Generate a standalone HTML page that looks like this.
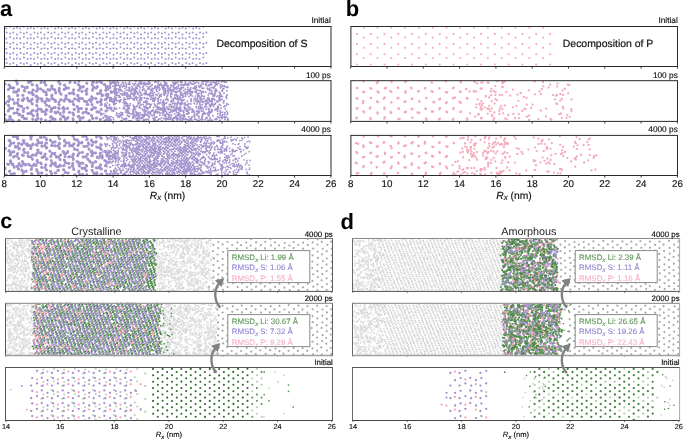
<!DOCTYPE html>
<html><head><meta charset="utf-8"><style>
html,body{margin:0;padding:0;background:#fff;width:685px;height:439px;overflow:hidden}
svg{display:block;will-change:transform}
text{font-family:"Liberation Sans",sans-serif;text-rendering:geometricPrecision}
</style></head><body>
<svg width="685" height="439" viewBox="0 0 685 439">
<rect width="685" height="439" fill="#fff"/>
<defs><filter id="bl" x="0" y="0" width="1" height="1"><feGaussianBlur stdDeviation="0.3"/></filter></defs>
<g filter="url(#bl)"><path stroke="#a394cd" stroke-width="2.0" stroke-linecap="round" fill="none" d="M6.3 28.4h0M10.1 26.8h0M13.8 28.4h0M16.9 27.8h0M20.1 28.4h0M23.9 26.8h0M27.6 28.4h0M30.7 27.8h0M33.9 28.4h0M37.7 26.8h0M41.4 28.4h0M44.5 27.8h0M47.7 28.4h0M51.5 26.8h0M55.2 28.4h0M58.3 27.8h0M61.5 28.4h0M65.3 26.8h0M69.0 28.4h0M72.1 27.8h0M75.3 28.4h0M79.1 26.8h0M82.8 28.4h0M85.9 27.8h0M89.1 28.4h0M92.9 26.8h0M96.6 28.4h0M99.7 27.8h0M102.9 28.4h0M106.7 26.8h0M110.4 28.4h0M113.5 27.8h0M116.7 28.4h0M120.5 26.8h0M124.2 28.4h0M127.3 27.8h0M130.5 28.4h0M134.3 26.8h0M138.0 28.4h0M141.1 27.8h0M144.3 28.4h0M148.1 26.8h0M151.8 28.4h0M154.9 27.8h0M158.1 28.4h0M161.9 26.8h0M165.6 28.4h0M168.7 27.8h0M171.9 28.4h0M175.7 26.8h0M179.4 28.4h0M182.5 27.8h0M185.7 28.4h0M189.5 26.8h0M193.2 28.4h0M196.3 27.8h0M199.5 28.4h0M203.3 26.8h0M6.8 32.5h0M10.1 33.5h0M13.2 32.5h0M16.9 34.4h0M6.3 38.6h0M10.1 37.0h0M13.8 38.6h0M16.9 38.0h0M20.6 32.5h0M23.9 33.5h0M27.0 32.5h0M30.7 34.4h0M20.1 38.6h0M23.9 37.0h0M27.6 38.6h0M30.7 38.0h0M34.4 32.5h0M37.7 33.5h0M40.8 32.5h0M44.5 34.4h0M33.9 38.6h0M37.7 37.0h0M41.4 38.6h0M44.5 38.0h0M48.2 32.5h0M51.5 33.5h0M54.6 32.5h0M58.3 34.4h0M47.7 38.6h0M51.5 37.0h0M55.2 38.6h0M58.3 38.0h0M62.0 32.5h0M65.3 33.5h0M68.4 32.5h0M72.1 34.4h0M61.5 38.6h0M65.3 37.0h0M69.0 38.6h0M72.1 38.0h0M75.8 32.5h0M79.1 33.5h0M82.2 32.5h0M85.9 34.4h0M75.3 38.6h0M79.1 37.0h0M82.8 38.6h0M85.9 38.0h0M89.6 32.5h0M92.9 33.5h0M96.0 32.5h0M99.7 34.4h0M89.1 38.6h0M92.9 37.0h0M96.6 38.6h0M99.7 38.0h0M103.4 32.5h0M106.7 33.5h0M109.8 32.5h0M113.5 34.4h0M102.9 38.6h0M106.7 37.0h0M110.4 38.6h0M113.5 38.0h0M117.2 32.5h0M120.5 33.5h0M123.6 32.5h0M127.3 34.4h0M116.7 38.6h0M120.5 37.0h0M124.2 38.6h0M127.3 38.0h0M131.0 32.5h0M134.3 33.5h0M137.4 32.5h0M141.1 34.4h0M130.5 38.6h0M134.3 37.0h0M138.0 38.6h0M141.1 38.0h0M144.8 32.5h0M148.1 33.5h0M151.2 32.5h0M154.9 34.4h0M144.3 38.6h0M148.1 37.0h0M151.8 38.6h0M154.9 38.0h0M158.6 32.5h0M161.9 33.5h0M165.0 32.5h0M168.7 34.4h0M158.1 38.6h0M161.9 37.0h0M165.6 38.6h0M168.7 38.0h0M172.4 32.5h0M175.7 33.5h0M178.8 32.5h0M182.5 34.4h0M171.9 38.6h0M175.7 37.0h0M179.4 38.6h0M182.5 38.0h0M186.2 32.5h0M189.5 33.5h0M192.6 32.5h0M196.3 34.4h0M185.7 38.6h0M189.5 37.0h0M193.2 38.6h0M196.3 38.0h0M200.0 32.5h0M203.3 33.5h0M206.4 32.5h0M199.5 38.6h0M203.3 37.0h0M6.8 42.7h0M10.1 43.7h0M13.2 42.7h0M16.9 44.6h0M6.3 48.8h0M10.1 47.2h0M13.8 48.8h0M16.9 48.2h0M20.6 42.7h0M23.9 43.7h0M27.0 42.7h0M30.7 44.6h0M20.1 48.8h0M23.9 47.2h0M27.6 48.8h0M30.7 48.2h0M34.4 42.7h0M37.7 43.7h0M40.8 42.7h0M44.5 44.6h0M33.9 48.8h0M37.7 47.2h0M41.4 48.8h0M44.5 48.2h0M48.2 42.7h0M51.5 43.7h0M54.6 42.7h0M58.3 44.6h0M47.7 48.8h0M51.5 47.2h0M55.2 48.8h0M58.3 48.2h0M62.0 42.7h0M65.3 43.7h0M68.4 42.7h0M72.1 44.6h0M61.5 48.8h0M65.3 47.2h0M69.0 48.8h0M72.1 48.2h0M75.8 42.7h0M79.1 43.7h0M82.2 42.7h0M85.9 44.6h0M75.3 48.8h0M79.1 47.2h0M82.8 48.8h0M85.9 48.2h0M89.6 42.7h0M92.9 43.7h0M96.0 42.7h0M99.7 44.6h0M89.1 48.8h0M92.9 47.2h0M96.6 48.8h0M99.7 48.2h0M103.4 42.7h0M106.7 43.7h0M109.8 42.7h0M113.5 44.6h0M102.9 48.8h0M106.7 47.2h0M110.4 48.8h0M113.5 48.2h0M117.2 42.7h0M120.5 43.7h0M123.6 42.7h0M127.3 44.6h0M116.7 48.8h0M120.5 47.2h0M124.2 48.8h0M127.3 48.2h0M131.0 42.7h0M134.3 43.7h0M137.4 42.7h0M141.1 44.6h0M130.5 48.8h0M134.3 47.2h0M138.0 48.8h0M141.1 48.2h0M144.8 42.7h0M148.1 43.7h0M151.2 42.7h0M154.9 44.6h0M144.3 48.8h0M148.1 47.2h0M151.8 48.8h0M154.9 48.2h0M158.6 42.7h0M161.9 43.7h0M165.0 42.7h0M168.7 44.6h0M158.1 48.8h0M161.9 47.2h0M165.6 48.8h0M168.7 48.2h0M172.4 42.7h0M175.7 43.7h0M178.8 42.7h0M182.5 44.6h0M171.9 48.8h0M175.7 47.2h0M179.4 48.8h0M182.5 48.2h0M186.2 42.7h0M189.5 43.7h0M192.6 42.7h0M196.3 44.6h0M185.7 48.8h0M189.5 47.2h0M193.2 48.8h0M196.3 48.2h0M200.0 42.7h0M203.3 43.7h0M206.4 42.7h0M199.5 48.8h0M203.3 47.2h0M6.8 52.9h0M10.1 53.9h0M13.2 52.9h0M16.9 54.8h0M6.3 59.0h0M10.1 57.4h0M13.8 59.0h0M16.9 58.4h0M20.6 52.9h0M23.9 53.9h0M27.0 52.9h0M30.7 54.8h0M20.1 59.0h0M23.9 57.4h0M27.6 59.0h0M30.7 58.4h0M34.4 52.9h0M37.7 53.9h0M40.8 52.9h0M44.5 54.8h0M33.9 59.0h0M37.7 57.4h0M41.4 59.0h0M44.5 58.4h0M48.2 52.9h0M51.5 53.9h0M54.6 52.9h0M58.3 54.8h0M47.7 59.0h0M51.5 57.4h0M55.2 59.0h0M58.3 58.4h0M62.0 52.9h0M65.3 53.9h0M68.4 52.9h0M72.1 54.8h0M61.5 59.0h0M65.3 57.4h0M69.0 59.0h0M72.1 58.4h0M75.8 52.9h0M79.1 53.9h0M82.2 52.9h0M85.9 54.8h0M75.3 59.0h0M79.1 57.4h0M82.8 59.0h0M85.9 58.4h0M89.6 52.9h0M92.9 53.9h0M96.0 52.9h0M99.7 54.8h0M89.1 59.0h0M92.9 57.4h0M96.6 59.0h0M99.7 58.4h0M103.4 52.9h0M106.7 53.9h0M109.8 52.9h0M113.5 54.8h0M102.9 59.0h0M106.7 57.4h0M110.4 59.0h0M113.5 58.4h0M117.2 52.9h0M120.5 53.9h0M123.6 52.9h0M127.3 54.8h0M116.7 59.0h0M120.5 57.4h0M124.2 59.0h0M127.3 58.4h0M131.0 52.9h0M134.3 53.9h0M137.4 52.9h0M141.1 54.8h0M130.5 59.0h0M134.3 57.4h0M138.0 59.0h0M141.1 58.4h0M144.8 52.9h0M148.1 53.9h0M151.2 52.9h0M154.9 54.8h0M144.3 59.0h0M148.1 57.4h0M151.8 59.0h0M154.9 58.4h0M158.6 52.9h0M161.9 53.9h0M165.0 52.9h0M168.7 54.8h0M158.1 59.0h0M161.9 57.4h0M165.6 59.0h0M168.7 58.4h0M172.4 52.9h0M175.7 53.9h0M178.8 52.9h0M182.5 54.8h0M171.9 59.0h0M175.7 57.4h0M179.4 59.0h0M182.5 58.4h0M186.2 52.9h0M189.5 53.9h0M192.6 52.9h0M196.3 54.8h0M185.7 59.0h0M189.5 57.4h0M193.2 59.0h0M196.3 58.4h0M200.0 52.9h0M203.3 53.9h0M206.4 52.9h0M199.5 59.0h0M203.3 57.4h0M6.8 63.1h0M10.1 64.1h0M13.2 63.1h0M16.9 65.0h0M20.6 63.1h0M23.9 64.1h0M27.0 63.1h0M30.7 65.0h0M34.4 63.1h0M37.7 64.1h0M40.8 63.1h0M44.5 65.0h0M48.2 63.1h0M51.5 64.1h0M54.6 63.1h0M58.3 65.0h0M62.0 63.1h0M65.3 64.1h0M68.4 63.1h0M72.1 65.0h0M75.8 63.1h0M79.1 64.1h0M82.2 63.1h0M85.9 65.0h0M89.6 63.1h0M92.9 64.1h0M96.0 63.1h0M99.7 65.0h0M103.4 63.1h0M106.7 64.1h0M109.8 63.1h0M113.5 65.0h0M117.2 63.1h0M120.5 64.1h0M123.6 63.1h0M127.3 65.0h0M131.0 63.1h0M134.3 64.1h0M137.4 63.1h0M141.1 65.0h0M144.8 63.1h0M148.1 64.1h0M151.2 63.1h0M154.9 65.0h0M158.6 63.1h0M161.9 64.1h0M165.0 63.1h0M168.7 65.0h0M172.4 63.1h0M175.7 64.1h0M178.8 63.1h0M182.5 65.0h0M186.2 63.1h0M189.5 64.1h0M192.6 63.1h0M196.3 65.0h0M200.0 63.1h0M203.3 64.1h0M206.4 63.1h0"/>
<path stroke="#a394cd" stroke-width="3.0" stroke-linecap="round" fill="none" d="M78.9 81.3h0M92.6 81.9h0M93.5 81.9h0M5.0 84.1h0M11.3 87.5h0M10.3 87.5h0M13.7 87.8h0M13.2 88.2h0M8.4 89.6h0M8.6 89.2h0M8.9 85.1h0M9.5 85.2h0M16.6 81.2h0M16.0 81.1h0M17.5 83.6h0M17.2 83.9h0M25.2 88.0h0M25.0 87.5h0M27.3 87.6h0M27.3 86.9h0M24.6 91.1h0M24.2 90.4h0M22.4 86.4h0M22.1 86.3h0M30.5 81.6h0M31.1 81.3h0M28.4 81.4h0M28.8 82.5h0M32.5 84.8h0M32.0 84.6h0M38.0 88.9h0M37.8 88.0h0M41.0 89.1h0M40.8 88.9h0M36.9 90.9h0M36.3 90.9h0M36.9 85.3h0M36.9 85.6h0M44.7 82.0h0M44.4 82.4h0M41.0 82.4h0M41.2 82.1h0M45.7 85.0h0M45.9 84.9h0M53.0 89.0h0M51.7 88.0h0M54.9 90.1h0M54.9 89.8h0M49.7 90.1h0M49.5 90.2h0M51.7 85.9h0M52.1 86.0h0M58.5 81.4h0M58.9 81.2h0M59.9 83.8h0M60.2 84.0h0M65.9 88.4h0M66.1 87.5h0M68.4 88.1h0M68.5 88.0h0M64.1 89.4h0M64.1 89.3h0M64.7 84.9h0M64.4 85.0h0M70.0 82.1h0M69.9 82.4h0M75.0 82.4h0M75.1 82.5h0M80.1 86.7h0M80.2 88.1h0M83.4 86.6h0M82.7 86.9h0M79.2 89.8h0M78.6 90.3h0M79.0 84.9h0M78.3 84.5h0M86.7 83.3h0M86.9 83.2h0M93.4 86.9h0M94.0 87.3h0M96.3 87.9h0M97.4 86.6h0M92.5 90.3h0M92.7 89.5h0M92.2 84.4h0M92.2 84.4h0M100.2 81.5h0M100.0 81.5h0M97.0 82.2h0M96.8 82.6h0M101.5 82.8h0M101.7 82.8h0M106.9 86.6h0M106.4 87.7h0M109.7 86.5h0M110.0 87.4h0M106.0 90.2h0M105.7 90.3h0M104.4 84.4h0M104.7 84.4h0M114.2 82.5h0M113.6 82.1h0M110.8 83.4h0M111.1 82.9h0M115.9 84.4h0M115.6 85.6h0M9.7 98.7h0M9.7 99.0h0M12.7 99.4h0M12.9 99.4h0M8.7 101.6h0M7.7 101.3h0M8.8 96.5h0M9.1 96.5h0M16.9 91.6h0M16.5 92.3h0M13.7 92.1h0M14.4 91.8h0M18.4 90.8h0M18.6 89.6h0M17.9 95.3h0M17.5 95.4h0M23.9 98.9h0M23.7 98.4h0M27.3 98.0h0M27.5 98.3h0M22.8 100.6h0M22.1 100.3h0M22.7 95.3h0M23.0 95.2h0M32.0 92.2h0M31.9 92.7h0M29.4 92.7h0M28.8 92.3h0M33.2 89.9h0M32.9 89.9h0M33.4 94.4h0M32.9 94.7h0M37.9 98.9h0M38.1 97.8h0M40.9 98.7h0M41.7 98.7h0M36.8 100.6h0M37.2 101.7h0M36.6 96.0h0M36.0 96.4h0M45.6 92.0h0M46.1 92.4h0M43.6 91.4h0M43.2 90.8h0M48.3 89.8h0M47.9 89.6h0M46.5 94.7h0M46.2 94.8h0M51.8 98.4h0M52.5 98.4h0M54.1 99.5h0M54.6 100.0h0M48.6 99.8h0M49.3 100.4h0M51.6 96.0h0M52.0 95.1h0M59.0 91.2h0M59.4 91.6h0M55.6 92.9h0M55.6 92.5h0M59.2 89.4h0M59.3 88.3h0M61.1 94.3h0M60.7 93.7h0M65.5 98.4h0M66.3 98.7h0M68.9 100.1h0M69.6 100.6h0M64.2 101.0h0M64.0 100.5h0M66.2 95.8h0M65.8 95.8h0M72.0 93.0h0M73.3 92.7h0M69.2 93.3h0M69.4 93.4h0M73.5 90.0h0M73.6 89.7h0M74.0 93.9h0M74.0 94.0h0M79.0 98.1h0M79.9 98.2h0M82.4 98.5h0M81.9 98.5h0M77.6 99.4h0M78.8 100.9h0M77.6 95.4h0M77.9 95.3h0M86.4 91.2h0M85.6 90.8h0M82.0 91.6h0M82.1 91.3h0M87.0 89.1h0M86.9 89.3h0M86.4 94.2h0M86.8 93.8h0M92.8 98.4h0M92.5 98.1h0M95.7 98.2h0M95.9 98.6h0M91.3 100.8h0M91.0 101.4h0M91.6 96.8h0M91.7 96.7h0M100.6 93.5h0M100.1 93.2h0M97.5 93.6h0M97.6 93.8h0M100.9 90.6h0M100.4 91.1h0M102.8 95.2h0M102.3 94.9h0M107.3 97.5h0M107.7 97.1h0M110.4 98.7h0M110.3 98.0h0M105.3 99.6h0M105.9 99.4h0M106.5 94.1h0M106.4 94.5h0M114.3 91.3h0M114.4 91.4h0M111.0 91.6h0M111.7 91.9h0M114.9 88.8h0M114.8 88.6h0M116.1 93.5h0M115.0 93.3h0M4.9 103.3h0M5.4 103.2h0M9.7 108.2h0M10.6 108.2h0M12.6 108.3h0M12.5 108.4h0M8.7 110.2h0M8.3 110.9h0M8.6 105.5h0M8.4 105.2h0M17.2 103.0h0M17.7 103.1h0M14.4 103.4h0M14.2 102.8h0M18.2 100.1h0M18.2 99.4h0M19.1 105.4h0M18.6 105.4h0M24.0 108.5h0M23.8 108.7h0M27.4 107.4h0M27.6 108.0h0M23.4 111.5h0M23.1 110.6h0M21.2 106.4h0M21.6 106.3h0M30.6 100.6h0M30.7 101.0h0M28.7 100.9h0M28.2 100.4h0M32.3 99.1h0M31.9 99.4h0M32.0 103.5h0M32.3 104.1h0M38.7 109.0h0M38.2 108.7h0M41.0 109.3h0M40.7 109.3h0M36.9 111.2h0M36.0 111.1h0M36.9 105.8h0M36.7 105.3h0M45.4 101.4h0M44.9 102.5h0M42.1 100.9h0M42.3 100.7h0M47.7 99.9h0M47.0 98.7h0M46.5 105.1h0M46.3 105.1h0M52.2 108.5h0M51.2 108.7h0M55.2 107.5h0M54.1 107.4h0M51.4 110.9h0M50.7 111.4h0M49.3 106.2h0M49.1 106.3h0M59.0 102.2h0M59.1 101.9h0M55.5 101.5h0M55.4 100.4h0M61.2 99.8h0M60.7 99.6h0M58.9 104.3h0M59.2 104.8h0M64.0 109.5h0M64.3 108.9h0M67.6 108.4h0M67.4 108.3h0M63.6 112.3h0M63.6 111.8h0M63.4 107.3h0M62.8 107.9h0M72.4 101.4h0M72.6 101.6h0M69.7 101.4h0M69.3 101.0h0M74.6 99.0h0M74.8 98.7h0M73.9 104.7h0M73.4 104.3h0M79.4 108.6h0M78.5 109.0h0M81.4 108.5h0M81.3 108.5h0M78.4 111.5h0M78.3 111.4h0M77.0 106.8h0M77.3 106.5h0M86.9 101.5h0M86.7 101.8h0M84.8 101.3h0M84.4 100.9h0M89.4 99.8h0M89.9 99.4h0M87.9 104.5h0M87.3 104.4h0M93.6 107.5h0M93.4 107.9h0M95.4 108.1h0M95.5 107.8h0M91.4 109.6h0M91.8 109.6h0M92.0 104.7h0M92.1 104.5h0M100.1 101.7h0M100.7 101.9h0M97.2 101.9h0M97.4 102.3h0M101.4 99.9h0M101.1 99.4h0M101.1 104.8h0M101.4 104.2h0M107.4 107.8h0M107.4 107.7h0M111.1 108.2h0M110.2 107.7h0M106.0 111.1h0M105.9 110.9h0M105.5 105.8h0M105.9 105.5h0M114.1 100.9h0M113.4 101.8h0M111.1 100.6h0M110.2 100.6h0M115.3 98.6h0M115.4 98.7h0M114.2 104.1h0M114.4 103.7h0M5.1 114.8h0M9.9 119.1h0M10.1 118.6h0M13.0 120.9h0M12.3 119.9h0M8.0 120.4h0M7.0 120.9h0M9.7 116.4h0M10.4 116.6h0M16.7 112.8h0M17.2 112.5h0M13.9 113.3h0M14.2 113.1h0M18.2 109.5h0M17.4 109.3h0M19.0 114.7h0M19.7 114.3h0M24.2 118.5h0M24.0 118.2h0M26.4 118.7h0M26.4 118.6h0M22.7 115.7h0M21.9 116.4h0M31.4 113.8h0M30.9 112.3h0M27.9 113.5h0M28.6 113.4h0M32.3 110.4h0M32.9 110.2h0M33.4 115.7h0M33.0 115.6h0M38.0 118.0h0M37.9 118.5h0M41.2 119.3h0M41.3 119.0h0M36.1 119.6h0M36.2 120.2h0M37.2 115.6h0M37.6 114.2h0M44.7 111.7h0M45.0 112.0h0M42.0 111.4h0M42.0 111.0h0M47.0 110.0h0M46.3 109.5h0M45.4 114.4h0M46.0 114.0h0M52.3 119.2h0M52.6 118.3h0M55.1 119.3h0M54.6 119.0h0M49.7 120.9h0M50.5 117.0h0M51.1 116.4h0M57.8 111.8h0M58.0 111.9h0M55.8 113.0h0M55.0 112.2h0M58.6 108.1h0M59.3 108.4h0M60.3 113.6h0M60.3 114.3h0M64.8 118.1h0M65.5 119.4h0M67.5 118.3h0M68.0 117.6h0M62.6 116.4h0M63.4 116.0h0M73.0 113.4h0M72.8 112.9h0M69.3 112.5h0M69.6 112.3h0M74.5 109.6h0M74.1 109.2h0M73.6 114.9h0M73.4 114.6h0M80.4 117.9h0M80.1 118.5h0M82.4 118.0h0M83.2 117.5h0M80.0 120.6h0M78.9 116.2h0M78.2 116.4h0M86.3 112.2h0M85.9 111.7h0M83.3 112.6h0M82.9 113.0h0M86.3 108.7h0M86.6 109.0h0M88.8 113.5h0M88.3 113.5h0M92.5 118.3h0M93.0 118.5h0M96.3 117.9h0M96.7 118.1h0M91.5 115.5h0M91.6 115.7h0M98.6 111.9h0M99.2 111.9h0M97.4 111.8h0M96.9 111.7h0M101.2 109.4h0M101.1 109.3h0M101.4 114.2h0M101.4 114.1h0M107.5 118.8h0M106.8 119.4h0M110.5 119.8h0M110.0 120.4h0M104.8 120.7h0M105.5 116.1h0M106.1 115.9h0M5.1 119.7h0M5.0 119.1h0M18.7 120.4h0M19.4 120.4h0M32.6 119.0h0M32.9 119.2h0M45.5 120.3h0M45.8 120.5h0M60.5 119.1h0M60.5 119.2h0M73.2 119.4h0M73.0 118.8h0M89.1 120.7h0M89.6 120.4h0M100.3 119.4h0M100.5 119.2h0M10.8 143.1h0M11.0 143.4h0M13.5 143.0h0M13.8 142.9h0M9.7 145.8h0M9.9 145.6h0M9.0 140.5h0M9.9 140.4h0M17.5 136.4h0M16.6 136.7h0M13.9 136.5h0M13.3 136.6h0M17.8 138.6h0M17.5 138.8h0M24.1 143.1h0M23.9 142.3h0M27.0 143.7h0M26.6 144.4h0M21.7 144.4h0M21.5 144.2h0M24.0 140.5h0M23.3 140.4h0M30.7 136.8h0M31.8 136.1h0M31.0 139.1h0M30.9 138.6h0M39.5 142.7h0M38.2 142.6h0M41.7 142.5h0M41.7 143.0h0M37.1 145.2h0M36.4 144.5h0M37.6 140.0h0M37.8 140.3h0M44.2 136.8h0M44.3 136.9h0M40.3 137.2h0M41.3 137.5h0M46.4 138.8h0M46.6 139.4h0M52.6 142.8h0M52.7 142.6h0M54.8 141.8h0M55.2 142.1h0M51.5 145.5h0M52.1 145.5h0M50.6 140.4h0M50.2 139.9h0M58.3 136.1h0M59.3 138.4h0M59.6 138.8h0M66.2 143.1h0M66.1 142.7h0M68.9 142.7h0M69.0 143.3h0M64.5 145.7h0M65.0 145.6h0M64.5 140.3h0M64.4 140.9h0M73.3 136.3h0M72.7 136.0h0M74.3 139.0h0M74.4 139.2h0M79.1 143.0h0M78.8 142.2h0M81.9 142.3h0M81.7 142.9h0M78.3 144.9h0M78.0 145.4h0M77.6 140.1h0M76.7 140.0h0M86.1 136.4h0M85.6 136.3h0M82.8 136.2h0M87.3 139.0h0M86.7 139.6h0M93.0 142.2h0M93.1 141.9h0M96.2 141.5h0M95.7 142.2h0M92.0 145.4h0M92.3 144.9h0M91.5 140.4h0M91.3 140.1h0M99.8 136.2h0M99.9 136.6h0M96.5 136.9h0M96.6 136.5h0M100.8 137.9h0M101.4 138.2h0M114.2 136.5h0M114.0 136.5h0M111.0 136.2h0M114.7 139.3h0M115.6 138.6h0M5.0 148.8h0M5.5 148.2h0M10.3 152.3h0M11.0 153.3h0M13.9 151.7h0M13.1 151.8h0M10.0 155.1h0M10.5 154.9h0M9.2 150.4h0M8.9 151.0h0M18.0 146.5h0M17.1 147.1h0M15.4 147.1h0M15.5 146.3h0M18.3 143.5h0M18.8 143.2h0M19.1 148.9h0M19.4 148.2h0M24.8 152.5h0M24.6 152.6h0M27.8 153.1h0M27.8 152.5h0M23.3 155.4h0M22.4 155.0h0M24.1 149.1h0M23.5 149.9h0M30.3 145.8h0M31.2 146.6h0M27.6 145.7h0M28.3 145.0h0M33.3 144.6h0M32.8 143.9h0M30.6 148.8h0M30.8 148.6h0M38.4 152.3h0M37.8 152.5h0M40.9 153.4h0M41.0 152.7h0M36.2 153.9h0M36.0 155.2h0M38.1 150.0h0M37.7 149.9h0M44.9 145.6h0M44.8 145.4h0M41.8 146.3h0M42.3 146.2h0M46.6 142.9h0M45.8 142.9h0M46.2 148.0h0M46.9 147.6h0M52.6 153.4h0M52.2 153.4h0M54.8 153.3h0M54.4 153.9h0M50.9 156.0h0M50.7 156.4h0M49.8 151.0h0M50.1 151.2h0M57.9 145.9h0M58.4 145.5h0M55.2 145.8h0M54.9 145.7h0M59.6 143.4h0M59.2 143.3h0M59.1 147.5h0M59.5 148.4h0M64.4 153.4h0M65.6 153.8h0M67.7 151.5h0M67.5 152.4h0M65.0 156.6h0M65.1 156.5h0M63.1 151.6h0M63.8 151.9h0M72.7 146.1h0M71.6 145.4h0M69.6 146.1h0M70.0 145.7h0M74.1 143.8h0M73.7 143.9h0M74.5 149.2h0M74.4 148.7h0M79.4 152.7h0M79.3 152.9h0M82.3 152.4h0M82.5 152.3h0M78.2 154.6h0M77.7 155.7h0M77.4 150.0h0M77.2 149.7h0M87.2 145.9h0M87.3 146.3h0M83.9 146.2h0M84.8 146.4h0M88.3 142.7h0M89.0 143.9h0M89.0 149.3h0M89.1 148.9h0M92.2 153.4h0M93.0 152.9h0M95.5 152.8h0M95.5 152.9h0M91.7 155.8h0M92.2 155.7h0M91.0 151.7h0M92.0 151.0h0M99.8 147.8h0M99.9 147.2h0M96.7 147.1h0M97.2 147.2h0M101.4 144.7h0M101.3 145.0h0M100.6 148.8h0M101.3 149.5h0M107.1 153.3h0M107.1 153.0h0M109.8 151.5h0M109.4 152.0h0M106.9 155.8h0M106.9 155.8h0M104.7 151.5h0M105.4 151.3h0M10.9 162.8h0M10.6 162.8h0M12.2 164.5h0M12.7 164.0h0M7.6 163.9h0M8.3 164.4h0M10.6 160.7h0M10.3 160.7h0M16.3 156.0h0M17.1 155.8h0M13.9 156.5h0M13.5 157.0h0M17.3 154.0h0M17.7 153.4h0M18.7 158.3h0M18.7 158.6h0M23.1 163.7h0M23.5 163.6h0M26.0 164.4h0M25.4 165.0h0M21.0 166.1h0M21.8 165.7h0M22.5 161.8h0M22.4 161.6h0M31.2 157.0h0M30.7 156.8h0M28.4 156.5h0M28.1 156.0h0M32.5 155.1h0M33.3 154.9h0M32.5 159.2h0M32.4 158.9h0M37.9 162.2h0M37.8 162.4h0M41.2 163.7h0M40.7 163.1h0M36.1 165.0h0M36.0 165.5h0M37.3 160.3h0M37.0 160.9h0M44.7 156.8h0M44.1 156.0h0M42.0 157.3h0M42.2 157.5h0M45.0 154.2h0M45.2 154.0h0M46.4 159.2h0M47.1 158.8h0M53.1 163.4h0M52.0 163.0h0M55.4 163.2h0M55.4 162.8h0M50.8 165.2h0M50.7 165.8h0M51.2 160.6h0M51.3 160.7h0M58.7 156.7h0M58.7 157.3h0M56.0 156.3h0M56.4 156.9h0M60.7 155.1h0M60.6 154.7h0M60.1 159.4h0M60.1 159.7h0M65.2 162.6h0M65.6 162.8h0M68.2 163.3h0M69.0 163.6h0M64.1 165.5h0M63.6 165.7h0M64.6 160.3h0M64.1 160.1h0M72.2 156.7h0M72.8 157.1h0M69.5 156.6h0M68.7 156.9h0M73.5 154.1h0M73.1 154.4h0M73.3 159.5h0M73.2 158.6h0M79.0 164.3h0M80.0 163.5h0M81.6 163.0h0M82.9 163.2h0M79.5 165.9h0M79.2 165.7h0M78.4 162.2h0M77.0 161.4h0M85.8 156.7h0M86.0 156.5h0M83.6 156.9h0M83.1 157.0h0M87.4 154.3h0M87.6 154.3h0M87.8 159.2h0M87.8 158.9h0M93.0 163.1h0M92.8 163.4h0M95.8 161.7h0M95.5 161.5h0M92.3 166.6h0M92.3 165.6h0M90.3 161.9h0M89.6 160.9h0M100.4 156.0h0M100.1 156.3h0M97.4 157.4h0M97.2 157.1h0M100.5 153.3h0M100.1 153.6h0M102.4 157.4h0M101.9 157.7h0M106.9 162.8h0M107.1 162.8h0M109.5 162.3h0M109.4 161.8h0M105.3 165.7h0M106.0 165.1h0M104.7 160.5h0M104.9 160.7h0M114.2 156.4h0M114.7 156.3h0M110.1 156.2h0M109.8 156.0h0M114.6 153.7h0M115.2 153.4h0M115.5 158.4h0M115.5 158.3h0M5.0 168.7h0M5.1 168.1h0M11.6 173.9h0M11.0 173.9h0M14.4 173.6h0M14.2 173.5h0M9.7 171.0h0M9.4 171.2h0M17.5 166.2h0M17.2 166.4h0M14.2 167.2h0M14.2 166.6h0M18.9 164.5h0M19.2 163.5h0M18.6 168.8h0M18.2 169.0h0M23.2 171.7h0M23.5 172.3h0M26.2 171.2h0M25.9 171.0h0M22.9 174.7h0M21.9 170.4h0M21.8 169.9h0M32.1 166.3h0M31.8 166.3h0M28.7 164.2h0M29.4 165.0h0M34.2 164.3h0M33.7 165.1h0M31.5 169.1h0M31.2 169.4h0M38.3 173.8h0M38.2 172.6h0M41.2 172.9h0M42.1 173.1h0M37.0 170.7h0M36.7 169.6h0M45.1 167.6h0M45.2 167.4h0M42.0 167.6h0M41.6 167.3h0M45.8 165.1h0M45.8 164.8h0M46.4 169.9h0M46.7 170.1h0M51.6 174.1h0M51.6 173.6h0M55.1 173.0h0M55.8 173.1h0M50.3 171.2h0M50.7 171.6h0M58.3 166.8h0M57.5 166.7h0M55.9 165.9h0M54.7 164.8h0M60.0 165.1h0M60.6 165.8h0M58.5 170.3h0M57.8 170.4h0M65.5 172.6h0M65.2 172.6h0M68.3 173.0h0M68.0 173.1h0M62.9 174.9h0M63.9 169.8h0M63.4 169.7h0M72.2 166.0h0M72.7 166.3h0M69.5 167.5h0M69.3 167.5h0M72.7 163.2h0M72.9 164.3h0M73.7 168.7h0M73.7 169.4h0M79.5 174.2h0M79.4 173.8h0M82.2 174.8h0M82.8 174.5h0M78.9 171.1h0M78.7 171.7h0M84.4 167.9h0M85.2 168.5h0M82.0 168.0h0M82.5 168.4h0M86.7 166.0h0M86.2 165.3h0M86.5 170.7h0M86.2 170.6h0M93.6 173.1h0M94.1 173.4h0M96.6 172.6h0M96.6 173.8h0M92.4 170.6h0M92.0 170.3h0M99.6 166.8h0M98.8 167.6h0M96.3 167.7h0M97.0 168.0h0M100.6 164.7h0M100.6 165.0h0M101.5 168.7h0M101.4 169.0h0M106.8 174.0h0M107.3 174.5h0M110.3 174.0h0M110.2 174.7h0M105.6 171.1h0M105.6 170.7h0M6.2 174.8h0M32.0 174.0h0M31.5 173.4h0M46.6 175.0h0M46.4 175.0h0M75.4 174.7h0M74.6 174.8h0M86.7 174.4h0M101.9 174.4h0M101.1 174.2h0"/>
<path stroke="#a394cd" stroke-width="1.9" stroke-linecap="round" fill="none" d="M100.7 93.7h0M101.5 96.4h0M103.4 117.4h0M103.1 118.1h0M103.6 84.8h0M103.9 113.6h0M104.9 104.0h0M105.2 104.2h0M105.5 95.8h0M105.6 87.0h0M106.3 117.1h0M106.8 86.9h0M106.8 88.8h0M107.1 102.7h0M107.3 94.1h0M107.7 110.2h0M107.6 86.7h0M107.9 96.5h0M108.4 95.4h0M108.1 89.7h0M108.9 120.5h0M108.6 116.4h0M108.8 88.9h0M108.6 94.0h0M109.4 105.0h0M109.2 86.4h0M109.2 118.0h0M109.6 81.2h0M109.6 104.5h0M109.7 117.4h0M109.6 85.3h0M110.2 108.7h0M110.2 107.8h0M111.2 101.4h0M111.4 98.9h0M111.0 109.2h0M111.1 116.6h0M111.1 92.7h0M111.1 93.0h0M111.8 110.6h0M111.6 98.0h0M112.2 92.4h0M112.8 110.6h0M113.0 117.6h0M113.0 86.3h0M113.4 99.3h0M113.6 111.3h0M113.6 119.4h0M113.6 102.2h0M113.8 101.1h0M114.3 98.6h0M114.2 102.6h0M114.3 109.3h0M114.4 107.4h0M114.6 85.5h0M114.8 108.8h0M114.8 96.3h0M114.7 91.3h0M115.3 88.1h0M115.4 100.3h0M115.6 82.5h0M115.8 93.1h0M115.9 108.9h0M116.1 85.2h0M116.1 89.8h0M116.3 90.9h0M116.0 97.9h0M116.1 108.8h0M116.1 103.4h0M116.5 115.0h0M116.7 108.6h0M116.7 114.8h0M116.6 100.4h0M116.8 113.0h0M116.5 95.5h0M117.2 92.8h0M117.2 95.5h0M117.5 81.2h0M117.5 82.0h0M117.0 89.1h0M117.1 115.6h0M117.9 85.1h0M117.9 100.8h0M118.0 116.3h0M118.0 95.4h0M118.2 117.1h0M118.7 116.6h0M118.6 89.3h0M118.6 83.2h0M118.9 100.6h0M118.8 116.7h0M118.7 91.9h0M119.5 90.3h0M119.1 85.7h0M119.2 95.8h0M119.3 117.2h0M119.1 113.6h0M119.2 97.3h0M119.8 89.9h0M119.7 108.1h0M119.6 102.2h0M119.9 87.4h0M120.2 100.5h0M120.3 114.8h0M120.3 101.2h0M120.1 116.0h0M120.1 97.2h0M120.4 89.1h0M120.5 90.0h0M120.6 85.7h0M120.9 99.8h0M120.8 90.4h0M120.5 93.7h0M120.9 115.4h0M120.9 89.9h0M121.2 84.1h0M121.0 112.5h0M121.0 120.8h0M121.4 120.9h0M122.0 117.7h0M121.9 91.0h0M121.9 114.0h0M122.2 95.1h0M122.4 86.9h0M122.3 93.8h0M122.3 114.2h0M122.4 115.1h0M122.9 82.6h0M122.6 112.9h0M122.9 120.3h0M122.7 82.5h0M123.3 108.5h0M123.3 102.4h0M123.3 86.0h0M123.0 94.9h0M124.0 119.1h0M123.5 100.2h0M123.6 94.4h0M123.5 84.0h0M123.5 85.8h0M124.3 99.6h0M124.2 92.4h0M124.0 107.0h0M124.1 97.9h0M124.5 94.9h0M124.2 118.7h0M124.3 103.9h0M124.9 108.9h0M125.0 93.2h0M124.6 86.2h0M124.7 93.9h0M124.6 91.5h0M125.5 82.7h0M125.0 101.8h0M125.1 88.6h0M125.3 105.5h0M125.1 102.6h0M125.9 120.1h0M125.7 112.2h0M125.6 119.3h0M125.5 99.4h0M126.1 86.6h0M126.2 95.1h0M126.0 118.3h0M126.1 102.7h0M126.0 103.2h0M126.3 83.9h0M126.5 87.3h0M126.1 110.7h0M126.8 90.0h0M126.9 109.7h0M126.6 93.5h0M126.7 118.6h0M126.7 105.8h0M127.0 96.8h0M127.0 92.6h0M126.5 84.9h0M126.8 96.2h0M127.4 98.9h0M127.5 111.7h0M127.2 115.3h0M127.3 109.7h0M127.4 104.3h0M127.5 96.9h0M127.2 106.8h0M127.2 109.5h0M127.3 110.9h0M127.4 103.8h0M127.5 112.5h0M127.8 94.3h0M127.9 96.6h0M128.5 116.5h0M128.2 108.5h0M128.5 95.4h0M128.4 113.2h0M128.4 84.1h0M128.5 120.6h0M128.1 106.5h0M128.0 105.2h0M128.4 111.0h0M128.6 90.3h0M128.9 98.7h0M128.9 107.9h0M128.9 112.7h0M129.4 108.7h0M129.1 83.0h0M129.0 90.8h0M129.1 89.1h0M129.0 87.6h0M129.2 84.5h0M129.1 98.5h0M129.4 116.2h0M129.9 84.2h0M129.6 82.1h0M129.8 105.7h0M129.6 83.0h0M129.7 87.5h0M129.6 96.2h0M130.0 95.4h0M130.1 120.9h0M130.4 91.5h0M130.2 103.8h0M130.1 98.1h0M130.1 113.7h0M130.8 96.6h0M130.8 94.4h0M131.0 89.6h0M130.9 91.6h0M130.8 98.1h0M131.5 91.0h0M131.2 90.5h0M131.3 120.7h0M131.2 93.8h0M131.5 93.9h0M132.0 86.4h0M132.1 114.0h0M132.1 88.8h0M132.5 88.6h0M132.4 93.2h0M132.6 83.6h0M132.8 110.3h0M132.9 112.2h0M132.7 87.9h0M132.5 98.6h0M133.0 99.0h0M132.8 118.0h0M133.4 116.9h0M133.1 115.9h0M133.3 105.3h0M133.1 94.1h0M133.1 98.7h0M133.3 110.4h0M133.4 94.8h0M133.2 111.8h0M133.5 89.7h0M133.7 108.4h0M133.7 106.6h0M133.7 117.9h0M133.7 113.8h0M133.8 95.9h0M134.0 85.1h0M134.4 95.2h0M134.5 83.9h0M134.1 114.7h0M134.2 89.7h0M134.4 90.2h0M134.5 91.9h0M134.4 100.2h0M134.5 92.8h0M134.5 93.0h0M134.2 106.4h0M134.3 108.0h0M134.3 91.6h0M134.0 110.1h0M134.9 91.8h0M134.5 98.3h0M134.8 92.2h0M134.6 94.6h0M134.7 92.9h0M134.5 89.2h0M134.6 108.1h0M134.7 110.1h0M135.1 116.4h0M135.4 109.0h0M135.4 90.5h0M135.4 83.6h0M135.3 93.8h0M135.3 89.9h0M135.9 81.4h0M135.7 87.6h0M136.0 86.1h0M135.5 112.0h0M136.0 112.2h0M135.6 97.3h0M136.2 87.2h0M136.1 106.8h0M136.4 115.6h0M136.5 92.4h0M136.2 88.7h0M136.3 119.2h0M136.4 98.5h0M136.1 115.0h0M136.4 112.0h0M136.1 96.6h0M136.3 118.1h0M136.6 113.6h0M136.8 100.1h0M136.7 91.5h0M137.5 84.7h0M137.2 120.4h0M137.5 88.2h0M137.4 105.6h0M137.2 112.6h0M137.5 106.0h0M137.7 114.7h0M138.0 85.3h0M137.7 97.8h0M137.8 117.7h0M137.8 93.1h0M137.8 94.1h0M137.8 84.7h0M138.0 118.2h0M138.4 120.4h0M138.2 116.7h0M138.4 103.1h0M138.5 113.9h0M138.1 86.1h0M138.2 102.4h0M138.3 103.7h0M138.4 113.3h0M138.1 94.5h0M138.5 114.2h0M138.7 120.5h0M138.9 83.3h0M139.5 90.3h0M139.2 100.5h0M139.3 120.2h0M139.3 115.7h0M139.1 107.6h0M139.1 116.2h0M139.3 86.2h0M139.8 96.0h0M139.8 106.1h0M139.9 118.3h0M139.6 115.7h0M139.7 92.3h0M139.9 103.5h0M140.4 87.8h0M140.2 101.6h0M140.1 97.9h0M140.2 84.2h0M140.3 99.1h0M140.1 112.8h0M140.2 81.7h0M140.4 97.4h0M140.0 92.5h0M140.6 108.1h0M140.6 81.6h0M140.6 92.7h0M141.4 83.4h0M141.4 82.2h0M141.2 104.8h0M141.4 83.0h0M141.3 94.7h0M141.0 94.2h0M141.3 84.1h0M141.4 82.4h0M141.1 94.1h0M141.0 118.4h0M141.5 117.5h0M141.1 114.6h0M142.0 95.1h0M141.9 98.0h0M141.5 100.0h0M141.6 84.0h0M142.5 114.4h0M142.4 90.6h0M142.4 109.1h0M142.8 117.2h0M142.8 87.2h0M142.7 118.3h0M142.5 89.7h0M142.8 115.5h0M142.9 110.4h0M143.4 86.0h0M143.1 104.4h0M143.0 120.6h0M143.5 83.2h0M143.9 102.2h0M143.9 106.4h0M143.8 88.9h0M144.0 93.7h0M144.0 120.9h0M144.2 115.2h0M144.1 119.8h0M144.2 114.6h0M144.3 111.9h0M144.0 84.3h0M144.2 116.4h0M144.5 109.6h0M144.3 82.7h0M144.5 107.6h0M145.0 84.9h0M144.6 115.5h0M144.8 94.4h0M144.9 107.0h0M144.6 90.1h0M144.9 113.7h0M144.5 101.9h0M144.9 93.9h0M144.5 97.7h0M145.0 110.4h0M145.2 92.3h0M145.4 111.7h0M145.2 119.9h0M145.3 119.4h0M145.4 106.5h0M145.3 112.2h0M146.0 108.0h0M146.0 106.4h0M145.8 111.2h0M145.9 115.1h0M145.7 101.3h0M146.0 101.3h0M145.9 102.1h0M145.9 83.5h0M145.5 84.4h0M146.2 94.2h0M146.1 92.9h0M146.2 100.9h0M146.3 110.6h0M146.4 119.8h0M146.3 91.1h0M146.3 98.5h0M146.1 94.2h0M146.1 102.6h0M146.0 102.8h0M147.0 104.3h0M146.5 104.2h0M147.1 86.4h0M147.3 83.5h0M147.3 113.7h0M147.4 108.0h0M147.0 98.3h0M147.1 101.7h0M147.5 94.5h0M148.0 119.0h0M147.7 109.3h0M147.7 115.2h0M147.7 89.1h0M148.1 84.3h0M148.2 111.6h0M148.1 99.0h0M148.0 108.3h0M148.0 113.0h0M148.3 88.5h0M148.3 94.9h0M148.3 103.4h0M148.9 112.9h0M148.7 112.9h0M149.0 87.4h0M148.8 83.2h0M148.8 81.8h0M148.7 116.0h0M148.7 120.1h0M148.7 88.1h0M149.2 93.6h0M149.1 82.3h0M149.4 81.2h0M149.3 95.6h0M149.3 104.3h0M149.2 112.3h0M149.3 117.3h0M149.3 116.4h0M149.6 107.0h0M149.9 83.7h0M149.5 93.9h0M149.7 82.8h0M149.5 89.0h0M149.5 86.7h0M149.5 95.8h0M149.9 107.6h0M150.5 113.8h0M150.3 105.7h0M150.4 114.2h0M150.1 113.4h0M150.6 92.2h0M150.6 86.5h0M150.9 93.5h0M150.8 93.5h0M151.0 104.8h0M150.6 112.3h0M150.6 99.2h0M151.1 97.4h0M151.1 90.0h0M151.2 104.5h0M151.3 95.7h0M151.3 111.0h0M151.1 90.5h0M151.7 89.3h0M151.9 89.5h0M151.9 115.5h0M152.0 85.4h0M152.1 111.2h0M152.3 88.4h0M152.1 84.8h0M152.5 99.3h0M152.7 93.2h0M152.9 95.8h0M152.7 101.2h0M152.8 95.1h0M152.5 110.6h0M152.6 115.5h0M152.6 91.1h0M153.5 118.9h0M153.1 118.1h0M153.0 109.9h0M153.0 98.0h0M153.2 98.4h0M153.5 95.0h0M153.5 88.7h0M154.0 98.8h0M153.6 107.5h0M154.1 112.3h0M154.2 115.6h0M154.3 103.7h0M154.4 101.0h0M154.3 100.6h0M154.2 111.8h0M154.0 120.5h0M154.5 114.5h0M154.2 99.0h0M154.2 99.4h0M154.1 113.2h0M154.4 101.1h0M154.4 92.6h0M154.9 88.1h0M154.8 87.2h0M154.9 119.6h0M154.8 82.3h0M154.9 100.1h0M154.9 86.8h0M154.6 118.1h0M154.9 117.7h0M155.1 81.8h0M155.2 105.8h0M155.4 97.3h0M155.1 117.7h0M155.5 120.5h0M155.0 104.7h0M155.7 110.3h0M155.6 112.3h0M155.6 98.3h0M155.6 85.9h0M155.9 94.6h0M156.3 90.3h0M156.4 87.4h0M156.4 81.7h0M156.7 117.0h0M156.8 111.5h0M156.8 89.1h0M157.0 91.4h0M156.6 107.1h0M157.0 95.0h0M157.0 88.3h0M157.2 106.2h0M157.3 87.8h0M157.4 113.0h0M157.3 108.7h0M157.8 83.4h0M157.6 120.5h0M157.7 106.5h0M157.6 104.0h0M157.8 111.7h0M158.0 99.3h0M157.7 87.2h0M157.7 98.7h0M158.0 101.5h0M158.0 86.8h0M158.4 108.1h0M158.1 85.5h0M158.4 99.9h0M158.7 81.5h0M158.6 85.1h0M158.8 109.5h0M158.6 93.2h0M158.9 96.5h0M158.7 119.2h0M158.8 102.6h0M159.2 90.3h0M159.1 84.4h0M159.1 87.4h0M159.2 97.4h0M159.4 112.4h0M159.3 107.4h0M159.8 115.3h0M159.8 85.6h0M159.7 88.6h0M159.8 109.6h0M159.9 95.2h0M159.8 89.2h0M160.0 118.9h0M159.5 103.6h0M160.2 113.2h0M160.0 109.5h0M160.9 83.5h0M160.7 99.8h0M160.7 85.3h0M160.6 102.5h0M160.9 109.9h0M160.8 108.1h0M161.1 96.5h0M161.2 94.5h0M161.7 117.8h0M161.8 109.1h0M161.9 120.6h0M161.8 85.1h0M162.0 87.4h0M162.4 105.1h0M162.4 103.4h0M162.2 112.7h0M162.8 115.0h0M162.7 111.3h0M162.8 101.6h0M162.8 86.4h0M162.6 87.8h0M162.8 107.9h0M162.9 89.2h0M163.5 100.3h0M163.5 93.8h0M163.1 109.8h0M163.5 87.4h0M163.4 104.6h0M163.9 85.1h0M163.7 102.1h0M163.6 106.8h0M163.6 103.9h0M163.8 111.2h0M164.0 118.4h0M163.8 91.4h0M163.6 112.7h0M164.4 115.2h0M164.4 105.5h0M164.1 81.4h0M164.4 111.6h0M164.4 104.3h0M164.3 109.9h0M164.3 107.5h0M164.1 102.4h0M164.3 103.8h0M164.1 85.9h0M164.3 85.3h0M164.4 88.1h0M164.4 95.2h0M164.5 89.9h0M164.1 108.2h0M164.4 94.9h0M164.2 107.6h0M165.0 115.1h0M164.7 115.7h0M164.5 103.6h0M164.7 92.9h0M164.9 82.3h0M164.9 83.9h0M165.4 115.0h0M165.5 88.9h0M165.1 114.6h0M165.3 90.7h0M165.0 89.5h0M165.3 110.5h0M165.7 118.4h0M165.8 85.0h0M165.7 99.7h0M165.5 119.8h0M166.0 84.8h0M165.8 93.4h0M165.6 91.9h0M165.5 108.7h0M165.7 109.2h0M166.0 116.5h0M166.3 84.5h0M166.4 83.0h0M166.3 103.3h0M166.4 84.5h0M166.5 119.0h0M166.5 111.9h0M166.6 98.3h0M167.0 96.3h0M166.7 113.4h0M166.5 85.6h0M166.9 86.0h0M166.8 113.9h0M166.8 84.0h0M166.6 102.7h0M167.0 107.3h0M167.2 113.7h0M167.1 107.1h0M167.4 87.1h0M167.4 90.6h0M167.7 118.2h0M167.8 88.1h0M167.8 99.2h0M168.0 100.6h0M167.5 87.3h0M167.6 119.4h0M167.7 94.9h0M168.0 89.1h0M167.8 119.3h0M168.1 86.0h0M168.4 92.1h0M168.2 91.9h0M168.2 93.1h0M168.2 109.6h0M168.1 108.6h0M168.6 115.8h0M168.5 89.3h0M168.6 114.7h0M168.6 119.2h0M169.3 104.4h0M169.5 90.6h0M169.1 117.3h0M169.3 106.8h0M169.3 112.5h0M169.4 109.2h0M169.0 114.8h0M169.0 115.6h0M170.4 104.8h0M170.2 119.2h0M170.1 87.9h0M170.4 87.2h0M170.4 89.2h0M170.6 96.8h0M170.9 101.7h0M170.7 112.0h0M170.6 109.5h0M170.9 84.9h0M170.8 104.9h0M171.0 92.9h0M170.7 118.8h0M170.6 117.2h0M170.7 94.7h0M171.1 114.8h0M171.2 105.8h0M171.5 90.4h0M171.5 100.5h0M171.3 91.8h0M171.3 110.2h0M171.3 115.8h0M171.5 92.4h0M171.5 107.1h0M171.9 107.6h0M171.9 94.2h0M171.5 97.4h0M172.4 120.8h0M172.1 118.9h0M172.4 103.6h0M172.5 101.6h0M172.0 85.8h0M172.8 107.3h0M172.7 89.6h0M172.7 111.7h0M172.9 90.8h0M173.0 82.5h0M173.3 86.2h0M173.0 110.2h0M173.5 118.6h0M173.2 99.2h0M173.4 120.8h0M173.2 119.4h0M173.3 86.7h0M174.0 85.3h0M173.9 111.0h0M173.5 110.0h0M173.7 101.3h0M173.8 110.6h0M173.7 106.6h0M173.6 83.6h0M173.5 117.8h0M173.7 107.3h0M174.5 105.4h0M174.5 87.9h0M174.4 88.9h0M174.0 98.7h0M174.2 103.4h0M174.2 88.7h0M174.3 91.5h0M174.8 82.1h0M174.9 94.9h0M174.8 110.5h0M174.8 83.7h0M174.8 95.1h0M174.9 109.6h0M174.8 110.5h0M174.6 113.9h0M175.0 117.4h0M174.9 97.2h0M175.0 103.6h0M175.5 88.1h0M175.2 87.6h0M175.3 118.0h0M175.5 84.0h0M175.4 103.4h0M175.1 117.1h0M175.3 82.4h0M175.2 108.5h0M176.0 103.7h0M175.9 107.9h0M175.8 98.5h0M175.6 92.4h0M175.5 91.6h0M176.3 110.8h0M176.2 118.8h0M176.3 94.5h0M176.3 108.6h0M176.5 106.6h0M176.3 95.1h0M176.2 92.4h0M176.3 115.8h0M176.3 89.0h0M176.0 116.4h0M176.1 108.7h0M176.5 119.0h0M177.0 82.7h0M176.9 86.9h0M176.8 95.8h0M176.9 91.8h0M176.9 119.0h0M176.5 109.8h0M176.5 112.4h0M177.2 117.5h0M177.5 99.2h0M177.2 105.0h0M177.4 120.3h0M177.2 98.5h0M177.5 97.3h0M177.9 98.6h0M177.8 91.6h0M177.8 107.7h0M177.6 102.8h0M178.0 88.9h0M177.7 114.8h0M177.7 81.9h0M177.8 99.5h0M178.0 107.7h0M177.9 95.7h0M178.4 98.3h0M178.3 112.5h0M178.4 84.8h0M178.0 114.1h0M178.3 86.7h0M178.1 100.9h0M178.1 118.6h0M178.1 119.1h0M178.4 103.3h0M178.3 108.9h0M179.0 115.3h0M178.9 84.9h0M178.8 109.8h0M179.2 91.1h0M179.2 103.2h0M179.2 116.4h0M179.6 108.1h0M179.9 96.6h0M179.8 109.5h0M179.8 99.5h0M179.8 109.6h0M179.9 103.5h0M179.8 88.6h0M179.6 113.7h0M179.6 98.5h0M180.1 111.1h0M180.0 118.7h0M180.1 110.0h0M180.2 105.6h0M180.4 92.8h0M180.4 111.4h0M180.3 104.1h0M180.2 120.1h0M180.2 90.5h0M180.3 118.2h0M180.6 95.0h0M180.9 89.2h0M180.5 116.5h0M181.0 116.1h0M180.9 110.4h0M180.8 107.2h0M180.9 94.1h0M180.6 108.9h0M180.7 97.6h0M180.6 81.3h0M180.6 104.8h0M181.0 85.3h0M180.6 108.5h0M180.7 82.6h0M181.3 102.5h0M181.1 87.4h0M181.2 92.4h0M181.2 95.0h0M181.4 99.5h0M181.4 101.1h0M181.1 118.3h0M181.3 115.0h0M181.5 88.7h0M181.7 102.3h0M181.7 82.5h0M181.6 81.4h0M181.5 92.8h0M182.3 118.8h0M182.5 110.7h0M182.4 84.7h0M182.3 100.2h0M182.1 103.7h0M182.3 120.2h0M182.7 95.7h0M183.0 94.1h0M182.7 87.5h0M183.0 115.8h0M183.0 97.4h0M183.5 87.5h0M183.0 100.5h0M183.3 96.3h0M183.5 117.5h0M183.6 110.9h0M183.7 112.6h0M183.8 114.1h0M183.7 90.8h0M183.9 114.4h0M183.8 118.5h0M183.9 118.7h0M183.6 119.1h0M184.1 103.4h0M184.1 99.7h0M184.3 84.1h0M184.1 116.5h0M184.0 85.2h0M184.4 108.2h0M184.2 115.7h0M184.4 106.7h0M184.2 104.3h0M184.5 93.2h0M184.8 109.4h0M184.8 116.3h0M184.8 108.0h0M184.8 107.8h0M185.3 89.3h0M185.3 81.7h0M185.3 119.5h0M185.3 107.8h0M185.3 93.7h0M185.4 96.5h0M185.2 103.0h0M185.5 92.1h0M185.6 108.4h0M185.6 84.5h0M185.8 83.4h0M185.9 94.1h0M185.7 105.0h0M186.0 92.2h0M185.6 95.7h0M185.9 118.7h0M186.2 111.1h0M186.3 111.1h0M186.5 113.9h0M186.8 109.0h0M186.8 113.8h0M186.8 94.1h0M187.2 105.3h0M187.5 91.9h0M187.3 101.2h0M187.5 89.6h0M187.3 84.4h0M187.3 119.8h0M187.7 111.2h0M187.7 87.6h0M187.7 84.9h0M187.5 85.6h0M187.8 93.8h0M187.6 110.8h0M187.8 114.1h0M188.2 113.0h0M188.1 112.3h0M188.3 91.3h0M188.4 85.3h0M188.0 91.8h0M188.3 106.4h0M188.2 104.3h0M188.7 107.8h0M188.7 103.9h0M188.6 84.7h0M188.7 91.6h0M188.6 120.0h0M188.8 96.5h0M189.0 85.1h0M188.7 116.7h0M189.0 113.0h0M188.6 103.8h0M188.5 83.3h0M189.1 109.7h0M189.3 89.5h0M189.8 91.1h0M189.5 107.5h0M189.9 93.5h0M189.6 120.4h0M189.6 90.7h0M190.3 82.1h0M190.1 107.4h0M190.3 90.5h0M190.1 118.4h0M190.4 107.6h0M190.6 89.0h0M190.8 119.3h0M190.9 91.6h0M190.8 95.0h0M190.9 100.5h0M190.6 92.5h0M190.5 95.4h0M190.7 99.3h0M190.8 118.5h0M190.9 104.0h0M190.7 87.6h0M190.8 83.3h0M191.2 101.4h0M191.5 83.9h0M191.3 118.1h0M191.1 109.4h0M191.3 95.4h0M191.3 118.8h0M191.2 99.3h0M192.0 120.2h0M191.9 117.1h0M191.8 93.1h0M192.4 112.0h0M192.0 112.1h0M192.5 109.3h0M192.3 91.4h0M192.3 96.1h0M192.5 109.4h0M192.2 116.7h0M192.9 84.2h0M192.6 110.7h0M192.7 92.3h0M193.5 81.8h0M193.2 88.2h0M193.4 111.3h0M193.9 111.1h0M193.8 100.6h0M194.5 119.3h0M194.4 112.7h0M194.2 116.4h0M194.3 98.5h0M194.3 83.9h0M194.2 115.0h0M194.2 103.3h0M194.8 88.2h0M194.8 98.2h0M194.7 116.8h0M194.5 103.5h0M194.7 86.9h0M194.7 116.0h0M195.4 96.1h0M195.1 89.2h0M195.5 119.1h0M195.2 91.7h0M195.4 82.9h0M195.7 99.3h0M195.5 92.3h0M196.2 92.0h0M196.3 106.6h0M196.2 114.2h0M196.4 111.4h0M196.3 90.1h0M196.4 87.8h0M196.1 101.2h0M196.1 85.9h0M196.8 104.1h0M196.7 82.3h0M196.9 101.4h0M196.8 107.9h0M197.5 99.9h0M197.1 93.8h0M197.5 98.5h0M197.1 114.7h0M197.3 98.1h0M197.5 111.1h0M197.0 120.0h0M197.5 102.5h0M197.5 120.6h0M197.8 96.1h0M197.9 113.0h0M197.9 90.3h0M197.5 115.5h0M197.9 94.8h0M197.7 97.1h0M198.1 100.9h0M198.5 110.8h0M198.2 94.7h0M198.3 94.8h0M198.4 110.4h0M198.9 118.4h0M198.6 113.1h0M198.7 83.3h0M198.6 85.8h0M198.8 106.8h0M199.1 116.5h0M199.4 87.3h0M199.2 101.5h0M199.0 95.8h0M199.4 112.0h0M199.1 93.1h0M199.1 108.6h0M199.1 120.8h0M199.8 102.3h0M199.9 102.7h0M199.7 101.7h0M199.7 104.0h0M199.9 98.1h0M199.9 101.2h0M199.7 90.6h0M200.4 99.7h0M200.4 105.4h0M200.0 108.9h0M200.3 90.4h0M200.1 96.9h0M200.3 100.2h0M200.0 86.7h0M200.7 99.1h0M200.6 119.6h0M200.6 85.7h0M200.8 86.5h0M200.6 97.5h0M200.6 107.3h0M200.6 106.9h0M201.4 86.1h0M201.3 93.8h0M201.5 95.0h0M201.2 91.8h0M201.3 119.5h0M201.3 110.9h0M201.3 84.1h0M201.6 92.4h0M201.8 117.8h0M201.9 101.7h0M201.9 98.8h0M201.5 108.6h0M201.9 107.4h0M202.2 116.4h0M202.3 119.8h0M202.1 104.5h0M202.3 82.2h0M202.3 96.3h0M202.2 88.3h0M202.3 108.1h0M202.4 115.0h0M202.8 111.2h0M202.5 116.4h0M202.5 100.6h0M202.6 82.3h0M202.7 91.4h0M202.5 114.3h0M202.6 118.9h0M203.4 102.2h0M203.2 84.0h0M203.2 81.4h0M203.4 109.5h0M203.6 92.3h0M204.0 114.0h0M203.7 113.0h0M203.7 88.3h0M204.4 112.4h0M204.0 98.8h0M204.1 96.3h0M204.2 96.8h0M204.6 107.1h0M205.4 103.6h0M205.1 101.5h0M205.5 105.3h0M205.2 113.5h0M205.2 81.3h0M205.0 119.8h0M205.7 92.2h0M205.7 84.4h0M206.0 83.6h0M206.2 85.3h0M206.5 106.9h0M206.2 104.5h0M206.1 118.0h0M206.3 109.2h0M206.1 100.0h0M207.0 103.5h0M206.9 82.0h0M206.8 101.5h0M206.7 117.4h0M206.5 100.5h0M207.1 118.5h0M207.4 113.3h0M207.2 100.3h0M207.3 113.7h0M207.0 88.1h0M208.0 89.4h0M207.6 98.0h0M207.8 120.6h0M208.2 95.1h0M208.1 114.6h0M208.1 86.0h0M208.1 81.7h0M208.4 102.4h0M208.3 97.5h0M209.0 111.0h0M208.9 114.8h0M208.9 112.5h0M208.5 89.2h0M208.6 99.7h0M208.5 103.1h0M209.0 120.6h0M208.5 108.5h0M208.6 115.8h0M208.5 84.9h0M209.1 110.0h0M209.0 115.6h0M209.5 111.6h0M209.4 105.0h0M209.4 99.7h0M209.2 109.3h0M209.2 93.3h0M209.1 98.5h0M209.2 111.4h0M209.4 113.2h0M209.8 90.3h0M209.5 119.5h0M209.9 101.2h0M209.8 84.4h0M209.7 104.6h0M209.8 89.6h0M209.5 119.8h0M209.9 88.0h0M210.3 105.7h0M210.3 84.8h0M210.4 93.6h0M210.1 106.8h0M210.1 117.8h0M210.3 112.8h0M210.9 101.2h0M210.9 85.2h0M210.6 82.2h0M211.0 83.3h0M211.3 101.6h0M211.3 105.9h0M211.5 112.0h0M211.2 111.1h0M211.2 120.4h0M211.7 99.4h0M211.7 92.5h0M211.7 93.4h0M211.6 104.4h0M211.5 90.8h0M211.6 109.5h0M211.6 84.8h0M211.9 98.5h0M211.9 93.8h0M211.7 103.5h0M211.5 120.5h0M212.1 87.7h0M212.4 120.2h0M212.2 110.1h0M212.3 100.8h0M212.2 103.2h0M212.2 111.0h0M212.2 101.2h0M213.0 82.2h0M212.6 94.4h0M212.8 104.7h0M212.9 115.7h0M212.5 103.5h0M213.2 98.9h0M213.2 96.1h0M213.3 94.4h0M213.4 95.4h0M214.0 88.6h0M213.9 82.5h0M213.9 106.4h0M213.8 96.6h0M213.7 87.1h0M214.1 87.6h0M214.1 99.2h0M214.5 104.4h0M214.9 110.0h0M214.9 95.1h0M214.5 86.5h0M214.8 93.4h0M215.0 85.7h0M214.9 100.1h0M214.6 91.1h0M214.7 95.7h0M215.5 92.7h0M215.1 82.5h0M215.1 83.2h0M215.3 104.1h0M215.0 119.4h0M215.4 103.1h0M215.8 89.9h0M216.0 84.6h0M215.9 89.1h0M215.8 108.9h0M215.9 82.9h0M216.1 118.8h0M216.3 91.0h0M216.2 82.9h0M216.9 90.6h0M217.0 81.3h0M216.9 101.1h0M216.9 101.9h0M216.9 109.5h0M216.8 119.4h0M216.6 118.4h0M216.8 109.5h0M216.8 96.6h0M217.3 108.7h0M217.2 84.0h0M217.4 111.3h0M217.2 84.7h0M217.7 95.6h0M217.8 106.3h0M217.7 107.0h0M217.8 111.1h0M217.6 107.3h0M217.7 116.5h0M217.8 113.7h0M218.5 108.8h0M218.2 108.0h0M218.1 106.7h0M218.8 101.4h0M218.9 81.5h0M218.7 100.2h0M218.5 107.0h0M218.9 117.6h0M218.6 101.3h0M219.0 83.6h0M219.3 97.8h0M219.1 97.4h0M219.4 104.4h0M219.3 92.1h0M219.3 98.9h0M220.0 97.6h0M219.5 92.8h0M220.0 93.3h0M219.7 120.4h0M219.9 95.4h0M219.6 96.6h0M220.4 114.0h0M220.2 110.7h0M220.2 112.3h0M220.0 115.2h0M220.3 86.7h0M220.1 93.4h0M220.3 117.6h0M220.5 105.2h0M220.1 120.5h0M220.7 94.4h0M220.8 84.6h0M220.6 87.8h0M220.5 100.0h0M220.6 100.3h0M220.6 112.9h0M221.2 96.3h0M221.2 108.2h0M221.0 87.4h0M221.9 90.7h0M222.0 118.3h0M221.9 116.7h0M221.5 81.8h0M222.0 99.1h0M222.4 96.4h0M222.1 85.8h0M222.1 115.9h0M222.2 115.7h0M222.5 112.2h0M222.5 91.1h0M222.1 90.5h0M222.0 118.6h0M222.9 88.9h0M222.6 86.3h0M222.7 114.6h0M223.0 81.3h0M223.4 88.6h0M223.5 102.7h0M223.5 101.2h0M223.9 117.3h0M224.0 106.9h0M223.8 88.6h0M224.5 82.0h0M224.1 100.7h0M224.0 93.3h0M224.4 106.2h0M224.3 81.4h0M224.2 85.7h0M224.7 117.7h0M224.7 86.5h0M224.7 116.2h0M224.7 114.1h0M225.2 109.0h0M225.1 119.5h0M225.0 112.7h0M226.0 97.0h0M225.6 82.4h0M226.3 82.0h0M226.1 105.8h0M226.3 117.3h0M226.5 87.2h0M226.7 103.7h0M226.9 94.9h0M226.7 98.5h0M226.9 90.7h0M226.7 111.3h0M227.2 86.7h0M227.2 95.5h0M227.2 114.5h0M227.9 87.3h0M227.6 112.9h0M227.6 120.0h0M227.8 118.4h0M228.3 104.4h0M228.3 119.6h0"/>
<path stroke="#a394cd" stroke-width="2.1" stroke-linecap="round" fill="none" d="M130.3 137.0h0M132.1 138.4h0M136.9 135.9h0M135.5 137.9h0M133.9 139.5h0M131.2 143.3h0M138.8 137.3h0M136.9 139.3h0M135.6 141.3h0M132.8 144.9h0M141.8 137.2h0M140.4 138.6h0M138.9 140.5h0M137.7 142.8h0M136.4 144.4h0M133.4 147.9h0M131.9 149.6h0M129.1 153.3h0M145.1 136.4h0M142.4 140.3h0M141.2 142.1h0M139.4 144.0h0M138.2 145.8h0M136.5 147.4h0M135.2 149.1h0M133.8 150.9h0M132.5 152.8h0M129.5 156.7h0M148.4 136.2h0M147.1 138.1h0M145.4 139.8h0M144.2 141.7h0M142.7 143.5h0M141.5 145.2h0M139.8 147.1h0M136.9 150.4h0M135.8 152.4h0M132.9 156.1h0M131.4 157.7h0M150.2 137.7h0M148.7 139.3h0M146.3 143.4h0M144.5 145.0h0M143.0 146.6h0M140.1 150.1h0M138.9 152.2h0M137.2 154.0h0M136.0 155.7h0M134.6 157.4h0M133.0 159.5h0M129.1 164.5h0M153.2 137.2h0M152.0 138.7h0M150.5 140.9h0M149.2 142.9h0M147.9 144.4h0M146.8 146.7h0M145.0 148.3h0M142.0 151.8h0M140.7 153.9h0M139.3 155.1h0M137.8 157.1h0M136.3 159.0h0M135.0 160.6h0M133.4 162.7h0M156.7 136.4h0M155.2 138.5h0M153.8 140.8h0M152.7 142.5h0M148.1 147.8h0M146.6 149.5h0M145.1 151.3h0M144.2 153.2h0M142.6 155.2h0M141.0 156.7h0M140.1 158.5h0M138.4 160.4h0M137.0 162.3h0M135.1 164.0h0M134.0 165.7h0M132.7 167.5h0M131.1 169.6h0M160.2 136.5h0M158.6 138.5h0M157.2 140.2h0M154.2 143.7h0M152.9 145.5h0M151.2 147.5h0M149.8 149.2h0M148.6 150.7h0M147.1 153.0h0M145.7 154.4h0M144.4 156.1h0M143.0 158.2h0M141.6 160.2h0M140.0 162.0h0M138.6 163.8h0M137.1 165.4h0M134.1 169.2h0M133.0 170.7h0M163.3 136.1h0M161.7 138.0h0M160.5 139.7h0M158.9 141.6h0M155.8 145.1h0M154.7 146.8h0M153.2 149.0h0M151.4 150.5h0M150.0 152.5h0M147.6 155.7h0M146.0 157.7h0M145.2 159.7h0M143.3 161.3h0M142.1 163.3h0M139.4 166.6h0M137.7 168.7h0M136.0 170.5h0M163.7 139.2h0M162.0 141.5h0M160.7 143.1h0M159.4 144.5h0M157.8 146.5h0M156.4 148.2h0M155.0 150.0h0M153.5 152.1h0M152.2 153.3h0M150.7 155.6h0M149.3 157.3h0M146.5 161.0h0M145.1 162.8h0M143.8 164.8h0M142.5 166.5h0M139.3 170.1h0M138.2 171.8h0M136.7 173.9h0M168.2 137.3h0M166.7 138.6h0M163.9 142.5h0M162.5 144.3h0M160.9 146.4h0M159.8 147.8h0M158.4 149.8h0M156.8 151.7h0M154.0 155.1h0M152.4 156.8h0M149.8 160.9h0M148.3 162.5h0M147.1 164.3h0M145.2 165.8h0M144.1 167.9h0M142.9 169.7h0M141.3 171.8h0M169.9 138.6h0M168.4 140.4h0M167.1 142.1h0M165.7 144.1h0M163.1 147.7h0M161.5 149.3h0M160.0 151.3h0M158.4 152.9h0M157.1 154.6h0M156.0 156.7h0M154.4 158.2h0M150.2 163.9h0M148.6 165.6h0M147.4 167.6h0M145.9 169.3h0M144.2 171.3h0M143.1 172.9h0M141.5 174.6h0M174.4 136.4h0M172.7 137.9h0M171.8 139.9h0M170.5 141.9h0M169.0 143.7h0M167.5 145.2h0M166.5 147.3h0M164.7 149.0h0M163.5 150.9h0M160.4 154.3h0M159.0 156.0h0M157.6 158.2h0M156.2 159.8h0M154.7 161.9h0M153.4 163.5h0M151.9 165.2h0M150.4 167.2h0M149.1 168.9h0M148.0 170.7h0M146.3 172.7h0M144.9 174.3h0M177.9 136.0h0M176.3 137.3h0M175.2 139.7h0M173.8 141.3h0M171.9 143.0h0M170.9 145.2h0M169.4 146.7h0M168.0 148.5h0M166.4 150.2h0M165.1 152.2h0M163.8 153.9h0M162.0 155.9h0M158.1 161.2h0M156.7 163.1h0M155.3 165.0h0M153.8 166.8h0M152.4 168.5h0M150.8 170.1h0M149.4 172.2h0M148.1 173.8h0M179.5 137.2h0M178.4 138.8h0M177.0 140.8h0M175.3 142.6h0M173.9 144.4h0M172.5 146.3h0M169.9 150.0h0M168.3 151.8h0M166.9 153.9h0M164.0 157.2h0M162.7 159.2h0M161.3 160.9h0M158.1 164.5h0M156.8 166.3h0M155.5 168.2h0M154.0 169.8h0M152.9 171.9h0M151.5 173.6h0M182.9 136.8h0M181.7 138.5h0M179.8 140.5h0M178.6 142.0h0M177.2 144.0h0M176.0 145.9h0M174.2 147.9h0M171.7 151.5h0M168.9 155.0h0M167.5 156.9h0M165.7 158.7h0M162.8 162.4h0M161.5 163.9h0M160.4 165.9h0M157.4 169.6h0M156.0 171.5h0M154.6 173.1h0M153.1 174.9h0M186.3 136.4h0M183.4 140.1h0M181.7 141.9h0M180.6 143.8h0M178.8 145.6h0M177.8 147.7h0M176.3 149.1h0M174.9 151.2h0M173.4 153.1h0M172.1 154.8h0M170.4 156.5h0M169.2 158.4h0M167.8 160.3h0M166.3 161.7h0M165.2 163.5h0M163.6 165.5h0M161.9 167.2h0M160.7 169.2h0M159.2 170.8h0M158.0 172.7h0M156.5 174.6h0M189.0 135.9h0M187.9 137.8h0M186.6 139.6h0M185.2 141.8h0M180.6 147.0h0M179.4 149.1h0M178.1 150.7h0M175.0 154.2h0M173.7 156.0h0M172.6 157.8h0M168.0 163.4h0M165.7 167.2h0M164.0 169.2h0M162.3 170.6h0M160.9 172.4h0M159.6 174.1h0M190.9 137.7h0M189.8 139.0h0M188.1 141.1h0M186.8 142.9h0M185.4 144.8h0M184.0 146.7h0M182.6 148.3h0M181.1 150.4h0M180.1 152.0h0M178.5 153.8h0M176.9 155.7h0M175.7 157.5h0M174.1 159.3h0M171.4 163.1h0M169.9 164.9h0M168.6 166.6h0M167.1 168.2h0M165.5 170.0h0M162.5 174.0h0M193.9 137.2h0M193.0 139.2h0M191.6 140.6h0M190.4 142.7h0M188.4 144.4h0M187.4 146.1h0M185.7 148.3h0M184.5 150.2h0M182.9 151.8h0M181.8 153.2h0M179.9 155.6h0M178.7 157.2h0M176.2 160.7h0M174.8 162.8h0M173.2 164.2h0M172.0 166.3h0M170.2 168.1h0M168.7 169.5h0M167.5 171.7h0M166.1 173.4h0M197.7 136.8h0M196.2 138.5h0M194.7 140.6h0M193.4 142.1h0M192.0 144.0h0M190.4 145.8h0M189.2 147.8h0M186.3 151.0h0M185.0 153.2h0M183.4 154.9h0M182.1 156.7h0M179.4 160.2h0M177.7 162.3h0M176.3 163.9h0M175.0 166.0h0M172.1 169.1h0M170.8 171.0h0M169.3 173.0h0M167.9 174.9h0M199.4 138.0h0M198.2 140.2h0M196.5 141.7h0M195.2 143.8h0M193.4 145.6h0M192.4 147.1h0M191.1 149.1h0M189.5 151.0h0M188.3 152.6h0M186.7 154.5h0M185.2 156.4h0M183.9 158.1h0M182.3 160.2h0M181.1 161.8h0M179.7 163.6h0M178.0 165.4h0M176.7 167.5h0M175.4 169.2h0M174.1 170.6h0M172.6 172.6h0M171.2 174.5h0M196.9 145.1h0M194.2 148.7h0M192.7 150.3h0M191.1 152.5h0M187.0 157.9h0M185.6 159.4h0M184.5 161.4h0M182.9 163.2h0M181.3 165.0h0M180.2 167.1h0M178.7 168.8h0M174.4 174.0h0M198.8 146.7h0M197.4 148.3h0M195.8 150.1h0M193.5 153.5h0M191.6 155.4h0M190.3 157.5h0M188.7 158.9h0M187.7 160.7h0M186.1 162.9h0M184.7 164.7h0M183.2 166.7h0M181.7 168.1h0M180.4 170.2h0M179.2 172.1h0M177.4 173.5h0M199.2 149.8h0M196.5 153.4h0M195.2 155.1h0M192.0 158.7h0M189.3 162.4h0M187.8 164.2h0M186.4 166.1h0M183.7 169.7h0M182.4 171.5h0M201.0 151.2h0M198.0 154.9h0M195.4 158.5h0M193.8 159.9h0M192.4 162.1h0M190.8 163.6h0M189.9 165.6h0M188.4 167.5h0M187.0 169.0h0M185.5 170.9h0M184.0 172.7h0M182.6 174.5h0M197.2 159.4h0M195.6 161.4h0M192.7 165.1h0M191.6 166.8h0M190.0 168.8h0M188.6 170.6h0M187.0 172.4h0M185.7 174.2h0M200.5 159.5h0M197.6 163.0h0M194.8 166.7h0M193.5 168.8h0M191.7 170.3h0M190.5 172.0h0M195.0 169.8h0M193.9 171.5h0M192.1 173.5h0M201.0 165.6h0M198.5 169.4h0M197.3 171.5h0M194.2 174.9h0M200.6 174.1h0"/>
<path stroke="#a394cd" stroke-width="1.75" stroke-linecap="round" fill="none" d="M97.1 173.2h0M98.0 173.8h0M99.2 158.6h0M99.6 168.8h0M99.8 144.1h0M100.0 147.1h0M101.0 175.0h0M100.9 153.0h0M101.0 153.0h0M101.5 173.5h0M102.3 158.5h0M102.6 151.8h0M102.6 154.9h0M102.8 156.4h0M104.8 143.6h0M104.9 144.0h0M105.1 144.5h0M105.2 170.9h0M105.6 170.7h0M105.7 146.4h0M106.0 144.3h0M106.1 146.0h0M106.1 154.0h0M106.2 136.2h0M106.6 160.6h0M106.8 137.4h0M106.7 155.9h0M107.4 143.9h0M107.0 166.7h0M107.5 139.6h0M107.4 138.6h0M107.5 154.0h0M107.6 156.8h0M107.9 150.3h0M107.5 144.7h0M107.7 138.0h0M108.4 152.5h0M108.9 158.1h0M108.5 159.2h0M108.8 155.6h0M109.4 138.3h0M109.4 153.5h0M109.7 145.7h0M109.8 158.9h0M109.7 156.5h0M109.9 167.2h0M110.5 170.8h0M110.5 167.2h0M110.8 172.1h0M110.8 155.7h0M110.9 158.8h0M111.2 139.3h0M111.3 151.6h0M111.4 149.1h0M111.5 147.9h0M111.5 171.4h0M111.8 162.6h0M111.7 152.7h0M112.3 156.7h0M112.2 156.6h0M112.0 159.7h0M112.2 161.9h0M112.1 155.3h0M112.8 147.0h0M112.7 173.7h0M112.5 143.6h0M112.8 165.4h0M113.0 145.0h0M113.3 150.2h0M113.1 140.7h0M113.0 158.3h0M113.3 173.7h0M113.4 141.7h0M113.1 174.2h0M113.1 157.1h0M113.4 161.0h0M113.0 154.3h0M113.3 156.9h0M113.1 174.0h0M113.8 171.9h0M113.9 170.6h0M113.6 170.8h0M113.5 146.8h0M114.1 138.6h0M114.2 147.9h0M114.5 169.6h0M114.0 154.3h0M114.4 151.1h0M114.3 170.5h0M114.5 142.3h0M114.9 142.8h0M114.6 173.8h0M114.7 172.0h0M115.5 162.4h0M115.4 148.2h0M115.4 168.1h0M115.5 161.7h0M116.0 160.6h0M116.0 168.3h0M115.8 151.4h0M115.6 173.8h0M116.0 171.4h0M115.7 165.4h0M115.8 168.4h0M116.3 173.1h0M116.3 143.9h0M116.5 170.5h0M116.4 140.1h0M116.8 152.6h0M116.7 146.0h0M116.8 146.9h0M116.7 147.0h0M117.0 156.2h0M116.6 140.3h0M116.9 173.0h0M116.6 158.3h0M116.7 153.0h0M117.2 158.3h0M117.2 137.3h0M117.2 142.2h0M117.1 170.0h0M117.3 145.3h0M117.4 174.8h0M117.6 174.5h0M117.7 142.0h0M117.7 153.7h0M117.6 165.1h0M117.8 164.3h0M118.2 167.1h0M118.3 162.1h0M118.3 160.5h0M118.0 150.7h0M118.4 150.1h0M118.5 173.9h0M118.3 174.7h0M118.1 154.7h0M118.5 139.0h0M118.3 152.1h0M118.8 157.1h0M118.9 169.3h0M118.9 148.2h0M118.6 160.3h0M118.5 159.2h0M119.5 169.2h0M119.0 164.3h0M119.3 141.1h0M119.2 159.3h0M119.5 145.1h0M119.7 143.7h0M120.2 170.0h0M120.4 140.5h0M120.0 158.0h0M120.0 168.0h0M120.6 173.1h0M121.0 161.0h0M120.8 166.0h0M120.7 172.9h0M120.6 172.0h0M121.2 172.3h0M121.1 147.3h0M121.2 142.3h0M121.8 164.9h0M121.8 152.3h0M121.6 152.0h0M121.7 148.1h0M121.6 170.9h0M122.4 136.5h0M122.0 156.1h0M122.3 153.8h0M122.5 165.5h0M122.4 166.6h0M123.0 150.0h0M122.5 149.8h0M123.0 136.2h0M123.0 143.0h0M122.6 174.4h0M122.6 149.6h0M123.0 145.7h0M122.9 169.0h0M122.7 140.3h0M123.3 164.2h0M123.5 152.7h0M123.2 149.4h0M123.3 148.1h0M123.2 161.1h0M123.4 164.4h0M123.3 141.0h0M123.3 144.1h0M123.9 146.1h0M123.6 155.5h0M123.9 163.4h0M123.7 155.2h0M123.9 164.7h0M124.0 141.4h0M123.9 162.1h0M123.6 173.8h0M123.7 161.0h0M124.0 157.0h0M123.8 158.7h0M123.9 162.4h0M123.6 137.6h0M124.0 165.7h0M123.6 170.3h0M124.4 141.7h0M124.1 156.3h0M124.1 155.6h0M124.1 174.9h0M124.4 167.0h0M124.4 145.2h0M124.3 160.1h0M124.0 145.4h0M124.4 145.7h0M124.5 154.3h0M124.9 150.1h0M124.8 149.3h0M125.0 156.0h0M124.7 173.2h0M124.9 174.7h0M124.9 144.6h0M125.3 141.3h0M125.2 163.2h0M125.4 152.8h0M125.1 174.6h0M125.3 154.9h0M125.0 165.8h0M125.4 164.3h0M125.9 165.6h0M125.5 155.7h0M125.9 171.8h0M125.9 144.9h0M125.6 174.0h0M125.9 152.4h0M125.7 166.1h0M125.8 146.0h0M125.7 174.6h0M125.7 136.2h0M125.6 141.5h0M126.0 147.9h0M126.0 140.0h0M126.1 150.3h0M126.3 158.1h0M126.3 142.9h0M126.1 140.5h0M126.5 141.7h0M126.3 155.3h0M126.0 168.7h0M126.3 157.9h0M126.4 147.7h0M126.2 141.2h0M126.8 147.2h0M126.6 153.5h0M126.8 165.5h0M126.9 143.2h0M126.7 172.3h0M126.7 157.6h0M126.7 165.4h0M126.9 151.4h0M126.6 160.7h0M127.0 151.5h0M126.7 145.3h0M127.3 139.8h0M127.3 146.1h0M127.1 149.0h0M127.5 170.8h0M127.7 136.4h0M127.8 159.4h0M128.4 163.6h0M128.4 174.6h0M128.3 168.6h0M128.5 143.6h0M128.3 169.4h0M128.4 165.1h0M128.2 170.1h0M128.2 147.2h0M128.5 140.7h0M128.6 140.9h0M128.5 146.2h0M129.3 143.6h0M129.4 165.4h0M129.4 147.2h0M129.1 165.9h0M129.3 153.6h0M129.2 155.5h0M129.7 152.6h0M130.0 171.8h0M130.0 150.1h0M129.9 155.3h0M129.8 161.8h0M129.9 148.8h0M129.7 140.4h0M130.2 142.8h0M130.2 166.7h0M130.2 167.3h0M130.2 167.6h0M130.3 173.1h0M130.1 166.3h0M130.2 143.7h0M130.1 145.3h0M130.3 169.5h0M130.2 149.0h0M130.1 156.6h0M130.1 148.0h0M130.9 167.7h0M130.7 143.9h0M130.6 171.5h0M130.9 174.4h0M131.5 143.9h0M131.4 159.6h0M131.4 166.3h0M131.2 157.0h0M131.0 165.5h0M131.6 140.6h0M131.6 151.6h0M132.1 166.9h0M132.1 150.7h0M132.1 164.5h0M132.3 171.9h0M132.3 161.2h0M132.8 166.9h0M133.4 166.5h0M133.3 140.0h0M133.4 154.2h0M133.4 139.8h0M133.2 148.1h0M133.2 174.8h0M133.4 170.7h0M133.4 137.9h0M133.4 165.2h0M133.4 145.5h0M133.2 161.4h0M133.1 155.7h0M133.2 138.4h0M133.9 167.8h0M134.0 163.5h0M133.8 162.3h0M133.5 159.3h0M133.5 160.8h0M134.2 163.7h0M134.0 172.9h0M134.4 150.1h0M134.4 168.1h0M134.6 137.2h0M134.6 158.4h0M134.8 159.7h0M134.7 172.0h0M134.7 144.9h0M134.7 150.8h0M134.6 158.4h0M134.8 136.0h0M135.0 150.3h0M135.0 138.1h0M135.4 144.4h0M135.7 173.6h0M135.7 151.8h0M135.8 161.7h0M136.0 161.3h0M136.2 138.4h0M136.2 141.4h0M136.2 136.7h0M136.7 165.7h0M136.7 172.4h0M136.7 144.2h0M136.9 138.1h0M136.7 148.2h0M136.6 153.4h0M137.3 149.3h0M137.3 168.0h0M137.4 173.5h0M137.1 139.5h0M137.0 141.6h0M137.4 143.0h0M137.8 165.6h0M137.5 152.0h0M137.5 173.6h0M137.7 154.2h0M138.3 146.0h0M138.5 136.3h0M138.2 154.2h0M138.0 148.7h0M138.2 139.5h0M138.4 149.5h0M138.2 167.6h0M138.5 145.8h0M138.4 147.3h0M138.5 172.4h0M139.0 149.7h0M138.9 139.4h0M139.0 148.9h0M138.6 152.3h0M138.6 158.5h0M139.4 162.7h0M139.3 173.9h0M139.9 169.2h0M139.7 159.0h0M140.2 159.9h0M140.5 136.8h0M140.4 164.6h0M140.2 143.8h0M140.3 166.0h0M140.1 158.0h0M140.4 146.1h0M140.9 157.5h0M140.5 141.4h0M140.6 161.4h0M140.9 150.0h0M141.2 168.9h0M141.1 168.2h0M141.0 169.8h0M141.2 168.7h0M141.7 140.8h0M141.6 142.2h0M141.6 169.4h0M141.8 149.6h0M142.5 167.4h0M142.9 147.4h0M142.6 167.7h0M142.9 150.8h0M142.7 156.0h0M143.5 148.9h0M143.5 171.0h0M143.2 144.6h0M143.4 139.2h0M143.8 166.7h0M144.3 140.8h0M144.2 145.1h0M144.5 166.5h0M144.5 158.5h0M144.0 165.3h0M144.9 148.0h0M144.9 171.8h0M144.8 141.9h0M144.7 155.7h0M145.3 139.4h0M145.3 167.8h0M145.1 172.1h0M145.9 146.0h0M145.5 160.2h0M145.5 139.8h0M146.4 141.0h0M146.3 139.1h0M146.1 149.5h0M146.3 158.0h0M146.1 147.6h0M146.5 136.5h0M147.0 158.1h0M146.6 172.7h0M146.9 165.7h0M146.6 151.6h0M146.9 146.7h0M147.3 159.5h0M147.1 142.2h0M147.0 150.2h0M147.3 138.3h0M147.5 162.1h0M147.7 171.9h0M147.7 167.1h0M148.4 161.9h0M148.4 139.5h0M148.4 156.1h0M148.4 156.5h0M148.9 157.4h0M149.0 137.4h0M148.6 172.4h0M148.8 143.9h0M148.9 155.2h0M148.8 142.4h0M148.5 171.7h0M149.3 166.7h0M149.5 150.6h0M149.1 144.9h0M149.5 162.6h0M149.6 137.2h0M149.8 166.0h0M149.6 171.0h0M149.7 162.1h0M149.9 167.4h0M149.8 146.6h0M149.6 158.3h0M149.8 159.4h0M150.3 156.7h0M150.0 144.1h0M150.1 160.2h0M150.4 160.7h0M150.2 169.4h0M150.6 148.0h0M150.5 166.3h0M150.8 148.2h0M150.9 154.3h0M151.3 147.0h0M151.0 161.4h0M151.1 165.2h0M151.2 150.9h0M151.9 140.4h0M151.5 167.5h0M151.6 146.8h0M151.6 152.8h0M152.1 147.7h0M152.2 164.2h0M152.1 145.9h0M152.5 149.9h0M152.0 170.3h0M153.3 160.6h0M153.4 140.3h0M153.2 160.5h0M153.0 155.6h0M153.4 136.4h0M153.4 164.2h0M153.2 144.1h0M153.4 149.7h0M153.9 145.1h0M153.6 167.3h0M153.9 138.1h0M153.6 154.4h0M153.9 154.0h0M153.5 164.7h0M154.1 163.8h0M154.2 149.6h0M154.0 138.6h0M154.1 162.2h0M154.3 151.3h0M154.3 148.2h0M154.2 159.9h0M154.4 165.0h0M155.0 158.3h0M154.5 140.5h0M154.8 162.7h0M154.7 153.3h0M154.9 166.8h0M154.9 150.6h0M155.3 166.2h0M155.1 149.1h0M155.1 153.1h0M155.5 151.6h0M155.7 148.4h0M155.7 143.6h0M155.9 151.2h0M155.5 153.2h0M155.7 142.6h0M155.9 152.0h0M155.9 160.0h0M156.1 165.7h0M156.1 159.2h0M156.9 163.6h0M156.8 171.7h0M157.4 146.1h0M157.3 141.2h0M157.0 136.1h0M157.7 168.8h0M158.0 154.9h0M157.7 169.6h0M157.8 137.1h0M157.6 161.1h0M157.6 156.6h0M158.4 142.1h0M158.1 158.2h0M158.3 141.9h0M158.4 154.7h0M158.4 149.7h0M158.2 156.8h0M159.0 164.7h0M158.5 161.0h0M158.7 148.4h0M158.6 163.5h0M158.9 153.2h0M158.7 148.8h0M159.2 152.0h0M159.1 149.8h0M159.0 146.7h0M159.3 171.8h0M159.1 163.5h0M160.0 149.3h0M159.6 153.6h0M159.9 151.2h0M160.5 164.0h0M160.3 149.7h0M160.8 162.5h0M160.6 169.3h0M161.2 137.0h0M161.2 158.8h0M161.0 152.9h0M161.2 136.8h0M161.8 161.1h0M162.7 141.1h0M162.9 147.9h0M162.9 171.6h0M163.4 160.9h0M163.0 156.6h0M163.4 169.5h0M163.6 160.4h0M163.6 157.8h0M163.7 154.1h0M164.2 160.6h0M164.4 164.0h0M164.1 141.3h0M164.8 144.7h0M164.8 138.7h0M164.9 163.0h0M165.2 167.6h0M165.3 138.9h0M165.0 142.4h0M165.3 147.7h0M165.1 170.4h0M165.0 168.3h0M165.6 161.3h0M165.8 142.2h0M165.8 174.6h0M165.8 146.6h0M166.5 165.6h0M166.3 141.7h0M166.2 140.7h0M166.2 139.3h0M166.0 137.7h0M166.9 166.0h0M167.0 167.6h0M167.4 148.2h0M167.4 173.2h0M167.4 155.7h0M167.3 171.0h0M167.1 159.0h0M167.9 154.9h0M167.8 157.1h0M167.9 151.7h0M167.7 157.5h0M168.0 152.3h0M167.7 155.7h0M168.0 141.8h0M168.2 138.4h0M168.1 151.0h0M168.1 152.0h0M168.1 145.6h0M168.2 162.3h0M168.6 136.1h0M168.7 135.9h0M168.5 161.3h0M168.8 139.2h0M169.4 164.4h0M169.1 174.3h0M169.0 136.2h0M169.5 141.0h0M169.2 170.0h0M169.2 137.2h0M169.8 139.1h0M169.6 153.3h0M170.1 157.0h0M170.0 141.9h0M170.5 170.5h0M170.3 165.4h0M171.2 149.4h0M171.3 174.8h0M171.2 136.4h0M171.5 154.8h0M171.9 145.2h0M171.8 143.0h0M171.6 160.5h0M171.9 174.4h0M172.2 149.1h0M172.1 163.1h0M172.4 171.4h0M172.4 174.9h0M172.1 158.3h0M172.2 164.5h0M172.6 138.3h0M172.6 154.7h0M173.1 162.8h0M173.2 161.3h0M173.0 173.0h0M173.5 169.6h0M173.7 154.7h0M173.6 149.4h0M174.3 166.9h0M174.2 139.2h0M174.4 172.5h0M174.3 172.8h0M174.9 165.9h0M174.6 168.4h0M174.7 141.2h0M174.8 145.6h0M174.8 173.7h0M175.3 145.4h0M175.5 169.7h0M175.3 145.2h0M175.8 140.9h0M175.9 154.9h0M176.5 171.5h0M176.1 148.6h0M176.3 139.6h0M176.2 138.1h0M176.3 154.8h0M176.5 167.7h0M176.1 162.7h0M176.6 155.2h0M176.5 154.7h0M176.6 137.9h0M177.3 139.5h0M177.5 158.9h0M177.1 162.0h0M177.3 154.9h0M177.5 160.5h0M177.9 171.5h0M177.6 168.1h0M178.3 156.7h0M178.5 155.4h0M178.7 139.1h0M178.9 150.0h0M178.9 142.1h0M178.7 170.4h0M179.3 174.7h0M179.2 163.6h0M180.0 144.0h0M179.8 161.0h0M180.0 152.4h0M179.6 171.8h0M180.4 149.7h0M180.0 165.0h0M180.5 164.9h0M180.1 149.2h0M180.2 147.6h0M180.6 161.7h0M180.9 164.1h0M181.0 173.2h0M181.0 166.8h0M181.5 167.3h0M181.1 153.2h0M181.1 149.3h0M181.2 173.2h0M181.2 158.5h0M181.9 142.4h0M181.7 167.0h0M181.6 155.0h0M182.0 167.7h0M182.3 160.1h0M182.1 163.7h0M183.0 148.6h0M182.6 152.3h0M183.4 164.5h0M183.1 150.5h0M183.1 171.5h0M183.7 160.2h0M183.9 171.4h0M184.4 136.2h0M184.4 166.7h0M184.1 169.7h0M184.3 173.6h0M184.5 136.3h0M184.1 168.1h0M184.3 141.2h0M184.3 149.4h0M184.2 139.8h0M184.9 141.7h0M184.6 161.0h0M184.5 144.6h0M185.0 147.2h0M184.9 163.8h0M184.8 169.1h0M184.6 141.0h0M184.9 149.2h0M185.4 172.2h0M185.3 162.4h0M185.3 147.4h0M185.1 164.3h0M185.1 151.7h0M185.6 162.8h0M185.6 147.4h0M186.0 146.3h0M185.5 151.8h0M186.1 171.5h0M186.1 163.1h0M186.0 171.0h0M186.4 169.2h0M186.5 161.4h0M186.9 158.9h0M186.6 162.5h0M186.8 149.1h0M187.4 170.6h0M187.2 167.3h0M187.0 163.5h0M187.7 163.6h0M187.5 148.8h0M187.5 149.1h0M187.6 154.9h0M187.7 137.8h0M187.6 151.8h0M187.8 146.0h0M188.2 167.9h0M188.3 148.8h0M188.2 143.3h0M188.3 169.3h0M188.4 137.4h0M188.4 165.4h0M188.9 146.2h0M188.8 163.6h0M189.0 166.4h0M189.1 170.8h0M189.4 175.0h0M189.6 168.2h0M189.7 136.6h0M189.8 169.2h0M190.3 151.7h0M190.5 157.1h0M190.4 173.4h0M190.8 173.7h0M190.7 142.6h0M190.7 171.1h0M190.8 148.0h0M191.4 167.6h0M191.4 137.3h0M191.3 137.6h0M191.2 142.3h0M191.9 149.6h0M191.5 137.9h0M191.8 174.1h0M191.8 154.0h0M191.9 150.4h0M192.3 142.5h0M192.1 173.1h0M192.6 157.4h0M192.5 169.6h0M192.7 147.1h0M192.6 143.7h0M193.4 165.0h0M193.3 152.6h0M193.2 145.5h0M193.7 153.5h0M193.7 157.4h0M193.9 163.5h0M193.9 156.4h0M194.3 167.0h0M194.2 145.5h0M194.2 168.4h0M194.1 166.9h0M194.4 157.4h0M194.3 173.3h0M194.8 138.8h0M195.1 148.5h0M195.1 150.2h0M195.1 169.1h0M195.9 161.9h0M195.8 152.0h0M195.9 174.5h0M195.8 171.4h0M196.1 140.1h0M196.0 148.9h0M196.2 158.6h0M196.2 168.6h0M196.5 139.8h0M196.8 158.0h0M196.6 162.5h0M197.3 138.8h0M197.3 162.2h0M197.1 166.3h0M197.2 160.6h0M197.8 136.4h0M197.7 166.6h0M197.9 169.3h0M197.9 174.3h0M198.0 151.5h0M198.1 161.3h0M198.3 160.3h0M198.3 137.3h0M198.3 153.0h0M198.1 168.5h0M198.9 154.2h0M198.7 147.2h0M198.7 160.5h0M198.7 168.3h0M199.2 165.0h0M199.0 156.2h0M199.2 173.0h0M199.8 153.3h0M199.6 164.2h0M199.9 174.7h0M200.0 144.8h0M199.7 165.3h0M200.4 154.1h0M200.1 168.0h0M200.5 141.2h0M200.7 170.1h0M200.7 142.3h0M200.7 137.2h0M200.6 169.6h0M200.9 167.7h0M200.5 161.6h0M201.2 171.1h0M201.4 139.4h0M201.4 162.3h0M201.3 148.2h0M201.5 158.1h0M201.4 138.7h0M201.3 145.0h0M201.2 148.7h0M201.7 145.8h0M202.0 139.2h0M201.6 170.5h0M201.7 165.5h0M201.5 141.1h0M202.1 138.0h0M202.2 162.4h0M202.4 158.1h0M202.2 172.5h0M203.0 156.4h0M202.7 173.5h0M202.9 147.2h0M203.0 172.0h0M202.6 152.7h0M202.7 157.8h0M202.8 151.6h0M203.2 164.1h0M203.2 145.6h0M203.0 163.8h0M203.2 156.5h0M203.7 143.7h0M203.6 163.2h0M203.7 151.9h0M203.9 136.0h0M203.6 137.6h0M203.5 156.7h0M204.0 157.5h0M204.0 172.9h0M204.4 137.7h0M204.5 157.7h0M204.8 164.8h0M204.8 160.2h0M204.7 162.8h0M204.7 161.2h0M204.6 146.0h0M204.8 142.3h0M205.5 140.1h0M205.0 152.8h0M205.5 143.7h0M205.1 151.5h0M205.2 146.1h0M205.3 139.7h0M205.6 138.8h0M205.5 148.2h0M205.6 159.0h0M205.6 171.9h0M206.1 151.5h0M206.3 145.1h0M206.3 148.6h0M206.1 136.6h0M206.4 171.4h0M206.1 166.0h0M206.2 149.5h0M206.7 143.1h0M206.7 154.5h0M206.9 141.9h0M206.7 166.1h0M207.2 138.4h0M207.3 147.2h0M207.0 145.9h0M207.1 150.4h0M207.5 172.2h0M207.4 167.5h0M207.6 166.1h0M207.9 151.3h0M207.5 172.4h0M207.9 172.7h0M207.6 140.5h0M207.9 168.1h0M208.5 170.4h0M208.1 161.6h0M208.4 156.7h0M208.6 146.4h0M208.8 143.1h0M208.9 138.8h0M208.7 146.7h0M208.5 163.3h0M209.3 147.7h0M209.3 158.1h0M209.3 167.1h0M209.2 152.7h0M209.2 137.0h0M209.2 172.6h0M209.6 158.4h0M209.6 153.6h0M209.9 171.3h0M209.8 150.7h0M209.6 146.6h0M209.6 162.1h0M210.3 172.9h0M210.4 144.9h0M210.4 174.9h0M210.5 170.2h0M210.1 152.8h0M210.9 137.7h0M210.5 150.0h0M210.8 144.3h0M211.0 159.4h0M210.5 144.8h0M210.9 139.9h0M210.5 145.3h0M210.5 143.5h0M210.7 168.7h0M211.5 143.8h0M211.3 166.2h0M211.5 142.3h0M211.3 172.7h0M211.2 174.8h0M211.5 147.3h0M211.2 148.4h0M211.5 166.6h0M211.6 158.3h0M212.0 142.5h0M212.2 156.1h0M212.2 146.5h0M212.0 171.0h0M212.2 163.9h0M212.1 159.3h0M212.4 163.4h0M212.1 165.2h0M212.1 155.5h0M213.0 165.1h0M213.4 154.6h0M213.4 159.5h0M213.7 167.5h0M213.5 141.6h0M213.6 143.8h0M213.9 170.6h0M213.9 152.9h0M214.4 157.7h0M214.4 148.9h0M214.1 155.7h0M214.1 159.0h0M214.3 163.1h0M214.0 167.0h0M214.9 169.8h0M214.8 155.6h0M214.6 156.6h0M214.9 164.2h0M214.9 159.6h0M214.5 142.9h0M214.7 171.1h0M215.2 158.4h0M215.5 168.1h0M215.1 147.2h0M215.2 149.8h0M215.2 158.1h0M215.5 169.5h0M215.5 161.7h0M216.4 154.6h0M216.1 174.6h0M216.3 170.8h0M216.6 145.7h0M216.7 136.0h0M216.5 159.0h0M217.0 145.7h0M216.8 155.3h0M217.2 140.3h0M217.2 141.4h0M217.4 147.1h0M217.3 159.1h0M217.5 140.3h0M217.6 136.7h0M217.9 173.9h0M217.7 174.3h0M217.6 149.4h0M217.8 161.3h0M218.3 152.2h0M218.3 170.0h0M218.3 140.1h0M218.2 170.1h0M218.6 151.9h0M218.5 162.6h0M218.9 148.9h0M218.8 140.7h0M219.2 136.3h0M219.3 161.2h0M219.1 152.8h0M220.0 160.0h0M219.9 157.9h0M219.8 160.5h0M219.9 140.3h0M219.9 164.1h0M220.0 149.5h0M220.4 143.0h0M220.2 141.9h0M220.5 164.4h0M220.9 147.0h0M220.9 152.8h0M220.9 149.0h0M220.5 169.0h0M220.7 151.3h0M221.4 169.6h0M221.3 143.2h0M221.1 166.3h0M221.8 169.7h0M221.6 165.6h0M221.9 151.3h0M221.7 170.8h0M221.7 167.7h0M221.9 150.0h0M221.7 142.9h0M221.6 169.9h0M221.6 146.2h0M221.8 146.8h0M221.6 172.7h0M222.2 164.6h0M222.2 167.9h0M222.1 139.7h0M222.1 174.6h0M222.3 152.8h0M222.1 167.9h0M222.6 168.5h0M222.7 161.7h0M223.0 167.2h0M222.7 144.9h0M223.0 143.9h0M222.9 161.0h0M222.8 147.9h0M223.0 166.3h0M222.7 142.0h0M223.1 141.7h0M223.3 141.2h0M223.9 138.6h0M224.3 159.9h0M224.5 141.8h0M224.2 162.9h0M224.1 172.3h0M224.1 151.2h0M224.8 157.6h0M224.7 141.2h0M224.5 149.8h0M224.8 174.9h0M224.6 136.2h0M224.6 154.2h0M224.8 148.9h0M225.2 137.4h0M225.2 167.6h0M225.4 173.5h0M225.1 137.0h0M225.1 138.2h0M225.6 159.9h0M226.0 160.9h0M225.9 156.0h0M226.0 169.8h0M226.5 163.1h0M226.2 171.0h0M226.2 151.1h0M226.3 162.5h0M226.3 148.8h0M226.3 149.5h0M226.3 157.8h0M226.8 141.9h0M226.7 142.0h0M227.0 166.4h0M226.8 147.3h0M227.5 174.2h0M227.0 155.9h0M227.1 160.6h0M227.4 146.0h0M227.0 150.1h0M227.6 166.2h0M227.9 157.5h0M227.8 137.7h0M227.8 158.8h0M228.0 169.3h0M228.2 174.0h0M228.2 166.5h0M228.8 167.2h0M228.5 155.8h0M229.1 171.8h0M229.4 157.4h0M229.5 148.2h0M229.0 162.7h0M229.8 151.4h0M229.6 162.2h0M229.8 160.0h0M230.1 172.2h0M230.2 164.8h0M231.0 139.5h0M230.7 154.7h0M230.6 167.8h0M231.1 137.2h0M231.0 168.6h0M231.5 141.1h0M232.1 150.0h0M232.3 151.6h0M232.2 153.4h0M232.1 163.7h0M232.3 149.4h0M232.5 139.7h0M232.9 165.8h0M232.6 151.0h0M232.8 155.8h0M232.9 143.7h0M233.1 160.6h0M233.1 140.1h0M233.4 171.3h0M233.2 150.0h0M233.3 160.2h0M233.8 163.7h0M233.6 174.1h0M233.7 155.9h0M233.7 151.3h0M233.5 173.0h0M233.9 166.2h0M234.5 166.7h0M234.3 155.5h0M234.3 164.5h0M234.7 139.2h0M234.7 170.4h0M235.4 150.7h0M235.2 151.5h0M235.1 144.5h0M235.4 158.4h0M235.1 174.9h0M235.4 166.0h0M235.3 159.5h0M235.8 162.2h0M236.0 172.8h0M236.3 158.5h0M236.3 140.2h0M236.6 174.4h0M236.9 150.3h0M236.8 164.6h0M236.7 158.9h0M236.7 169.3h0M237.3 137.8h0M237.2 165.9h0M237.6 172.2h0M237.6 166.9h0M237.9 160.9h0M238.2 144.3h0M238.1 147.7h0M238.6 170.9h0M238.7 164.0h0M238.9 158.3h0M238.7 170.5h0M238.5 165.7h0M238.6 163.5h0M239.4 149.2h0M239.0 169.2h0M239.0 143.7h0M240.0 146.5h0M239.7 167.1h0M239.9 140.6h0M240.5 151.9h0M240.3 165.4h0M240.9 169.0h0M240.8 149.3h0M241.2 151.6h0M241.2 165.6h0M241.9 155.8h0M241.5 168.0h0M241.8 140.1h0M241.9 137.8h0M242.4 167.1h0M242.2 168.9h0M242.2 166.9h0M242.2 168.8h0M242.1 156.1h0M242.7 138.6h0M243.4 150.1h0M244.2 154.5h0M244.3 159.8h0M244.7 146.4h0M244.8 143.9h0M244.8 146.0h0M244.6 137.6h0M245.1 146.3h0M245.6 164.6h0M246.3 169.4h0M246.0 148.0h0M246.0 153.4h0M246.5 162.3h0M247.0 141.7h0M247.0 163.1h0M246.6 147.4h0M247.2 148.4h0M247.1 147.6h0M247.1 173.4h0M247.3 173.7h0M247.1 160.5h0M247.2 172.0h0M248.2 147.0h0M248.1 137.1h0M249.0 141.0h0M249.1 165.0h0M249.3 169.6h0M249.3 174.9h0M249.2 151.7h0M249.6 168.0h0M249.6 141.7h0M250.1 160.3h0"/>
<path stroke="#f5aabc" stroke-width="2.1" stroke-linecap="round" fill="none" d="M356.9 33.9h0M363.7 27.4h0M370.7 33.9h0M377.5 27.4h0M384.5 33.9h0M391.3 27.4h0M398.3 33.9h0M405.1 27.4h0M412.1 33.9h0M418.9 27.4h0M425.9 33.9h0M432.7 27.4h0M439.7 33.9h0M446.5 27.4h0M453.5 33.9h0M460.3 27.4h0M467.3 33.9h0M474.1 27.4h0M481.1 33.9h0M487.9 27.4h0M494.9 33.9h0M501.7 27.4h0M508.7 33.9h0M515.5 27.4h0M522.5 33.9h0M529.3 27.4h0M536.3 33.9h0M543.1 27.4h0M550.1 33.9h0M356.9 44.1h0M363.7 37.6h0M370.7 44.1h0M377.5 37.6h0M384.5 44.1h0M391.3 37.6h0M398.3 44.1h0M405.1 37.6h0M412.1 44.1h0M418.9 37.6h0M425.9 44.1h0M432.7 37.6h0M439.7 44.1h0M446.5 37.6h0M453.5 44.1h0M460.3 37.6h0M467.3 44.1h0M474.1 37.6h0M481.1 44.1h0M487.9 37.6h0M494.9 44.1h0M501.7 37.6h0M508.7 44.1h0M515.5 37.6h0M522.5 44.1h0M529.3 37.6h0M536.3 44.1h0M543.1 37.6h0M550.1 44.1h0M356.9 54.3h0M363.7 47.8h0M370.7 54.3h0M377.5 47.8h0M384.5 54.3h0M391.3 47.8h0M398.3 54.3h0M405.1 47.8h0M412.1 54.3h0M418.9 47.8h0M425.9 54.3h0M432.7 47.8h0M439.7 54.3h0M446.5 47.8h0M453.5 54.3h0M460.3 47.8h0M467.3 54.3h0M474.1 47.8h0M481.1 54.3h0M487.9 47.8h0M494.9 54.3h0M501.7 47.8h0M508.7 54.3h0M515.5 47.8h0M522.5 54.3h0M529.3 47.8h0M536.3 54.3h0M543.1 47.8h0M550.1 54.3h0M356.9 64.5h0M363.7 58.0h0M370.7 64.5h0M377.5 58.0h0M384.5 64.5h0M391.3 58.0h0M398.3 64.5h0M405.1 58.0h0M412.1 64.5h0M418.9 58.0h0M425.9 64.5h0M432.7 58.0h0M439.7 64.5h0M446.5 58.0h0M453.5 64.5h0M460.3 58.0h0M467.3 64.5h0M474.1 58.0h0M481.1 64.5h0M487.9 58.0h0M494.9 64.5h0M501.7 58.0h0M508.7 64.5h0M515.5 58.0h0M522.5 64.5h0M529.3 58.0h0M536.3 64.5h0M543.1 58.0h0M550.1 64.5h0"/>
<path stroke="#f5aabc" stroke-width="2.5" stroke-linecap="round" fill="none" d="M356.9 88.1h0M357.3 87.9h0M363.6 81.3h0M371.2 88.5h0M370.3 88.3h0M378.2 81.5h0M376.9 83.0h0M384.8 88.5h0M385.9 87.7h0M391.6 81.8h0M397.9 87.6h0M398.2 88.0h0M406.0 81.5h0M405.0 81.5h0M411.2 87.8h0M411.4 88.2h0M425.0 88.6h0M425.2 88.1h0M431.8 82.4h0M439.4 88.4h0M439.3 88.3h0M445.9 81.2h0M453.1 87.9h0M453.7 87.8h0M460.8 81.2h0M460.7 82.3h0M466.2 89.0h0M466.3 88.9h0M474.6 82.0h0M480.8 88.6h0M481.7 88.5h0M356.7 98.3h0M357.4 98.8h0M364.3 91.9h0M363.3 92.0h0M370.9 98.0h0M370.9 97.8h0M377.6 91.5h0M378.7 92.5h0M384.6 97.6h0M383.8 98.7h0M391.2 92.0h0M390.4 91.0h0M398.4 98.2h0M397.6 97.9h0M405.5 91.6h0M405.4 92.7h0M412.3 98.4h0M411.8 99.0h0M418.1 91.2h0M418.9 91.0h0M426.4 98.0h0M426.2 98.1h0M432.6 91.8h0M431.6 91.2h0M439.4 99.5h0M440.1 98.7h0M445.9 92.3h0M447.2 92.2h0M454.9 97.6h0M452.9 98.2h0M459.8 91.8h0M460.6 91.8h0M467.5 98.7h0M466.9 97.9h0M473.9 91.3h0M474.3 91.6h0M356.9 108.8h0M357.4 108.0h0M363.0 102.9h0M363.3 101.1h0M369.7 108.5h0M370.3 107.5h0M377.0 101.4h0M378.0 102.1h0M384.5 107.8h0M384.4 108.9h0M391.4 102.6h0M391.3 102.4h0M398.5 108.2h0M399.0 108.7h0M405.5 101.4h0M404.5 101.9h0M411.6 108.8h0M412.3 109.2h0M419.2 101.4h0M419.4 101.6h0M425.5 108.5h0M425.9 109.1h0M434.2 102.2h0M433.5 101.9h0M439.9 108.2h0M439.5 109.2h0M446.7 102.2h0M446.1 102.9h0M453.4 108.1h0M453.5 108.9h0M460.7 102.8h0M459.7 101.8h0M356.8 117.8h0M356.4 118.2h0M363.6 111.5h0M364.2 112.2h0M370.6 119.2h0M370.5 118.0h0M377.5 113.4h0M377.5 112.5h0M384.4 118.6h0M384.8 117.2h0M390.6 111.9h0M391.1 113.0h0M399.6 119.0h0M398.5 119.1h0M405.9 111.7h0M404.8 112.3h0M412.3 117.7h0M412.3 117.8h0M419.3 112.7h0M417.7 112.5h0M426.0 118.4h0M426.4 119.8h0M433.0 111.6h0M431.9 111.6h0M439.1 119.3h0M439.8 118.7h0M447.0 112.2h0M446.5 111.7h0M453.2 118.7h0M452.9 119.6h0M460.4 111.9h0M460.8 111.6h0M467.3 119.7h0M467.0 118.5h0M481.2 118.1h0M481.3 118.3h0M355.9 143.1h0M358.1 143.7h0M363.7 136.4h0M370.0 142.4h0M371.4 142.9h0M378.1 136.3h0M378.1 136.0h0M384.2 142.3h0M383.5 142.6h0M390.6 136.0h0M391.4 136.4h0M398.5 142.6h0M398.3 143.4h0M405.0 136.3h0M412.7 142.3h0M411.5 143.3h0M418.2 136.8h0M418.8 135.9h0M424.8 143.5h0M424.9 142.1h0M433.0 136.3h0M439.5 142.2h0M439.3 142.9h0M446.0 136.6h0M446.6 136.6h0M453.8 143.0h0M453.9 143.0h0M357.2 153.2h0M356.4 152.0h0M363.7 147.0h0M363.2 145.6h0M370.4 153.2h0M371.2 152.8h0M376.8 146.5h0M377.9 146.5h0M385.0 152.7h0M385.0 153.9h0M390.7 146.0h0M391.6 148.2h0M398.6 153.0h0M399.0 152.9h0M404.2 146.0h0M405.8 145.6h0M411.3 153.4h0M412.2 153.7h0M418.3 146.1h0M418.7 145.8h0M425.8 152.9h0M426.4 152.9h0M432.5 146.8h0M433.3 147.1h0M439.8 152.8h0M439.4 152.3h0M446.5 146.5h0M447.4 146.6h0M355.9 162.8h0M356.8 163.3h0M363.1 157.2h0M364.2 157.0h0M371.1 162.6h0M371.3 162.9h0M376.5 156.8h0M377.7 156.3h0M383.6 162.6h0M384.4 161.8h0M391.9 157.2h0M391.2 157.3h0M398.2 162.6h0M398.6 163.5h0M404.6 155.9h0M404.5 157.3h0M411.9 164.7h0M411.7 163.5h0M419.1 156.6h0M419.3 156.2h0M425.9 162.5h0M424.7 163.2h0M432.1 156.0h0M433.0 156.6h0M439.9 164.1h0M439.8 163.4h0M445.8 157.1h0M447.0 156.1h0M356.8 173.4h0M358.2 173.0h0M363.5 166.9h0M363.6 165.9h0M371.0 173.9h0M371.6 173.1h0M376.8 167.2h0M376.9 166.9h0M384.3 173.5h0M384.2 173.8h0M390.8 168.2h0M391.7 166.5h0M397.8 173.3h0M398.0 172.9h0M405.9 167.4h0M404.5 167.2h0M412.1 173.8h0M411.7 174.6h0M418.9 168.0h0M418.6 167.6h0M425.8 174.3h0M425.8 172.8h0M432.1 166.5h0M433.0 167.1h0M439.8 174.0h0M440.6 172.8h0M447.0 168.2h0M446.2 166.6h0M453.6 173.1h0M453.5 174.3h0"/>
<path stroke="#f5aabc" stroke-width="2.3" stroke-linecap="round" fill="none" d="M469.5 91.4h0M470.1 113.3h0M475.1 116.6h0M476.2 107.3h0M476.5 104.3h0M476.4 91.4h0M477.1 83.5h0M477.7 99.5h0M477.9 114.3h0M479.0 114.3h0M479.8 103.3h0M479.6 104.5h0M480.8 107.1h0M480.5 109.2h0M481.3 82.6h0M481.3 101.1h0M481.9 109.5h0M481.6 118.2h0M481.8 109.1h0M482.0 105.3h0M482.5 82.3h0M482.9 103.3h0M484.6 107.6h0M485.8 96.0h0M485.5 96.6h0M487.4 108.7h0M487.7 113.6h0M487.6 82.6h0M488.3 82.7h0M488.7 82.8h0M489.1 97.4h0M488.9 109.0h0M489.2 105.8h0M490.6 91.3h0M490.5 111.0h0M491.0 91.4h0M491.2 95.2h0M491.6 101.3h0M491.5 88.8h0M491.8 108.3h0M492.2 114.9h0M492.2 116.3h0M493.3 119.9h0M493.9 91.2h0M494.3 118.3h0M494.4 112.5h0M494.6 103.6h0M495.4 95.1h0M495.3 86.1h0M495.4 99.1h0M495.5 92.1h0M497.0 100.3h0M497.1 81.3h0M499.3 110.8h0M499.4 113.9h0M499.8 95.0h0M500.0 108.3h0M501.2 106.2h0M502.2 95.1h0M502.2 87.0h0M502.4 109.2h0M502.5 82.0h0M502.7 87.0h0M502.6 83.2h0M503.1 113.3h0M503.7 82.1h0M504.9 118.6h0M504.7 81.4h0M505.0 105.3h0M506.4 91.9h0M506.9 119.3h0M508.3 115.0h0M510.3 95.7h0M512.9 107.3h0M513.3 113.9h0M513.0 89.6h0M515.0 117.9h0M516.5 105.9h0M517.5 94.7h0M518.8 114.1h0M518.4 100.8h0M518.9 118.1h0M520.4 92.8h0M520.9 93.1h0M522.3 111.0h0M523.8 96.9h0M524.4 109.2h0M525.4 108.8h0M526.7 104.7h0M526.4 98.0h0M526.9 116.7h0M528.8 90.3h0M529.1 115.7h0M529.1 119.9h0M531.1 107.9h0M532.6 104.6h0M534.8 81.6h0M534.9 94.4h0M538.3 119.2h0M539.5 91.5h0M540.9 94.2h0M540.8 110.5h0M541.8 89.0h0M543.0 82.0h0M543.4 86.4h0M546.0 116.4h0M546.2 108.7h0M548.6 87.5h0M550.2 84.5h0M550.5 119.0h0M551.5 119.8h0M553.0 95.2h0M555.0 99.3h0M556.0 95.7h0M556.3 103.5h0M557.0 95.1h0M557.1 104.0h0M557.2 86.6h0M557.5 83.7h0M559.3 114.2h0M560.3 100.5h0M560.3 94.0h0M561.0 113.5h0M561.8 118.1h0M561.9 98.8h0M562.8 107.0h0M562.7 90.4h0M563.4 108.7h0M563.0 95.0h0M564.9 88.7h0M566.7 117.8h0M567.3 114.8h0M567.7 84.7h0M568.2 93.3h0M569.3 84.9h0M569.7 116.8h0M571.2 109.8h0M571.4 111.0h0M571.5 109.2h0M571.5 99.4h0M452.5 165.2h0M455.5 161.9h0M455.6 174.7h0M457.5 171.9h0M457.9 161.3h0M458.2 171.3h0M459.8 168.3h0M459.5 166.2h0M460.3 152.7h0M460.5 138.5h0M460.9 174.6h0M462.6 137.8h0M462.8 169.9h0M462.4 148.6h0M462.8 151.9h0M463.3 173.1h0M463.3 169.5h0M463.1 157.4h0M463.8 138.0h0M465.0 146.6h0M464.9 172.1h0M465.1 143.5h0M467.0 150.5h0M466.9 168.0h0M467.1 147.6h0M467.4 173.7h0M467.4 168.4h0M467.8 168.0h0M467.8 152.5h0M468.3 150.5h0M468.2 136.8h0M467.9 139.5h0M469.1 160.1h0M470.5 142.3h0M470.6 147.1h0M470.8 154.1h0M470.7 149.3h0M471.3 168.2h0M471.0 147.2h0M471.4 151.7h0M471.6 156.6h0M471.9 173.1h0M471.5 139.9h0M472.3 154.8h0M473.3 156.6h0M473.9 153.1h0M474.3 173.8h0M474.3 168.0h0M474.0 145.4h0M474.4 148.8h0M474.5 155.3h0M474.8 145.6h0M474.4 143.8h0M475.2 174.3h0M475.4 136.6h0M476.2 143.5h0M476.1 157.3h0M476.8 170.8h0M476.9 152.1h0M477.1 159.7h0M480.3 170.5h0M480.6 139.8h0M480.5 174.0h0M480.8 170.7h0M480.8 168.8h0M481.1 174.7h0M482.3 169.3h0M483.1 152.9h0M483.1 155.5h0M484.4 150.9h0M484.7 142.3h0M484.9 169.5h0M484.6 167.8h0M484.7 137.9h0M484.6 137.7h0M485.0 138.0h0M485.2 174.5h0M485.8 136.2h0M485.6 158.8h0M486.4 158.9h0M486.1 157.3h0M486.2 151.4h0M487.5 157.6h0M487.5 153.3h0M488.1 164.4h0M488.1 166.6h0M488.2 162.6h0M488.0 148.2h0M488.8 138.8h0M488.6 152.1h0M489.1 143.7h0M489.4 137.3h0M489.5 146.3h0M490.9 150.7h0M490.8 163.0h0M491.4 159.8h0M491.4 172.8h0M492.7 144.2h0M492.6 147.7h0M493.7 157.8h0M493.8 143.0h0M493.5 151.5h0M494.2 146.6h0M495.3 161.3h0M495.4 142.0h0M495.8 153.4h0M496.1 138.6h0M496.2 144.6h0M496.5 168.0h0M496.9 173.0h0M497.3 151.3h0M497.8 174.4h0M498.1 143.0h0M498.9 173.8h0M499.7 172.5h0M499.8 174.4h0M500.0 144.8h0M500.8 137.0h0M500.5 171.5h0M501.2 144.0h0M501.5 163.2h0M501.7 172.3h0M501.9 172.1h0M502.6 153.9h0M502.5 160.5h0M502.5 144.5h0M503.6 170.8h0M503.9 147.2h0M504.3 152.5h0M504.0 140.6h0M504.8 142.4h0M504.9 152.1h0M505.1 144.7h0M505.3 157.8h0M505.3 138.4h0M504.9 138.7h0M505.3 156.8h0M506.7 143.2h0M507.0 167.5h0M507.5 153.1h0M508.0 144.1h0M508.2 162.4h0M508.0 143.5h0M509.8 156.7h0M509.7 170.4h0M514.2 136.5h0M514.9 162.6h0M515.7 138.7h0M516.3 173.4h0M516.6 148.1h0M517.3 154.0h0M518.9 148.9h0M519.6 174.2h0M521.6 152.0h0M522.6 153.8h0M526.2 170.5h0M528.3 149.6h0M533.6 160.2h0M533.7 137.5h0M534.2 161.5h0M534.6 170.3h0M535.2 147.6h0M535.2 160.8h0M535.1 169.8h0M535.8 165.2h0M536.1 165.3h0M536.7 151.1h0M538.4 138.6h0M538.5 144.0h0M540.5 162.4h0M541.3 143.7h0M541.4 141.2h0M542.6 157.3h0M542.4 140.8h0M542.6 139.8h0M543.8 150.9h0M544.5 160.8h0M544.8 144.1h0M546.4 163.5h0M546.8 149.0h0M546.9 147.0h0M547.2 171.5h0M547.5 148.2h0M547.5 158.5h0M548.8 162.1h0M548.6 171.7h0M549.0 139.3h0M549.5 163.7h0M550.7 159.9h0M550.6 148.8h0M551.4 155.1h0M551.8 143.1h0M554.1 172.6h0M554.4 164.2h0M555.6 153.8h0M557.8 173.4h0M559.8 136.2h0M560.2 144.8h0M560.0 168.9h0M560.5 173.4h0M560.9 154.2h0M561.8 170.3h0M561.5 169.2h0M562.0 150.3h0M562.5 153.1h0M563.1 146.9h0M563.3 156.0h0M565.1 151.9h0M567.4 157.9h0M571.1 161.4h0M573.7 146.7h0M574.7 158.6h0M575.0 142.0h0M575.2 166.7h0M575.4 158.0h0M575.8 143.4h0M575.9 159.5h0M576.8 148.9h0M576.8 156.3h0M576.6 137.1h0M577.6 145.3h0M579.6 139.0h0M581.1 155.0h0M583.6 145.2h0M584.1 162.5h0M587.1 142.2h0M588.2 160.4h0M588.7 139.5h0M588.7 145.0h0M589.9 149.4h0M589.8 155.1h0M589.7 138.3h0M591.4 170.3h0M593.7 158.0h0M594.0 156.1h0M595.4 169.5h0M596.3 155.4h0"/>
<path stroke="#e9e9e9" stroke-width="1.9" stroke-linecap="round" fill="none" d="M8.7 264.9h0M31.9 242.2h0M15.7 265.6h0M19.0 257.2h0M22.2 250.9h0M18.5 245.2h0M10.7 241.8h0M22.4 285.9h0M23.2 246.1h0M15.4 241.7h0M11.7 240.5h0M14.4 272.5h0M6.9 281.2h0M28.3 278.7h0M15.4 277.4h0M13.4 280.8h0M23.5 286.2h0M25.0 277.9h0M27.7 262.2h0M28.6 275.8h0M15.8 243.3h0M18.2 261.2h0M17.0 266.4h0M30.0 247.6h0M20.7 253.7h0M19.7 242.3h0M15.8 248.2h0M19.2 256.1h0M20.2 259.5h0M11.6 242.1h0M14.2 259.0h0M8.7 239.3h0M17.7 265.7h0M24.8 259.9h0M13.9 258.6h0M8.0 259.1h0M30.6 254.2h0M31.0 279.8h0M20.0 281.3h0M15.8 285.6h0M27.4 268.5h0M25.6 276.7h0M21.7 256.1h0M12.0 265.9h0M24.5 240.7h0M23.5 287.3h0M9.1 285.9h0M14.0 244.2h0M30.5 253.8h0M9.6 253.2h0M33.6 267.7h0M22.0 242.8h0M32.4 244.6h0M11.5 263.9h0M15.6 247.4h0M7.7 252.4h0M25.8 249.3h0M25.2 245.5h0M13.9 257.5h0M30.3 250.0h0M26.6 286.9h0M10.8 266.9h0M14.7 269.3h0M28.8 243.5h0M21.7 265.7h0M18.9 262.5h0M8.6 254.2h0M22.0 270.1h0M12.8 243.3h0M12.3 255.8h0M17.0 255.0h0M20.3 290.3h0M17.9 254.7h0M12.8 266.1h0M18.9 251.9h0M31.6 284.3h0M11.3 288.6h0M26.7 245.3h0M28.4 278.3h0M24.8 267.2h0M24.8 245.0h0M7.4 277.1h0M26.1 274.8h0M20.8 269.3h0M19.1 274.4h0M18.3 281.0h0M7.6 279.2h0M14.6 249.3h0M28.9 250.8h0M29.7 268.2h0M28.6 252.5h0M26.1 251.1h0M27.7 281.9h0M23.3 272.0h0M6.7 261.6h0M22.7 272.9h0M21.9 250.0h0M32.4 252.5h0M27.3 262.9h0M25.7 284.1h0M199.0 257.3h0M192.2 255.0h0M173.0 245.2h0M175.4 290.8h0M175.8 267.9h0M177.2 246.5h0M178.8 261.7h0M160.2 268.2h0M174.6 280.8h0M193.6 280.4h0M196.5 244.2h0M196.6 250.7h0M189.3 257.9h0M187.2 240.3h0M173.5 264.8h0M179.7 255.0h0M170.4 241.8h0M169.4 269.7h0M206.0 274.0h0M172.6 290.0h0M196.4 244.7h0M192.6 274.7h0M162.3 275.6h0M161.9 249.4h0M194.3 264.5h0M209.5 265.1h0M179.2 288.8h0M162.9 239.1h0M177.8 290.1h0M178.7 280.5h0M197.4 248.7h0M159.5 275.5h0M212.7 275.5h0M164.2 268.2h0M203.3 259.1h0M168.3 267.2h0M184.9 247.1h0M173.4 245.6h0M183.9 253.1h0M172.5 261.4h0M180.6 271.6h0M176.9 284.4h0M180.1 247.1h0M191.2 254.2h0M204.8 257.3h0M175.9 265.4h0M204.7 271.5h0M176.8 261.6h0M161.2 284.4h0M187.3 263.4h0M188.2 248.8h0M180.1 284.4h0M159.9 262.3h0M158.3 255.4h0M196.2 266.8h0M163.1 242.9h0M180.0 268.3h0M187.0 280.8h0M169.1 255.5h0M178.2 249.7h0M173.8 246.3h0M204.8 248.9h0M159.6 274.5h0M161.8 272.9h0M194.3 285.8h0M195.5 242.4h0M169.5 242.0h0M197.2 267.3h0M164.0 270.3h0M186.2 265.7h0M183.0 257.4h0M159.7 265.6h0M177.0 285.1h0M190.7 262.8h0M165.1 252.8h0M169.3 244.9h0M200.7 284.2h0M201.8 274.6h0M195.2 242.0h0M208.5 254.2h0M187.3 269.4h0M186.0 269.4h0M174.6 280.2h0M172.0 272.7h0M190.7 245.5h0M199.5 264.3h0M176.4 264.5h0M206.0 280.9h0M174.7 279.3h0M187.0 266.5h0M180.8 271.8h0M171.9 268.6h0M210.2 280.3h0M201.9 270.6h0M163.7 248.1h0M193.6 288.1h0M161.3 282.0h0M182.9 240.5h0M157.0 245.5h0M166.7 274.9h0M175.6 261.8h0M198.7 244.6h0M194.5 240.7h0M156.3 252.3h0M167.3 255.2h0M202.1 254.5h0M169.9 245.5h0M159.5 289.1h0M160.8 258.7h0M177.9 240.5h0M190.4 266.5h0M158.7 283.4h0M188.8 245.9h0M184.8 278.6h0M158.5 268.6h0M159.9 267.2h0M162.2 254.0h0M168.5 264.9h0M205.0 285.2h0M174.2 246.3h0M167.1 260.1h0M166.4 256.0h0M209.2 240.3h0M198.4 272.6h0M209.6 273.7h0M206.9 246.8h0M168.0 272.8h0M182.2 287.2h0M173.7 239.1h0M161.5 283.5h0M186.4 251.0h0M171.2 252.3h0M169.7 264.4h0M176.7 247.2h0M156.8 243.3h0M164.8 288.6h0M164.7 256.3h0M189.7 272.9h0M203.2 252.5h0M189.9 248.4h0M164.2 255.7h0M184.5 248.8h0M206.4 243.0h0M164.9 267.6h0M172.4 272.6h0M207.9 249.7h0M199.3 262.6h0M200.6 282.4h0M200.7 263.5h0M168.0 271.6h0M191.1 257.8h0M200.6 287.2h0M198.4 277.9h0M211.3 243.1h0M181.4 275.9h0M159.4 264.5h0M195.0 290.8h0M199.3 261.1h0M158.4 273.5h0M176.8 250.0h0M174.9 247.5h0M186.5 271.8h0M201.0 267.6h0M174.3 239.5h0M209.5 261.9h0M161.4 242.6h0M159.6 245.2h0M200.4 274.2h0M204.0 283.6h0M203.1 289.3h0M161.5 284.0h0M187.5 249.6h0M191.2 288.9h0M170.5 239.3h0M174.9 264.4h0M190.0 282.2h0M166.3 253.8h0M191.6 259.0h0M162.9 274.7h0M164.9 274.6h0M168.8 261.0h0M172.0 277.6h0M186.7 280.0h0M188.6 286.5h0M156.4 271.6h0M194.5 251.1h0M175.7 254.2h0M188.4 240.4h0M194.6 250.7h0M195.4 267.7h0M183.4 281.7h0M174.3 275.3h0M204.4 249.4h0M177.4 270.0h0M168.8 254.7h0M181.6 278.1h0M194.1 275.6h0M190.2 267.2h0M159.9 267.0h0M189.8 256.0h0M177.4 246.0h0M208.2 262.7h0M200.3 239.8h0M171.0 276.2h0M193.8 274.0h0M200.0 277.4h0M199.7 287.9h0M202.9 265.5h0M163.1 267.0h0M183.6 273.1h0M191.3 258.4h0M181.9 255.5h0M171.9 280.2h0M31.2 322.5h0M25.8 323.1h0M21.1 343.2h0M16.7 324.5h0M23.7 312.0h0M8.5 335.6h0M12.8 308.3h0M29.5 353.7h0M14.8 347.4h0M19.2 309.2h0M8.6 318.2h0M23.2 338.5h0M14.5 303.9h0M14.6 353.2h0M27.2 319.1h0M31.2 318.4h0M9.5 351.6h0M20.3 323.4h0M18.2 324.5h0M8.2 339.4h0M29.0 349.5h0M16.7 314.6h0M18.5 308.0h0M24.9 345.5h0M20.1 321.1h0M10.2 334.1h0M28.2 340.7h0M29.9 352.7h0M24.4 332.3h0M13.8 348.4h0M31.0 324.0h0M19.0 353.8h0M23.5 327.5h0M8.8 347.9h0M10.2 336.2h0M16.6 324.7h0M18.7 335.1h0M6.9 341.4h0M7.0 324.5h0M21.6 320.7h0M16.0 330.3h0M13.5 330.1h0M32.8 334.4h0M32.8 312.1h0M33.8 307.6h0M21.1 308.3h0M12.1 307.9h0M24.9 343.5h0M27.5 319.5h0M11.9 343.1h0M29.6 354.7h0M11.8 336.2h0M26.7 341.0h0M15.9 312.6h0M14.9 318.4h0M16.3 350.2h0M17.1 308.6h0M24.8 342.2h0M21.9 353.7h0M34.4 338.5h0M21.6 309.3h0M24.4 349.4h0M29.4 330.7h0M15.4 348.4h0M19.1 309.3h0M34.1 306.5h0M7.7 349.1h0M6.3 311.2h0M26.7 306.0h0M12.8 346.6h0M32.7 309.9h0M26.8 340.3h0M8.5 331.7h0M26.1 310.3h0M9.9 334.8h0M18.3 312.0h0M11.7 352.8h0M19.3 326.2h0M20.4 319.7h0M21.2 339.1h0M22.2 344.0h0M17.6 335.8h0M18.3 314.9h0M6.2 307.9h0M33.9 312.2h0M29.2 347.0h0M27.8 355.0h0M32.4 346.7h0M20.0 351.2h0M30.4 304.0h0M33.1 324.5h0M27.8 317.4h0M31.7 312.3h0M14.7 345.0h0M28.5 315.8h0M28.6 342.3h0M25.8 334.9h0M24.8 339.3h0M26.4 313.7h0M27.0 330.0h0M30.6 353.4h0M14.9 340.6h0M194.5 342.8h0M172.0 342.3h0M204.6 341.8h0M168.6 313.9h0M159.2 339.6h0M208.7 338.8h0M179.0 318.6h0M171.8 325.8h0M177.3 310.7h0M199.3 351.0h0M163.6 312.3h0M160.7 342.3h0M170.6 316.5h0M166.1 343.5h0M164.9 337.8h0M190.8 329.4h0M179.1 338.8h0M196.5 333.9h0M190.3 334.4h0M192.3 328.2h0M202.9 317.4h0M213.0 314.6h0M211.4 308.1h0M199.5 350.1h0M185.7 350.5h0M204.2 328.9h0M191.1 329.8h0M197.8 316.9h0M168.9 346.7h0M199.3 319.5h0M215.9 333.8h0M199.4 353.5h0M210.7 318.8h0M198.6 339.3h0M193.6 341.4h0M212.0 316.1h0M208.5 354.2h0M213.0 326.6h0M207.1 345.8h0M180.6 353.3h0M168.7 338.7h0M206.3 312.8h0M185.6 339.4h0M177.6 313.6h0M204.9 337.3h0M165.5 339.3h0M214.1 318.1h0M162.2 316.1h0M181.7 340.2h0M195.8 353.3h0M174.3 328.6h0M192.6 318.3h0M209.2 311.5h0M215.1 344.9h0M207.6 330.5h0M175.1 325.0h0M203.6 319.2h0M188.6 338.9h0M184.5 313.8h0M162.3 315.9h0M176.1 351.6h0M199.6 306.1h0M169.4 349.4h0M184.6 318.6h0M198.7 330.4h0M175.0 354.0h0M205.4 350.5h0M163.2 345.3h0M172.9 309.4h0M162.9 326.2h0M211.7 328.8h0M199.1 324.1h0M171.5 334.3h0M185.7 340.3h0M172.8 337.1h0M165.2 310.3h0M174.9 342.2h0M167.6 309.6h0M165.5 350.6h0M180.9 350.0h0M216.2 342.4h0M186.5 339.6h0M200.8 328.8h0M172.2 310.5h0M165.1 345.4h0M212.2 331.8h0M214.5 353.8h0M188.1 338.9h0M195.0 330.6h0M211.2 321.7h0M169.4 330.0h0M167.2 326.0h0M168.8 338.6h0M177.9 350.8h0M196.2 321.2h0M196.8 332.2h0M192.3 320.2h0M216.9 329.3h0M188.0 314.2h0M199.3 346.9h0M205.6 304.6h0M163.6 327.5h0M198.0 354.9h0M173.0 333.7h0M209.0 343.2h0M190.6 333.6h0M170.8 306.8h0M180.2 332.7h0M201.9 326.7h0M172.4 303.9h0M191.6 315.4h0M182.7 325.8h0M193.0 316.8h0M206.5 314.2h0M214.5 344.9h0M215.9 333.2h0M208.8 305.2h0M180.8 330.3h0M189.1 354.2h0M215.8 307.4h0M179.7 308.1h0M206.6 339.7h0M184.7 309.8h0M161.1 326.7h0M184.2 318.0h0M167.8 343.6h0M163.0 311.2h0M204.7 318.6h0M199.1 328.3h0M184.9 318.9h0M185.3 341.8h0M182.2 332.5h0M209.6 309.3h0M185.5 340.4h0M208.2 326.6h0M193.9 320.0h0M212.7 332.1h0M168.9 320.1h0M182.9 318.0h0M197.7 308.9h0M209.8 337.5h0M177.8 319.9h0M184.3 325.0h0M197.5 318.1h0M160.4 318.0h0M215.8 343.8h0M201.5 304.4h0M213.3 342.6h0M168.3 346.8h0M175.4 346.3h0M178.9 352.2h0M203.3 327.3h0M170.8 332.1h0M170.2 346.0h0M184.5 308.7h0M169.1 323.2h0M161.8 344.9h0M187.1 352.9h0M171.6 323.0h0M164.7 330.6h0M185.1 332.7h0M192.8 318.6h0M169.3 354.6h0M197.2 305.7h0M173.8 351.6h0M164.5 344.8h0M173.4 324.2h0M169.9 323.8h0M212.4 337.7h0M213.2 347.8h0M201.3 324.7h0M212.7 341.3h0M202.2 335.4h0M211.0 328.2h0M196.1 326.2h0M167.4 321.6h0M187.2 314.2h0M206.7 333.3h0M210.5 332.3h0M207.0 324.6h0M202.7 344.1h0M170.3 338.4h0M188.2 307.4h0M195.0 349.9h0M201.8 334.1h0M211.7 328.5h0M177.5 342.1h0M210.7 336.2h0M179.0 311.5h0M210.6 324.5h0M209.9 341.9h0M186.1 325.8h0M214.7 336.8h0M172.5 318.9h0M210.3 350.7h0M199.2 307.6h0M196.1 308.7h0M201.7 329.9h0M172.4 312.4h0M175.6 311.3h0M187.9 342.9h0M206.9 326.2h0M171.1 329.9h0M173.4 352.5h0M181.5 348.3h0M174.7 352.0h0M200.3 315.4h0M204.5 317.1h0M163.2 350.0h0M196.4 319.4h0M201.2 326.2h0M209.3 311.1h0M364.5 278.5h0M365.0 273.5h0M361.0 285.0h0M365.5 273.4h0M368.7 239.7h0M376.0 260.5h0M353.3 290.7h0M362.0 290.3h0M373.0 248.6h0M372.3 288.9h0M363.8 252.0h0M365.8 282.5h0M359.9 283.6h0M361.5 288.5h0M361.7 265.4h0M364.4 257.9h0M372.0 242.7h0M368.8 269.6h0M372.4 284.9h0M376.6 250.3h0M364.2 258.5h0M359.0 255.7h0M368.1 264.8h0M366.0 249.6h0M361.9 258.9h0M368.9 256.3h0M362.3 266.9h0M366.3 285.0h0M363.5 262.1h0M355.4 275.2h0M364.1 289.1h0M365.4 249.2h0M373.0 242.8h0M377.2 252.3h0M368.0 274.7h0M365.8 274.4h0M371.8 245.0h0M371.0 273.0h0M370.9 274.6h0M371.9 288.3h0M361.8 264.7h0M363.7 253.1h0M375.4 241.5h0M380.2 267.1h0M359.9 251.7h0M353.7 263.7h0M376.8 240.0h0M360.8 266.5h0M373.9 289.6h0M371.2 283.1h0M359.3 282.6h0M381.3 274.5h0M359.1 275.5h0M359.7 251.8h0M380.4 254.9h0M369.1 244.6h0M373.8 246.6h0M357.3 282.9h0M365.5 263.3h0M358.9 287.5h0M372.7 265.2h0M368.0 244.7h0M372.2 281.4h0M363.6 266.2h0M376.9 251.1h0M354.8 260.6h0M377.4 256.4h0M374.8 250.7h0M375.6 280.1h0M371.0 288.8h0M368.5 248.3h0M365.0 261.0h0M375.1 278.1h0M368.8 274.2h0M366.6 286.8h0M365.5 276.8h0M359.4 251.6h0M359.8 283.6h0M374.2 273.6h0M368.8 254.0h0M378.4 240.1h0M369.4 242.9h0M370.9 286.3h0M381.5 252.9h0M359.3 265.2h0M363.1 250.1h0M356.6 253.0h0M367.0 260.8h0M374.8 253.4h0M362.0 261.8h0M364.4 288.2h0M375.4 247.6h0M356.9 245.0h0M373.4 258.5h0M373.0 247.9h0M365.0 241.8h0M363.8 264.5h0M369.0 324.6h0M370.4 332.5h0M366.8 311.6h0M367.4 321.2h0M377.7 343.7h0M371.2 335.1h0M365.7 332.4h0M358.3 334.1h0M357.0 329.6h0M358.2 336.3h0M379.9 342.6h0M360.6 309.6h0M366.7 335.0h0M363.3 339.0h0M355.0 303.8h0M361.1 326.4h0M358.2 343.2h0M385.5 350.4h0M362.8 332.7h0M368.9 348.5h0M368.4 308.1h0M360.8 312.2h0M380.7 338.2h0M361.2 321.7h0M369.8 324.6h0M375.0 310.2h0M374.7 326.7h0M377.2 316.3h0M360.8 339.4h0M380.7 328.4h0M355.1 344.2h0M369.6 337.8h0M364.2 306.1h0M378.9 319.9h0M369.9 352.1h0M360.8 332.5h0M358.3 335.6h0M365.8 308.5h0M360.4 340.1h0M381.9 315.1h0M367.5 354.8h0M367.0 329.2h0M363.5 323.0h0M374.5 313.4h0M364.0 309.8h0M374.2 351.2h0M360.3 311.3h0M372.4 337.9h0M354.6 318.1h0M370.0 345.9h0M373.7 339.7h0M365.2 312.7h0M360.7 334.0h0M376.8 318.7h0M377.8 331.2h0M379.0 347.1h0M362.7 332.3h0M372.1 319.9h0M366.8 354.4h0M369.4 326.9h0M368.3 354.8h0M363.6 331.1h0M360.1 354.2h0M358.7 340.6h0M356.4 333.3h0M370.0 321.0h0M360.9 327.7h0M355.5 335.8h0M368.5 326.6h0M373.2 349.4h0M375.7 338.6h0M360.0 310.2h0M369.6 320.9h0M362.5 327.6h0M356.4 321.6h0M362.3 327.8h0M353.9 337.5h0M369.6 322.3h0M380.3 352.5h0M377.4 325.7h0M356.6 304.9h0M357.3 327.2h0M359.4 313.9h0M372.0 309.3h0M356.1 340.9h0M369.6 336.9h0M354.8 310.1h0M362.0 317.2h0M382.5 342.0h0"/>
<path stroke="#d2d2d2" stroke-width="1.9" stroke-linecap="round" fill="none" d="M8.8 288.7h0M24.2 253.1h0M19.9 281.7h0M30.2 245.3h0M25.2 256.5h0M22.0 254.8h0M32.3 256.5h0M26.5 267.4h0M24.2 275.1h0M31.9 246.4h0M23.5 247.0h0M8.4 243.1h0M9.2 263.1h0M22.5 251.2h0M7.8 255.7h0M13.7 272.6h0M8.1 284.8h0M29.7 245.8h0M19.5 245.6h0M17.1 249.5h0M17.6 260.0h0M26.4 289.9h0M26.4 270.8h0M9.5 268.9h0M31.5 262.2h0M28.2 263.8h0M26.7 289.1h0M11.2 285.5h0M10.8 260.3h0M22.8 248.0h0M17.2 245.6h0M25.2 269.0h0M25.6 288.0h0M16.2 258.2h0M31.9 259.4h0M7.7 262.4h0M9.4 271.1h0M21.1 289.4h0M10.4 266.3h0M18.4 263.6h0M18.8 286.4h0M16.1 266.8h0M21.9 280.1h0M31.2 256.1h0M18.0 246.9h0M25.6 271.3h0M7.6 243.9h0M18.0 263.9h0M15.1 283.1h0M6.3 285.5h0M16.5 255.0h0M26.7 289.1h0M32.3 272.2h0M27.9 263.0h0M7.1 252.3h0M22.0 278.6h0M13.4 260.6h0M27.6 287.9h0M14.5 244.3h0M6.5 262.4h0M29.6 240.2h0M21.8 270.5h0M28.2 250.2h0M21.5 245.0h0M8.0 259.1h0M13.2 277.7h0M13.0 267.4h0M20.6 286.6h0M11.7 262.2h0M11.4 270.0h0M17.7 271.0h0M26.2 260.9h0M16.8 244.7h0M24.7 261.1h0M12.2 288.5h0M17.4 278.8h0M12.8 255.9h0M6.3 247.0h0M16.9 272.9h0M28.6 240.1h0M19.2 256.7h0M29.5 257.3h0M20.9 287.7h0M15.8 284.7h0M15.3 277.7h0M29.5 245.0h0M31.1 261.5h0M21.9 266.4h0M17.0 259.7h0M15.2 269.0h0M12.6 282.9h0M8.3 257.0h0M6.9 249.1h0M13.3 270.4h0M17.2 251.1h0M13.1 247.1h0M24.6 260.6h0M18.8 267.9h0M24.0 264.3h0M10.3 245.9h0M29.2 245.9h0M23.5 287.0h0M8.4 276.2h0M27.5 286.5h0M15.7 259.3h0M23.9 274.5h0M11.9 254.7h0M183.4 253.2h0M194.4 264.9h0M205.7 277.5h0M188.1 252.2h0M165.0 276.8h0M202.0 261.5h0M206.0 256.0h0M211.7 278.4h0M196.4 280.2h0M209.0 256.0h0M197.0 247.6h0M157.5 275.4h0M174.3 245.4h0M168.9 287.6h0M187.7 262.7h0M176.4 265.3h0M163.9 271.6h0M200.0 255.0h0M201.8 242.5h0M206.6 242.1h0M161.6 277.9h0M160.1 265.3h0M171.1 245.4h0M189.2 250.3h0M208.9 289.7h0M191.3 275.3h0M175.3 280.3h0M161.5 266.3h0M204.6 258.8h0M208.6 289.0h0M176.9 252.1h0M202.5 286.9h0M195.6 275.2h0M184.4 243.6h0M186.5 244.6h0M196.6 267.6h0M171.5 276.9h0M195.0 282.5h0M161.7 269.2h0M196.1 251.9h0M177.1 269.7h0M181.2 275.8h0M182.4 288.5h0M210.5 239.9h0M191.9 247.1h0M203.4 272.2h0M176.3 262.2h0M158.7 256.5h0M201.6 246.2h0M188.2 241.4h0M162.1 242.3h0M186.4 240.8h0M160.1 290.2h0M183.3 248.4h0M166.9 255.2h0M158.3 272.5h0M171.5 271.0h0M163.0 283.8h0M183.7 276.6h0M190.7 275.6h0M178.3 277.3h0M168.1 241.9h0M166.8 271.5h0M200.2 287.5h0M183.7 288.1h0M190.2 283.3h0M191.0 273.0h0M160.8 261.2h0M183.0 252.7h0M166.2 252.5h0M204.5 252.8h0M163.4 259.2h0M203.9 268.1h0M181.5 241.4h0M189.7 272.0h0M153.8 271.8h0M157.8 239.0h0M207.6 271.4h0M159.8 243.3h0M187.5 247.2h0M195.2 250.4h0M165.6 259.5h0M171.6 247.4h0M193.6 262.3h0M159.0 267.2h0M157.2 260.0h0M178.2 248.6h0M193.7 261.7h0M198.9 288.9h0M197.2 290.3h0M180.8 255.7h0M209.4 255.7h0M197.7 280.0h0M157.4 256.9h0M185.2 242.1h0M178.5 285.9h0M198.5 265.5h0M160.0 270.6h0M178.5 270.9h0M174.6 257.4h0M169.9 241.6h0M160.0 283.1h0M206.0 242.4h0M155.3 263.2h0M202.0 273.4h0M198.7 288.6h0M192.0 285.8h0M183.7 258.2h0M202.5 287.0h0M200.3 281.0h0M191.9 284.7h0M177.6 240.5h0M153.8 252.3h0M183.6 287.7h0M182.9 264.1h0M163.5 240.7h0M196.8 282.5h0M170.7 259.4h0M201.4 244.7h0M173.2 261.0h0M159.7 249.4h0M184.1 261.9h0M182.8 261.2h0M182.1 253.5h0M195.2 249.5h0M191.3 280.6h0M175.7 286.5h0M167.6 240.1h0M208.7 253.9h0M198.9 287.0h0M209.6 252.1h0M201.6 269.0h0M204.4 275.3h0M177.9 272.0h0M163.9 286.8h0M163.8 288.2h0M173.4 290.2h0M179.2 282.8h0M202.9 252.0h0M162.8 267.5h0M206.7 251.2h0M161.1 274.5h0M199.9 255.8h0M163.1 255.0h0M194.4 289.3h0M206.7 282.4h0M189.2 285.3h0M177.3 288.5h0M172.8 244.5h0M194.4 239.4h0M209.3 269.8h0M166.8 266.3h0M174.6 264.6h0M201.4 261.8h0M167.6 246.6h0M198.4 282.6h0M211.8 278.0h0M191.7 279.6h0M184.3 276.1h0M203.4 257.4h0M173.4 252.0h0M183.5 272.3h0M178.9 245.4h0M181.8 257.3h0M208.9 269.4h0M160.2 265.1h0M198.4 272.2h0M166.2 272.4h0M173.8 239.2h0M206.3 268.5h0M175.6 240.8h0M184.7 254.5h0M203.2 269.6h0M169.6 270.5h0M197.8 273.7h0M181.9 245.5h0M168.5 276.1h0M209.2 288.8h0M206.4 274.3h0M173.2 252.8h0M208.6 240.6h0M162.1 288.3h0M184.7 242.9h0M163.8 272.2h0M168.8 282.2h0M181.8 284.9h0M202.0 262.9h0M172.9 265.0h0M195.1 272.6h0M169.0 271.4h0M169.2 260.9h0M206.5 273.1h0M161.5 271.1h0M194.6 284.9h0M184.7 271.0h0M163.8 271.2h0M188.0 284.6h0M195.6 265.8h0M187.7 282.4h0M188.1 277.7h0M10.0 342.7h0M31.7 346.7h0M22.2 348.5h0M30.8 318.0h0M21.6 354.5h0M17.9 322.8h0M12.5 315.3h0M10.7 317.3h0M16.1 354.4h0M27.6 329.5h0M20.0 315.1h0M7.9 353.4h0M32.9 333.3h0M24.1 332.9h0M25.9 315.0h0M16.6 336.9h0M14.0 324.5h0M19.8 347.0h0M9.5 330.1h0M17.1 350.7h0M34.5 339.3h0M21.9 324.8h0M32.4 307.5h0M8.6 346.7h0M23.5 326.6h0M23.3 346.7h0M18.8 325.0h0M15.7 311.5h0M16.2 344.9h0M15.6 350.1h0M20.2 333.2h0M14.9 325.8h0M6.7 351.5h0M32.4 353.3h0M16.1 338.6h0M30.9 353.1h0M28.9 322.5h0M7.3 304.5h0M11.1 322.5h0M9.3 317.6h0M21.1 320.4h0M12.5 348.2h0M20.5 311.4h0M9.9 333.2h0M31.2 319.3h0M12.7 318.3h0M8.9 354.2h0M17.3 309.5h0M18.9 315.9h0M31.4 312.5h0M6.5 304.6h0M27.8 305.3h0M23.1 349.0h0M33.0 328.6h0M7.4 311.5h0M25.8 345.9h0M19.2 338.0h0M24.0 335.7h0M19.6 325.9h0M16.8 333.8h0M15.1 339.4h0M9.1 334.3h0M23.7 318.0h0M22.6 347.9h0M14.5 308.1h0M16.6 350.6h0M13.1 339.8h0M11.7 334.7h0M31.0 310.9h0M23.4 339.7h0M20.0 322.5h0M33.0 330.1h0M19.9 311.8h0M26.9 335.0h0M13.8 337.1h0M21.3 350.1h0M18.3 336.6h0M28.9 333.2h0M32.1 335.3h0M32.7 315.2h0M12.9 315.5h0M8.8 337.2h0M6.8 318.4h0M13.3 309.8h0M23.0 317.8h0M15.7 314.4h0M18.1 329.6h0M18.5 321.9h0M199.6 333.5h0M172.7 310.4h0M187.5 311.5h0M187.4 311.8h0M178.4 322.0h0M181.6 345.1h0M189.4 309.9h0M166.1 353.0h0M194.6 348.8h0M187.2 309.4h0M204.7 319.9h0M165.6 307.6h0M206.5 315.2h0M170.1 343.9h0M209.2 332.0h0M177.0 320.6h0M196.7 347.2h0M173.7 317.2h0M211.1 337.9h0M165.5 333.3h0M163.9 308.4h0M177.1 329.5h0M180.5 305.1h0M199.6 321.1h0M185.9 353.0h0M200.0 346.3h0M161.1 350.0h0M173.1 332.7h0M207.8 327.6h0M191.3 318.7h0M168.8 305.0h0M215.1 339.0h0M172.9 352.0h0M168.5 312.0h0M186.2 310.6h0M169.0 328.8h0M216.2 332.0h0M163.8 351.2h0M182.0 320.6h0M181.7 337.8h0M186.5 347.6h0M186.4 346.6h0M210.0 343.9h0M210.5 314.4h0M198.5 325.3h0M209.3 311.6h0M164.0 337.4h0M163.4 314.7h0M171.0 309.2h0M210.7 349.3h0M162.5 307.2h0M180.3 341.6h0M164.2 343.7h0M201.5 345.2h0M201.4 314.0h0M206.3 339.9h0M201.0 350.7h0M212.6 332.6h0M179.9 339.2h0M182.0 316.8h0M195.6 322.8h0M175.0 319.6h0M209.2 333.4h0M186.8 308.3h0M175.2 306.3h0M171.4 353.1h0M185.8 309.1h0M213.9 326.4h0M204.1 304.1h0M200.8 326.1h0M196.4 353.7h0M159.9 333.1h0M169.9 347.7h0M196.8 337.6h0M178.8 332.2h0M183.5 323.4h0M195.7 333.2h0M164.8 349.0h0M194.4 314.2h0M178.3 333.6h0M175.8 353.4h0M162.4 347.7h0M187.7 329.9h0M199.9 344.4h0M193.6 348.6h0M185.1 310.5h0M178.9 344.0h0M216.1 308.3h0M216.7 353.2h0M173.2 342.4h0M174.5 324.4h0M200.0 341.2h0M215.4 351.2h0M161.5 338.2h0M167.7 346.7h0M187.2 318.5h0M202.5 310.1h0M189.6 306.6h0M172.9 325.8h0M183.5 330.0h0M209.0 308.7h0M185.1 308.9h0M180.6 307.2h0M218.4 315.0h0M185.5 339.8h0M194.4 353.3h0M171.0 328.3h0M167.8 324.9h0M175.7 323.4h0M170.4 310.2h0M200.0 335.8h0M177.8 319.0h0M168.2 344.6h0M205.9 346.2h0M171.7 332.9h0M171.9 341.5h0M205.7 343.8h0M178.2 314.1h0M176.2 325.3h0M165.1 333.3h0M199.1 345.1h0M205.3 347.1h0M172.1 330.8h0M163.0 312.2h0M164.9 317.3h0M198.2 350.7h0M173.6 320.4h0M193.9 318.7h0M194.4 321.2h0M162.7 354.5h0M176.4 323.0h0M171.3 315.7h0M179.3 318.7h0M182.6 322.5h0M181.3 307.9h0M163.2 330.8h0M164.1 309.0h0M211.5 326.9h0M185.3 330.2h0M168.7 328.4h0M210.8 330.9h0M186.2 332.0h0M208.1 346.8h0M198.7 337.9h0M179.9 321.6h0M165.9 304.8h0M167.3 334.8h0M162.0 304.4h0M167.5 340.0h0M182.0 334.3h0M173.6 326.8h0M171.1 334.6h0M192.3 333.7h0M206.2 353.8h0M193.7 309.9h0M207.7 332.1h0M199.7 327.6h0M209.0 314.6h0M200.5 336.9h0M171.7 338.6h0M205.5 342.8h0M210.4 314.7h0M200.5 350.6h0M205.3 354.4h0M193.6 353.2h0M179.8 308.2h0M172.3 330.3h0M189.7 326.9h0M167.2 334.8h0M197.3 345.4h0M197.6 342.5h0M209.0 329.5h0M165.0 325.6h0M169.3 353.3h0M199.4 320.0h0M208.2 335.3h0M197.5 345.3h0M193.3 309.6h0M205.4 348.1h0M204.0 350.5h0M213.9 346.5h0M206.1 317.8h0M168.5 329.0h0M196.0 312.1h0M215.4 337.2h0M199.5 310.6h0M177.9 327.0h0M186.5 330.5h0M165.2 324.4h0M174.0 318.3h0M165.1 336.7h0M169.6 321.1h0M167.7 324.2h0M212.8 334.7h0M165.9 335.8h0M168.9 336.1h0M180.7 324.9h0M190.0 318.1h0M190.9 321.1h0M213.3 335.4h0M217.7 327.6h0M202.3 308.1h0M214.7 346.4h0M174.9 333.0h0M173.1 349.8h0M211.7 352.4h0M161.0 325.1h0M201.0 349.4h0M165.7 315.8h0M176.9 347.5h0M178.9 312.4h0M184.4 305.3h0M174.3 305.6h0M368.0 252.4h0M377.2 261.4h0M375.8 282.9h0M361.1 264.8h0M371.0 287.2h0M364.0 246.7h0M361.4 289.8h0M377.2 284.5h0M367.3 277.8h0M359.6 282.8h0M378.2 258.4h0M371.5 270.4h0M363.3 278.3h0M375.1 253.2h0M380.4 240.2h0M368.0 262.4h0M360.3 240.9h0M372.4 275.7h0M374.6 280.4h0M378.8 247.4h0M369.9 243.4h0M371.2 286.6h0M376.2 278.5h0M376.8 259.0h0M358.7 262.9h0M359.3 260.6h0M369.1 245.5h0M376.1 259.7h0M371.5 259.7h0M356.4 281.5h0M376.1 272.8h0M363.5 252.4h0M379.8 239.5h0M369.4 290.6h0M358.5 250.8h0M370.6 260.0h0M370.9 274.8h0M353.3 285.9h0M353.5 283.7h0M355.1 244.0h0M357.6 289.3h0M358.0 240.7h0M354.8 273.2h0M382.3 254.7h0M355.8 285.0h0M362.6 277.3h0M381.0 284.1h0M373.9 275.4h0M356.6 254.4h0M371.4 245.3h0M359.8 266.5h0M367.6 252.3h0M354.4 256.5h0M366.5 257.1h0M375.5 245.3h0M362.8 285.0h0M374.1 257.2h0M367.2 289.1h0M357.9 269.6h0M367.7 278.4h0M366.2 261.7h0M380.7 262.1h0M373.9 248.8h0M359.7 275.1h0M361.2 272.1h0M377.9 267.8h0M361.6 272.0h0M353.9 288.3h0M371.0 274.1h0M360.9 249.6h0M368.3 245.6h0M377.3 263.9h0M372.0 283.6h0M362.1 248.8h0M380.0 251.8h0M371.8 244.3h0M367.2 288.7h0M368.2 266.0h0M362.9 251.5h0M359.4 244.8h0M355.9 262.8h0M375.3 257.4h0M373.6 249.6h0M381.1 271.6h0M363.1 241.0h0M358.0 280.4h0M355.3 265.8h0M362.7 260.0h0M370.0 289.6h0M355.9 284.4h0M369.3 317.5h0M361.8 322.0h0M381.4 305.8h0M356.5 337.5h0M367.8 341.2h0M374.7 319.0h0M374.1 304.0h0M361.0 311.7h0M359.2 346.4h0M358.2 327.8h0M372.1 324.2h0M371.5 338.3h0M375.9 327.3h0M357.3 321.1h0M357.4 351.8h0M365.2 305.4h0M377.2 343.5h0M355.3 337.4h0M360.8 349.1h0M364.0 327.4h0M378.4 308.2h0M353.0 343.3h0M365.9 329.5h0M355.7 343.3h0M374.7 337.2h0M363.9 350.4h0M357.2 335.6h0M371.9 338.0h0M372.0 321.3h0M360.0 349.1h0M374.4 339.8h0M362.3 312.1h0M365.3 315.8h0M362.5 328.4h0M378.4 340.5h0M361.6 310.3h0M353.2 321.1h0M381.3 320.3h0M374.1 350.5h0M365.1 308.7h0M366.0 353.3h0M369.6 341.4h0M369.0 323.7h0M382.8 321.3h0M376.3 312.4h0M356.0 316.9h0M356.0 330.4h0M361.7 313.6h0M379.0 315.3h0M379.0 342.4h0M355.3 326.8h0M357.9 350.8h0M365.3 327.3h0M364.3 330.2h0M371.8 329.9h0M361.4 330.3h0M358.5 348.9h0M364.8 347.2h0M370.7 328.0h0M369.7 307.5h0M358.6 345.9h0M377.3 312.4h0M378.3 308.3h0M360.3 325.4h0M367.9 327.4h0M374.0 332.8h0M367.0 312.4h0M363.9 310.2h0M353.3 315.3h0M363.9 313.5h0M378.9 304.9h0M384.8 322.0h0M374.2 340.2h0M359.6 330.4h0M354.4 325.1h0M376.9 304.8h0M368.9 341.0h0M364.4 316.6h0M357.4 353.2h0M358.3 337.3h0M380.2 345.9h0M378.9 353.9h0M366.9 315.1h0M373.7 339.6h0M365.9 336.7h0M361.1 330.5h0M375.8 309.9h0M379.2 324.1h0M360.3 306.1h0M364.1 316.5h0M379.8 353.4h0M361.4 335.5h0M376.9 326.7h0"/>
<path stroke="#dcdcdc" stroke-width="1.9" stroke-linecap="round" fill="none" d="M27.9 274.0h0M18.5 253.2h0M31.0 261.2h0M9.3 274.1h0M31.1 250.0h0M28.3 248.6h0M29.7 250.0h0M7.0 259.9h0M27.0 240.4h0M19.4 242.7h0M15.2 245.4h0M28.3 276.5h0M28.2 280.0h0M14.9 278.2h0M33.7 266.9h0M12.4 284.4h0M9.6 257.7h0M11.4 258.9h0M31.5 257.8h0M24.2 281.3h0M31.2 284.5h0M25.1 265.1h0M22.2 259.6h0M25.8 261.6h0M20.4 284.3h0M15.9 256.3h0M21.3 285.5h0M21.1 271.5h0M27.1 242.2h0M13.5 282.3h0M11.5 286.6h0M13.1 252.8h0M10.2 278.6h0M19.9 255.7h0M14.1 284.4h0M9.8 250.6h0M15.5 244.6h0M15.5 271.6h0M13.9 255.7h0M30.1 272.0h0M24.8 280.7h0M18.8 240.9h0M21.0 289.0h0M15.1 288.0h0M26.5 290.8h0M12.7 270.0h0M27.0 249.2h0M21.3 261.9h0M10.6 250.2h0M7.2 249.6h0M19.0 284.6h0M7.0 261.6h0M10.7 268.4h0M20.6 244.3h0M20.7 267.2h0M19.0 260.1h0M13.2 283.3h0M22.7 261.5h0M28.6 267.0h0M15.9 242.5h0M24.5 277.0h0M13.7 279.2h0M16.4 244.8h0M6.3 247.5h0M23.4 269.2h0M16.3 242.7h0M11.8 253.7h0M28.2 268.6h0M21.5 273.9h0M22.3 242.8h0M7.9 270.1h0M20.0 274.9h0M28.2 258.3h0M16.4 288.3h0M9.3 277.2h0M31.2 254.4h0M20.8 247.5h0M12.8 269.3h0M14.9 248.0h0M7.0 257.6h0M11.6 275.5h0M17.1 288.4h0M17.1 264.2h0M29.1 278.5h0M13.9 277.4h0M31.4 285.3h0M10.7 268.3h0M14.4 266.3h0M12.1 275.0h0M24.7 243.4h0M27.0 289.7h0M16.4 265.3h0M6.3 286.6h0M32.5 261.2h0M13.0 248.4h0M25.9 284.0h0M20.1 288.1h0M25.4 290.3h0M13.4 246.2h0M16.5 283.5h0M186.3 248.2h0M180.4 256.3h0M190.7 246.0h0M182.4 276.8h0M193.6 290.4h0M183.2 250.3h0M163.0 264.0h0M180.1 278.0h0M160.2 277.8h0M197.8 245.6h0M167.6 275.0h0M170.1 252.9h0M204.7 269.6h0M182.0 266.6h0M201.3 269.8h0M180.1 268.7h0M173.6 277.5h0M196.3 290.1h0M190.2 277.0h0M195.1 278.1h0M159.4 265.9h0M196.4 247.1h0M197.7 248.5h0M175.2 278.8h0M192.2 252.4h0M206.6 256.1h0M179.2 272.3h0M177.4 266.1h0M168.0 268.4h0M171.8 270.3h0M188.6 261.4h0M185.3 271.4h0M202.6 269.9h0M155.7 273.3h0M163.3 288.3h0M163.4 276.2h0M193.9 290.8h0M165.1 275.1h0M198.4 288.0h0M178.0 277.4h0M173.9 269.1h0M184.1 260.9h0M201.3 244.0h0M200.9 248.1h0M183.6 256.8h0M192.8 272.6h0M156.4 243.1h0M172.4 258.6h0M183.9 242.2h0M198.7 272.9h0M203.5 282.7h0M161.4 262.9h0M164.0 245.2h0M169.7 267.1h0M206.0 281.8h0M191.1 268.1h0M206.4 253.0h0M172.8 277.9h0M163.1 262.2h0M169.0 281.8h0M157.7 288.6h0M198.1 283.5h0M201.1 245.6h0M179.4 268.8h0M190.2 273.1h0M165.1 270.9h0M178.2 287.7h0M179.9 287.9h0M185.8 246.3h0M155.8 268.4h0M178.4 280.1h0M189.8 261.3h0M176.2 259.3h0M185.0 270.2h0M203.5 248.8h0M210.6 277.2h0M180.8 258.0h0M181.6 262.2h0M165.2 243.0h0M202.5 274.7h0M160.0 262.2h0M171.7 274.3h0M169.0 262.1h0M210.9 258.4h0M172.6 278.1h0M207.5 262.2h0M207.8 256.6h0M172.6 288.8h0M190.8 272.1h0M195.2 278.7h0M166.9 268.6h0M208.1 272.4h0M162.7 286.2h0M175.9 273.6h0M186.8 247.7h0M178.8 250.6h0M187.7 259.4h0M200.5 288.1h0M158.3 253.3h0M198.4 246.8h0M161.6 288.1h0M202.2 288.8h0M206.7 243.8h0M168.6 267.3h0M156.8 256.0h0M163.7 246.0h0M173.4 239.2h0M176.6 252.6h0M196.6 280.9h0M186.6 249.8h0M186.9 270.8h0M155.9 249.3h0M166.0 258.1h0M161.8 254.3h0M183.7 260.6h0M204.4 250.6h0M181.5 247.0h0M182.6 251.6h0M194.3 244.5h0M157.8 262.9h0M180.3 285.6h0M175.2 277.4h0M203.8 253.8h0M184.9 263.8h0M199.5 240.1h0M168.2 245.6h0M179.0 273.2h0M157.2 265.4h0M171.0 263.0h0M174.9 263.2h0M202.7 259.7h0M174.8 248.5h0M185.0 240.6h0M173.8 273.9h0M192.3 284.4h0M204.3 272.0h0M211.4 260.1h0M179.4 283.6h0M175.1 247.0h0M190.3 260.0h0M195.7 269.6h0M207.2 278.4h0M174.0 274.6h0M197.9 246.6h0M203.4 246.9h0M156.6 260.0h0M163.8 275.6h0M159.0 286.1h0M170.6 273.3h0M210.8 240.7h0M161.5 257.4h0M187.1 289.4h0M196.0 250.7h0M204.2 276.4h0M196.8 251.1h0M188.5 248.9h0M181.8 283.7h0M196.3 253.9h0M193.5 254.9h0M207.9 242.8h0M170.8 285.7h0M174.8 279.8h0M170.8 281.5h0M179.7 269.4h0M159.5 275.6h0M198.6 256.7h0M183.3 249.4h0M204.0 239.1h0M203.0 250.7h0M189.1 274.0h0M201.1 247.4h0M165.4 247.2h0M174.3 250.9h0M196.4 254.4h0M177.6 274.1h0M166.3 286.6h0M162.2 279.5h0M183.5 272.8h0M201.2 271.6h0M154.5 259.3h0M169.0 272.1h0M180.5 288.9h0M194.4 254.1h0M191.9 243.4h0M176.3 279.5h0M163.6 283.3h0M181.5 258.0h0M160.4 289.4h0M189.3 249.0h0M202.9 287.8h0M187.0 253.9h0M204.1 263.1h0M193.2 279.8h0M192.1 261.2h0M194.8 245.2h0M194.4 242.1h0M202.8 278.9h0M173.0 273.6h0M176.9 283.5h0M168.4 290.6h0M197.3 273.6h0M157.1 279.0h0M171.4 269.3h0M171.6 246.5h0M179.9 279.1h0M168.9 247.6h0M180.6 271.3h0M197.0 243.2h0M180.1 239.8h0M197.6 284.3h0M169.9 267.6h0M164.4 259.5h0M176.0 255.2h0M170.3 290.1h0M197.0 282.9h0M177.7 278.8h0M173.5 267.7h0M195.5 263.6h0M168.1 279.7h0M168.2 247.8h0M189.7 274.7h0M8.9 340.5h0M9.0 318.0h0M33.8 320.4h0M24.6 306.2h0M10.7 340.8h0M9.4 325.7h0M27.3 327.7h0M19.0 354.4h0M10.9 354.3h0M31.3 307.2h0M27.0 329.0h0M9.8 323.5h0M7.1 325.7h0M27.2 314.0h0M9.6 332.8h0M11.2 340.9h0M11.4 340.3h0M30.2 330.2h0M11.3 352.9h0M7.6 319.8h0M20.9 316.8h0M31.0 331.6h0M9.9 328.8h0M13.0 318.8h0M11.3 317.7h0M11.3 346.8h0M23.4 331.8h0M10.7 332.5h0M22.2 327.1h0M24.6 328.4h0M21.9 338.9h0M13.9 329.2h0M12.7 339.0h0M15.1 325.2h0M16.1 309.9h0M8.4 311.6h0M20.5 352.1h0M30.4 334.8h0M27.6 308.6h0M16.5 343.7h0M11.1 331.9h0M25.5 341.9h0M11.3 305.4h0M24.6 333.5h0M19.2 324.3h0M15.8 316.9h0M15.1 326.3h0M25.9 347.1h0M34.1 322.8h0M10.8 304.5h0M23.7 344.6h0M30.7 317.0h0M9.0 306.1h0M19.4 304.5h0M22.2 343.6h0M29.8 311.1h0M23.3 309.9h0M24.1 352.9h0M22.8 342.3h0M23.1 306.2h0M27.4 344.8h0M16.4 339.5h0M21.1 328.6h0M22.0 326.2h0M32.0 312.6h0M23.0 313.4h0M8.1 353.9h0M16.1 328.6h0M33.4 341.2h0M27.8 334.0h0M29.6 338.7h0M22.9 318.8h0M15.9 327.7h0M19.6 345.3h0M28.7 343.1h0M9.5 337.9h0M16.6 346.1h0M32.2 330.0h0M23.3 309.8h0M7.3 305.5h0M9.9 337.0h0M31.4 305.8h0M8.2 334.1h0M10.2 321.7h0M20.5 304.2h0M10.1 337.2h0M21.3 320.0h0M22.7 352.6h0M13.8 328.1h0M22.7 333.7h0M9.0 340.5h0M13.8 349.7h0M20.3 334.1h0M22.1 347.3h0M14.3 343.0h0M27.0 344.7h0M24.8 330.0h0M24.2 308.4h0M10.0 344.1h0M24.7 339.7h0M30.3 343.5h0M18.5 337.6h0M17.5 325.7h0M22.8 327.6h0M23.2 326.9h0M8.3 354.8h0M9.4 304.4h0M8.7 354.6h0M21.9 349.7h0M32.7 320.6h0M10.8 334.3h0M11.5 316.7h0M21.6 332.4h0M20.9 338.6h0M25.3 346.1h0M15.3 330.1h0M9.9 321.4h0M13.9 321.2h0M180.5 331.5h0M205.6 339.8h0M161.4 340.2h0M183.5 318.3h0M199.9 321.6h0M186.2 306.2h0M166.4 306.9h0M195.5 328.0h0M201.5 350.1h0M189.9 317.2h0M183.2 347.3h0M170.4 314.8h0M183.7 325.3h0M195.2 308.3h0M181.3 310.9h0M198.6 349.8h0M180.9 306.4h0M178.2 308.5h0M170.4 315.5h0M198.1 342.9h0M195.7 305.0h0M175.9 309.8h0M214.3 331.5h0M207.7 313.8h0M196.6 313.0h0M192.7 320.0h0M211.3 348.9h0M187.2 328.4h0M186.7 316.3h0M192.5 310.2h0M211.3 324.2h0M191.8 345.3h0M184.3 314.9h0M182.4 312.4h0M160.8 332.3h0M207.8 338.5h0M192.1 324.9h0M214.1 327.2h0M179.8 310.4h0M164.5 315.8h0M184.7 322.9h0M165.1 320.4h0M208.8 305.0h0M210.9 325.7h0M169.8 323.9h0M169.1 327.3h0M192.6 335.0h0M166.2 334.7h0M173.4 353.9h0M186.3 354.5h0M165.7 352.3h0M195.5 341.5h0M192.7 339.6h0M174.9 343.8h0M181.5 324.3h0M207.4 309.1h0M198.2 311.4h0M208.1 324.6h0M169.6 342.3h0M170.5 344.7h0M215.8 339.9h0M166.8 346.4h0M214.7 353.2h0M161.9 341.7h0M205.8 352.8h0M209.1 338.7h0M189.2 326.9h0M166.4 319.9h0M208.0 322.4h0M165.1 348.2h0M167.3 317.1h0M163.0 333.9h0M178.7 314.2h0M205.0 349.5h0M187.2 340.9h0M162.7 340.6h0M195.1 343.6h0M202.3 304.2h0M202.9 310.9h0M199.1 347.2h0M218.0 352.7h0M191.3 326.1h0M214.8 333.2h0M165.6 310.4h0M210.9 309.5h0M197.2 321.2h0M210.6 328.1h0M186.1 310.9h0M185.8 336.9h0M174.6 312.6h0M177.0 353.3h0M205.3 333.3h0M213.1 319.9h0M193.6 309.5h0M197.7 308.6h0M201.0 321.6h0M185.8 317.7h0M162.2 348.0h0M186.0 315.1h0M194.7 330.0h0M212.8 336.6h0M180.5 321.2h0M210.5 313.1h0M171.4 329.9h0M206.9 318.2h0M169.8 318.3h0M215.8 317.6h0M188.3 347.4h0M210.6 350.9h0M199.0 323.8h0M167.8 318.8h0M173.2 337.5h0M215.4 319.5h0M190.7 331.9h0M189.4 306.2h0M162.5 347.8h0M215.9 324.6h0M161.0 331.2h0M207.5 353.8h0M191.9 308.8h0M202.9 315.0h0M170.7 339.5h0M192.9 352.8h0M177.2 313.7h0M200.7 311.3h0M169.5 320.8h0M200.0 339.9h0M183.1 314.9h0M168.7 336.6h0M186.5 340.3h0M185.6 337.7h0M204.4 313.2h0M166.8 346.0h0M178.6 331.1h0M187.3 350.3h0M179.6 350.6h0M203.6 307.7h0M166.3 331.6h0M216.4 319.9h0M164.5 319.7h0M198.9 349.0h0M170.6 320.4h0M163.5 335.8h0M204.0 338.9h0M184.6 350.9h0M201.5 319.9h0M188.4 304.8h0M173.4 328.4h0M169.9 305.3h0M184.0 347.2h0M180.2 335.2h0M164.4 333.8h0M189.8 344.6h0M203.4 317.5h0M207.8 337.3h0M176.9 321.3h0M172.6 333.5h0M209.7 351.8h0M165.7 347.7h0M210.1 336.4h0M163.9 333.8h0M173.2 311.2h0M210.8 306.0h0M170.7 340.0h0M168.0 311.3h0M207.2 328.0h0M180.5 328.2h0M197.7 345.2h0M193.6 333.3h0M178.7 352.4h0M211.8 336.7h0M198.6 349.9h0M211.5 353.2h0M171.5 326.2h0M171.7 329.7h0M212.2 305.0h0M203.0 316.4h0M189.4 324.3h0M172.4 350.5h0M204.9 332.2h0M162.4 313.8h0M187.6 325.4h0M165.7 321.0h0M195.8 324.8h0M195.0 335.8h0M211.1 322.2h0M177.0 345.1h0M163.2 344.1h0M171.4 325.5h0M160.4 310.8h0M168.2 346.9h0M175.8 342.7h0M201.4 327.1h0M197.4 311.7h0M217.9 335.1h0M189.3 321.3h0M190.0 329.8h0M208.7 347.8h0M185.8 350.0h0M172.1 330.1h0M205.6 351.2h0M180.2 354.1h0M172.6 329.8h0M174.5 350.6h0M162.7 332.9h0M168.1 304.6h0M178.0 342.8h0M177.6 308.9h0M175.6 337.9h0M212.3 337.2h0M174.8 329.9h0M184.0 331.6h0M197.8 305.9h0M377.3 255.4h0M358.9 286.1h0M364.0 251.0h0M374.1 287.0h0M358.5 259.9h0M369.2 275.1h0M361.7 288.9h0M356.4 270.3h0M365.1 277.3h0M377.4 279.9h0M353.3 271.6h0M357.9 289.9h0M374.2 254.2h0M368.9 276.8h0M368.6 267.4h0M360.3 251.6h0M353.5 272.0h0M369.4 256.9h0M370.6 247.1h0M359.5 289.5h0M355.0 242.0h0M359.1 241.7h0M370.9 276.7h0M354.8 280.0h0M365.0 253.7h0M360.1 273.5h0M379.3 267.5h0M361.3 282.7h0M371.2 264.6h0M363.9 260.7h0M365.8 245.7h0M374.3 286.3h0M378.5 287.0h0M367.7 268.3h0M377.8 274.3h0M372.4 271.6h0M377.5 258.1h0M368.1 264.5h0M369.1 255.7h0M359.6 246.2h0M371.1 277.5h0M370.4 276.6h0M366.2 252.0h0M372.7 242.6h0M363.0 281.8h0M380.0 241.0h0M358.3 250.4h0M369.9 243.9h0M374.4 254.1h0M357.8 276.5h0M363.8 266.8h0M362.0 261.2h0M374.5 251.7h0M366.0 245.9h0M376.1 261.7h0M373.0 271.8h0M357.8 252.9h0M367.2 273.7h0M370.1 270.2h0M381.1 266.1h0M356.3 286.6h0M357.9 279.1h0M371.0 249.3h0M368.2 283.9h0M357.6 287.3h0M372.4 284.7h0M360.8 277.9h0M372.1 240.1h0M373.5 270.5h0M361.9 289.4h0M365.5 270.2h0M362.5 285.2h0M353.6 240.6h0M357.9 274.5h0M373.3 290.0h0M358.1 289.7h0M358.1 263.6h0M359.8 269.3h0M365.9 269.0h0M376.2 256.2h0M370.7 285.3h0M356.6 253.7h0M368.1 269.2h0M372.9 279.0h0M374.3 281.9h0M368.9 259.3h0M366.6 338.4h0M365.2 340.9h0M361.4 312.6h0M383.9 304.1h0M360.3 325.8h0M379.3 346.7h0M357.3 328.3h0M354.2 327.9h0M381.6 304.2h0M378.8 307.4h0M361.0 352.4h0M381.6 306.2h0M359.0 339.8h0M360.4 342.7h0M362.3 351.3h0M382.3 339.3h0M362.7 338.0h0M365.1 318.1h0M370.7 306.7h0M367.4 337.4h0M358.7 309.2h0M357.5 343.2h0M365.8 330.5h0M369.9 336.9h0M359.9 347.9h0M356.0 345.9h0M358.4 340.1h0M368.2 314.0h0M368.6 324.9h0M367.3 328.6h0M355.3 329.3h0M365.0 348.9h0M360.5 342.5h0M384.2 306.5h0M370.5 321.9h0M376.5 347.5h0M367.9 316.7h0M362.1 313.9h0M358.3 351.0h0M378.3 340.6h0M359.4 350.2h0M358.2 313.0h0M374.2 325.6h0M371.1 342.4h0M361.7 347.0h0M374.5 339.9h0M365.5 312.6h0M376.5 334.2h0M370.9 324.0h0M360.7 321.8h0M364.8 351.3h0M364.0 307.7h0M372.0 306.7h0M381.6 314.7h0M358.9 319.7h0M366.9 336.4h0M363.6 354.9h0M371.2 309.3h0M380.2 314.0h0M370.3 339.5h0M366.6 351.3h0M355.8 344.4h0M361.5 337.3h0M370.0 322.5h0M360.9 326.7h0M369.6 325.7h0M362.3 337.6h0M369.6 349.6h0M375.7 305.3h0M362.4 333.6h0M370.7 342.6h0M373.9 304.2h0M362.6 309.9h0M361.4 329.8h0M374.0 305.6h0M364.4 342.5h0M370.5 353.2h0M361.5 328.6h0M356.8 312.8h0M374.7 322.1h0M363.2 325.4h0M360.2 346.9h0M378.9 327.1h0M360.3 333.5h0M373.0 307.0h0M372.4 314.9h0M365.7 325.7h0M376.0 353.7h0M378.4 318.9h0M376.4 325.3h0M363.2 337.6h0M356.2 333.2h0M373.3 318.2h0M360.0 353.5h0M360.6 328.3h0M354.8 306.3h0M361.8 314.1h0M370.6 312.8h0M385.6 354.4h0"/>
<path stroke="#e3e3e3" stroke-width="1.9" stroke-linecap="round" fill="none" d="M15.0 263.3h0M7.6 247.6h0M7.7 239.5h0M26.1 264.6h0M12.5 290.3h0M26.6 240.6h0M27.8 285.8h0M9.2 251.4h0M8.3 267.9h0M16.5 286.8h0M27.9 251.7h0M9.0 259.2h0M13.3 270.5h0M21.0 274.1h0M20.0 252.1h0M20.9 240.0h0M9.4 284.9h0M21.4 241.8h0M28.3 264.7h0M18.3 290.0h0M30.7 287.7h0M26.6 257.8h0M25.9 255.7h0M9.6 288.1h0M8.7 240.2h0M21.9 265.9h0M31.1 286.7h0M6.2 280.8h0M24.1 247.1h0M27.8 239.4h0M10.3 269.1h0M24.0 261.9h0M8.5 290.0h0M11.2 254.7h0M15.9 276.3h0M24.8 258.9h0M21.7 264.0h0M23.2 246.5h0M23.6 270.7h0M12.4 289.0h0M23.4 250.6h0M28.7 290.7h0M31.0 289.5h0M18.2 277.8h0M7.8 253.6h0M29.1 239.1h0M13.3 290.4h0M20.4 269.9h0M17.7 284.9h0M23.1 283.3h0M23.0 252.9h0M19.5 240.3h0M15.0 275.9h0M9.9 262.0h0M24.8 242.9h0M24.9 268.6h0M20.0 286.2h0M21.4 290.3h0M29.8 276.4h0M10.1 270.4h0M12.6 275.6h0M15.1 276.1h0M25.2 254.7h0M25.5 249.8h0M29.4 252.7h0M9.6 262.2h0M15.2 259.4h0M16.3 281.2h0M31.4 279.0h0M30.6 251.5h0M31.4 278.0h0M7.3 242.0h0M7.2 262.2h0M21.9 282.1h0M21.8 241.2h0M23.2 267.6h0M23.6 242.9h0M11.7 270.8h0M14.2 263.6h0M23.1 246.9h0M32.3 243.3h0M8.6 268.3h0M6.3 254.2h0M24.6 286.1h0M26.3 256.5h0M16.9 265.4h0M17.2 252.4h0M13.3 242.8h0M29.6 272.7h0M10.3 275.1h0M18.5 268.9h0M16.1 289.4h0M9.4 258.9h0M15.3 283.5h0M13.4 245.5h0M27.5 288.0h0M11.8 240.3h0M22.8 240.3h0M28.1 278.8h0M32.4 251.8h0M7.1 255.6h0M9.5 263.6h0M23.9 246.0h0M23.8 280.4h0M7.3 240.4h0M192.0 244.2h0M176.0 284.2h0M166.7 290.1h0M172.2 248.7h0M159.8 265.9h0M182.1 278.5h0M176.4 282.3h0M195.6 278.9h0M206.5 260.7h0M161.3 253.6h0M180.7 270.8h0M181.3 281.6h0M176.9 266.6h0M192.6 278.9h0M179.9 253.3h0M188.7 257.7h0M196.5 259.0h0M212.5 280.7h0M156.9 266.3h0M212.8 257.3h0M170.4 285.7h0M169.1 263.6h0M192.4 254.1h0M194.5 272.5h0M207.0 287.5h0M188.9 275.2h0M167.0 267.1h0M201.2 269.9h0M167.3 285.6h0M166.7 269.2h0M160.7 289.5h0M206.6 287.0h0M211.8 264.1h0M206.5 263.2h0M208.1 249.2h0M208.7 272.8h0M192.7 259.4h0M204.9 252.8h0M185.3 247.5h0M172.8 241.4h0M165.1 279.6h0M165.8 276.0h0M198.0 265.3h0M179.8 241.9h0M168.7 283.8h0M188.5 239.4h0M208.9 263.1h0M206.4 263.7h0M195.7 267.3h0M168.4 241.7h0M205.5 282.2h0M171.7 276.0h0M160.5 282.0h0M181.0 269.7h0M174.6 281.0h0M168.6 249.6h0M195.3 280.0h0M202.3 257.4h0M160.1 283.4h0M182.5 267.0h0M160.0 262.1h0M192.9 240.3h0M189.9 267.8h0M205.5 265.0h0M178.6 269.4h0M194.3 288.4h0M191.1 272.3h0M159.8 278.9h0M190.5 288.4h0M198.1 253.4h0M203.2 261.9h0M173.9 268.6h0M163.6 239.3h0M190.5 240.3h0M170.4 275.4h0M208.5 243.7h0M189.2 289.5h0M160.6 260.6h0M193.7 286.6h0M202.1 239.5h0M198.9 243.2h0M208.9 278.6h0M182.0 257.7h0M189.0 272.1h0M210.2 270.3h0M185.1 262.5h0M183.1 272.6h0M175.4 272.0h0M205.3 269.2h0M197.4 248.8h0M174.2 244.7h0M194.6 290.9h0M171.6 273.7h0M201.1 241.8h0M155.6 256.4h0M192.1 282.2h0M160.6 283.2h0M178.7 258.2h0M177.1 266.0h0M194.0 290.9h0M200.4 271.9h0M163.4 255.1h0M159.2 258.9h0M210.7 243.6h0M172.0 258.9h0M192.0 281.1h0M185.5 274.2h0M175.3 278.9h0M202.7 285.5h0M195.2 248.8h0M195.2 267.6h0M180.0 263.7h0M199.5 251.8h0M186.1 246.1h0M165.0 262.4h0M200.2 266.5h0M182.4 273.1h0M193.0 275.7h0M162.3 268.2h0M178.8 286.5h0M191.2 246.4h0M177.2 284.3h0M159.0 284.0h0M188.7 282.3h0M180.9 245.7h0M181.4 266.4h0M171.3 239.3h0M189.4 246.1h0M184.8 278.7h0M165.6 286.5h0M159.6 241.7h0M156.5 240.9h0M162.5 252.9h0M170.8 285.8h0M197.1 289.0h0M171.6 249.3h0M199.9 268.5h0M167.9 240.4h0M176.4 253.8h0M197.6 273.4h0M209.8 252.4h0M188.9 253.9h0M172.9 270.0h0M187.8 244.2h0M189.8 256.9h0M171.0 261.1h0M203.4 283.9h0M203.3 288.2h0M206.3 254.4h0M174.4 260.9h0M169.2 269.6h0M190.5 263.5h0M167.8 240.6h0M207.4 254.4h0M188.4 250.6h0M182.8 272.1h0M170.9 255.9h0M191.9 261.9h0M164.4 259.2h0M155.8 254.3h0M187.9 280.3h0M187.0 248.9h0M169.6 241.2h0M166.2 259.0h0M195.5 255.7h0M174.3 242.9h0M158.3 269.2h0M183.1 252.5h0M166.9 270.3h0M172.3 264.2h0M157.7 244.6h0M186.9 260.8h0M160.6 272.2h0M195.6 260.6h0M178.1 273.7h0M177.0 271.7h0M184.6 266.2h0M210.3 246.3h0M157.7 264.2h0M164.3 289.1h0M164.8 286.1h0M191.7 278.5h0M160.4 263.9h0M176.9 244.4h0M204.5 266.1h0M169.5 257.6h0M197.6 288.4h0M186.9 281.1h0M164.2 281.3h0M198.4 282.1h0M197.0 253.8h0M183.7 247.0h0M157.2 267.6h0M197.1 240.3h0M210.7 260.0h0M184.1 272.1h0M172.5 245.9h0M199.4 288.8h0M163.8 260.0h0M178.0 244.9h0M198.1 241.4h0M177.6 270.0h0M177.2 266.8h0M191.0 272.5h0M184.9 270.6h0M199.5 280.6h0M154.5 287.0h0M204.5 265.7h0M208.6 275.6h0M179.6 263.6h0M18.2 336.9h0M11.3 333.1h0M24.3 314.8h0M9.8 343.7h0M13.1 328.7h0M9.0 336.3h0M28.8 330.1h0M25.8 310.5h0M26.2 312.5h0M14.8 345.0h0M30.8 346.0h0M15.3 309.6h0M22.0 340.2h0M29.8 348.4h0M18.1 350.0h0M18.0 326.8h0M34.6 330.9h0M32.6 326.3h0M29.5 326.2h0M22.4 310.0h0M32.0 321.2h0M23.9 326.5h0M26.8 329.7h0M27.3 318.1h0M11.8 324.4h0M22.0 342.1h0M9.1 315.3h0M8.8 318.4h0M31.3 309.8h0M15.0 345.4h0M16.5 313.1h0M25.0 306.1h0M16.0 351.3h0M15.4 310.3h0M31.0 331.8h0M25.8 343.0h0M20.0 353.4h0M17.7 336.6h0M6.4 320.3h0M20.8 321.7h0M23.8 306.9h0M14.3 345.5h0M31.8 328.7h0M32.1 305.1h0M31.7 330.3h0M18.4 321.0h0M24.4 345.2h0M28.0 343.8h0M9.7 310.0h0M11.4 343.6h0M10.6 312.1h0M26.1 315.5h0M28.3 352.1h0M10.9 352.5h0M16.9 333.4h0M14.9 342.1h0M15.4 331.5h0M21.8 351.8h0M19.9 321.9h0M28.9 348.8h0M16.0 306.6h0M13.1 320.2h0M12.5 325.2h0M7.4 310.3h0M23.9 320.2h0M19.5 341.7h0M7.1 320.7h0M30.4 349.0h0M20.3 329.7h0M25.8 338.7h0M17.8 315.7h0M33.7 314.5h0M13.0 351.7h0M26.6 340.9h0M13.8 339.8h0M11.6 305.0h0M15.5 312.7h0M18.9 344.0h0M33.0 306.2h0M23.0 343.1h0M11.3 338.6h0M10.8 352.7h0M25.5 338.2h0M23.3 319.4h0M10.7 317.3h0M28.5 318.7h0M16.8 331.4h0M11.7 338.7h0M9.6 313.0h0M8.1 316.8h0M21.7 347.6h0M13.8 333.2h0M17.5 329.6h0M33.0 324.5h0M31.9 308.8h0M20.3 311.0h0M8.0 344.9h0M17.6 307.4h0M29.2 340.5h0M30.2 348.6h0M22.0 316.8h0M32.0 304.2h0M30.9 320.5h0M27.6 340.7h0M29.7 330.2h0M9.5 347.3h0M28.0 347.4h0M16.0 306.6h0M8.0 323.1h0M11.3 342.6h0M21.9 314.1h0M6.9 305.8h0M6.5 349.1h0M8.1 329.6h0M22.1 348.9h0M24.1 347.4h0M18.1 315.9h0M19.8 314.1h0M24.0 330.2h0M23.2 313.6h0M33.6 326.8h0M18.0 307.7h0M19.8 317.9h0M12.7 313.1h0M188.8 313.3h0M198.6 306.0h0M199.0 349.6h0M213.9 343.9h0M191.2 339.6h0M190.2 330.9h0M212.2 304.1h0M205.0 349.6h0M171.7 331.2h0M165.1 343.7h0M210.3 319.9h0M164.6 336.1h0M175.2 348.4h0M178.8 354.8h0M204.2 324.9h0M208.1 347.9h0M194.6 313.4h0M160.8 305.2h0M204.4 315.7h0M195.0 307.0h0M201.7 319.8h0M180.5 313.0h0M206.6 349.0h0M173.3 322.9h0M190.3 332.3h0M212.4 330.8h0M172.3 310.0h0M178.5 319.1h0M172.7 309.0h0M217.2 343.8h0M214.3 330.3h0M163.7 327.4h0M207.5 329.1h0M208.0 314.9h0M194.7 333.5h0M197.2 321.5h0M179.6 327.4h0M206.7 322.3h0M169.3 344.7h0M169.9 311.9h0M170.7 342.9h0M187.4 354.4h0M192.6 318.4h0M166.8 322.7h0M159.4 304.6h0M178.7 313.5h0M215.6 329.2h0M173.0 311.1h0M172.1 328.4h0M202.9 351.6h0M175.8 321.6h0M163.5 326.3h0M209.1 327.9h0M195.4 308.9h0M178.8 325.3h0M193.9 341.5h0M172.4 331.5h0M217.6 326.6h0M189.5 313.0h0M164.2 312.4h0M189.6 311.1h0M196.4 342.2h0M187.4 322.9h0M189.5 339.1h0M213.8 312.5h0M186.5 346.3h0M180.7 315.2h0M194.7 309.4h0M177.4 342.9h0M187.9 305.6h0M213.7 321.4h0M201.0 344.2h0M190.2 316.9h0M163.0 354.5h0M164.1 352.5h0M164.4 351.0h0M214.4 341.4h0M186.6 322.2h0M184.2 331.4h0M167.5 306.2h0M216.8 306.2h0M204.8 316.4h0M180.3 336.7h0M190.0 335.4h0M187.7 304.2h0M198.1 334.9h0M215.6 340.7h0M184.5 324.2h0M180.9 354.9h0M199.7 352.7h0M209.3 312.1h0M179.4 345.5h0M190.5 306.4h0M210.7 344.2h0M190.8 309.3h0M211.4 314.7h0M200.5 353.1h0M171.6 304.6h0M185.1 333.3h0M210.7 314.1h0M205.6 349.3h0M201.1 309.1h0M212.0 320.6h0M197.6 334.9h0M183.3 307.6h0M164.6 351.8h0M205.4 312.9h0M200.2 313.9h0M214.0 327.4h0M180.7 307.3h0M183.5 328.0h0M214.3 350.6h0M169.1 332.5h0M169.8 328.7h0M200.6 326.8h0M205.8 346.3h0M183.2 321.7h0M187.9 325.8h0M172.2 328.3h0M190.8 325.2h0M166.0 353.3h0M179.4 316.8h0M200.6 332.8h0M163.3 334.9h0M196.4 309.2h0M162.0 353.7h0M184.7 310.8h0M192.6 308.0h0M191.8 323.9h0M165.0 309.1h0M175.5 335.8h0M197.5 340.2h0M199.4 321.2h0M179.9 346.8h0M182.4 327.7h0M175.4 346.2h0M198.6 310.1h0M207.5 313.9h0M161.8 350.4h0M180.4 315.0h0M183.8 308.6h0M199.5 322.6h0M214.0 325.2h0M180.3 310.9h0M182.4 323.6h0M168.7 307.6h0M196.5 334.4h0M178.1 337.2h0M182.4 329.8h0M213.0 321.4h0M173.6 322.7h0M163.4 322.9h0M188.8 352.6h0M182.9 328.0h0M207.1 349.3h0M178.5 306.4h0M188.9 338.4h0M202.6 310.9h0M190.3 307.9h0M178.9 326.8h0M174.2 312.7h0M163.0 332.4h0M185.6 307.3h0M165.4 314.2h0M175.8 328.1h0M167.4 318.7h0M212.1 350.2h0M165.7 350.9h0M198.5 326.0h0M193.0 342.5h0M207.0 331.7h0M166.9 326.2h0M211.8 351.5h0M216.6 328.3h0M204.5 335.9h0M194.9 352.6h0M162.4 348.4h0M189.6 311.5h0M176.2 330.1h0M163.7 332.8h0M173.9 339.1h0M199.1 353.3h0M186.6 345.6h0M211.6 328.9h0M194.9 304.1h0M215.0 315.9h0M190.4 326.2h0M215.9 339.4h0M185.4 328.2h0M195.2 310.0h0M208.8 332.1h0M202.2 332.6h0M177.4 344.1h0M194.0 325.3h0M193.5 351.1h0M161.4 327.2h0M211.0 348.6h0M210.2 319.1h0M166.7 312.3h0M214.1 338.1h0M188.2 308.0h0M173.8 343.2h0M185.2 348.5h0M181.3 319.9h0M203.8 353.6h0M199.5 314.2h0M208.4 334.6h0M196.8 326.8h0M186.9 343.1h0M173.4 328.1h0M164.2 316.6h0M210.4 335.8h0M170.6 304.8h0M173.5 313.8h0M181.2 313.7h0M209.2 316.0h0M204.8 331.7h0M168.6 307.5h0M174.0 349.7h0M165.0 330.6h0M217.2 327.6h0M210.4 352.6h0M358.9 284.2h0M361.6 266.2h0M378.4 277.7h0M359.7 285.5h0M378.0 267.8h0M364.9 253.2h0M364.9 286.1h0M369.7 244.7h0M363.3 247.5h0M367.1 259.3h0M357.4 283.1h0M360.7 277.7h0M367.7 275.4h0M374.9 251.1h0M377.8 259.0h0M360.0 242.6h0M368.5 244.9h0M375.2 251.3h0M371.4 250.5h0M359.7 261.8h0M360.1 257.0h0M374.0 249.1h0M371.6 265.1h0M369.7 248.7h0M381.2 278.5h0M370.3 287.8h0M368.7 241.2h0M368.8 281.4h0M361.4 249.4h0M372.6 244.1h0M357.8 254.4h0M373.2 269.6h0M371.5 243.9h0M364.1 287.5h0M358.1 283.9h0M376.7 255.6h0M356.1 250.3h0M375.1 290.5h0M355.5 251.2h0M365.3 252.1h0M368.1 261.2h0M373.7 267.8h0M362.6 284.1h0M363.4 278.0h0M376.1 273.1h0M362.0 290.8h0M357.6 268.2h0M358.4 286.1h0M366.6 274.0h0M361.3 286.0h0M373.6 248.6h0M358.4 275.7h0M380.0 287.0h0M355.8 256.9h0M364.8 289.3h0M369.9 282.0h0M373.0 280.1h0M375.6 269.2h0M363.2 253.0h0M357.5 243.8h0M369.2 279.0h0M377.1 264.7h0M367.6 252.7h0M368.2 281.6h0M356.0 241.3h0M373.8 283.0h0M356.3 245.3h0M363.1 258.1h0M379.2 279.8h0M360.9 284.3h0M365.8 264.2h0M378.1 259.4h0M378.0 281.0h0M363.1 249.0h0M364.3 270.1h0M368.5 274.4h0M373.4 279.9h0M370.8 262.1h0M368.1 266.1h0M383.0 281.0h0M376.4 256.3h0M375.5 289.8h0M368.5 271.3h0M353.8 269.9h0M376.7 318.7h0M376.4 312.0h0M369.6 305.8h0M355.5 322.3h0M355.5 333.1h0M368.2 342.6h0M357.3 315.1h0M353.7 312.1h0M355.3 348.7h0M372.0 307.0h0M362.0 336.0h0M368.4 349.7h0M370.9 304.7h0M375.2 327.0h0M374.0 329.2h0M376.8 348.2h0M362.7 341.7h0M371.5 329.6h0M371.5 332.1h0M378.5 349.2h0M357.1 321.9h0M369.1 344.7h0M366.1 310.0h0M356.0 331.3h0M362.9 350.1h0M355.4 333.7h0M368.7 325.4h0M363.6 311.0h0M374.9 317.9h0M356.1 326.6h0M382.0 331.8h0M359.1 347.7h0M375.6 342.0h0M366.4 330.9h0M371.8 338.7h0M367.9 318.3h0M359.9 330.0h0M360.5 305.3h0M382.3 335.6h0M367.5 338.8h0M382.5 353.2h0M364.3 331.9h0M374.2 338.3h0M359.1 314.2h0M376.2 311.5h0M364.7 344.0h0M366.2 329.9h0M375.5 352.1h0M378.7 346.6h0M364.1 350.1h0M358.9 318.7h0M356.0 312.9h0M363.1 354.1h0M357.9 353.3h0M368.2 347.1h0M370.8 325.1h0M358.3 338.6h0M375.6 349.8h0M355.7 304.7h0M369.4 314.2h0M371.2 351.8h0M373.0 351.2h0M363.4 323.2h0M371.1 346.3h0M379.8 317.5h0M366.4 328.6h0M357.5 348.0h0M379.5 329.2h0M358.3 345.2h0M368.4 332.9h0M361.4 318.0h0M364.3 348.5h0M377.2 351.9h0M364.8 316.3h0M365.8 335.7h0M353.4 342.2h0M360.1 336.9h0M363.2 346.5h0M374.0 347.3h0M364.8 321.4h0M364.2 304.0h0M368.4 320.5h0M370.0 337.7h0M354.3 311.1h0M369.9 338.3h0M381.4 310.8h0M357.8 306.8h0M379.2 353.8h0M371.3 310.1h0M369.5 326.3h0M357.3 353.8h0M358.7 347.1h0M374.5 305.8h0M365.5 348.0h0M360.2 346.8h0M378.1 304.2h0M373.4 350.5h0"/>
<path stroke="#aaaaaa" stroke-width="2.2" stroke-linecap="round" fill="none" d="M209.0 286.8h0M213.3 244.8h0M213.0 251.1h0M213.9 258.4h0M213.6 265.1h0M213.4 270.9h0M213.6 277.3h0M213.3 283.4h0M213.6 289.6h0M218.3 242.0h0M218.3 248.1h0M217.6 254.5h0M217.7 261.1h0M219.1 267.8h0M218.2 274.4h0M217.8 279.6h0M217.7 287.4h0M222.6 244.4h0M223.1 252.0h0M222.7 258.8h0M222.7 264.8h0M222.3 270.5h0M222.4 277.3h0M223.3 283.5h0M223.0 289.8h0M227.5 242.0h0M227.3 248.5h0M227.9 254.9h0M228.1 261.7h0M227.7 267.8h0M227.0 273.9h0M227.6 280.2h0M227.6 287.0h0M232.2 245.0h0M232.3 251.3h0M232.4 257.7h0M232.4 264.7h0M232.5 270.4h0M231.9 277.3h0M232.9 283.2h0M237.4 242.4h0M236.8 248.6h0M237.2 254.8h0M237.1 261.3h0M236.9 268.0h0M236.7 274.5h0M237.2 281.0h0M237.7 287.1h0M241.1 245.2h0M242.1 251.5h0M241.8 257.9h0M242.1 265.2h0M242.0 270.9h0M241.8 277.1h0M242.2 283.1h0M242.0 290.1h0M246.3 242.6h0M246.8 248.0h0M246.4 255.5h0M246.9 261.5h0M245.8 268.0h0M246.4 273.7h0M245.9 280.1h0M246.9 287.0h0M251.1 239.1h0M250.8 245.6h0M251.0 251.7h0M251.2 258.1h0M251.3 264.8h0M251.6 271.2h0M251.3 278.0h0M251.0 283.7h0M251.6 289.5h0M256.2 242.4h0M255.6 248.7h0M256.2 254.8h0M256.0 261.2h0M255.8 267.9h0M255.8 273.9h0M255.4 280.2h0M256.1 286.7h0M260.9 245.1h0M260.9 251.3h0M260.1 257.8h0M261.1 264.9h0M260.6 271.2h0M260.8 277.6h0M260.6 283.6h0M261.4 290.1h0M265.3 241.8h0M265.0 248.3h0M266.0 254.6h0M265.5 261.3h0M265.7 268.0h0M265.6 273.8h0M265.4 280.6h0M264.8 286.4h0M270.4 239.1h0M270.9 245.3h0M270.1 251.7h0M270.0 257.8h0M270.0 264.6h0M270.4 271.0h0M269.9 276.7h0M270.0 283.0h0M270.4 289.7h0M275.0 242.4h0M275.1 248.6h0M275.1 255.1h0M275.4 261.1h0M274.7 267.7h0M274.3 273.8h0M275.0 280.7h0M275.1 286.9h0M279.0 245.3h0M279.3 252.0h0M279.6 258.0h0M279.6 264.7h0M279.9 270.7h0M279.4 276.9h0M279.4 283.7h0M279.1 290.0h0M284.8 243.0h0M284.5 247.8h0M284.5 254.8h0M284.3 261.9h0M284.3 267.7h0M284.4 274.0h0M284.7 280.0h0M284.4 287.7h0M289.4 245.5h0M288.6 251.6h0M289.2 258.0h0M289.3 264.0h0M289.5 270.7h0M289.2 277.0h0M288.9 283.4h0M289.8 290.2h0M293.7 242.0h0M293.7 248.1h0M293.9 255.0h0M293.7 261.6h0M293.7 268.0h0M294.8 274.2h0M294.0 279.9h0M293.5 286.8h0M298.2 244.8h0M298.5 251.4h0M298.1 258.0h0M298.7 264.3h0M299.1 270.7h0M298.5 277.3h0M298.1 283.9h0M298.6 290.2h0M303.1 242.7h0M303.1 248.7h0M302.7 255.2h0M303.3 262.1h0M303.5 268.0h0M303.2 273.9h0M303.4 280.2h0M303.1 287.3h0M307.8 239.0h0M307.8 244.9h0M307.9 251.9h0M307.9 258.3h0M308.3 264.3h0M307.9 270.4h0M307.8 276.8h0M307.8 283.7h0M307.4 289.8h0M312.7 242.4h0M313.2 248.7h0M312.6 255.3h0M312.4 261.6h0M312.3 268.1h0M313.2 274.3h0M312.5 280.9h0M313.3 286.7h0M317.7 239.3h0M317.5 244.6h0M317.6 251.6h0M317.9 257.9h0M317.5 264.6h0M317.4 271.1h0M317.9 277.1h0M317.5 284.4h0M317.4 290.4h0M321.8 241.8h0M322.7 248.8h0M322.0 254.3h0M323.0 261.0h0M322.0 267.8h0M322.2 274.1h0M321.7 280.3h0M322.2 287.1h0M327.3 244.8h0M326.7 251.2h0M326.9 258.5h0M326.5 264.4h0M326.6 271.1h0M326.6 278.3h0M327.0 284.0h0M326.7 289.8h0M331.1 241.7h0M331.6 248.5h0M331.7 255.3h0M331.8 261.8h0M331.4 267.9h0M331.9 274.1h0M331.3 281.1h0M331.7 286.9h0M217.4 309.7h0M218.5 315.5h0M218.0 322.4h0M218.4 329.0h0M218.2 335.3h0M218.2 341.1h0M218.9 347.6h0M217.8 353.8h0M222.6 305.7h0M222.6 312.5h0M223.0 318.8h0M222.7 325.2h0M222.6 330.7h0M222.3 338.4h0M223.2 343.3h0M222.6 350.8h0M227.3 308.6h0M228.1 315.5h0M227.7 322.1h0M227.8 328.1h0M227.2 335.6h0M226.9 341.3h0M227.0 347.1h0M227.6 353.8h0M232.8 306.3h0M232.3 311.8h0M232.5 318.7h0M232.2 325.6h0M232.1 331.6h0M232.3 338.1h0M231.9 344.4h0M231.7 351.1h0M237.3 309.6h0M236.7 315.4h0M237.2 322.6h0M237.2 328.2h0M237.8 335.0h0M237.1 341.1h0M237.3 347.2h0M236.3 353.7h0M241.7 305.6h0M242.1 312.3h0M241.7 319.0h0M241.4 325.4h0M241.5 332.3h0M242.0 338.5h0M241.5 344.6h0M241.1 351.0h0M246.3 309.2h0M246.2 315.8h0M246.3 321.9h0M246.6 328.3h0M246.6 334.8h0M246.2 341.1h0M246.7 347.9h0M246.4 354.1h0M251.6 306.1h0M250.8 312.6h0M251.2 318.5h0M251.2 325.6h0M251.2 332.0h0M251.6 338.1h0M251.2 344.3h0M251.2 351.6h0M255.5 309.3h0M255.8 315.7h0M255.7 322.4h0M256.4 328.8h0M256.1 335.3h0M255.4 341.6h0M255.9 348.0h0M255.8 354.0h0M260.8 305.8h0M261.0 312.5h0M260.1 318.2h0M260.6 325.8h0M260.7 331.9h0M260.6 337.8h0M260.9 344.3h0M260.3 350.3h0M265.5 309.2h0M265.3 315.4h0M265.4 321.7h0M264.8 327.8h0M265.4 335.2h0M265.4 340.9h0M265.6 347.7h0M265.7 353.9h0M270.7 306.2h0M269.8 312.4h0M270.4 319.2h0M270.1 326.3h0M270.1 331.8h0M270.1 337.5h0M269.5 344.3h0M270.2 350.2h0M274.6 309.4h0M274.6 315.8h0M274.8 322.2h0M275.0 328.2h0M274.8 335.3h0M274.8 341.5h0M275.5 348.6h0M274.6 354.0h0M279.5 305.9h0M279.6 312.0h0M279.4 318.8h0M279.4 325.4h0M279.4 331.5h0M279.7 338.1h0M279.8 344.5h0M279.4 351.2h0M284.5 309.5h0M284.3 316.3h0M284.4 322.2h0M284.5 328.7h0M284.0 334.5h0M284.2 341.4h0M284.4 347.2h0M283.4 353.7h0M288.7 305.1h0M289.1 312.3h0M288.8 318.9h0M289.0 325.2h0M289.2 331.6h0M289.1 338.0h0M289.2 344.8h0M288.6 350.8h0M294.1 309.1h0M293.5 315.0h0M293.6 322.0h0M293.7 329.1h0M293.6 335.2h0M293.8 341.1h0M293.7 347.9h0M293.6 354.5h0M298.4 305.6h0M298.7 312.3h0M298.7 319.3h0M298.1 325.2h0M297.8 331.9h0M298.0 338.3h0M298.2 343.8h0M297.9 350.9h0M302.5 309.6h0M303.4 315.1h0M303.6 322.1h0M303.1 328.4h0M302.6 334.9h0M302.7 341.6h0M302.6 348.2h0M302.9 354.4h0M307.5 306.1h0M307.4 312.6h0M307.9 319.2h0M307.8 325.1h0M307.7 331.5h0M307.4 337.5h0M307.7 343.9h0M307.3 350.9h0M312.6 309.3h0M312.5 316.2h0M312.7 322.2h0M311.7 328.1h0M313.0 334.9h0M312.4 341.7h0M312.5 348.3h0M313.1 354.4h0M317.2 305.7h0M317.3 311.8h0M317.4 318.4h0M317.0 325.2h0M317.3 331.7h0M317.1 337.6h0M317.3 344.1h0M317.2 350.7h0M322.4 309.5h0M322.3 315.7h0M322.4 322.3h0M321.6 327.9h0M322.6 335.2h0M322.2 341.1h0M321.3 347.4h0M321.9 354.6h0M326.7 306.1h0M326.9 312.4h0M326.8 318.9h0M326.6 325.4h0M326.7 331.2h0M326.1 338.0h0M326.3 343.7h0M326.9 350.5h0M331.0 309.3h0M331.6 315.7h0M331.2 322.4h0M331.2 328.7h0M330.7 334.6h0M331.1 340.9h0M330.8 347.8h0M331.3 354.2h0M560.5 244.7h0M560.5 251.1h0M560.7 258.0h0M560.9 263.3h0M561.2 269.8h0M560.8 276.6h0M560.0 282.8h0M560.7 289.0h0M565.2 241.1h0M564.8 247.3h0M564.9 253.3h0M564.8 260.6h0M565.5 267.3h0M565.2 273.3h0M565.4 279.8h0M565.6 285.9h0M569.3 244.7h0M569.9 251.1h0M569.7 257.8h0M570.5 263.0h0M570.3 269.8h0M570.1 276.2h0M569.4 282.7h0M570.4 289.5h0M574.5 242.0h0M574.7 247.1h0M575.1 254.3h0M574.5 260.2h0M574.1 266.3h0M575.1 273.3h0M574.7 280.0h0M574.8 286.4h0M579.0 244.6h0M579.9 250.6h0M579.3 257.1h0M578.8 264.0h0M579.5 270.6h0M579.5 276.7h0M579.3 282.9h0M579.2 289.0h0M583.7 242.0h0M584.1 247.6h0M584.3 254.6h0M584.2 260.9h0M584.1 267.3h0M583.6 273.6h0M584.4 279.2h0M584.3 286.3h0M588.8 244.4h0M589.3 250.4h0M588.3 257.3h0M588.8 263.6h0M588.5 269.9h0M588.8 276.6h0M588.6 283.2h0M588.9 288.8h0M593.4 241.3h0M593.5 247.9h0M593.8 255.1h0M594.4 260.7h0M593.9 266.8h0M593.2 273.1h0M593.6 279.6h0M593.4 286.2h0M598.7 244.8h0M598.3 250.8h0M598.6 257.6h0M598.0 264.1h0M598.5 269.8h0M598.2 276.7h0M598.5 283.1h0M598.0 289.7h0M603.3 240.9h0M603.1 248.2h0M602.7 254.9h0M603.3 260.3h0M602.8 266.8h0M603.4 273.6h0M602.9 279.5h0M603.3 285.9h0M607.9 244.4h0M608.2 251.1h0M607.7 257.5h0M608.2 263.5h0M608.2 269.7h0M607.4 277.1h0M608.0 282.7h0M607.9 289.1h0M612.5 241.4h0M612.8 247.5h0M613.0 254.4h0M612.0 260.6h0M612.8 266.8h0M612.6 272.7h0M613.4 279.4h0M612.1 285.7h0M617.4 244.8h0M617.2 251.1h0M617.3 257.5h0M617.1 263.3h0M617.4 270.0h0M617.1 276.8h0M617.8 283.1h0M617.0 288.7h0M622.4 241.4h0M620.9 247.9h0M622.0 254.1h0M622.5 260.7h0M622.6 266.6h0M621.2 272.9h0M621.6 279.3h0M621.4 286.1h0M626.8 244.3h0M626.3 251.1h0M626.9 257.7h0M626.4 263.5h0M627.0 270.0h0M626.9 276.4h0M627.4 282.7h0M626.2 289.3h0M631.4 241.7h0M631.3 248.1h0M631.3 254.5h0M631.6 260.4h0M631.0 267.2h0M631.1 273.7h0M631.7 279.8h0M631.6 286.4h0M636.3 244.7h0M636.3 251.0h0M635.9 257.4h0M636.3 263.4h0M635.5 270.7h0M635.6 276.7h0M635.7 282.6h0M636.3 289.3h0M640.4 241.1h0M641.3 247.8h0M640.9 254.5h0M641.6 260.2h0M640.8 267.6h0M640.5 273.6h0M640.8 279.3h0M640.8 286.3h0M645.2 244.5h0M644.6 250.6h0M645.4 257.5h0M645.2 263.3h0M645.2 269.8h0M645.7 277.3h0M645.5 283.8h0M646.2 288.8h0M650.0 241.6h0M650.0 247.7h0M650.1 253.9h0M650.2 260.4h0M650.3 266.9h0M650.0 272.9h0M650.2 279.6h0M649.8 286.1h0M655.0 244.9h0M654.8 250.7h0M654.4 257.2h0M655.1 263.6h0M654.5 270.0h0M654.7 276.5h0M655.6 282.5h0M654.8 289.8h0M659.6 241.6h0M659.5 248.0h0M659.2 253.9h0M659.6 260.1h0M659.2 266.9h0M659.8 273.3h0M659.7 279.9h0M659.7 286.9h0M663.5 244.7h0M664.1 251.1h0M664.6 257.3h0M664.4 264.3h0M664.4 270.1h0M665.2 276.5h0M664.5 283.2h0M664.7 288.9h0M669.1 240.8h0M669.6 247.9h0M669.7 253.6h0M668.9 259.9h0M669.1 267.1h0M669.3 273.2h0M668.6 280.2h0M669.1 286.2h0M674.2 244.6h0M673.9 250.8h0M673.6 256.8h0M673.9 263.7h0M673.5 270.1h0M674.2 276.2h0M674.2 283.1h0M674.3 289.1h0M678.6 241.4h0M678.2 247.3h0M678.7 255.4h0M678.8 260.7h0M678.6 267.5h0M678.9 273.6h0M678.8 280.1h0M678.1 286.1h0M564.5 309.7h0M564.9 348.2h0M569.7 305.3h0M569.4 312.3h0M569.6 319.1h0M570.1 325.3h0M569.4 331.5h0M569.9 338.3h0M569.2 344.2h0M570.1 351.1h0M574.3 309.2h0M574.8 315.5h0M574.8 322.6h0M574.4 328.2h0M574.8 335.0h0M573.9 341.2h0M574.6 347.8h0M574.9 353.9h0M579.4 306.3h0M579.0 312.0h0M579.3 319.6h0M579.4 324.8h0M579.1 331.6h0M579.8 338.0h0M579.7 344.1h0M579.3 351.0h0M583.5 309.7h0M584.0 316.5h0M583.8 321.8h0M584.2 329.1h0M582.9 334.9h0M583.5 341.3h0M584.1 347.7h0M584.3 354.1h0M588.8 305.8h0M589.0 312.6h0M588.3 318.5h0M588.0 325.5h0M588.7 331.4h0M588.7 337.8h0M588.8 344.4h0M589.3 350.4h0M593.1 308.7h0M594.0 315.5h0M593.4 322.6h0M593.7 328.0h0M593.4 334.6h0M594.1 340.9h0M593.3 347.8h0M598.1 305.4h0M598.4 313.0h0M597.7 319.2h0M597.8 325.6h0M598.6 331.4h0M598.5 337.2h0M598.7 344.3h0M598.8 350.9h0M603.0 309.2h0M602.5 315.9h0M603.0 322.7h0M602.7 328.4h0M602.9 335.0h0M602.6 340.8h0M603.4 348.0h0M602.7 353.5h0M607.6 305.8h0M607.5 312.1h0M607.2 318.5h0M607.7 325.3h0M607.4 331.6h0M608.2 338.6h0M607.6 344.5h0M607.4 350.8h0M612.8 309.9h0M612.2 315.4h0M612.4 322.3h0M612.1 327.9h0M611.9 335.5h0M612.0 341.1h0M612.0 347.7h0M612.2 353.5h0M617.4 305.7h0M616.8 312.3h0M616.6 318.9h0M616.5 325.2h0M616.9 332.1h0M616.9 337.9h0M617.0 344.6h0M617.0 350.7h0M621.7 308.6h0M621.7 315.8h0M622.2 322.1h0M621.9 328.8h0M622.3 334.8h0M622.0 341.5h0M621.4 348.1h0M621.3 354.1h0M626.0 305.6h0M626.6 312.4h0M626.2 319.1h0M626.3 325.2h0M626.1 330.9h0M626.2 338.3h0M626.3 344.2h0M627.0 351.1h0M631.7 309.3h0M630.8 315.7h0M630.7 321.7h0M631.0 328.6h0M631.9 335.0h0M630.9 341.1h0M631.2 348.0h0M631.3 354.3h0M636.1 305.9h0M635.6 312.6h0M635.9 318.8h0M635.5 325.5h0M635.7 331.9h0M635.2 338.3h0M635.9 343.7h0M635.5 351.0h0M640.9 309.4h0M640.6 315.3h0M640.6 322.3h0M640.7 328.4h0M640.7 335.3h0M640.5 341.0h0M640.3 348.0h0M640.6 354.6h0M645.3 305.7h0M645.6 312.7h0M645.1 318.6h0M646.0 325.0h0M645.7 331.3h0M645.4 337.6h0M645.1 344.5h0M645.6 350.8h0M650.1 308.9h0M649.8 316.4h0M650.1 322.2h0M650.0 328.5h0M650.0 334.7h0M650.3 341.7h0M649.8 347.3h0M650.2 353.8h0M654.6 306.5h0M655.1 312.9h0M655.0 318.4h0M654.7 325.1h0M655.4 331.6h0M655.1 338.2h0M654.4 344.3h0M654.3 350.7h0M659.8 309.4h0M659.8 315.4h0M659.7 322.0h0M659.0 328.7h0M659.4 334.8h0M659.2 341.7h0M659.2 347.5h0M659.5 354.2h0M663.5 306.2h0M663.8 312.5h0M664.4 318.2h0M664.2 325.2h0M664.4 332.1h0M663.8 338.0h0M664.3 344.3h0M664.0 350.7h0M668.9 309.5h0M668.5 315.8h0M669.2 322.2h0M668.9 328.1h0M669.5 335.0h0M669.2 341.3h0M668.7 347.2h0M668.3 354.3h0M674.5 306.3h0M673.5 312.2h0M674.2 318.1h0M673.6 324.8h0M674.2 331.6h0M673.5 338.4h0M673.5 344.4h0M673.3 350.5h0M678.3 309.3h0M678.4 316.1h0M677.8 321.7h0M678.9 328.4h0M678.3 335.3h0M678.0 342.0h0M678.2 348.0h0M678.4 353.9h0"/>
<path stroke="#b4d0ae" stroke-width="2.0" stroke-linecap="round" fill="none" d="M43.4 369.4h0M41.2 373.5h0M43.4 382.0h0M51.4 377.2h0M41.2 386.1h0M43.4 394.6h0M51.4 389.8h0M41.2 398.8h0M43.4 407.3h0M51.4 402.5h0M41.2 411.4h0M43.4 419.9h0M51.4 415.1h0M64.2 369.4h0M54.0 368.7h0M62.1 373.5h0M64.2 382.0h0M54.0 381.3h0M72.2 377.2h0M62.1 386.1h0M64.2 394.6h0M54.0 393.9h0M72.2 389.8h0M62.1 398.8h0M64.2 407.3h0M54.0 406.6h0M72.2 402.5h0M62.1 411.4h0M64.2 419.9h0M54.0 419.2h0M72.2 415.1h0M85.1 369.4h0M74.8 368.7h0M82.9 373.5h0M85.1 382.0h0M74.8 381.3h0M93.1 377.2h0M82.9 386.1h0M85.1 394.6h0M74.8 393.9h0M93.1 389.8h0M82.9 398.8h0M85.1 407.3h0M74.8 406.6h0M93.1 402.5h0M82.9 411.4h0M85.1 419.9h0M74.8 419.2h0M93.1 415.1h0M106.0 369.4h0M95.7 368.7h0M103.8 373.5h0M106.0 382.0h0M95.7 381.3h0M114.0 377.2h0M103.8 386.1h0M106.0 394.6h0M95.7 393.9h0M114.0 389.8h0M103.8 398.8h0M106.0 407.3h0M95.7 406.6h0M114.0 402.5h0M103.8 411.4h0M106.0 419.9h0M95.7 419.2h0M114.0 415.1h0M126.8 369.4h0M116.5 368.7h0M124.6 373.5h0M126.8 382.0h0M116.5 381.3h0M134.8 377.2h0M124.6 386.1h0M126.8 394.6h0M116.5 393.9h0M134.8 389.8h0M124.6 398.8h0M126.8 407.3h0M116.5 406.6h0M134.8 402.5h0M124.6 411.4h0M126.8 419.9h0M116.5 419.2h0M134.8 415.1h0M137.3 368.7h0M145.4 373.5h0M137.3 381.3h0M145.4 386.1h0M137.3 393.9h0M145.4 398.8h0M137.3 406.6h0M145.4 411.4h0M137.3 419.2h0"/>
<path stroke="#b4d0ae" stroke-width="1.8" stroke-linecap="round" fill="none" d="M10.6 389.6h0"/>
<path stroke="#b4d0ae" stroke-width="1.7" stroke-linecap="round" fill="none" d="M145.2 373.4h0M145.2 386.2h0M145.2 399.0h0M145.2 411.7h0M268.9 388.3h0M275.0 372.0h0M278.0 381.9h0M283.7 375.3h0M283.7 413.5h0M264.0 416.8h0"/>
<path stroke="#2f6b2b" stroke-width="2.1" stroke-linecap="round" fill="none" d="M153.0 368.9h0M153.1 375.3h0M153.1 381.7h0M153.0 388.1h0M153.1 394.6h0M153.1 400.9h0M153.1 407.3h0M153.1 413.7h0M157.8 372.1h0M157.9 378.4h0M157.8 384.8h0M157.9 391.3h0M157.8 397.6h0M157.8 403.9h0M157.8 410.4h0M157.8 416.8h0M162.6 368.9h0M162.4 375.3h0M162.5 381.8h0M162.5 388.1h0M162.5 394.5h0M162.6 400.8h0M162.7 407.4h0M162.6 413.7h0M167.1 372.0h0M167.2 378.4h0M167.2 384.8h0M167.3 391.3h0M167.2 397.6h0M167.2 404.0h0M167.2 410.4h0M167.4 416.8h0M172.0 368.9h0M172.0 375.3h0M172.0 381.7h0M171.9 388.1h0M172.0 394.6h0M172.0 401.0h0M172.0 407.3h0M172.0 413.7h0M176.7 372.0h0M176.7 378.5h0M176.7 384.8h0M176.7 391.0h0M176.8 397.6h0M176.7 404.0h0M176.7 410.4h0M176.8 416.8h0M181.3 369.0h0M181.3 375.2h0M181.4 381.6h0M181.4 388.1h0M181.3 394.5h0M181.5 400.9h0M181.4 407.4h0M181.4 413.7h0M186.1 371.9h0M186.2 378.3h0M186.1 384.8h0M186.2 391.1h0M186.1 397.6h0M186.1 404.0h0M186.2 410.4h0M186.1 416.8h0M190.8 368.9h0M190.8 375.2h0M190.9 381.8h0M190.9 388.1h0M190.8 394.5h0M190.9 401.0h0M190.8 407.3h0M190.9 413.7h0M195.5 372.0h0M195.6 378.4h0M195.7 384.8h0M195.6 391.2h0M195.5 397.6h0M195.6 404.0h0M195.6 410.5h0M195.7 416.8h0M200.3 368.9h0M200.3 375.3h0M200.4 381.8h0M200.3 388.0h0M200.2 394.4h0M200.3 400.9h0M200.3 407.3h0M200.3 413.7h0M204.9 372.0h0M205.0 378.3h0M205.1 384.8h0M205.0 391.2h0M205.0 397.6h0M205.0 404.1h0M204.9 410.4h0M205.0 416.9h0M209.8 368.9h0M209.8 375.3h0M209.7 381.7h0M209.8 388.1h0M209.7 394.5h0M209.8 400.9h0M209.7 407.2h0M209.7 413.8h0M214.5 372.0h0M214.5 378.4h0M214.4 384.8h0M214.6 391.3h0M214.5 397.6h0M214.4 403.9h0M214.4 410.3h0M214.5 416.8h0M219.2 369.0h0M219.2 375.4h0M219.2 381.7h0M219.1 388.1h0M219.3 394.4h0M219.2 400.8h0M219.2 407.3h0M219.2 413.7h0M223.9 372.1h0M224.0 378.4h0M223.9 384.8h0M223.9 391.1h0M223.8 397.6h0M223.9 404.0h0M223.9 410.4h0M223.9 416.8h0M228.6 368.8h0M228.6 375.4h0M228.7 381.6h0M228.6 388.1h0M228.7 394.4h0M228.7 400.8h0M228.7 407.3h0M228.7 413.8h0M233.2 371.9h0M233.4 378.4h0M233.4 384.8h0M233.4 391.2h0M233.4 397.6h0M233.4 403.9h0M233.3 410.4h0M233.4 416.9h0M238.1 368.9h0M238.0 375.3h0M238.1 381.7h0M238.0 388.1h0M238.1 394.5h0M238.1 401.0h0M238.0 407.3h0M238.0 413.7h0M242.8 372.0h0M242.8 378.4h0M242.8 384.7h0M242.8 391.2h0M242.8 397.6h0M242.8 404.0h0M242.7 410.5h0M242.7 416.8h0M247.4 368.8h0M247.5 375.3h0M247.6 381.8h0M247.5 388.1h0M247.5 394.5h0M247.5 400.9h0M247.5 407.3h0M247.5 413.7h0"/>
<path stroke="#5e9558" stroke-width="2.1" stroke-linecap="round" fill="none" d="M252.3 372.1h0M252.3 384.8h0M252.3 397.6h0M252.2 404.0h0M252.3 416.7h0M256.9 388.1h0M256.9 394.6h0M256.9 400.8h0M261.6 371.9h0M261.6 397.6h0M261.6 404.0h0"/>
<path stroke="#b4d0ae" stroke-width="2.1" stroke-linecap="round" fill="none" d="M252.2 378.5h0M252.2 391.2h0M252.2 410.4h0M256.8 368.8h0M257.0 375.3h0M257.0 381.7h0M257.0 407.3h0M256.9 413.7h0M261.6 378.4h0M261.7 384.8h0M261.7 416.8h0"/>
<path stroke="#5e9558" stroke-width="1.7" stroke-linecap="round" fill="none" d="M264.2 372.2h0M264.2 394.7h0M269.0 400.7h0M288.5 385.1h0M288.5 391.3h0M293.2 407.1h0"/>
<path stroke="#e6e6e6" stroke-width="1.3" stroke-linecap="round" fill="none" d="M372.5 285.8h0M375.8 284.1h0M377.1 287.8h0M381.6 290.2h0M376.9 269.6h0M377.4 271.3h0M378.5 273.2h0M380.9 279.4h0M383.2 285.8h0M385.0 290.4h0M379.4 267.0h0M381.8 273.1h0M382.6 275.3h0M384.4 279.7h0M385.0 282.2h0M385.9 284.0h0M377.9 254.6h0M378.6 256.9h0M380.5 260.8h0M383.0 267.5h0M387.0 277.6h0M388.0 280.0h0M389.5 284.0h0M390.5 285.9h0M391.2 288.4h0M377.0 243.9h0M380.5 252.4h0M386.6 267.3h0M387.0 269.5h0M389.2 275.6h0M390.4 277.8h0M391.3 279.8h0M393.6 286.0h0M394.3 288.1h0M378.9 240.0h0M379.8 241.9h0M384.7 254.7h0M385.7 256.9h0M386.8 258.7h0M387.2 260.7h0M388.1 262.4h0M389.2 264.8h0M389.6 267.0h0M393.0 275.4h0M398.1 287.9h0M382.3 240.1h0M383.4 241.5h0M383.4 244.2h0M385.6 248.2h0M387.3 252.3h0M389.0 256.7h0M390.8 260.7h0M392.6 265.1h0M394.1 268.9h0M394.6 271.3h0M396.6 275.5h0M397.4 277.3h0M398.6 279.6h0M400.1 284.1h0M401.6 288.5h0M402.8 290.5h0M387.4 243.9h0M388.4 246.2h0M390.2 250.4h0M392.8 257.0h0M394.2 260.8h0M395.0 263.2h0M396.1 265.1h0M400.1 275.1h0M401.5 280.0h0M402.8 281.7h0M406.1 290.3h0M389.4 240.1h0M390.7 244.1h0M391.7 246.1h0M393.6 250.2h0M395.6 254.7h0M395.7 256.6h0M399.7 265.4h0M403.0 273.4h0M404.4 277.6h0M405.2 280.1h0M406.0 282.3h0M408.1 286.3h0M408.8 288.2h0M393.3 242.2h0M395.5 246.2h0M397.4 250.1h0M398.4 254.7h0M399.6 256.8h0M400.7 258.9h0M402.2 263.0h0M403.0 265.1h0M404.6 268.9h0M405.3 271.5h0M407.2 275.5h0M408.1 278.2h0M409.5 282.1h0M410.1 284.1h0M412.0 287.9h0M412.7 290.2h0M396.3 240.3h0M397.4 242.3h0M401.6 252.6h0M402.4 254.9h0M403.3 256.7h0M405.3 263.1h0M406.5 264.8h0M408.3 269.1h0M409.7 273.2h0M411.1 277.6h0M412.3 280.0h0M414.0 284.0h0M416.5 290.3h0M402.5 246.1h0M406.0 254.5h0M406.6 256.8h0M407.3 258.8h0M410.2 264.8h0M410.9 267.1h0M412.5 271.1h0M414.1 275.5h0M415.3 277.6h0M415.8 280.0h0M418.0 285.9h0M419.2 288.5h0M403.6 239.7h0M405.6 246.1h0M408.3 252.7h0M409.7 256.5h0M411.2 258.9h0M411.8 260.6h0M412.5 262.8h0M414.2 267.1h0M414.8 269.2h0M417.5 275.5h0M419.8 281.4h0M422.0 286.1h0M408.4 244.6h0M413.6 256.5h0M415.1 261.0h0M415.7 263.2h0M417.0 265.0h0M417.9 267.1h0M418.7 269.4h0M419.3 271.7h0M423.0 279.8h0M423.7 281.9h0M424.9 284.2h0M425.3 286.3h0M426.3 288.0h0M410.3 240.3h0M411.3 242.0h0M414.3 250.3h0M415.2 252.5h0M416.4 254.7h0M421.2 267.1h0M422.8 271.2h0M423.6 273.3h0M427.0 282.2h0M428.1 284.0h0M430.7 290.0h0M413.9 240.0h0M419.0 252.4h0M419.9 254.7h0M420.6 256.7h0M422.1 260.8h0M425.9 269.3h0M426.5 271.3h0M427.1 273.0h0M429.0 277.5h0M432.6 285.8h0M433.1 287.8h0M433.9 290.8h0M419.0 243.8h0M420.5 248.3h0M421.5 250.1h0M422.0 252.6h0M424.0 256.5h0M424.7 258.3h0M426.5 263.0h0M427.3 265.0h0M428.4 267.2h0M429.2 269.2h0M430.1 271.1h0M432.5 277.2h0M433.1 279.9h0M434.4 281.7h0M435.7 285.8h0M436.8 288.0h0M423.5 246.0h0M424.0 248.4h0M425.8 252.4h0M428.0 259.0h0M430.2 262.8h0M430.5 265.6h0M432.4 269.3h0M436.6 279.4h0M438.7 284.0h0M439.5 285.8h0M440.0 288.2h0M425.0 242.0h0M426.0 243.8h0M426.8 246.5h0M428.8 250.4h0M430.6 254.3h0M431.3 256.6h0M432.1 259.0h0M435.9 269.2h0M436.9 271.3h0M437.8 273.4h0M438.9 275.7h0M440.9 281.9h0M442.1 284.3h0M444.0 288.4h0M428.8 241.9h0M429.1 244.0h0M430.1 246.1h0M434.4 256.6h0M435.3 258.7h0M436.4 260.8h0M437.2 263.0h0M439.0 267.0h0M439.6 269.4h0M442.1 275.6h0M443.3 277.8h0M443.7 279.7h0M446.3 286.0h0M447.1 288.0h0M448.0 290.2h0M432.9 244.0h0M433.7 246.1h0M434.9 248.1h0M435.5 250.3h0M437.3 254.8h0M439.8 260.9h0M441.3 264.8h0M444.0 271.4h0M444.8 273.3h0M446.3 277.9h0M448.9 283.9h0M449.9 286.2h0M451.4 290.4h0M436.7 243.9h0M437.5 246.2h0M438.2 247.9h0M438.8 250.5h0M441.1 254.6h0M442.3 258.7h0M443.4 261.0h0M444.5 263.0h0M446.5 269.2h0M447.4 271.3h0M449.9 277.7h0M450.9 279.7h0M451.7 282.0h0M452.7 283.8h0M438.6 239.8h0M439.4 242.1h0M441.4 247.9h0M442.3 250.4h0M446.0 258.9h0M447.4 263.0h0M448.4 265.3h0M449.0 267.1h0M452.6 275.8h0M453.3 277.8h0M455.3 282.0h0M455.9 283.7h0M457.8 288.1h0M458.5 290.4h0M441.6 239.5h0M442.8 242.1h0M443.5 244.0h0M445.3 248.2h0M446.2 250.5h0M446.5 252.4h0M451.1 262.8h0M452.1 265.1h0M453.9 269.2h0M454.3 271.9h0M455.4 273.6h0M460.1 286.0h0M461.4 288.1h0M462.0 290.2h0M445.1 239.8h0M447.8 246.4h0M448.9 248.8h0M451.2 254.5h0M453.0 259.0h0M453.6 260.7h0M454.7 263.0h0M456.5 267.0h0M457.5 271.3h0M461.4 279.9h0M463.7 285.8h0M464.8 288.4h0M448.8 240.1h0M449.6 241.8h0M450.8 243.7h0M451.4 246.1h0M453.9 252.4h0M454.7 254.8h0M455.4 257.0h0M456.7 258.8h0M457.2 260.8h0M458.4 263.1h0M459.2 265.0h0M463.9 277.5h0M464.8 279.5h0M465.6 282.1h0M466.7 284.0h0M467.3 285.7h0M453.9 243.8h0M457.6 252.3h0M460.2 258.8h0M460.7 261.0h0M461.6 262.8h0M463.4 267.0h0M464.4 269.3h0M464.8 271.2h0M466.9 275.4h0M467.4 277.7h0M469.0 281.7h0M469.9 284.0h0M472.4 290.3h0M456.1 239.7h0M457.3 244.0h0M458.1 245.9h0M462.9 256.8h0M463.5 258.7h0M466.1 264.7h0M468.1 269.4h0M470.4 275.2h0M459.5 239.7h0M463.5 250.4h0M464.5 252.3h0M466.0 256.9h0M467.3 259.0h0M470.9 269.2h0M472.8 273.9h0M473.9 275.2h0M474.4 277.7h0M475.1 280.0h0M476.8 283.7h0M479.3 288.2h0M479.6 290.1h0M464.7 244.2h0M467.5 250.1h0M468.8 254.2h0M470.1 258.6h0M471.3 261.0h0M471.7 262.7h0M472.9 265.0h0M475.1 269.4h0M475.6 271.4h0M476.2 273.1h0M477.3 275.4h0M478.9 279.8h0M483.4 290.3h0M467.2 242.1h0M468.9 245.8h0M469.4 248.5h0M471.4 252.5h0M472.7 256.6h0M475.0 260.7h0M475.8 262.9h0M476.7 264.7h0M479.4 273.7h0M483.4 282.2h0M484.0 284.3h0M486.0 288.1h0M470.1 240.0h0M470.6 241.8h0M471.5 244.0h0M473.2 248.0h0M475.0 252.5h0M476.1 254.6h0M476.5 257.1h0M478.1 259.3h0M479.6 263.1h0M480.1 264.8h0M481.4 268.6h0M482.4 271.3h0M483.1 273.5h0M485.7 279.7h0M488.9 288.2h0M474.2 242.1h0M475.3 244.1h0M476.8 247.9h0M478.8 252.3h0M479.8 256.6h0M480.8 259.0h0M483.5 264.9h0M485.4 269.3h0M488.0 275.2h0M488.8 277.5h0M489.2 279.3h0M492.9 287.9h0M493.5 290.2h0M477.5 242.2h0M479.2 246.1h0M480.3 248.6h0M482.7 254.6h0M484.5 258.5h0M487.8 267.2h0M488.8 269.1h0M489.3 271.1h0M491.6 275.4h0M491.7 277.5h0M492.9 279.5h0M494.4 283.6h0M481.0 242.0h0M487.3 256.8h0M488.1 258.6h0M488.8 260.8h0M489.3 262.9h0M490.6 265.4h0M491.3 267.0h0M492.0 269.0h0M493.0 271.3h0M496.4 279.5h0M499.0 286.1h0M500.6 290.4h0M483.9 239.9h0M484.4 241.7h0M485.8 244.0h0M487.5 248.2h0M488.2 250.4h0M489.1 252.6h0M489.4 254.5h0M490.4 257.1h0M492.3 261.0h0M496.5 271.0h0M499.0 277.9h0M500.2 279.6h0M500.8 281.6h0M501.3 283.8h0M487.2 240.1h0M490.1 245.8h0M493.3 254.4h0M495.6 260.9h0M496.5 263.1h0M498.4 267.6h0M498.8 269.2h0M501.5 275.6h0M490.8 240.2h0M491.5 241.7h0M492.8 244.0h0M493.3 246.4h0M494.7 250.4h0M496.7 254.8h0M497.8 257.0h0M498.0 258.6h0M499.8 263.0h0M494.3 239.9h0M498.4 250.1h0M499.4 252.8h0M502.1 258.8h0M499.4 244.3h0M500.4 245.7h0M502.4 242.1h0M376.8 353.0h0M378.2 346.5h0M380.8 352.8h0M375.0 329.4h0M378.2 337.9h0M379.3 340.3h0M380.3 342.7h0M382.8 348.8h0M378.4 329.9h0M379.1 332.2h0M381.8 338.4h0M382.5 340.6h0M384.6 344.5h0M385.2 346.4h0M385.9 348.7h0M388.0 352.7h0M377.1 317.2h0M386.2 340.6h0M387.1 342.7h0M388.0 344.5h0M388.5 346.8h0M391.0 353.0h0M390.5 342.2h0M391.1 344.5h0M393.1 348.8h0M394.0 350.3h0M378.8 304.1h0M380.0 306.8h0M381.1 311.0h0M384.6 319.1h0M386.7 323.7h0M389.9 331.9h0M390.9 334.1h0M393.1 340.2h0M394.8 344.6h0M395.7 346.6h0M397.3 351.0h0M398.1 352.7h0M384.0 309.1h0M385.1 311.1h0M385.5 312.9h0M387.2 317.5h0M388.2 319.5h0M389.2 321.4h0M390.4 323.7h0M390.9 325.8h0M393.2 332.2h0M393.9 334.2h0M395.1 336.2h0M396.2 338.1h0M397.6 342.2h0M401.5 352.6h0M385.7 304.6h0M386.7 306.8h0M387.4 308.9h0M389.1 313.2h0M389.9 315.4h0M390.4 317.1h0M391.5 319.5h0M393.5 323.3h0M394.4 325.6h0M395.2 327.8h0M397.5 334.1h0M400.2 340.8h0M401.7 344.5h0M402.6 346.8h0M403.4 348.6h0M404.2 351.2h0M391.0 308.9h0M392.3 310.8h0M393.5 315.3h0M394.1 317.2h0M396.0 321.2h0M398.8 327.8h0M402.7 338.6h0M403.7 340.5h0M404.4 342.6h0M405.7 345.0h0M407.9 350.6h0M408.6 352.9h0M397.2 315.3h0M397.7 317.2h0M400.4 323.6h0M401.2 326.0h0M401.8 327.6h0M402.9 329.7h0M404.0 331.7h0M404.8 334.1h0M406.3 338.3h0M408.7 344.4h0M412.1 353.0h0M413.0 354.9h0M397.3 306.9h0M398.2 308.8h0M400.6 314.9h0M403.3 321.6h0M403.8 323.0h0M404.9 325.8h0M405.6 327.5h0M409.3 336.1h0M409.8 338.3h0M411.6 342.7h0M412.9 346.9h0M416.5 355.0h0M400.3 306.5h0M402.4 310.9h0M403.4 312.7h0M404.1 315.5h0M405.9 319.5h0M406.8 321.5h0M407.7 323.5h0M410.0 329.9h0M411.0 332.3h0M412.6 336.2h0M414.1 340.4h0M415.1 342.3h0M418.0 349.4h0M419.4 352.8h0M419.8 355.1h0M404.3 306.6h0M406.0 310.7h0M407.5 315.4h0M408.5 317.4h0M410.3 321.5h0M412.2 325.4h0M414.1 332.1h0M414.9 334.1h0M416.1 336.2h0M416.7 338.2h0M417.8 339.7h0M420.1 346.5h0M423.4 355.1h0M408.8 308.9h0M409.0 310.7h0M411.3 315.6h0M411.7 317.2h0M413.7 321.5h0M414.6 323.4h0M416.2 327.8h0M417.9 331.7h0M419.4 335.9h0M420.2 338.4h0M421.8 342.6h0M424.8 348.6h0M425.5 350.5h0M411.9 308.8h0M413.5 313.0h0M414.2 315.1h0M417.8 323.6h0M418.3 325.3h0M419.8 327.8h0M420.5 329.7h0M422.9 336.2h0M423.5 338.3h0M425.6 342.2h0M426.4 344.9h0M427.6 346.6h0M427.9 348.9h0M428.8 350.9h0M430.6 355.0h0M413.7 304.4h0M414.8 306.7h0M416.5 310.8h0M417.0 312.6h0M422.1 325.9h0M423.2 328.0h0M427.8 340.3h0M429.0 342.2h0M429.7 344.6h0M430.5 346.7h0M432.6 351.0h0M417.5 304.7h0M418.2 306.8h0M419.9 310.8h0M421.1 315.1h0M422.5 317.0h0M425.6 325.5h0M429.4 334.0h0M431.9 340.1h0M432.5 342.3h0M435.3 349.0h0M435.9 350.8h0M437.1 355.1h0M422.3 308.9h0M423.2 310.6h0M424.0 312.9h0M425.1 314.9h0M427.3 321.7h0M428.8 323.5h0M430.6 327.8h0M434.5 338.0h0M435.1 340.5h0M438.4 348.6h0M440.9 354.7h0M424.3 304.5h0M425.5 306.8h0M426.1 309.1h0M427.7 313.1h0M429.5 317.4h0M433.7 327.7h0M434.6 330.1h0M437.8 338.1h0M438.8 340.3h0M440.8 346.8h0M442.3 348.5h0M443.6 353.0h0M428.0 304.6h0M428.5 306.7h0M429.6 308.8h0M430.9 310.5h0M432.4 317.6h0M433.8 319.4h0M436.0 325.7h0M438.1 330.1h0M438.9 332.0h0M439.9 334.2h0M440.3 336.2h0M441.6 338.0h0M442.3 340.4h0M443.8 344.6h0M446.4 351.0h0M446.9 352.9h0M448.4 354.9h0M431.3 304.6h0M432.7 306.7h0M432.7 308.5h0M434.1 310.8h0M436.4 317.5h0M437.8 321.1h0M439.9 325.9h0M440.7 327.8h0M441.4 329.9h0M443.1 334.0h0M444.0 335.9h0M444.7 338.4h0M450.8 352.6h0M436.6 308.8h0M437.3 311.2h0M438.6 315.0h0M441.4 321.7h0M443.0 325.2h0M445.7 331.7h0M447.0 333.8h0M449.2 340.4h0M452.6 348.7h0M438.3 304.6h0M440.2 308.8h0M440.9 311.2h0M442.3 315.4h0M443.4 317.3h0M449.4 331.6h0M449.9 334.3h0M451.2 335.6h0M451.9 338.2h0M453.5 342.7h0M455.1 346.8h0M456.7 351.0h0M458.2 355.0h0M441.9 304.7h0M444.4 310.7h0M445.2 313.1h0M446.5 317.0h0M448.8 321.7h0M450.3 325.5h0M451.1 327.9h0M451.8 330.0h0M453.1 332.2h0M453.8 333.7h0M454.5 336.2h0M455.3 338.2h0M461.9 355.1h0M445.3 304.4h0M447.0 308.8h0M449.6 315.2h0M450.7 317.5h0M451.5 319.1h0M453.2 323.9h0M454.7 327.8h0M455.4 329.7h0M457.3 334.2h0M457.9 335.9h0M458.7 338.2h0M463.2 348.5h0M463.5 350.7h0M464.6 353.1h0M453.9 317.2h0M456.4 323.5h0M458.6 329.6h0M460.7 333.7h0M461.7 336.4h0M463.0 340.2h0M464.8 344.4h0M466.6 348.9h0M469.4 355.1h0M452.5 304.6h0M454.9 310.9h0M457.4 317.1h0M466.9 340.5h0M468.2 344.7h0M469.9 348.8h0M471.0 351.0h0M458.3 310.8h0M462.3 321.6h0M464.3 325.8h0M465.1 327.7h0M466.0 329.8h0M467.8 333.9h0M468.2 336.1h0M469.3 338.1h0M470.8 342.4h0M471.7 344.9h0M474.2 350.8h0M475.6 352.9h0M475.7 354.6h0M461.3 309.0h0M463.3 315.2h0M464.9 319.3h0M469.3 329.7h0M473.6 340.0h0M476.6 348.9h0M462.7 304.6h0M463.7 306.9h0M464.4 309.0h0M465.2 310.7h0M466.5 313.2h0M466.9 315.4h0M468.6 319.5h0M469.7 321.7h0M471.1 325.7h0M472.0 328.0h0M474.0 332.1h0M475.4 336.2h0M477.1 340.2h0M478.9 344.8h0M480.4 348.6h0M481.4 351.0h0M467.3 306.6h0M468.3 308.9h0M468.9 310.9h0M472.6 321.3h0M474.2 323.6h0M474.7 325.8h0M476.3 330.2h0M481.6 342.5h0M483.9 348.7h0M485.9 353.2h0M472.3 310.8h0M473.4 313.2h0M474.3 315.0h0M474.9 317.3h0M476.1 319.1h0M477.3 323.5h0M479.9 329.6h0M481.8 333.5h0M482.2 336.4h0M483.1 338.0h0M484.1 340.8h0M485.7 344.5h0M489.4 353.0h0M489.6 354.7h0M473.2 304.6h0M474.9 308.9h0M476.0 310.8h0M476.7 312.9h0M477.5 315.2h0M478.4 317.4h0M479.0 319.3h0M480.9 323.8h0M481.7 325.7h0M482.3 327.6h0M483.6 329.7h0M485.1 334.0h0M486.4 336.0h0M487.5 340.3h0M488.4 342.6h0M490.3 346.5h0M493.5 355.0h0M477.6 307.0h0M478.4 309.1h0M479.6 310.8h0M481.8 317.2h0M483.4 321.5h0M484.2 323.5h0M488.7 334.2h0M493.0 344.8h0M493.6 346.6h0M494.7 348.9h0M497.2 355.1h0M480.3 304.7h0M482.1 308.4h0M484.6 315.3h0M486.5 319.5h0M487.8 323.4h0M488.6 326.1h0M489.4 327.8h0M491.0 332.0h0M493.8 337.7h0M495.0 342.7h0M496.9 344.5h0M497.3 346.2h0M498.3 348.6h0M483.7 304.6h0M485.6 309.1h0M487.5 313.0h0M488.9 317.3h0M489.8 319.4h0M490.5 321.6h0M492.0 325.8h0M493.3 327.7h0M494.6 332.1h0M496.4 336.0h0M497.3 338.0h0M498.9 342.6h0M501.5 348.7h0M504.0 354.8h0M489.8 310.7h0M496.7 328.0h0M498.1 332.0h0M499.1 333.8h0M499.8 336.2h0M502.7 342.4h0M490.9 304.7h0M491.7 306.7h0M494.2 313.2h0M495.4 317.3h0M498.5 323.5h0M500.2 327.8h0M501.0 329.8h0M494.3 304.8h0M496.8 310.8h0M497.4 312.6h0M500.5 319.6h0M501.0 321.3h0M501.5 323.5h0M503.0 317.4h0"/>
<path stroke="#4c8a45" stroke-width="2.3" stroke-linecap="round" fill="none" d="M534.6 371.9h0M534.6 391.3h0M534.7 397.6h0M534.6 404.0h0M534.7 416.8h0M539.4 368.9h0M539.4 375.3h0M539.3 394.5h0M539.4 401.0h0M539.4 413.7h0M544.1 372.0h0M544.1 391.3h0M544.0 410.5h0M544.1 416.8h0M548.8 375.4h0M548.8 388.1h0M548.8 400.9h0M548.8 407.3h0M553.5 378.4h0M553.5 384.8h0M553.5 391.1h0M553.4 397.6h0M558.2 375.3h0M558.2 381.8h0M558.2 388.0h0M558.2 400.9h0M558.3 407.4h0M558.3 413.7h0M562.9 372.0h0M563.0 397.6h0M563.0 410.4h0M567.7 381.6h0M567.7 388.1h0M567.7 400.8h0M572.4 384.8h0M572.4 391.2h0M572.4 404.0h0M577.2 375.3h0M577.1 388.0h0M577.2 401.0h0M577.2 413.7h0M581.9 372.0h0M581.8 378.4h0M581.9 397.6h0M581.8 410.3h0M581.8 416.8h0M586.6 375.3h0M591.3 384.8h0M591.3 397.7h0M596.0 381.7h0M596.1 394.5h0M596.0 407.3h0M596.0 413.7h0M600.8 378.4h0M600.7 391.2h0M600.7 397.7h0M600.7 404.0h0M600.8 410.3h0M605.4 388.1h0M605.4 394.5h0M605.5 400.9h0M610.1 378.4h0M610.1 391.3h0M614.9 375.3h0M614.9 388.0h0M619.5 391.2h0M624.3 375.3h0M629.0 372.0h0M629.0 384.7h0M629.1 391.3h0M629.0 404.1h0M629.1 416.8h0M633.8 394.4h0M633.8 400.9h0M633.7 413.7h0M638.4 384.9h0M638.5 404.0h0M643.2 368.9h0M643.1 375.3h0M643.1 388.1h0M643.2 394.5h0M643.2 407.4h0M647.9 391.2h0M648.0 404.1h0M647.9 410.4h0M647.9 416.7h0M652.7 368.9h0M652.6 375.3h0M652.6 381.8h0M652.6 388.2h0M652.7 394.5h0M652.6 407.3h0M652.7 413.7h0M657.4 372.0h0"/>
<path stroke="#b4d0ae" stroke-width="2.3" stroke-linecap="round" fill="none" d="M534.6 378.4h0M534.7 384.9h0M534.6 410.4h0M539.3 381.8h0M539.4 388.1h0M539.4 407.3h0M544.0 378.3h0M544.0 384.8h0M544.0 397.6h0M544.0 404.0h0M548.8 368.9h0M548.8 381.8h0M548.8 394.4h0M548.8 413.6h0M553.5 371.9h0M558.2 394.5h0M562.9 416.9h0M572.4 397.6h0M581.8 384.8h0M586.5 394.3h0M596.0 388.0h0M596.1 400.9h0M605.5 381.7h0M610.2 397.5h0M614.8 381.7h0M619.5 410.4h0M624.4 368.8h0M624.3 407.4h0M624.3 413.7h0M629.1 410.4h0M633.9 381.7h0M638.5 397.6h0M638.5 416.8h0M643.2 381.7h0M643.4 400.9h0M643.3 413.7h0M647.9 372.0h0M647.9 378.3h0M647.9 384.9h0M647.9 397.7h0M652.5 400.9h0M657.3 397.7h0"/>
<path stroke="#458340" stroke-width="2.3" stroke-linecap="round" fill="none" d="M553.5 404.0h0M553.6 410.4h0M553.5 416.9h0M558.2 368.8h0M563.0 378.3h0M562.9 384.8h0M563.0 391.3h0M563.0 404.0h0M567.7 368.9h0M567.7 375.2h0M567.7 394.5h0M567.7 407.2h0M567.7 413.8h0M572.5 372.0h0M572.3 378.5h0M572.4 410.4h0M572.4 416.7h0M577.1 368.9h0M577.0 381.7h0M577.2 394.5h0M577.1 407.3h0M581.9 391.2h0M581.9 403.9h0M586.7 368.9h0M586.5 381.6h0M586.6 388.1h0M586.6 400.8h0M586.6 407.4h0M586.6 413.7h0M591.2 372.1h0M591.3 378.4h0M591.3 391.2h0M591.3 404.1h0M591.2 410.4h0M591.3 416.9h0M596.0 368.9h0M596.0 375.3h0M600.7 372.0h0M600.7 384.8h0M600.7 416.8h0M605.5 368.9h0M605.4 375.3h0M605.4 407.3h0M605.5 413.8h0M610.1 372.0h0M610.1 384.9h0M610.2 404.0h0M610.2 410.4h0M610.2 416.8h0M614.9 368.8h0M614.9 394.5h0M614.9 401.0h0M614.9 407.2h0M614.9 413.8h0M619.5 372.0h0M619.6 378.5h0M619.6 384.8h0M619.6 397.5h0M619.6 403.9h0M619.5 416.8h0M624.3 381.7h0M624.3 388.1h0M624.4 394.5h0M624.3 401.0h0M629.0 378.4h0M629.0 397.6h0M633.7 368.9h0M633.8 375.2h0M633.8 388.1h0M633.8 407.3h0M633.8 420.0h0M638.5 372.1h0M638.5 378.4h0M638.6 391.2h0M638.5 410.3h0"/>
<path stroke="#4c8a45" stroke-width="1.6" stroke-linecap="round" fill="none" d="M531.1 412.7h0M545.3 386.5h0M529.4 406.8h0M535.7 376.6h0M535.7 394.5h0M544.6 377.3h0M530.0 386.4h0M530.3 372.1h0M526.5 375.6h0M545.1 377.8h0M668.3 408.5h0M664.9 401.7h0M664.7 409.2h0M673.9 405.3h0M662.8 374.8h0M670.1 386.0h0"/>
<path stroke="#b4d0ae" stroke-width="1.6" stroke-linecap="round" fill="none" d="M536.5 398.0h0M525.2 392.4h0M528.7 407.1h0M524.4 378.6h0M524.3 416.5h0M530.2 400.9h0M522.4 406.8h0M539.5 413.2h0M542.5 399.7h0M533.2 392.0h0M542.4 387.1h0M532.9 383.8h0M541.2 400.0h0M543.1 389.1h0M534.6 410.1h0M535.8 394.7h0M522.9 397.5h0M543.1 383.5h0M661.8 385.6h0M667.1 378.4h0M672.6 380.4h0M669.7 405.4h0M665.6 376.3h0M668.0 402.8h0M664.1 387.2h0M669.8 399.4h0M661.3 414.7h0M665.6 377.1h0"/>
<path stroke="#4c8a45" stroke-width="1.8" stroke-linecap="round" fill="none" d="M504.7 372.2h0"/>
<path stroke="#a692d0" stroke-width="2.6" stroke-linecap="round" fill="none" d="M34.6 289.2h0M32.8 274.0h0M33.5 276.2h0M34.7 278.6h0M36.8 284.7h0M37.3 287.5h0M38.6 289.4h0M33.4 265.2h0M33.8 267.8h0M35.7 271.8h0M36.4 273.9h0M37.2 276.2h0M37.8 278.4h0M39.6 282.9h0M40.3 285.0h0M41.0 287.4h0M31.9 252.0h0M33.0 254.1h0M34.2 258.7h0M35.8 262.9h0M37.5 267.3h0M38.0 269.6h0M39.4 271.8h0M40.0 274.2h0M40.7 276.2h0M41.5 278.4h0M42.3 280.6h0M43.6 284.7h0M45.6 289.4h0M32.0 241.0h0M32.4 243.5h0M34.0 247.4h0M34.6 249.9h0M38.8 260.7h0M39.7 262.9h0M41.3 267.6h0M42.2 271.9h0M43.9 276.1h0M44.9 278.4h0M45.9 280.9h0M46.5 282.8h0M47.5 285.1h0M47.9 287.3h0M49.1 289.2h0M35.0 241.0h0M37.1 247.5h0M39.1 252.1h0M40.1 254.4h0M40.6 256.2h0M41.5 258.8h0M42.3 260.5h0M43.2 263.0h0M44.0 265.0h0M45.0 267.5h0M45.5 269.9h0M49.3 280.3h0M51.2 284.6h0M51.9 287.2h0M52.6 289.4h0M38.5 240.9h0M39.8 243.4h0M43.5 254.3h0M44.5 256.2h0M47.1 263.0h0M47.4 265.5h0M48.1 267.4h0M49.2 269.4h0M51.0 274.1h0M51.6 276.4h0M52.1 278.2h0M53.6 282.6h0M54.4 285.1h0M55.5 287.4h0M56.1 289.3h0M41.6 239.0h0M42.5 241.0h0M43.4 242.8h0M45.9 249.7h0M47.0 252.1h0M47.4 254.1h0M48.2 256.3h0M49.5 260.7h0M50.1 262.9h0M52.2 267.7h0M52.8 269.7h0M53.8 271.7h0M54.4 273.7h0M55.0 276.2h0M56.1 278.5h0M57.0 280.6h0M57.3 282.8h0M57.7 284.8h0M59.0 287.0h0M59.4 289.2h0M45.9 241.0h0M46.5 243.1h0M47.6 245.5h0M48.2 247.7h0M49.0 249.6h0M49.9 252.0h0M50.5 254.1h0M52.4 258.2h0M54.0 262.9h0M54.5 265.3h0M55.3 267.7h0M56.5 269.9h0M57.0 271.6h0M57.9 274.2h0M58.9 276.4h0M59.4 278.4h0M60.1 280.9h0M62.0 285.0h0M62.5 287.0h0M63.2 289.3h0M49.5 241.2h0M50.5 242.8h0M52.5 249.4h0M53.9 252.2h0M54.1 254.1h0M54.8 256.4h0M56.6 260.8h0M57.6 263.1h0M58.3 265.0h0M59.0 267.4h0M59.9 269.6h0M60.6 271.7h0M63.2 278.2h0M64.0 280.3h0M65.4 285.1h0M66.0 287.3h0M67.4 289.5h0M52.3 239.1h0M53.1 240.8h0M54.2 243.0h0M54.8 245.3h0M56.4 249.4h0M57.3 251.6h0M57.8 254.2h0M58.7 256.5h0M59.5 258.2h0M60.3 261.0h0M61.2 262.8h0M61.6 264.9h0M62.3 267.3h0M63.5 269.6h0M64.1 271.7h0M64.9 273.8h0M65.9 276.2h0M67.1 278.6h0M67.6 280.4h0M68.3 282.6h0M69.8 287.2h0M70.8 289.7h0M57.0 241.2h0M57.8 243.1h0M58.5 245.4h0M59.4 247.7h0M59.9 249.9h0M60.9 251.8h0M61.4 254.5h0M62.3 256.6h0M62.7 258.6h0M63.9 260.6h0M64.6 263.0h0M65.5 265.6h0M68.0 271.9h0M68.4 273.7h0M69.3 275.9h0M70.3 278.6h0M71.0 280.8h0M71.6 282.9h0M74.0 289.5h0M60.8 241.1h0M62.1 245.5h0M63.7 249.9h0M64.1 251.9h0M68.4 262.9h0M69.2 265.4h0M69.9 267.6h0M71.0 269.6h0M71.5 271.8h0M72.2 273.9h0M75.2 280.7h0M75.5 283.0h0M75.8 285.1h0M76.9 287.4h0M78.1 289.7h0M64.9 243.1h0M65.4 245.4h0M66.4 247.6h0M67.9 252.1h0M69.1 254.4h0M69.7 256.0h0M70.2 258.6h0M71.3 260.7h0M72.0 263.5h0M73.2 265.2h0M73.7 267.4h0M74.5 269.7h0M75.0 271.3h0M76.7 276.4h0M77.6 278.5h0M78.4 280.6h0M79.2 283.0h0M80.0 285.0h0M80.6 287.2h0M81.2 289.6h0M68.8 243.0h0M69.0 245.4h0M71.4 251.9h0M72.5 254.5h0M73.5 258.4h0M74.9 260.7h0M75.6 262.6h0M76.4 265.3h0M77.1 267.3h0M77.6 269.4h0M78.2 271.7h0M80.2 276.4h0M80.9 278.1h0M81.8 280.4h0M82.6 282.7h0M84.1 287.4h0M71.2 240.9h0M71.9 243.1h0M72.9 245.4h0M73.8 247.7h0M74.6 250.0h0M75.2 252.0h0M75.5 254.1h0M76.5 256.5h0M77.5 258.6h0M78.4 260.9h0M79.2 263.1h0M80.1 265.0h0M80.8 267.0h0M81.7 269.4h0M82.5 271.9h0M82.8 274.1h0M83.9 276.5h0M84.5 278.7h0M86.3 282.5h0M87.1 285.3h0M87.9 286.9h0M88.3 289.4h0M74.9 241.0h0M76.2 245.6h0M78.9 251.7h0M79.8 254.4h0M80.7 256.7h0M81.8 261.0h0M82.8 262.9h0M83.3 265.3h0M84.3 267.2h0M85.0 269.8h0M85.9 271.7h0M86.6 274.0h0M87.7 276.3h0M88.2 278.6h0M89.4 280.8h0M90.0 282.7h0M92.2 289.5h0M77.6 238.9h0M78.4 241.1h0M79.4 242.8h0M80.0 245.9h0M81.6 249.4h0M82.4 251.9h0M83.1 254.1h0M84.3 256.3h0M84.9 258.8h0M85.6 260.7h0M86.3 263.5h0M87.0 264.8h0M87.9 267.3h0M88.5 269.7h0M89.2 271.8h0M90.3 274.0h0M90.8 276.0h0M91.8 278.2h0M92.6 280.8h0M93.7 282.6h0M94.4 284.7h0M95.3 287.6h0M81.2 239.0h0M82.0 241.1h0M83.5 245.6h0M85.3 249.5h0M85.9 252.2h0M86.8 254.0h0M87.4 256.4h0M88.3 258.3h0M89.1 261.0h0M90.0 262.8h0M90.8 265.0h0M91.5 267.5h0M92.2 269.4h0M94.1 273.9h0M94.7 276.2h0M95.6 278.5h0M96.5 280.7h0M97.1 282.7h0M97.9 284.8h0M98.5 286.9h0M99.6 289.5h0M85.5 240.6h0M86.3 243.5h0M87.0 245.1h0M87.9 247.6h0M88.8 249.9h0M89.9 252.1h0M91.2 256.4h0M92.8 260.9h0M93.7 262.6h0M94.8 267.7h0M95.8 269.6h0M96.6 272.2h0M99.5 278.3h0M99.7 280.5h0M100.6 282.6h0M101.3 285.2h0M101.9 287.3h0M103.4 289.4h0M88.5 238.8h0M88.9 241.1h0M89.6 243.0h0M90.7 245.5h0M91.6 247.4h0M92.2 249.9h0M93.0 252.0h0M94.6 256.3h0M95.7 258.6h0M96.5 260.7h0M97.1 262.8h0M98.1 265.1h0M98.7 267.6h0M99.8 269.8h0M100.4 272.0h0M100.6 273.6h0M102.7 278.3h0M103.1 280.8h0M104.0 282.6h0M105.0 284.7h0M105.9 287.0h0M106.5 289.5h0M92.6 241.2h0M95.5 247.8h0M96.0 249.6h0M97.3 254.0h0M98.1 256.6h0M99.6 258.9h0M99.7 260.9h0M100.7 262.8h0M102.2 267.5h0M103.2 269.3h0M104.2 272.0h0M104.4 274.4h0M105.4 276.3h0M106.1 278.4h0M107.3 280.4h0M107.6 283.0h0M109.6 287.2h0M110.0 289.2h0M95.7 238.9h0M96.2 241.3h0M98.2 245.3h0M98.5 247.7h0M100.3 252.1h0M101.1 254.3h0M102.3 256.6h0M103.0 258.4h0M103.7 260.7h0M104.1 263.0h0M105.8 267.5h0M107.1 269.7h0M107.7 271.7h0M108.4 274.1h0M108.8 276.1h0M109.7 278.4h0M110.4 280.5h0M112.1 285.1h0M114.0 289.4h0M100.2 240.9h0M100.7 243.5h0M101.4 245.4h0M102.4 248.0h0M103.0 249.8h0M104.0 251.9h0M105.4 256.3h0M106.3 258.8h0M107.1 261.0h0M108.5 265.0h0M109.7 267.2h0M110.1 270.0h0M111.3 271.7h0M112.2 274.0h0M112.8 276.2h0M114.1 280.7h0M115.2 283.2h0M117.5 289.3h0M102.5 238.9h0M103.6 240.8h0M105.8 247.8h0M106.6 249.9h0M108.3 253.9h0M109.4 256.5h0M110.8 260.6h0M112.6 265.2h0M113.5 267.3h0M113.9 269.7h0M114.6 271.7h0M115.6 273.8h0M115.9 276.3h0M117.1 278.4h0M118.0 280.5h0M118.7 282.8h0M119.5 285.1h0M120.3 287.1h0M109.1 245.7h0M109.4 247.5h0M110.7 250.1h0M111.3 252.0h0M112.2 254.6h0M113.5 258.6h0M114.4 260.9h0M115.2 262.6h0M115.8 265.2h0M116.5 267.6h0M117.3 269.6h0M118.3 271.9h0M119.0 273.7h0M119.9 276.3h0M120.1 278.3h0M121.4 280.6h0M122.1 283.0h0M123.2 285.1h0M124.9 289.4h0M110.7 240.9h0M111.4 243.2h0M113.5 247.6h0M114.3 249.7h0M114.8 251.9h0M115.3 254.0h0M117.1 258.6h0M117.6 260.9h0M118.9 263.1h0M119.5 265.4h0M120.3 267.3h0M120.8 269.7h0M122.6 274.1h0M123.1 276.8h0M124.1 278.5h0M125.0 280.7h0M127.4 287.2h0M128.6 289.1h0M114.2 241.1h0M115.2 243.3h0M115.7 245.5h0M117.6 249.9h0M118.1 252.3h0M119.3 254.2h0M120.8 258.6h0M121.5 260.9h0M122.0 263.2h0M123.1 265.0h0M123.8 267.2h0M125.6 271.7h0M126.1 274.3h0M127.4 276.0h0M127.9 278.4h0M129.0 280.7h0M130.1 284.8h0M131.0 287.1h0M131.9 289.7h0M118.0 240.7h0M119.1 243.3h0M119.7 245.0h0M120.2 247.4h0M121.1 249.6h0M121.8 252.0h0M123.7 256.5h0M124.3 258.9h0M125.1 260.8h0M125.9 263.3h0M127.0 265.1h0M127.8 267.6h0M127.8 269.6h0M129.5 271.9h0M130.1 274.0h0M130.7 276.4h0M131.3 278.5h0M132.1 280.9h0M132.9 282.7h0M134.3 287.1h0M135.3 289.4h0M121.8 240.8h0M122.4 243.0h0M123.2 245.0h0M124.2 247.6h0M125.5 252.2h0M126.4 254.0h0M127.1 256.2h0M127.8 258.8h0M128.3 261.0h0M129.6 263.4h0M130.4 265.1h0M130.8 267.3h0M131.8 269.9h0M132.7 271.7h0M133.4 274.4h0M134.1 276.2h0M135.0 278.3h0M135.8 280.8h0M136.2 282.7h0M137.4 285.2h0M138.4 286.8h0M139.0 289.4h0M126.0 243.1h0M126.8 245.2h0M127.6 247.7h0M128.1 249.7h0M129.3 251.9h0M131.0 256.2h0M131.5 258.4h0M132.3 260.9h0M133.3 262.7h0M133.8 265.4h0M135.5 270.0h0M136.3 271.6h0M137.1 273.8h0M137.9 276.0h0M138.6 278.4h0M139.5 280.9h0M140.8 285.0h0M141.4 287.2h0M142.6 289.2h0M128.7 241.1h0M129.8 243.4h0M130.3 245.5h0M131.3 247.3h0M131.8 250.1h0M133.7 254.3h0M133.9 256.5h0M135.4 258.3h0M136.0 260.7h0M136.6 263.1h0M137.4 265.3h0M138.3 267.2h0M138.8 269.7h0M139.4 272.1h0M140.8 273.9h0M141.7 276.2h0M142.2 278.2h0M143.1 280.6h0M144.0 283.3h0M145.4 287.0h0M145.8 289.5h0M131.8 239.0h0M132.4 240.8h0M133.3 243.0h0M134.0 245.5h0M134.5 247.6h0M135.4 249.4h0M136.3 252.3h0M136.9 254.4h0M138.0 256.4h0M138.8 258.7h0M139.6 260.7h0M140.3 262.9h0M141.0 265.3h0M141.9 267.5h0M142.4 269.6h0M143.5 271.6h0M146.0 278.6h0M146.7 280.6h0M150.1 289.1h0M134.9 238.9h0M136.0 241.1h0M137.2 243.4h0M137.8 245.3h0M138.3 247.4h0M140.0 252.0h0M140.9 254.2h0M141.7 256.4h0M142.0 258.4h0M143.1 261.0h0M144.2 262.8h0M144.6 265.2h0M145.6 267.6h0M146.3 269.3h0M146.8 271.7h0M147.8 274.2h0M148.3 276.2h0M149.4 278.3h0M138.6 238.9h0M139.5 240.9h0M140.1 243.1h0M141.3 245.6h0M141.8 247.6h0M142.9 250.0h0M143.6 251.5h0M144.4 254.2h0M145.0 256.6h0M146.0 258.6h0M146.9 260.7h0M147.3 263.1h0M150.0 269.6h0M152.3 276.4h0M152.8 278.3h0M154.0 280.7h0M144.8 245.3h0M145.4 247.6h0M148.5 253.9h0M148.5 256.0h0M155.4 274.2h0M146.8 240.7h0M147.4 243.1h0M148.2 245.6h0M149.3 247.4h0M151.2 254.0h0M153.1 258.3h0M154.3 261.0h0M152.8 247.8h0M153.4 249.8h0M155.4 254.0h0M154.0 241.0h0M34.2 343.1h0M34.7 345.3h0M37.2 352.0h0M38.3 354.5h0M33.6 332.5h0M37.2 341.1h0M38.8 345.6h0M39.3 347.8h0M40.9 352.0h0M41.9 354.4h0M34.4 323.3h0M34.9 325.6h0M37.6 331.6h0M38.1 334.8h0M39.9 338.4h0M41.1 341.1h0M41.5 343.1h0M42.1 345.2h0M45.6 354.1h0M33.9 312.5h0M34.8 314.7h0M35.8 317.2h0M36.2 318.9h0M37.1 321.2h0M37.9 323.6h0M39.3 327.7h0M40.3 330.0h0M41.3 332.2h0M42.0 334.4h0M43.2 339.0h0M44.2 341.1h0M46.7 347.6h0M47.7 349.8h0M48.6 354.1h0M35.8 308.3h0M38.4 314.8h0M40.8 321.2h0M41.7 323.2h0M42.6 325.5h0M43.5 327.5h0M43.9 329.8h0M45.1 331.9h0M45.4 334.5h0M47.3 339.2h0M47.8 340.9h0M49.9 347.5h0M51.4 349.6h0M51.5 351.9h0M52.6 354.5h0M39.6 308.1h0M40.2 310.4h0M42.2 314.8h0M42.8 316.7h0M43.3 319.1h0M44.2 321.4h0M45.8 325.6h0M46.8 327.5h0M48.3 332.4h0M49.1 334.2h0M49.7 336.3h0M50.4 338.6h0M51.7 340.9h0M51.9 343.3h0M53.4 344.8h0M54.0 347.7h0M54.8 349.9h0M55.0 352.4h0M56.3 354.1h0M42.5 306.1h0M44.5 310.2h0M46.7 317.1h0M47.0 319.1h0M47.9 321.3h0M48.7 323.5h0M49.6 325.6h0M50.1 327.8h0M51.2 329.7h0M51.8 332.0h0M52.5 334.6h0M53.7 336.7h0M54.5 338.7h0M55.0 341.2h0M55.6 343.3h0M56.4 345.6h0M58.3 349.5h0M59.9 354.4h0M47.0 308.1h0M47.8 310.0h0M48.3 312.1h0M49.3 314.7h0M50.0 317.2h0M50.6 318.8h0M52.1 323.4h0M53.3 325.4h0M54.0 327.4h0M54.4 329.7h0M56.6 334.1h0M57.0 336.7h0M58.2 338.8h0M58.9 341.0h0M59.2 343.5h0M60.1 345.2h0M61.7 350.0h0M62.8 352.1h0M63.3 354.2h0M48.7 303.9h0M51.2 310.3h0M51.9 312.3h0M52.7 314.3h0M53.7 317.0h0M54.4 319.2h0M55.4 320.7h0M55.9 323.5h0M56.8 325.8h0M58.3 329.9h0M59.2 332.1h0M60.0 334.1h0M60.7 336.5h0M61.5 338.8h0M62.2 341.0h0M62.8 343.3h0M64.6 347.9h0M65.8 349.8h0M66.3 351.8h0M67.6 354.2h0M52.3 303.6h0M52.9 305.9h0M54.0 308.0h0M54.6 310.1h0M55.8 312.8h0M56.8 314.6h0M56.9 316.8h0M58.5 321.2h0M59.6 323.4h0M60.7 325.5h0M61.1 327.7h0M61.6 330.1h0M62.5 332.2h0M63.5 334.7h0M64.1 336.5h0M66.5 343.0h0M67.5 345.7h0M68.5 349.9h0M69.8 352.0h0M70.8 354.3h0M57.0 305.8h0M57.3 308.3h0M58.5 310.0h0M59.0 312.6h0M59.8 314.9h0M60.8 316.7h0M61.9 319.2h0M62.5 321.5h0M63.4 323.2h0M63.8 325.6h0M64.9 327.9h0M65.4 330.0h0M66.4 332.2h0M67.7 336.4h0M68.9 338.9h0M69.4 341.0h0M70.5 343.0h0M71.1 345.6h0M72.2 347.8h0M72.5 349.9h0M74.1 353.8h0M59.7 303.6h0M60.6 306.3h0M61.2 308.3h0M61.8 310.0h0M63.9 314.6h0M64.5 316.7h0M64.8 318.8h0M65.8 321.4h0M66.7 323.4h0M67.6 325.4h0M68.5 327.9h0M69.3 330.0h0M70.5 332.1h0M70.6 334.3h0M71.5 337.0h0M72.4 338.8h0M73.4 341.1h0M73.9 343.1h0M75.5 347.8h0M76.3 349.8h0M77.0 352.2h0M77.6 354.7h0M64.2 306.0h0M66.5 312.2h0M67.4 314.4h0M67.8 316.9h0M69.1 319.0h0M70.2 323.7h0M71.2 325.5h0M72.3 328.0h0M72.8 329.9h0M74.0 334.7h0M75.4 336.5h0M76.0 338.7h0M77.2 341.0h0M77.6 343.4h0M78.2 345.5h0M79.2 347.5h0M80.0 349.9h0M81.5 354.2h0M66.7 303.6h0M67.8 305.4h0M68.6 308.2h0M68.9 310.2h0M69.8 312.6h0M70.7 314.4h0M71.6 316.7h0M72.5 319.0h0M72.9 321.2h0M73.6 323.4h0M76.4 330.3h0M77.1 332.7h0M77.7 334.3h0M79.3 338.7h0M80.1 340.8h0M81.9 345.9h0M82.4 347.8h0M83.6 349.6h0M84.1 352.0h0M84.9 354.2h0M70.1 303.8h0M71.0 305.7h0M71.9 307.8h0M72.9 310.2h0M73.8 312.3h0M74.8 314.3h0M75.3 316.7h0M76.0 318.9h0M76.6 321.0h0M77.3 323.7h0M78.3 325.4h0M79.4 327.4h0M79.9 330.2h0M80.5 332.4h0M81.7 334.7h0M82.9 338.6h0M83.7 341.0h0M84.3 343.5h0M85.0 345.6h0M86.1 347.3h0M87.5 351.8h0M88.5 354.4h0M74.8 305.7h0M75.8 307.9h0M76.6 310.0h0M78.6 316.6h0M79.2 319.5h0M81.2 323.3h0M82.5 325.8h0M82.8 327.9h0M83.4 330.3h0M84.4 332.3h0M85.3 334.7h0M86.1 337.1h0M87.3 341.4h0M88.5 343.2h0M89.1 345.4h0M89.8 347.5h0M91.5 352.1h0M92.3 354.3h0M78.4 305.6h0M79.0 307.7h0M79.8 310.4h0M81.5 314.4h0M82.5 316.9h0M83.3 318.8h0M84.1 321.4h0M86.0 325.9h0M86.7 327.9h0M87.1 329.9h0M87.7 332.4h0M88.7 334.5h0M89.4 336.3h0M90.3 338.6h0M90.8 340.9h0M91.8 343.1h0M93.0 345.2h0M93.1 347.6h0M94.0 349.8h0M95.0 352.1h0M95.9 354.2h0M81.2 303.7h0M81.9 305.8h0M83.5 310.1h0M84.5 312.6h0M85.3 314.8h0M86.4 316.6h0M86.7 318.8h0M89.8 327.6h0M90.7 330.0h0M91.6 332.0h0M93.1 336.9h0M93.6 338.8h0M95.0 341.0h0M95.1 343.2h0M96.2 345.4h0M97.2 347.6h0M97.6 349.4h0M99.0 352.0h0M99.8 354.4h0M84.6 303.7h0M86.7 307.7h0M87.0 310.0h0M87.8 312.7h0M88.5 314.7h0M89.9 316.7h0M90.4 319.3h0M91.4 321.7h0M92.0 323.3h0M92.4 325.6h0M93.8 327.7h0M94.4 329.8h0M95.4 332.4h0M96.0 334.7h0M96.5 336.7h0M97.5 338.6h0M98.2 340.9h0M99.1 343.2h0M99.9 345.2h0M100.6 347.7h0M101.5 349.5h0M102.2 352.2h0M102.8 354.4h0M88.6 303.9h0M89.3 305.6h0M90.0 308.1h0M90.7 310.5h0M91.3 312.6h0M92.2 314.8h0M93.4 316.6h0M94.0 318.9h0M94.8 321.1h0M95.6 323.2h0M96.3 325.3h0M97.0 327.9h0M98.6 332.4h0M99.4 334.5h0M100.1 336.6h0M101.7 340.8h0M102.9 343.2h0M103.7 345.5h0M104.1 347.3h0M104.9 350.0h0M105.9 352.3h0M106.9 354.2h0M92.3 303.6h0M92.9 305.4h0M93.6 308.0h0M94.4 310.1h0M95.3 312.5h0M95.8 314.5h0M96.9 316.8h0M97.5 319.2h0M98.4 321.2h0M99.0 323.3h0M100.2 325.7h0M100.7 327.6h0M101.4 329.9h0M102.4 332.2h0M103.2 334.3h0M103.7 336.7h0M104.5 338.9h0M105.1 340.9h0M106.1 343.2h0M107.1 345.6h0M107.7 347.9h0M108.8 349.8h0M109.9 354.2h0M96.2 305.7h0M97.1 307.9h0M97.7 309.8h0M98.8 312.3h0M99.6 314.7h0M100.4 317.0h0M101.2 319.0h0M101.9 321.0h0M102.7 323.4h0M103.9 325.8h0M104.4 327.9h0M105.0 330.5h0M106.8 334.5h0M107.5 336.2h0M108.3 338.6h0M110.1 343.0h0M110.9 345.4h0M111.7 347.7h0M112.2 349.9h0M112.8 352.2h0M113.6 354.0h0M99.9 305.8h0M100.6 307.9h0M101.7 310.0h0M103.0 315.2h0M104.0 316.8h0M104.9 318.9h0M105.4 321.2h0M106.3 323.6h0M108.1 327.9h0M108.5 330.4h0M109.5 331.7h0M110.8 336.5h0M112.0 338.9h0M112.9 340.8h0M113.8 343.4h0M114.4 345.1h0M115.1 347.5h0M116.0 349.9h0M117.4 354.3h0M102.9 303.7h0M103.6 305.8h0M104.4 307.6h0M105.5 309.8h0M107.0 314.2h0M107.6 316.9h0M107.8 319.0h0M109.2 321.3h0M110.3 323.2h0M111.0 325.9h0M111.3 327.7h0M112.5 330.2h0M113.0 332.1h0M113.9 334.7h0M114.6 336.4h0M118.8 347.4h0M119.7 349.4h0M120.4 352.0h0M121.2 354.1h0M106.4 304.0h0M107.3 305.5h0M108.2 310.0h0M109.8 312.4h0M110.9 316.6h0M115.4 327.8h0M115.8 329.8h0M116.5 332.4h0M117.5 334.4h0M118.5 336.7h0M118.7 339.1h0M120.1 340.9h0M120.6 343.3h0M121.1 345.4h0M122.6 348.1h0M122.8 350.0h0M123.8 351.8h0M124.6 353.9h0M110.4 305.9h0M112.1 308.1h0M112.3 310.2h0M114.3 314.3h0M115.4 319.4h0M116.5 321.3h0M119.4 330.3h0M120.8 334.5h0M121.9 336.3h0M122.9 338.6h0M123.6 341.2h0M124.3 343.4h0M124.8 345.5h0M126.0 347.5h0M127.5 351.7h0M128.4 354.4h0M114.3 306.1h0M115.5 307.7h0M115.9 310.3h0M116.8 312.3h0M117.1 314.7h0M118.2 316.5h0M119.4 318.9h0M120.3 321.2h0M121.0 323.2h0M121.1 325.3h0M122.3 327.9h0M126.2 338.6h0M126.6 340.9h0M128.1 343.1h0M128.7 345.5h0M130.4 349.9h0M131.1 352.2h0M117.1 303.7h0M118.0 305.8h0M119.5 310.3h0M120.3 312.3h0M122.0 316.8h0M122.6 319.1h0M123.7 321.0h0M124.6 323.8h0M125.3 325.9h0M125.9 327.6h0M126.7 330.3h0M127.0 332.2h0M128.2 334.6h0M129.3 336.9h0M130.0 338.5h0M130.6 341.2h0M133.1 347.8h0M133.8 349.9h0M134.6 351.7h0M135.5 354.2h0M121.7 306.2h0M122.6 310.5h0M124.1 312.5h0M125.3 316.8h0M127.2 321.5h0M127.7 323.3h0M128.4 325.4h0M129.4 327.8h0M130.6 330.1h0M132.2 334.6h0M133.4 338.6h0M134.1 341.0h0M134.9 343.5h0M136.0 345.3h0M136.9 347.4h0M137.5 349.7h0M138.7 352.1h0M139.0 354.4h0M125.1 305.6h0M126.2 307.8h0M126.9 310.3h0M127.1 312.4h0M128.3 314.9h0M128.9 317.0h0M130.3 318.8h0M130.9 321.6h0M131.5 323.4h0M133.3 328.0h0M133.8 330.3h0M135.3 334.2h0M137.5 338.8h0M137.4 341.3h0M138.6 343.3h0M139.4 345.0h0M140.3 347.2h0M142.0 352.1h0M142.7 354.5h0M127.7 303.6h0M129.1 305.9h0M129.6 308.0h0M131.3 312.3h0M132.4 316.8h0M133.9 319.4h0M134.0 321.3h0M135.0 323.5h0M135.9 325.8h0M137.7 330.1h0M138.9 334.5h0M140.0 336.3h0M141.7 341.3h0M141.9 343.3h0M144.2 347.6h0M144.7 349.8h0M145.5 352.2h0M146.2 354.2h0M131.5 303.8h0M132.4 305.9h0M133.0 307.6h0M133.9 310.0h0M134.7 312.7h0M135.7 314.3h0M136.4 316.6h0M138.2 321.1h0M138.8 323.4h0M139.8 325.4h0M140.3 328.1h0M141.2 330.1h0M141.7 332.1h0M142.5 334.3h0M143.5 336.6h0M144.4 338.7h0M145.0 340.9h0M145.6 343.3h0M146.5 345.6h0M149.4 351.9h0M135.3 303.9h0M136.3 306.0h0M137.0 308.4h0M137.8 310.6h0M138.3 312.5h0M139.2 314.5h0M139.8 316.7h0M140.8 319.2h0M141.9 321.3h0M141.8 323.0h0M143.1 325.4h0M144.4 327.9h0M145.6 332.4h0M146.3 334.7h0M147.1 336.7h0M148.2 339.0h0M148.8 341.1h0M149.3 343.1h0M150.9 347.5h0M153.5 354.3h0M139.6 305.5h0M140.7 308.1h0M140.6 310.3h0M142.3 312.5h0M142.8 314.7h0M143.8 316.8h0M144.5 318.8h0M144.8 321.4h0M146.2 323.4h0M147.9 327.8h0M148.2 329.5h0M150.8 336.7h0M152.0 341.0h0M153.7 345.3h0M155.7 350.2h0M157.0 354.3h0M143.9 308.6h0M144.8 310.5h0M145.4 312.2h0M146.2 314.5h0M147.2 316.7h0M147.7 319.1h0M150.3 325.4h0M151.0 327.9h0M152.1 330.3h0M154.1 336.7h0M155.0 338.6h0M156.0 340.9h0M157.4 345.4h0M158.1 347.4h0M158.9 349.8h0M159.7 351.9h0M147.1 305.7h0M149.3 312.3h0M149.5 314.7h0M150.9 316.9h0M152.0 319.0h0M152.7 321.1h0M153.1 323.4h0M153.9 325.8h0M154.9 328.2h0M155.6 330.0h0M157.9 336.4h0M159.4 341.5h0M150.4 305.6h0M151.7 310.6h0M152.8 312.8h0M153.5 315.0h0M155.2 319.0h0M156.8 323.1h0M159.2 329.9h0M154.3 306.1h0M154.7 308.1h0M155.6 310.4h0M157.2 314.6h0M157.8 316.7h0M158.4 308.2h0M159.3 310.1h0M160.1 312.6h0"/>
<path stroke="#a08ed0" stroke-width="2.3" stroke-linecap="round" fill="none" d="M31.2 385.6h0M31.2 398.2h0M31.2 410.9h0M37.0 370.8h0M42.8 372.9h0M52.0 372.9h0M32.2 378.1h0M41.8 377.8h0M47.5 380.2h0M37.0 383.4h0M42.8 385.6h0M52.0 385.6h0M32.2 390.8h0M41.8 390.4h0M47.5 392.8h0M37.0 396.1h0M42.8 398.2h0M52.0 398.2h0M32.2 403.4h0M41.8 403.1h0M47.5 405.5h0M37.0 408.8h0M42.8 410.9h0M52.0 410.9h0M32.2 416.1h0M41.8 415.8h0M47.5 418.1h0M57.9 370.8h0M63.7 372.9h0M72.9 372.9h0M53.1 378.1h0M62.7 377.8h0M68.4 380.2h0M57.9 383.4h0M63.7 385.6h0M72.9 385.6h0M53.1 390.8h0M62.7 390.4h0M68.4 392.8h0M57.9 396.1h0M63.7 398.2h0M72.9 398.2h0M53.1 403.4h0M62.7 403.1h0M68.4 405.5h0M57.9 408.8h0M63.7 410.9h0M72.9 410.9h0M53.1 416.1h0M62.7 415.8h0M68.4 418.1h0M78.7 370.8h0M84.5 372.9h0M93.7 372.9h0M73.9 378.1h0M83.5 377.8h0M89.2 380.2h0M78.7 383.4h0M84.5 385.6h0M93.7 385.6h0M73.9 390.8h0M83.5 390.4h0M89.2 392.8h0M78.7 396.1h0M84.5 398.2h0M93.7 398.2h0M73.9 403.4h0M83.5 403.1h0M89.2 405.5h0M78.7 408.8h0M84.5 410.9h0M93.7 410.9h0M73.9 416.1h0M83.5 415.8h0M89.2 418.1h0M99.5 370.8h0M105.3 372.9h0M114.5 372.9h0M94.8 378.1h0M104.3 377.8h0M110.0 380.2h0M99.5 383.4h0M105.3 385.6h0M114.5 385.6h0M94.8 390.8h0M104.3 390.4h0M110.0 392.8h0M99.5 396.1h0M105.3 398.2h0M114.5 398.2h0M94.8 403.4h0M104.3 403.1h0M110.0 405.5h0M99.5 408.8h0M105.3 410.9h0M114.5 410.9h0M94.8 416.1h0M104.3 415.8h0M110.0 418.1h0M120.4 370.8h0M126.2 372.9h0M115.6 378.1h0M125.2 377.8h0M130.9 380.2h0M120.4 383.4h0M126.2 385.6h0M115.6 390.8h0M125.2 390.4h0M130.9 392.8h0M120.4 396.1h0M126.2 398.2h0M115.6 403.4h0M125.2 403.1h0M130.9 405.5h0M120.4 408.8h0M126.2 410.9h0M115.6 416.1h0M125.2 415.8h0M130.9 418.1h0M135.9 390.9h0M140.8 409.4h0M130.6 410.4h0M450.4 372.9h0M459.6 372.9h0M455.1 380.2h0M450.4 385.6h0M459.6 385.6h0M455.1 392.8h0M450.4 398.2h0M459.6 398.2h0M455.1 405.5h0M450.4 410.9h0M459.6 410.9h0M455.1 418.1h0M465.4 370.8h0M480.4 372.9h0M460.6 378.1h0M470.2 377.8h0M475.9 380.2h0M465.4 383.4h0M471.2 385.6h0M480.4 385.6h0M460.6 390.8h0M470.2 390.4h0M475.9 392.8h0M465.4 396.1h0M471.2 398.2h0M480.4 398.2h0M460.6 403.4h0M470.2 403.1h0M475.9 405.5h0M465.4 408.8h0M480.4 410.9h0M460.6 416.1h0M475.9 418.1h0M486.2 370.8h0M481.4 378.1h0M486.2 383.4h0M481.4 390.8h0M486.2 396.1h0M481.4 403.4h0M486.2 408.8h0M481.4 416.1h0"/>
<path stroke="#f4a3b6" stroke-width="2.2" stroke-linecap="round" fill="none" d="M47.4 371.6h0M37.0 379.4h0M47.4 384.2h0M37.0 392.1h0M47.4 396.9h0M37.0 404.7h0M47.4 409.6h0M37.0 417.4h0M68.2 371.6h0M57.9 379.4h0M68.2 384.2h0M57.9 392.1h0M68.2 396.9h0M57.9 404.7h0M68.2 409.6h0M57.9 417.4h0M89.1 371.6h0M78.7 379.4h0M89.1 384.2h0M78.7 392.1h0M89.1 396.9h0M78.7 404.7h0M89.1 409.6h0M78.7 417.4h0M110.0 371.6h0M99.5 379.4h0M110.0 384.2h0M99.5 392.1h0M110.0 396.9h0M99.5 404.7h0M110.0 409.6h0M99.5 417.4h0M130.8 371.6h0M120.4 379.4h0M130.8 384.2h0M120.4 392.1h0M130.8 396.9h0M120.4 404.7h0M130.8 409.6h0M120.4 417.4h0M140.6 384.2h0M454.9 371.6h0M454.9 396.9h0M454.9 409.6h0M465.4 379.4h0M475.8 384.2h0M475.8 396.9h0M465.4 404.7h0M475.8 409.6h0M465.4 417.4h0M486.2 392.1h0M486.2 417.4h0M441.5 404.5h0M446.5 405.6h0"/>
<path stroke="#a08ed0" stroke-width="1.9" stroke-linecap="round" fill="none" d="M21.8 385.9h0"/>
<path stroke="#f4a3b6" stroke-width="1.8" stroke-linecap="round" fill="none" d="M26.8 409.7h0"/>
<path stroke="#d4d4d4" stroke-width="1.9" stroke-linecap="round" fill="none" d="M375.1 287.0h0M378.1 285.0h0M374.0 265.9h0M378.1 276.8h0M383.1 289.3h0M373.4 255.5h0M380.3 272.6h0M384.8 285.0h0M386.2 287.0h0M386.5 289.3h0M374.6 249.3h0M377.9 257.8h0M378.2 259.9h0M382.1 267.9h0M383.5 272.3h0M387.0 280.9h0M387.8 282.7h0M373.5 239.0h0M384.3 265.7h0M386.0 270.2h0M388.6 276.6h0M389.5 278.7h0M390.4 280.6h0M391.9 282.8h0M393.5 288.9h0M378.8 243.2h0M380.8 247.1h0M384.5 257.9h0M385.6 260.1h0M386.8 264.1h0M389.9 270.3h0M391.5 274.4h0M394.1 280.9h0M398.0 291.0h0M381.3 241.2h0M384.7 249.7h0M386.3 253.7h0M388.3 257.9h0M388.9 259.8h0M392.1 268.2h0M394.9 274.2h0M386.9 245.3h0M387.7 246.9h0M388.4 249.3h0M391.6 257.8h0M397.6 272.7h0M398.9 274.5h0M389.3 243.0h0M399.2 268.1h0M400.9 272.4h0M402.5 277.0h0M403.6 278.4h0M405.1 283.1h0M398.7 257.8h0M402.9 268.2h0M403.5 270.3h0M405.4 274.2h0M408.0 281.0h0M410.7 287.3h0M396.4 243.2h0M398.9 249.5h0M400.5 253.3h0M405.3 265.9h0M407.1 270.4h0M409.0 274.5h0M409.7 276.6h0M412.2 282.5h0M413.7 287.2h0M400.0 243.2h0M403.4 251.6h0M405.6 257.5h0M408.8 265.8h0M411.8 274.4h0M414.2 278.7h0M414.8 280.6h0M415.9 282.9h0M417.5 287.3h0M418.5 289.5h0M404.1 245.3h0M406.5 251.5h0M407.4 253.6h0M412.2 266.1h0M416.8 276.5h0M418.7 280.9h0M421.0 287.3h0M407.1 242.8h0M411.2 253.3h0M416.0 266.2h0M418.8 272.3h0M419.7 276.7h0M423.6 285.0h0M425.1 289.5h0M412.9 249.3h0M417.2 259.9h0M418.3 263.9h0M420.3 268.2h0M421.3 270.4h0M422.6 274.8h0M423.6 276.6h0M427.3 285.3h0M413.0 241.0h0M416.4 249.2h0M418.0 253.2h0M420.6 259.7h0M423.6 267.8h0M425.2 272.7h0M427.3 276.6h0M430.4 285.3h0M431.5 287.0h0M432.1 289.5h0M416.4 240.8h0M419.9 249.2h0M422.2 255.6h0M425.7 263.9h0M427.3 268.2h0M428.1 270.0h0M433.4 282.5h0M420.1 241.2h0M422.8 249.3h0M425.1 253.5h0M438.3 287.1h0M430.9 259.5h0M434.3 268.1h0M435.2 270.4h0M439.6 280.7h0M441.3 285.1h0M435.3 262.2h0M436.0 264.2h0M438.3 268.1h0M440.4 274.4h0M442.8 280.9h0M446.3 289.0h0M431.6 243.0h0M432.5 245.6h0M432.8 247.4h0M434.5 251.2h0M435.4 253.3h0M438.9 261.7h0M441.6 268.2h0M443.0 272.3h0M450.0 289.0h0M433.1 239.0h0M434.0 240.8h0M434.6 243.2h0M439.6 255.3h0M441.4 259.9h0M442.5 261.9h0M447.4 274.2h0M452.7 286.9h0M453.2 289.2h0M454.1 291.0h0M437.3 241.0h0M439.4 245.3h0M439.9 247.2h0M440.8 249.1h0M442.6 253.5h0M446.1 262.1h0M446.7 263.8h0M452.5 278.7h0M454.4 282.8h0M456.8 289.3h0M442.4 245.0h0M444.8 249.2h0M448.6 259.8h0M453.3 272.3h0M454.5 274.6h0M455.0 276.7h0M456.2 278.7h0M457.4 283.0h0M447.3 247.3h0M447.5 249.1h0M448.4 251.3h0M450.9 257.7h0M451.8 260.2h0M454.7 266.2h0M456.4 270.3h0M459.1 276.6h0M462.1 285.2h0M463.4 287.0h0M447.2 238.9h0M448.8 242.9h0M449.6 245.1h0M453.8 255.7h0M455.5 260.0h0M459.6 270.3h0M461.2 274.5h0M462.3 276.7h0M467.3 289.3h0M451.6 240.8h0M456.3 253.6h0M460.1 261.8h0M464.3 272.0h0M468.4 282.8h0M469.0 285.3h0M455.0 240.9h0M456.2 244.8h0M461.5 257.9h0M462.5 260.0h0M464.3 263.9h0M467.2 272.1h0M470.0 278.5h0M471.0 280.6h0M472.9 284.6h0M458.6 240.8h0M460.0 245.3h0M460.8 247.7h0M463.0 251.7h0M464.6 255.4h0M471.1 272.6h0M471.4 274.7h0M477.1 287.0h0M462.9 242.7h0M466.1 251.5h0M468.2 255.7h0M471.5 263.8h0M474.8 272.5h0M477.4 279.0h0M478.3 280.6h0M479.2 283.0h0M479.5 284.9h0M480.7 289.2h0M468.6 249.3h0M471.4 255.7h0M472.2 257.5h0M475.9 266.2h0M476.4 268.2h0M480.3 278.6h0M481.2 281.0h0M483.0 285.3h0M468.2 239.1h0M470.9 245.1h0M471.3 247.4h0M474.7 255.7h0M479.6 268.2h0M480.7 269.8h0M481.8 272.1h0M483.8 278.7h0M487.2 287.3h0M488.5 289.0h0M474.9 247.5h0M477.6 253.5h0M479.3 257.6h0M480.7 261.9h0M483.4 268.2h0M487.2 276.7h0M487.6 278.6h0M489.1 283.0h0M490.4 285.1h0M491.0 287.1h0M478.8 247.1h0M479.3 249.6h0M480.3 251.7h0M481.7 255.7h0M483.2 259.7h0M484.1 261.7h0M486.6 268.5h0M491.8 280.8h0M492.8 282.8h0M493.7 285.2h0M478.9 238.8h0M479.3 240.8h0M484.6 253.5h0M489.7 266.0h0M492.2 272.5h0M492.7 274.2h0M497.9 286.8h0M484.0 243.1h0M484.4 245.5h0M487.8 253.7h0M488.6 255.6h0M489.9 257.6h0M491.4 262.0h0M492.2 264.3h0M492.9 266.3h0M494.5 270.4h0M495.6 272.1h0M497.9 278.3h0M500.5 285.0h0M488.9 247.3h0M490.8 251.6h0M491.7 253.1h0M494.2 259.8h0M494.7 261.8h0M497.4 268.3h0M498.2 270.2h0M502.3 280.9h0M490.0 240.7h0M491.6 245.0h0M496.8 257.6h0M497.5 259.9h0M498.4 261.8h0M499.2 263.8h0M500.5 268.1h0M502.6 272.4h0M492.3 239.0h0M495.2 245.3h0M500.7 259.4h0M496.9 240.9h0M375.3 352.0h0M379.5 335.1h0M380.5 337.2h0M383.2 345.9h0M385.6 351.8h0M386.6 354.1h0M381.0 330.8h0M382.7 335.2h0M385.3 341.4h0M387.3 345.9h0M388.4 349.5h0M389.5 351.8h0M385.6 332.7h0M388.9 341.6h0M389.3 343.7h0M393.8 354.0h0M377.7 305.8h0M384.9 322.3h0M385.4 324.8h0M386.2 326.6h0M387.0 328.5h0M390.8 337.3h0M392.2 341.4h0M394.1 345.4h0M395.6 349.4h0M387.4 320.7h0M389.7 326.4h0M390.7 328.9h0M392.3 332.7h0M393.9 337.1h0M397.3 345.4h0M385.5 307.8h0M386.5 310.0h0M390.7 320.4h0M392.9 324.6h0M393.5 327.1h0M397.5 337.5h0M400.8 345.4h0M391.6 312.3h0M392.7 316.0h0M393.4 318.0h0M396.8 326.9h0M398.5 330.7h0M399.6 333.0h0M401.1 337.4h0M403.6 343.3h0M407.7 354.0h0M391.6 305.6h0M393.1 310.1h0M394.5 312.1h0M398.1 320.4h0M398.2 322.7h0M401.4 328.6h0M405.3 339.5h0M407.2 343.3h0M394.8 303.9h0M401.0 320.5h0M406.4 332.9h0M408.2 337.1h0M410.5 343.5h0M411.4 345.8h0M414.7 353.9h0M402.4 314.2h0M404.1 318.2h0M404.8 320.1h0M411.5 337.1h0M416.8 349.9h0M416.9 351.8h0M406.6 316.5h0M407.1 318.2h0M414.9 337.1h0M420.2 349.9h0M406.1 305.6h0M407.4 309.6h0M410.1 316.1h0M414.9 326.7h0M418.8 337.1h0M420.4 341.3h0M422.5 347.5h0M409.5 305.6h0M413.7 316.3h0M415.1 320.6h0M418.0 326.5h0M419.6 330.8h0M426.2 347.7h0M428.0 352.0h0M413.3 305.7h0M416.3 314.3h0M416.9 316.6h0M419.6 322.8h0M421.5 326.8h0M423.9 332.9h0M426.4 339.3h0M427.0 341.4h0M429.1 345.5h0M432.1 353.8h0M416.4 305.7h0M418.0 310.0h0M421.6 318.2h0M425.8 328.7h0M429.9 339.2h0M432.5 345.4h0M433.0 347.5h0M420.4 307.8h0M423.6 314.2h0M426.1 320.3h0M427.6 324.6h0M430.3 331.0h0M433.5 339.0h0M436.0 345.5h0M437.1 348.0h0M423.5 305.7h0M425.1 309.7h0M425.8 312.2h0M435.1 335.1h0M437.7 341.5h0M441.1 349.5h0M442.1 351.9h0M425.6 303.7h0M426.8 306.0h0M430.4 314.0h0M433.1 320.5h0M434.4 324.5h0M441.9 343.5h0M429.3 303.8h0M430.3 305.9h0M432.1 309.5h0M434.9 316.0h0M435.6 318.3h0M436.0 320.8h0M438.7 326.8h0M439.9 328.8h0M440.5 330.9h0M443.0 337.5h0M443.9 339.0h0M446.2 345.7h0M447.4 347.8h0M449.1 352.1h0M438.0 316.1h0M443.1 328.7h0M444.8 333.1h0M445.6 335.2h0M446.5 337.4h0M449.1 343.7h0M450.4 347.7h0M452.1 351.8h0M453.3 353.8h0M438.3 307.9h0M439.8 311.9h0M440.8 313.8h0M445.4 324.4h0M446.8 328.7h0M448.6 335.1h0M450.8 339.1h0M441.5 307.7h0M444.9 316.5h0M447.8 322.3h0M449.2 326.9h0M451.3 330.7h0M457.1 345.9h0M457.8 347.6h0M459.6 351.7h0M447.6 314.0h0M451.3 322.5h0M457.8 339.0h0M453.6 320.0h0M456.3 327.0h0M457.0 328.8h0M454.9 314.1h0M459.9 326.8h0M463.0 333.2h0M468.7 349.7h0M470.0 351.8h0M470.6 354.2h0M456.0 308.1h0M460.0 318.1h0M461.8 322.2h0M464.1 328.8h0M466.2 333.2h0M472.0 347.6h0M461.8 313.9h0M465.6 322.9h0M468.2 331.0h0M472.7 341.8h0M474.4 345.7h0M475.1 347.6h0M476.5 351.9h0M461.9 305.4h0M463.0 307.8h0M463.6 309.8h0M464.3 311.8h0M467.9 320.3h0M472.8 332.4h0M473.6 335.4h0M476.5 341.6h0M478.3 345.4h0M479.4 349.5h0M480.6 351.8h0M481.7 354.2h0M470.6 318.4h0M476.5 332.9h0M477.0 335.2h0M472.1 314.2h0M473.0 316.1h0M474.8 320.6h0M477.1 326.4h0M479.1 330.6h0M483.1 341.9h0M484.2 343.7h0M485.0 345.6h0M487.8 352.4h0M473.2 308.0h0M475.5 312.1h0M476.9 316.3h0M485.3 337.4h0M487.6 343.5h0M488.6 345.7h0M489.3 347.6h0M477.6 310.5h0M480.8 318.3h0M481.8 320.7h0M482.3 322.5h0M485.3 328.1h0M491.2 343.6h0M494.5 351.9h0M479.4 305.8h0M481.2 309.7h0M482.9 314.2h0M485.1 320.3h0M487.0 324.6h0M488.0 326.3h0M488.5 328.9h0M495.4 345.3h0M498.9 353.9h0M481.6 303.7h0M484.0 308.1h0M489.2 320.9h0M489.7 322.5h0M491.2 326.7h0M492.9 331.1h0M498.0 343.5h0M500.0 347.7h0M500.9 350.2h0M486.6 305.8h0M487.5 308.0h0M489.7 314.4h0M494.2 324.7h0M495.0 326.6h0M500.0 339.3h0M500.6 341.2h0M501.7 343.8h0M490.0 306.0h0M490.8 307.4h0M492.5 312.4h0M495.6 320.2h0M498.3 326.6h0M493.6 305.6h0M496.5 314.2h0M497.7 316.1h0M502.0 326.9h0M503.3 330.8h0M495.9 303.8h0M500.4 314.2h0M501.9 318.6h0M502.4 320.0h0M503.0 312.0h0"/>
<path stroke="#cdcdcd" stroke-width="1.9" stroke-linecap="round" fill="none" d="M375.6 278.9h0M379.3 287.2h0M373.2 263.8h0M375.6 270.3h0M379.2 279.0h0M379.9 280.7h0M378.5 268.1h0M379.0 270.3h0M382.0 276.6h0M382.8 278.7h0M382.9 270.3h0M384.4 274.5h0M385.4 276.4h0M374.5 240.6h0M379.3 253.3h0M381.4 257.5h0M383.7 264.1h0M387.4 272.3h0M391.9 285.1h0M393.3 287.4h0M381.4 249.1h0M383.6 255.5h0M388.4 268.3h0M390.3 272.6h0M391.7 276.5h0M394.5 283.3h0M396.3 287.1h0M383.0 244.9h0M383.9 247.3h0M385.4 251.2h0M387.3 255.9h0M389.8 262.1h0M396.9 278.9h0M398.2 282.9h0M400.7 289.0h0M384.6 240.3h0M386.0 242.8h0M389.1 251.5h0M392.6 259.6h0M394.4 263.8h0M395.9 268.1h0M400.9 280.7h0M401.9 283.0h0M403.3 287.5h0M404.3 289.1h0M405.1 290.9h0M391.1 247.3h0M391.5 249.1h0M394.4 255.6h0M395.8 259.9h0M398.5 265.9h0M400.3 270.5h0M405.9 285.0h0M393.7 245.1h0M395.2 249.3h0M401.8 266.1h0M404.4 272.5h0M407.0 278.7h0M408.7 283.0h0M397.1 245.1h0M399.6 251.3h0M401.5 255.3h0M402.4 257.5h0M402.9 259.6h0M404.9 263.7h0M410.5 278.7h0M399.0 241.1h0M400.9 245.2h0M402.2 249.3h0M404.2 253.6h0M404.5 255.7h0M407.5 262.2h0M410.1 268.2h0M410.7 270.1h0M413.0 276.4h0M416.6 285.2h0M403.1 243.5h0M408.1 255.4h0M409.1 257.7h0M410.0 259.7h0M411.7 264.1h0M413.6 268.0h0M414.2 270.4h0M407.9 244.9h0M408.2 247.1h0M410.1 251.3h0M414.4 262.0h0M418.1 270.4h0M419.1 274.3h0M421.8 280.9h0M423.1 282.6h0M410.4 243.0h0M411.0 244.8h0M412.0 247.5h0M414.9 255.5h0M416.1 257.7h0M418.1 262.1h0M419.2 265.9h0M424.5 278.5h0M425.5 281.1h0M426.3 283.2h0M428.5 289.4h0M412.2 239.1h0M414.3 243.1h0M419.6 257.7h0M421.5 262.1h0M422.5 263.9h0M422.9 266.1h0M424.6 270.2h0M426.4 274.5h0M417.3 243.0h0M418.2 245.1h0M418.7 247.5h0M420.8 251.5h0M423.5 257.7h0M424.2 259.7h0M434.3 285.0h0M419.1 239.1h0M420.5 243.0h0M422.4 247.5h0M425.7 255.6h0M426.8 257.7h0M427.6 259.4h0M429.9 266.0h0M430.9 268.2h0M431.8 270.2h0M435.8 280.9h0M439.7 289.5h0M423.2 240.8h0M425.0 245.0h0M426.0 247.3h0M427.1 249.4h0M427.9 251.4h0M428.7 253.2h0M430.3 257.6h0M433.5 265.9h0M436.2 272.1h0M437.3 274.4h0M437.5 276.3h0M440.2 282.9h0M441.8 287.0h0M443.9 291.0h0M428.7 245.2h0M430.4 249.3h0M432.8 255.2h0M433.8 257.2h0M435.0 259.8h0M437.1 266.3h0M438.4 270.2h0M439.8 272.4h0M441.2 276.4h0M442.0 278.8h0M430.4 240.8h0M436.3 255.8h0M443.8 274.5h0M445.8 278.5h0M447.8 285.1h0M436.4 247.1h0M439.2 253.8h0M443.4 263.8h0M446.0 270.2h0M448.3 276.6h0M450.6 283.2h0M441.6 251.5h0M443.7 255.7h0M444.9 259.7h0M449.3 270.1h0M450.0 272.1h0M451.1 274.4h0M451.5 276.7h0M440.6 240.7h0M441.8 243.1h0M445.0 251.6h0M447.0 255.7h0M449.5 262.0h0M450.1 264.0h0M453.1 270.6h0M457.3 280.9h0M444.6 240.7h0M446.1 245.4h0M449.4 253.5h0M450.6 255.5h0M453.1 262.2h0M457.0 272.4h0M459.7 278.9h0M463.8 288.9h0M451.4 249.6h0M452.8 253.4h0M454.5 257.5h0M456.4 262.2h0M457.1 264.2h0M457.9 266.0h0M458.9 268.3h0M460.3 272.2h0M463.1 278.8h0M463.8 280.8h0M464.6 283.2h0M465.6 284.8h0M466.4 286.9h0M455.5 251.6h0M458.5 257.7h0M465.2 274.8h0M465.9 276.5h0M470.7 289.2h0M455.9 243.1h0M459.0 251.4h0M460.0 253.0h0M473.2 287.3h0M474.4 289.1h0M467.1 262.1h0M468.5 266.2h0M473.2 278.7h0M476.3 284.9h0M477.6 289.3h0M463.4 244.8h0M464.6 247.0h0M466.6 253.5h0M468.8 257.6h0M473.0 268.3h0M474.0 269.8h0M475.9 276.6h0M480.3 287.0h0M465.8 241.0h0M466.1 242.9h0M467.1 244.9h0M469.4 251.2h0M472.9 259.7h0M474.9 263.9h0M478.0 272.1h0M481.9 283.3h0M472.3 249.0h0M475.7 258.1h0M476.9 259.8h0M478.1 263.9h0M478.8 266.1h0M483.2 276.5h0M484.8 280.6h0M486.1 283.3h0M486.8 284.8h0M472.3 240.7h0M476.1 249.4h0M476.6 251.4h0M478.3 255.4h0M480.1 259.4h0M481.4 264.1h0M482.6 266.2h0M485.3 272.3h0M488.6 280.8h0M480.8 253.7h0M482.5 257.7h0M485.4 264.1h0M486.0 266.4h0M487.7 270.2h0M489.6 274.4h0M490.1 276.8h0M490.7 278.8h0M482.7 249.3h0M483.7 251.3h0M485.8 247.5h0M486.4 249.5h0M486.7 251.4h0M490.9 259.7h0M493.8 268.3h0M496.4 274.6h0M497.1 276.7h0M499.3 283.3h0M486.8 240.9h0M487.1 243.3h0M489.7 249.5h0M493.0 257.7h0M495.3 264.1h0M499.0 272.0h0M490.6 243.0h0M492.7 247.3h0M493.5 249.5h0M494.3 251.7h0M495.5 255.8h0M494.0 242.8h0M496.9 249.2h0M498.6 253.7h0M497.7 243.2h0M498.4 245.1h0M500.4 249.1h0M373.8 347.7h0M379.6 345.7h0M381.4 341.3h0M376.8 320.6h0M377.7 322.3h0M378.5 324.9h0M384.2 339.6h0M387.7 347.6h0M390.2 354.0h0M375.4 307.7h0M378.0 313.9h0M380.1 320.6h0M386.9 337.0h0M388.1 339.1h0M391.4 348.0h0M392.9 352.0h0M379.6 310.2h0M383.1 318.6h0M391.2 339.5h0M393.3 343.7h0M394.6 348.1h0M396.4 351.8h0M380.6 303.6h0M382.6 308.0h0M384.0 312.0h0M384.8 314.3h0M386.5 318.4h0M388.5 322.7h0M391.6 330.9h0M396.4 343.7h0M400.2 351.8h0M384.9 305.6h0M387.6 312.2h0M388.6 314.3h0M391.8 322.2h0M394.1 328.6h0M396.0 333.1h0M398.7 339.3h0M401.7 347.8h0M402.7 349.7h0M404.5 354.0h0M394.4 320.2h0M396.0 324.4h0M397.7 328.7h0M402.6 341.5h0M405.1 348.0h0M406.2 349.7h0M406.7 352.0h0M395.3 314.0h0M395.9 316.5h0M401.9 331.1h0M404.5 337.2h0M406.1 341.7h0M407.8 345.7h0M408.8 347.7h0M409.4 350.0h0M395.3 305.6h0M398.8 314.5h0M403.4 326.8h0M408.9 339.5h0M412.9 349.8h0M398.7 305.7h0M399.8 307.8h0M400.8 309.6h0M405.4 322.6h0M410.0 333.0h0M412.2 339.3h0M413.1 341.6h0M414.0 343.6h0M418.2 354.0h0M401.9 303.8h0M403.1 308.0h0M404.4 309.9h0M404.9 312.0h0M405.5 314.1h0M408.6 320.3h0M409.3 323.0h0M409.9 324.4h0M412.6 331.0h0M414.4 335.2h0M417.0 341.4h0M417.7 343.6h0M421.0 352.3h0M422.1 354.0h0M407.0 307.8h0M408.9 312.2h0M411.0 318.0h0M412.0 320.5h0M412.5 322.8h0M415.4 329.0h0M417.6 335.0h0M419.2 339.2h0M421.0 343.6h0M424.8 351.8h0M425.1 354.2h0M411.8 311.9h0M417.2 324.6h0M418.6 328.6h0M420.2 333.1h0M423.0 339.0h0M423.3 341.3h0M424.5 343.5h0M425.4 345.4h0M426.7 349.9h0M415.5 312.0h0M418.9 320.6h0M424.9 335.1h0M428.0 343.0h0M430.6 349.4h0M431.1 351.5h0M417.5 307.6h0M419.1 312.2h0M422.2 320.2h0M423.0 322.3h0M424.9 327.1h0M426.8 330.8h0M431.7 343.6h0M433.9 349.9h0M435.3 354.0h0M419.0 303.9h0M421.8 310.0h0M425.1 318.4h0M426.6 322.8h0M428.5 326.7h0M429.2 328.8h0M430.7 333.0h0M432.2 337.5h0M434.6 341.2h0M438.7 352.1h0M426.7 313.6h0M430.9 325.0h0M431.6 326.5h0M432.9 328.8h0M434.2 333.3h0M436.2 336.9h0M437.2 339.5h0M438.7 343.3h0M439.6 345.4h0M440.7 347.6h0M442.8 353.6h0M427.9 307.6h0M428.4 310.3h0M431.3 316.1h0M433.7 322.5h0M437.2 330.9h0M438.2 332.8h0M438.7 335.1h0M443.9 348.0h0M445.5 352.0h0M446.3 354.0h0M431.6 307.8h0M433.0 311.9h0M437.9 324.6h0M445.6 343.6h0M448.2 349.8h0M449.8 353.9h0M432.9 303.9h0M435.0 307.8h0M435.6 309.9h0M437.3 314.4h0M439.4 318.3h0M440.7 322.2h0M441.4 324.9h0M447.5 339.1h0M448.3 341.2h0M437.5 305.7h0M443.5 320.5h0M444.6 322.5h0M450.0 337.4h0M453.2 345.7h0M455.3 349.8h0M455.7 352.0h0M456.8 354.2h0M441.0 305.6h0M442.9 309.9h0M443.5 312.0h0M444.3 314.0h0M446.0 317.8h0M447.1 320.3h0M448.3 324.6h0M451.8 333.2h0M453.7 337.6h0M458.7 350.1h0M443.8 304.0h0M446.0 309.7h0M446.7 312.1h0M449.7 318.5h0M449.8 320.0h0M453.6 328.6h0M455.5 333.1h0M456.2 334.9h0M458.8 341.5h0M460.3 346.0h0M461.0 347.7h0M462.5 350.0h0M449.6 309.9h0M450.5 311.9h0M451.2 313.7h0M452.1 316.0h0M454.6 322.3h0M459.5 333.2h0M459.8 335.1h0M464.2 345.8h0M464.7 347.5h0M465.7 349.9h0M466.4 351.8h0M467.1 354.0h0M452.3 308.2h0M456.5 318.3h0M458.9 324.6h0M465.0 339.4h0M466.4 343.5h0M467.2 345.5h0M457.5 312.0h0M458.5 314.4h0M465.1 330.7h0M467.2 337.4h0M468.3 339.6h0M471.3 345.4h0M472.4 349.6h0M458.7 305.4h0M459.3 308.2h0M460.4 310.1h0M461.1 312.1h0M462.8 316.3h0M464.3 320.6h0M466.7 326.9h0M476.1 349.6h0M477.7 354.4h0M460.8 303.7h0M465.3 313.9h0M469.3 324.5h0M471.1 328.8h0M472.0 331.4h0M475.4 339.0h0M476.8 343.7h0M464.7 303.6h0M468.7 313.9h0M469.6 316.2h0M473.1 324.5h0M475.6 330.7h0M480.0 341.3h0M481.3 345.0h0M482.6 347.9h0M484.1 351.5h0M468.1 303.9h0M469.0 306.1h0M471.5 312.1h0M475.6 322.6h0M476.7 324.2h0M478.0 329.1h0M480.9 334.9h0M481.6 337.0h0M482.4 339.3h0M485.7 347.6h0M486.1 349.9h0M472.4 305.6h0M475.4 314.1h0M478.2 320.5h0M480.7 326.9h0M481.5 328.6h0M482.5 331.2h0M483.6 333.1h0M484.0 335.2h0M485.6 339.2h0M489.7 350.0h0M491.0 351.9h0M476.2 305.6h0M476.8 307.7h0M479.4 313.8h0M480.4 316.3h0M483.6 324.6h0M487.0 333.0h0M490.1 341.6h0M492.9 347.7h0M495.5 354.1h0M482.1 311.6h0M483.6 316.2h0M484.6 318.1h0M486.0 322.4h0M491.3 335.1h0M492.9 339.4h0M494.5 343.4h0M495.6 347.2h0M497.9 352.1h0M485.3 312.0h0M488.3 318.1h0M490.6 324.6h0M492.3 328.6h0M494.7 334.9h0M496.1 339.4h0M497.0 341.3h0M498.6 345.9h0M488.4 309.7h0M490.6 316.3h0M491.6 317.8h0M492.3 320.5h0M496.0 328.7h0M496.3 330.9h0M498.3 335.3h0M491.4 309.9h0M494.4 316.4h0M494.8 318.3h0M496.5 322.3h0M500.7 333.3h0M502.6 337.2h0M495.1 309.7h0M495.8 311.9h0M498.3 318.8h0M498.7 310.2h0M500.9 316.4h0M500.4 305.8h0M500.9 307.7h0"/>
<path stroke="#dadada" stroke-width="1.9" stroke-linecap="round" fill="none" d="M380.9 282.6h0M382.3 286.7h0M375.9 261.5h0M380.8 274.2h0M383.4 281.0h0M384.2 283.1h0M387.9 290.9h0M380.2 264.1h0M386.0 278.6h0M388.9 285.1h0M389.1 287.7h0M390.3 289.4h0M380.2 255.4h0M382.0 259.4h0M385.2 268.6h0M387.3 274.4h0M378.2 240.5h0M379.4 244.8h0M382.9 253.7h0M386.4 262.1h0M388.1 265.8h0M393.1 278.9h0M395.7 285.0h0M397.3 289.0h0M380.6 238.8h0M382.3 243.2h0M390.9 264.2h0M391.3 266.4h0M393.5 270.2h0M394.1 272.5h0M395.8 276.7h0M397.4 280.8h0M399.3 284.9h0M400.1 287.1h0M389.9 253.7h0M390.7 255.6h0M393.7 261.9h0M395.3 266.1h0M397.1 270.0h0M399.3 276.9h0M399.7 278.5h0M402.9 284.9h0M388.3 240.7h0M390.2 245.1h0M392.7 251.6h0M393.7 253.5h0M395.3 257.6h0M396.6 262.3h0M397.5 264.1h0M401.9 274.5h0M404.4 280.5h0M407.1 287.0h0M407.7 289.3h0M391.8 240.5h0M392.8 243.4h0M394.9 247.2h0M396.3 251.2h0M397.2 253.3h0M398.1 255.2h0M399.7 259.7h0M400.0 261.7h0M401.0 263.8h0M405.9 276.9h0M409.6 285.0h0M411.1 289.1h0M396.0 240.9h0M398.0 247.4h0M403.9 262.0h0M406.4 268.3h0M408.0 272.3h0M411.4 281.0h0M413.1 284.8h0M414.9 289.2h0M402.0 247.1h0M406.4 259.9h0M408.6 264.2h0M411.5 272.4h0M401.9 239.0h0M402.2 240.8h0M405.3 246.8h0M405.6 249.2h0M410.6 262.0h0M415.3 272.2h0M415.9 274.4h0M417.7 279.1h0M419.1 283.0h0M420.2 284.9h0M421.6 289.1h0M422.6 291.0h0M405.4 238.9h0M405.8 240.9h0M409.2 249.2h0M411.8 255.5h0M412.5 257.5h0M413.6 260.0h0M415.0 263.9h0M416.8 268.1h0M421.1 278.8h0M424.3 287.2h0M409.5 241.0h0M413.7 251.4h0M414.8 253.5h0M422.1 272.4h0M427.9 287.5h0M414.9 245.1h0M415.3 247.4h0M416.8 251.6h0M419.0 255.6h0M428.3 278.8h0M429.2 280.6h0M429.6 282.5h0M422.0 253.6h0M424.6 261.8h0M426.6 266.2h0M429.0 272.3h0M429.9 274.5h0M430.9 276.6h0M431.9 278.6h0M432.4 280.8h0M435.4 286.9h0M436.3 289.7h0M422.0 245.1h0M424.2 251.8h0M428.4 261.9h0M429.3 264.4h0M432.7 272.3h0M433.3 274.5h0M434.4 276.7h0M434.8 278.8h0M436.7 283.2h0M437.3 284.7h0M423.8 243.0h0M429.0 255.9h0M431.8 261.7h0M432.6 264.2h0M438.9 278.5h0M442.8 289.3h0M426.9 241.1h0M428.0 243.3h0M429.4 247.1h0M430.8 251.7h0M431.9 253.1h0M443.6 282.5h0M444.3 285.0h0M445.3 287.1h0M447.1 291.0h0M430.2 239.2h0M434.1 249.5h0M437.2 257.8h0M437.7 259.9h0M439.8 263.8h0M440.7 265.6h0M442.0 270.4h0M444.7 276.4h0M446.1 280.7h0M447.2 282.5h0M449.0 287.3h0M435.5 245.1h0M437.1 249.3h0M438.0 251.2h0M441.1 257.5h0M443.6 266.0h0M445.0 268.4h0M446.4 272.5h0M449.0 278.5h0M450.2 280.8h0M451.6 284.9h0M436.5 239.0h0M438.4 243.0h0M443.9 257.6h0M447.7 266.1h0M448.4 268.5h0M453.4 280.8h0M455.2 285.0h0M455.6 287.0h0M443.1 247.5h0M446.1 253.8h0M447.9 257.7h0M451.1 266.3h0M451.6 268.2h0M458.4 284.9h0M459.6 287.2h0M460.5 289.4h0M445.2 243.0h0M453.8 264.2h0M455.5 268.1h0M458.1 274.5h0M460.4 280.8h0M461.4 282.9h0M448.1 240.6h0M450.4 247.0h0M452.2 251.8h0M450.5 239.0h0M452.3 243.2h0M452.9 244.9h0M453.8 247.0h0M454.7 248.9h0M457.6 255.5h0M459.4 259.7h0M460.8 264.0h0M461.5 265.7h0M462.3 268.5h0M463.3 270.8h0M466.4 278.8h0M467.1 280.7h0M469.4 287.0h0M457.2 247.2h0M458.1 249.3h0M461.0 255.8h0M463.4 261.8h0M465.2 266.1h0M465.6 268.1h0M466.9 270.3h0M468.2 274.4h0M468.7 276.7h0M471.6 282.9h0M459.1 242.9h0M461.9 249.5h0M463.8 253.7h0M465.4 257.8h0M466.3 259.7h0M467.6 263.9h0M469.2 268.0h0M470.0 270.5h0M472.8 276.8h0M474.5 280.8h0M475.5 282.7h0M461.1 239.0h0M462.0 240.8h0M465.4 249.0h0M469.4 259.5h0M470.2 261.9h0M472.2 265.9h0M475.4 274.5h0M467.8 247.0h0M470.5 253.7h0M473.8 261.8h0M477.2 270.9h0M478.8 274.4h0M480.1 276.8h0M483.8 287.0h0M484.7 289.1h0M468.7 240.7h0M470.0 243.1h0M473.2 251.5h0M474.2 253.5h0M477.5 261.6h0M482.5 274.5h0M471.4 238.9h0M473.1 242.9h0M474.3 245.0h0M484.3 270.1h0M485.5 274.7h0M492.1 289.0h0M475.7 241.3h0M477.1 242.6h0M477.4 245.1h0M488.5 272.0h0M494.6 287.3h0M495.2 289.0h0M480.3 243.1h0M481.3 245.3h0M482.1 247.4h0M485.2 255.9h0M486.3 257.5h0M486.7 260.2h0M487.8 262.0h0M488.3 264.2h0M490.5 268.4h0M491.1 270.5h0M493.4 276.6h0M494.5 278.7h0M495.3 280.6h0M496.3 283.2h0M497.0 285.0h0M498.7 289.3h0M482.9 240.9h0M498.8 281.0h0M488.2 244.9h0M492.3 255.6h0M496.4 266.1h0M499.9 274.5h0M500.6 276.5h0M501.5 279.2h0M495.2 253.4h0M499.9 266.0h0M493.6 240.7h0M495.9 247.3h0M497.5 251.1h0M499.3 255.3h0M500.4 257.5h0M502.1 261.9h0M496.0 238.9h0M499.1 247.2h0M501.2 251.3h0M500.3 240.6h0M501.1 242.6h0M380.8 347.7h0M380.7 339.6h0M385.0 349.8h0M385.9 343.4h0M381.8 322.7h0M383.7 328.6h0M384.6 331.2h0M386.1 335.5h0M390.6 345.3h0M392.1 349.8h0M388.2 330.5h0M388.9 332.8h0M390.1 334.9h0M397.3 353.9h0M382.8 309.9h0M389.3 324.7h0M393.1 335.1h0M395.1 339.5h0M395.5 341.0h0M398.0 347.9h0M399.0 349.5h0M400.9 354.2h0M389.3 316.6h0M390.1 318.0h0M395.0 330.8h0M396.7 335.2h0M399.3 341.6h0M400.2 343.4h0M403.7 352.3h0M387.8 303.8h0M388.5 305.6h0M389.4 307.7h0M389.8 310.2h0M391.8 313.9h0M395.0 322.7h0M400.5 335.2h0M401.9 339.2h0M404.4 345.7h0M392.7 307.7h0M396.8 318.1h0M399.6 324.6h0M400.3 326.9h0M402.7 332.9h0M404.1 335.2h0M410.4 352.0h0M411.3 353.9h0M396.3 307.8h0M397.0 310.1h0M398.1 312.0h0M400.1 316.0h0M401.1 318.3h0M402.2 322.5h0M402.8 324.5h0M404.7 329.3h0M405.8 330.7h0M407.3 335.1h0M410.1 341.7h0M412.0 347.9h0M414.1 352.0h0M401.6 311.9h0M403.0 316.4h0M406.7 324.6h0M407.2 326.3h0M408.0 328.4h0M408.9 331.0h0M410.6 335.2h0M415.2 345.6h0M415.8 347.8h0M402.6 305.8h0M411.1 326.8h0M411.8 328.9h0M413.3 333.1h0M416.4 339.3h0M418.4 345.6h0M419.3 347.6h0M409.5 313.8h0M413.5 324.9h0M416.4 330.9h0M417.3 332.9h0M422.0 345.6h0M423.4 350.0h0M410.0 308.3h0M411.3 310.4h0M413.4 314.2h0M414.6 318.5h0M415.9 322.3h0M421.0 335.1h0M422.3 337.0h0M428.8 353.8h0M413.9 308.2h0M414.7 309.8h0M417.8 318.2h0M420.7 324.4h0M422.1 329.0h0M423.3 330.9h0M425.5 337.4h0M429.7 347.5h0M419.9 314.4h0M421.0 316.2h0M423.8 324.5h0M427.2 333.1h0M428.5 335.1h0M428.9 337.1h0M430.9 341.4h0M434.8 351.9h0M420.0 305.8h0M422.6 312.0h0M424.1 315.8h0M431.7 334.9h0M434.9 343.4h0M437.3 350.0h0M439.3 354.1h0M424.2 308.0h0M427.6 316.3h0M428.8 318.3h0M429.4 320.4h0M430.2 322.3h0M433.2 330.9h0M429.5 312.0h0M432.0 318.5h0M435.7 327.1h0M436.2 329.0h0M439.4 337.2h0M440.2 339.7h0M441.3 341.4h0M442.9 345.3h0M444.3 349.9h0M433.7 313.9h0M437.1 322.6h0M441.2 333.0h0M442.2 335.3h0M444.6 341.4h0M434.1 305.7h0M436.5 311.8h0M439.6 320.4h0M442.7 326.6h0M444.2 330.9h0M449.9 345.6h0M451.6 349.9h0M436.5 303.9h0M439.0 309.9h0M441.8 316.5h0M442.3 318.5h0M446.1 326.8h0M447.5 330.7h0M448.5 333.1h0M451.8 341.3h0M452.3 343.1h0M453.9 347.6h0M440.2 303.8h0M450.2 328.9h0M452.7 335.2h0M454.8 339.4h0M455.3 341.7h0M456.2 343.3h0M460.0 354.0h0M444.5 305.8h0M445.2 308.1h0M448.4 316.3h0M452.1 324.6h0M452.6 326.7h0M454.5 330.9h0M456.6 337.0h0M459.7 343.4h0M462.8 351.7h0M463.8 353.9h0M448.2 305.7h0M448.8 308.1h0M453.1 318.2h0M455.5 324.6h0M457.9 330.8h0M460.8 337.4h0M461.3 339.6h0M462.5 341.4h0M463.0 343.5h0M451.7 306.0h0M453.3 310.2h0M454.0 312.0h0M456.0 316.1h0M457.2 320.7h0M458.1 322.6h0M460.6 328.5h0M461.5 331.1h0M462.9 334.8h0M464.1 337.3h0M465.8 341.6h0M468.2 347.6h0M454.9 305.5h0M456.4 309.9h0M459.3 316.5h0M461.3 320.5h0M462.5 324.4h0M463.4 327.3h0M466.4 335.5h0M469.5 341.6h0M469.9 343.2h0M473.6 351.9h0M474.0 354.0h0M463.3 318.2h0M466.0 324.5h0M467.7 328.9h0M469.5 333.3h0M470.1 335.0h0M471.2 337.3h0M471.7 339.5h0M473.8 343.9h0M466.0 315.8h0M467.2 318.1h0M468.7 322.5h0M470.2 327.0h0M474.4 337.1h0M478.7 348.1h0M465.4 305.7h0M466.2 307.6h0M467.3 309.9h0M468.4 311.6h0M471.5 320.1h0M471.9 322.7h0M473.9 326.8h0M474.9 328.9h0M477.9 337.0h0M478.9 339.6h0M480.6 343.4h0M483.2 349.8h0M484.9 353.9h0M469.8 307.9h0M470.5 309.9h0M474.3 318.5h0M479.8 332.8h0M488.4 354.1h0M474.2 309.9h0M477.6 318.3h0M479.1 322.5h0M480.2 324.7h0M487.1 341.6h0M491.4 353.8h0M478.8 312.1h0M484.5 326.2h0M486.1 330.7h0M487.7 335.2h0M488.3 337.2h0M489.2 339.1h0M492.1 345.2h0M493.6 349.7h0M480.5 308.0h0M489.6 330.6h0M490.3 333.0h0M492.2 336.7h0M493.6 341.7h0M497.3 349.9h0M483.1 306.0h0M484.7 309.8h0M486.4 313.8h0M487.2 316.1h0M494.0 333.3h0M495.9 337.4h0M501.9 351.6h0M502.4 354.2h0M488.9 312.2h0M493.0 322.3h0M497.5 333.0h0M499.0 337.0h0M503.3 347.5h0M488.9 303.7h0M493.5 314.5h0M497.4 324.7h0M499.2 328.5h0M499.9 330.8h0M501.8 335.0h0M494.3 307.8h0M499.5 320.3h0M500.3 322.5h0M500.9 324.8h0M502.6 328.8h0M496.8 305.9h0M497.5 307.7h0M499.4 312.2h0M502.0 309.9h0M503.6 314.1h0"/>
<path stroke="#a692d0" stroke-width="2.3" stroke-linecap="round" fill="none" d="M552.9 288.1h0M552.2 241.4h0M518.4 278.7h0M509.5 244.5h0M553.4 286.9h0M548.8 272.7h0M550.2 249.3h0M510.7 272.2h0M548.1 252.3h0M545.0 285.5h0M528.4 265.3h0M555.3 261.4h0M531.3 254.2h0M509.1 275.8h0M556.3 266.5h0M531.0 241.5h0M504.9 277.9h0M533.2 260.9h0M542.0 287.3h0M533.3 276.6h0M526.2 247.8h0M544.0 264.7h0M506.6 258.9h0M529.9 240.6h0M540.9 263.6h0M541.8 279.1h0M535.8 242.8h0M556.2 239.2h0M542.5 288.1h0M514.7 263.9h0M526.5 277.9h0M535.1 270.8h0M510.1 251.4h0M553.1 259.9h0M530.7 277.8h0M538.2 265.7h0M550.7 253.6h0M538.8 271.1h0M532.9 268.4h0M508.6 241.5h0M504.1 274.6h0M543.5 247.9h0M545.2 257.0h0M507.9 266.8h0M529.0 268.1h0M535.5 255.8h0M516.7 249.6h0M523.8 242.4h0M520.7 275.0h0M510.5 288.8h0M547.6 282.0h0M512.4 268.5h0M508.1 281.5h0M518.5 248.3h0M547.7 262.7h0M513.8 283.2h0M541.1 284.2h0M511.4 289.5h0M543.6 244.3h0M517.3 285.3h0M544.0 290.4h0M514.8 241.6h0M507.2 245.4h0M515.7 282.2h0M522.2 269.5h0M517.2 275.8h0M546.4 267.1h0M553.9 265.3h0M525.5 243.8h0M528.1 258.0h0M545.4 283.6h0M545.6 257.3h0M556.8 249.7h0M532.9 255.6h0M505.2 277.2h0M519.1 248.0h0M557.6 251.8h0M516.7 260.7h0M540.9 280.1h0M523.8 286.2h0M547.0 257.9h0M511.3 282.7h0M548.4 275.7h0M555.9 256.2h0M516.0 248.6h0M546.0 275.4h0M533.4 264.4h0M507.7 289.2h0M523.1 269.4h0M543.9 265.6h0M509.9 273.1h0M522.8 249.1h0M503.2 278.0h0M502.1 275.8h0M524.4 264.6h0M520.3 266.1h0M525.8 284.1h0M552.6 263.6h0M504.2 261.6h0M540.9 262.6h0M528.8 270.8h0M543.6 247.6h0M547.7 261.9h0M506.6 259.2h0M511.7 261.4h0M513.7 253.5h0M523.2 281.9h0M518.4 246.4h0M513.1 290.4h0M519.2 240.1h0M510.6 267.4h0M550.9 278.1h0M545.9 280.7h0M506.4 248.1h0M535.6 251.0h0M513.2 242.2h0M540.2 288.7h0M508.0 277.3h0M532.3 254.7h0M537.7 249.1h0M525.2 285.5h0M551.4 250.8h0M531.2 246.8h0M517.5 271.1h0M542.7 288.2h0M553.5 317.2h0M535.5 314.9h0M542.5 307.3h0M535.4 307.5h0M556.9 347.2h0M506.2 328.5h0M520.0 307.8h0M552.5 346.1h0M516.6 348.6h0M528.0 306.7h0M528.2 347.9h0M542.8 325.7h0M540.5 344.2h0M527.5 343.4h0M511.4 307.8h0M510.3 309.2h0M554.2 311.8h0M510.2 315.7h0M519.0 313.3h0M538.3 307.2h0M556.8 323.8h0M539.5 314.7h0M552.1 343.5h0M512.5 347.9h0M524.8 332.6h0M525.8 316.4h0M512.1 348.6h0M522.8 305.3h0M536.0 325.9h0M553.9 309.9h0M507.1 305.5h0M542.9 337.5h0M515.8 352.3h0M513.8 337.2h0M542.1 342.1h0M514.8 331.1h0M526.3 322.9h0M528.1 351.5h0M511.0 331.6h0M527.7 324.7h0M507.9 318.6h0M504.2 326.8h0M509.5 349.7h0M508.8 317.6h0M562.0 309.0h0M513.4 307.5h0M519.8 353.4h0M556.7 306.4h0M551.6 305.9h0M548.6 305.0h0M514.1 328.1h0M527.8 348.0h0M508.3 313.4h0M527.0 304.2h0M536.4 315.3h0M558.7 333.0h0M509.2 331.4h0M550.0 336.2h0M537.2 319.8h0M512.5 340.2h0M521.0 353.8h0M532.9 352.6h0M559.0 317.0h0M549.3 321.4h0M550.6 304.6h0M520.0 326.5h0M533.3 344.9h0M559.0 313.4h0M508.8 350.9h0M505.3 304.5h0M506.9 325.1h0M549.0 351.8h0M537.6 332.7h0M503.8 334.4h0M519.3 331.0h0M517.3 352.9h0M536.9 347.5h0M532.8 324.8h0M559.8 317.6h0M524.2 320.4h0M532.9 321.5h0M545.3 332.2h0M516.0 329.8h0M547.7 338.3h0M554.0 346.1h0M522.7 323.8h0M528.5 328.7h0M526.9 348.5h0M558.0 313.5h0M557.7 310.0h0M520.8 321.7h0M543.2 350.4h0M545.7 311.1h0M539.2 349.2h0M530.5 329.8h0M539.0 333.4h0M551.3 306.8h0M518.5 306.1h0M536.8 352.9h0M512.2 350.7h0M515.3 320.6h0M544.0 320.6h0M543.5 317.4h0M543.1 337.3h0M521.6 322.8h0M529.4 320.3h0M523.0 333.5h0M508.5 313.8h0M549.8 322.3h0M546.5 316.2h0M504.8 352.8h0M552.6 317.0h0M516.8 331.6h0M530.6 315.7h0M509.2 319.8h0M552.1 335.2h0M540.2 304.7h0M538.6 335.9h0M507.8 336.2h0M528.0 310.6h0M512.1 348.3h0M513.4 335.2h0M519.5 321.8h0M546.9 305.7h0M517.3 350.8h0"/>
<path stroke="#a08ed0" stroke-width="2.2" stroke-linecap="round" fill="none" d="M446.5 397.5h0M446.5 392.8h0"/>
<path stroke="#4c8a45" stroke-width="1.9" stroke-linecap="round" fill="none" d="M31.9 288.0h0M34.8 286.3h0M33.6 273.0h0M36.9 281.9h0M37.3 284.2h0M39.4 290.4h0M31.9 257.3h0M31.9 259.7h0M33.2 261.8h0M34.0 264.0h0M35.5 268.6h0M36.2 270.8h0M37.8 274.9h0M38.7 277.4h0M39.7 279.2h0M40.1 281.5h0M41.3 284.0h0M33.7 253.1h0M35.5 257.2h0M36.5 261.8h0M38.3 266.0h0M38.8 268.6h0M42.4 277.4h0M43.2 279.4h0M43.8 281.5h0M45.6 286.2h0M45.8 287.9h0M35.7 248.6h0M37.9 255.3h0M38.4 257.2h0M41.3 263.8h0M41.8 266.3h0M43.7 270.7h0M45.9 277.2h0M47.2 281.4h0M48.8 285.9h0M49.4 288.2h0M37.8 244.5h0M38.2 246.6h0M39.3 248.6h0M40.9 253.3h0M42.3 257.5h0M43.7 262.0h0M44.7 264.2h0M48.7 274.8h0M52.8 286.1h0M53.0 288.3h0M40.1 239.8h0M42.5 248.8h0M45.3 255.3h0M47.7 261.9h0M49.9 268.7h0M52.8 275.1h0M52.9 277.2h0M54.6 281.9h0M43.2 240.1h0M44.4 244.3h0M46.4 248.6h0M48.1 253.1h0M50.9 262.0h0M53.4 268.8h0M55.9 275.1h0M60.3 288.5h0M61.6 290.9h0M46.6 239.8h0M48.5 243.9h0M49.2 246.2h0M55.5 264.3h0M56.1 266.6h0M59.6 275.3h0M60.1 277.2h0M62.3 281.4h0M64.9 290.3h0M51.0 240.1h0M51.8 244.3h0M57.5 259.6h0M58.4 261.9h0M62.1 273.3h0M65.9 283.7h0M67.9 288.1h0M54.7 242.0h0M56.7 246.3h0M59.9 255.5h0M60.1 257.5h0M61.4 259.7h0M62.5 264.3h0M63.4 266.0h0M65.4 270.7h0M65.6 272.6h0M66.5 275.6h0M68.0 279.6h0M72.1 290.7h0M57.6 239.9h0M58.3 242.0h0M60.4 246.5h0M60.4 248.3h0M61.5 250.7h0M62.2 253.1h0M63.2 255.0h0M63.6 257.4h0M70.3 275.5h0M71.3 277.2h0M71.9 279.5h0M73.6 283.7h0M76.0 290.8h0M61.1 239.8h0M62.5 244.3h0M65.1 251.3h0M65.8 253.4h0M67.0 255.3h0M67.5 257.7h0M73.7 274.7h0M74.7 277.0h0M77.2 283.9h0M65.0 239.8h0M66.1 244.2h0M68.1 248.7h0M68.9 250.9h0M71.2 257.5h0M71.8 259.9h0M74.7 268.8h0M75.8 270.7h0M76.7 272.9h0M78.7 277.1h0M79.1 279.9h0M80.7 284.1h0M81.5 286.2h0M82.8 290.9h0M70.5 246.4h0M71.5 248.5h0M72.9 253.1h0M74.1 255.1h0M74.8 257.6h0M76.5 261.8h0M77.6 265.9h0M79.0 268.7h0M81.2 274.5h0M81.6 277.2h0M85.1 286.3h0M86.8 290.7h0M73.4 244.4h0M77.0 253.2h0M77.7 255.5h0M79.8 261.7h0M80.7 263.9h0M83.2 271.0h0M84.6 275.1h0M87.9 283.9h0M75.9 239.9h0M77.4 243.9h0M80.2 252.7h0M81.0 255.1h0M82.1 257.3h0M83.0 259.5h0M84.1 264.2h0M85.0 266.2h0M92.8 288.5h0M82.4 248.9h0M84.5 253.3h0M85.8 257.6h0M87.4 263.9h0M89.7 268.5h0M90.2 271.0h0M91.1 272.9h0M91.7 275.4h0M93.9 281.8h0M95.6 286.3h0M96.7 287.9h0M97.4 290.7h0M82.8 239.9h0M83.7 242.1h0M84.5 244.2h0M86.1 248.8h0M87.3 251.1h0M87.6 253.0h0M88.4 255.4h0M90.9 261.8h0M93.3 268.7h0M94.2 270.3h0M98.0 281.2h0M101.2 290.7h0M86.7 239.9h0M87.1 242.2h0M88.7 246.5h0M92.9 257.3h0M93.4 259.6h0M94.1 261.9h0M99.0 275.1h0M101.6 281.9h0M102.6 284.2h0M90.3 239.9h0M90.5 242.3h0M92.6 246.4h0M95.5 255.4h0M97.5 260.1h0M98.5 261.6h0M99.6 266.2h0M101.7 272.9h0M104.8 281.7h0M107.8 287.8h0M95.2 244.3h0M96.4 246.3h0M99.1 255.0h0M105.5 272.7h0M108.6 281.5h0M111.8 290.6h0M97.2 240.2h0M99.9 246.7h0M101.2 250.9h0M103.4 257.5h0M107.7 268.3h0M114.1 286.2h0M115.7 290.8h0M101.8 242.1h0M102.4 244.1h0M103.6 248.8h0M105.8 253.1h0M106.2 255.5h0M107.2 257.7h0M108.4 261.5h0M109.8 264.5h0M110.6 266.1h0M114.9 279.5h0M115.7 281.5h0M117.5 286.0h0M118.1 288.3h0M104.2 240.0h0M104.9 242.0h0M106.0 244.3h0M106.9 246.3h0M108.4 251.0h0M109.8 255.2h0M113.3 264.0h0M114.7 268.5h0M116.2 272.8h0M116.9 275.2h0M119.4 281.7h0M120.9 286.0h0M122.9 290.3h0M108.7 241.9h0M109.6 244.5h0M117.5 266.2h0M118.2 268.3h0M123.0 282.0h0M124.6 286.3h0M112.8 241.8h0M114.7 248.9h0M115.0 250.8h0M118.8 259.5h0M120.5 264.3h0M121.3 266.4h0M122.5 271.0h0M123.5 273.1h0M124.1 275.4h0M127.4 284.2h0M128.2 286.0h0M116.7 244.0h0M117.5 246.7h0M121.6 257.6h0M122.1 259.8h0M124.8 266.6h0M125.7 268.4h0M128.5 277.6h0M120.5 244.0h0M121.0 246.3h0M122.6 250.9h0M124.3 255.1h0M125.2 257.7h0M126.9 261.9h0M127.8 264.1h0M130.5 272.8h0M131.8 277.4h0M134.7 283.7h0M136.3 288.1h0M137.7 290.7h0M124.4 244.2h0M124.5 246.6h0M125.7 248.4h0M126.6 250.9h0M127.4 252.9h0M129.4 257.6h0M129.7 259.9h0M132.5 268.6h0M139.6 285.7h0M126.0 239.8h0M127.0 242.3h0M127.6 244.4h0M128.9 248.4h0M130.9 252.8h0M131.4 255.2h0M132.2 257.5h0M133.1 259.4h0M135.0 264.4h0M136.3 267.9h0M138.6 274.9h0M139.6 277.2h0M140.3 279.7h0M141.0 282.0h0M141.9 283.8h0M129.5 239.7h0M131.8 246.5h0M132.5 248.6h0M135.2 255.4h0M136.9 259.7h0M138.3 264.1h0M139.2 266.2h0M140.0 268.5h0M141.8 272.9h0M143.0 277.0h0M144.5 281.9h0M146.4 286.1h0M133.3 239.4h0M134.0 241.9h0M134.6 244.3h0M137.1 251.4h0M139.5 257.4h0M142.5 266.3h0M143.3 268.5h0M144.3 270.9h0M147.2 279.6h0M148.0 281.5h0M148.8 283.6h0M150.0 285.9h0M138.3 244.2h0M140.3 248.8h0M141.6 252.8h0M143.2 257.7h0M144.4 261.9h0M145.5 263.9h0M147.9 270.6h0M149.5 274.8h0M150.2 277.5h0M151.0 279.2h0M142.0 244.4h0M147.1 257.5h0M149.1 263.9h0M149.9 266.1h0M150.6 268.6h0M151.5 270.8h0M151.9 272.9h0M153.3 275.1h0M154.0 277.3h0M143.8 240.1h0M144.9 241.8h0M146.9 249.0h0M148.6 253.3h0M150.6 257.2h0M151.8 262.1h0M152.5 263.7h0M147.3 240.0h0M153.3 255.5h0M156.1 264.1h0M152.9 244.5h0M153.3 246.4h0M154.6 248.7h0M156.4 253.2h0M154.9 240.1h0M32.9 346.4h0M33.6 348.7h0M35.4 353.3h0M36.7 346.0h0M37.3 348.5h0M34.8 331.1h0M35.6 333.4h0M36.2 335.4h0M37.5 339.7h0M38.7 342.2h0M40.2 346.3h0M40.9 348.5h0M42.9 353.4h0M33.7 317.7h0M34.5 320.2h0M36.8 326.7h0M37.3 328.7h0M39.3 333.2h0M43.2 344.4h0M34.6 311.6h0M36.4 315.6h0M37.3 317.9h0M38.6 322.4h0M40.3 326.5h0M41.0 328.7h0M42.1 330.7h0M43.2 335.3h0M44.3 337.6h0M48.5 348.3h0M48.9 350.9h0M49.6 352.9h0M50.8 355.1h0M36.6 306.5h0M37.9 309.5h0M39.0 313.3h0M40.7 317.8h0M41.6 320.2h0M44.1 326.8h0M44.6 329.1h0M46.4 333.2h0M47.1 335.5h0M51.9 348.8h0M53.7 353.0h0M41.9 311.3h0M43.0 313.6h0M48.6 329.3h0M50.9 335.4h0M51.6 337.7h0M52.4 340.1h0M52.8 342.0h0M54.4 346.6h0M57.3 352.8h0M44.1 307.0h0M46.0 310.9h0M46.0 313.6h0M48.0 317.9h0M52.8 330.8h0M53.4 333.1h0M55.8 339.6h0M59.6 348.4h0M59.9 351.0h0M60.7 353.0h0M49.4 311.2h0M52.3 320.2h0M56.8 333.5h0M57.9 335.7h0M59.4 340.1h0M61.1 344.3h0M63.2 350.9h0M64.3 353.0h0M52.1 309.4h0M55.9 320.2h0M58.2 327.1h0M60.5 333.2h0M63.2 340.2h0M63.7 342.5h0M65.9 348.6h0M67.1 350.7h0M55.6 308.7h0M59.3 320.2h0M60.3 322.3h0M61.9 326.9h0M63.5 331.0h0M64.5 333.3h0M66.2 337.8h0M66.5 340.1h0M67.6 342.0h0M67.9 344.4h0M69.7 348.7h0M71.6 353.2h0M72.3 355.0h0M60.9 313.2h0M61.5 315.2h0M64.0 321.9h0M70.3 339.6h0M72.6 346.6h0M74.3 350.7h0M75.6 355.0h0M64.6 313.4h0M65.9 317.9h0M67.2 322.3h0M68.7 324.3h0M69.7 329.1h0M71.3 333.6h0M73.7 339.6h0M75.2 344.0h0M77.0 348.7h0M78.6 353.2h0M65.1 304.9h0M66.4 309.1h0M67.6 313.7h0M70.4 320.2h0M71.1 322.6h0M71.6 324.4h0M74.1 331.3h0M75.9 335.3h0M79.2 344.5h0M81.9 353.1h0M68.3 304.7h0M69.6 307.1h0M72.5 315.7h0M73.3 317.8h0M74.6 322.0h0M75.3 324.5h0M77.1 329.2h0M79.5 335.7h0M80.0 337.6h0M81.2 339.9h0M82.8 344.3h0M85.2 351.2h0M72.0 304.7h0M72.5 306.9h0M74.8 313.9h0M76.0 315.5h0M77.5 320.2h0M79.6 326.7h0M80.4 329.0h0M83.0 335.5h0M85.1 339.7h0M87.8 348.6h0M88.6 351.1h0M89.3 353.0h0M78.1 309.2h0M80.4 317.9h0M81.1 320.0h0M83.1 324.7h0M85.1 331.2h0M87.6 337.5h0M91.8 350.7h0M93.8 354.9h0M79.2 304.8h0M82.5 313.4h0M83.0 316.1h0M86.1 324.5h0M87.1 326.8h0M89.5 333.3h0M92.3 339.9h0M92.8 344.2h0M95.8 350.9h0M82.5 304.6h0M85.1 311.2h0M86.0 313.6h0M87.0 315.6h0M87.5 318.1h0M88.4 320.1h0M89.8 324.4h0M92.2 331.3h0M93.3 333.2h0M97.7 346.3h0M98.9 348.8h0M86.4 304.8h0M87.2 306.8h0M89.5 313.7h0M90.4 315.9h0M91.2 317.8h0M93.7 324.5h0M94.2 326.6h0M95.0 329.2h0M95.5 331.0h0M96.8 333.3h0M99.0 339.8h0M99.8 341.9h0M102.8 351.1h0M90.1 304.8h0M91.1 306.9h0M91.1 309.2h0M93.4 313.5h0M94.5 318.0h0M95.4 320.2h0M97.3 324.5h0M99.5 330.7h0M100.2 333.1h0M101.0 335.5h0M101.8 338.1h0M108.1 355.0h0M94.5 306.4h0M96.0 311.3h0M98.9 320.1h0M99.7 322.5h0M100.5 324.4h0M104.9 335.4h0M107.0 342.1h0M107.5 344.1h0M110.0 351.1h0M97.3 304.9h0M97.8 306.6h0M98.9 308.6h0M100.8 315.6h0M103.3 322.1h0M104.0 324.5h0M107.8 333.1h0M108.4 335.2h0M108.8 338.0h0M112.0 346.5h0M113.0 348.8h0M102.9 311.7h0M103.9 313.5h0M107.0 321.9h0M109.6 328.8h0M110.9 333.4h0M111.9 335.5h0M112.9 337.5h0M113.4 339.7h0M115.3 344.3h0M115.9 346.6h0M104.0 304.6h0M107.3 313.5h0M108.3 315.7h0M111.8 324.8h0M112.5 327.0h0M114.0 331.2h0M120.1 348.7h0M121.8 353.1h0M107.9 304.7h0M109.0 306.9h0M111.2 313.5h0M112.7 317.6h0M114.5 322.4h0M116.6 329.0h0M117.5 331.2h0M119.1 335.6h0M120.6 340.0h0M121.4 342.1h0M124.8 350.7h0M112.5 306.6h0M114.6 313.6h0M116.5 317.5h0M119.3 326.7h0M121.0 331.2h0M124.5 340.0h0M115.9 306.9h0M119.7 318.0h0M121.0 320.3h0M122.4 324.6h0M124.9 331.0h0M125.3 332.9h0M126.4 335.5h0M127.4 339.8h0M129.4 344.3h0M118.8 304.6h0M119.1 307.2h0M121.1 311.5h0M121.9 313.6h0M122.6 315.8h0M124.3 320.1h0M125.2 322.5h0M126.3 324.4h0M126.8 326.7h0M130.2 335.2h0M130.3 337.8h0M131.8 342.2h0M135.3 351.2h0M137.0 355.2h0M122.5 304.8h0M124.2 309.1h0M124.9 311.6h0M125.5 313.4h0M126.4 315.7h0M128.0 320.0h0M128.4 322.3h0M130.2 327.0h0M132.0 331.3h0M133.0 333.4h0M133.7 335.7h0M135.0 339.7h0M135.9 341.9h0M136.6 344.4h0M137.2 346.4h0M127.4 308.7h0M128.7 311.1h0M130.0 315.5h0M137.1 335.1h0M137.8 337.8h0M139.2 342.1h0M143.4 353.2h0M129.6 304.9h0M131.8 311.1h0M132.6 313.6h0M133.7 315.7h0M134.3 317.8h0M135.2 319.9h0M135.9 322.3h0M138.5 328.7h0M140.2 333.6h0M140.9 335.6h0M141.6 337.9h0M142.4 340.3h0M143.0 342.1h0M143.9 344.4h0M147.3 353.1h0M147.8 355.2h0M134.9 308.9h0M135.8 311.4h0M136.5 313.7h0M137.1 315.9h0M138.1 318.1h0M140.4 324.6h0M141.0 326.7h0M143.6 332.9h0M147.5 344.5h0M148.2 346.8h0M137.6 307.0h0M138.5 309.1h0M139.2 310.9h0M139.8 313.4h0M141.8 318.1h0M143.1 321.9h0M144.6 326.8h0M145.2 329.1h0M146.5 330.8h0M148.0 335.2h0M149.5 339.9h0M150.5 342.3h0M142.6 311.5h0M144.1 315.5h0M144.9 317.8h0M146.8 322.4h0M148.5 326.7h0M150.1 331.2h0M150.7 333.6h0M153.0 339.7h0M154.0 342.0h0M155.5 346.3h0M146.4 311.3h0M151.9 326.8h0M153.4 331.1h0M154.7 335.6h0M158.2 344.3h0M159.1 346.3h0M159.9 348.8h0M147.9 304.5h0M148.8 307.1h0M149.1 308.9h0M150.8 313.6h0M151.7 315.8h0M152.1 317.6h0M153.4 320.3h0M155.4 326.9h0M156.0 328.8h0M156.7 331.2h0M151.4 304.9h0M155.2 316.1h0M158.4 324.5h0M155.3 306.7h0M158.3 313.4h0M159.1 315.7h0M159.4 317.8h0M160.6 311.1h0"/>
<path stroke="#6c9c63" stroke-width="1.9" stroke-linecap="round" fill="none" d="M32.1 279.3h0M33.1 281.7h0M35.5 288.4h0M36.1 291.0h0M34.2 275.0h0M35.0 277.1h0M35.7 279.6h0M38.0 286.1h0M39.1 288.3h0M34.5 266.4h0M37.2 272.6h0M41.7 286.2h0M42.6 288.4h0M32.3 248.5h0M35.9 259.8h0M37.9 264.1h0M40.5 273.0h0M44.7 284.1h0M46.8 290.6h0M33.1 242.2h0M34.0 244.4h0M34.6 246.5h0M36.3 250.8h0M37.1 253.2h0M40.5 261.8h0M42.9 268.4h0M45.0 275.3h0M46.6 279.6h0M48.2 284.3h0M50.9 290.5h0M36.2 239.9h0M40.1 250.8h0M43.0 259.8h0M45.6 266.3h0M46.2 268.3h0M48.0 273.0h0M49.6 277.1h0M50.3 279.7h0M51.2 281.4h0M52.0 283.8h0M54.1 290.5h0M41.1 244.3h0M44.3 253.1h0M46.0 257.4h0M46.6 259.6h0M48.4 264.0h0M49.0 266.3h0M50.5 270.3h0M51.2 272.9h0M53.6 279.3h0M57.0 288.4h0M57.5 290.7h0M43.9 242.5h0M45.9 246.7h0M47.1 251.0h0M49.0 255.4h0M49.5 257.7h0M50.6 259.8h0M51.7 264.2h0M52.9 266.7h0M54.3 270.4h0M56.6 277.3h0M57.7 279.5h0M58.3 281.0h0M58.8 283.8h0M59.9 286.0h0M50.0 248.7h0M50.7 250.8h0M52.1 255.3h0M54.8 261.9h0M56.9 268.4h0M57.8 270.8h0M58.7 273.0h0M60.9 279.7h0M62.6 283.7h0M64.0 288.2h0M51.3 242.1h0M52.6 246.6h0M53.7 248.9h0M54.1 250.8h0M55.0 253.0h0M55.7 255.1h0M57.0 257.6h0M59.2 264.2h0M59.9 266.4h0M60.9 268.6h0M61.5 271.0h0M62.8 275.2h0M64.5 279.6h0M66.9 286.1h0M57.3 248.8h0M58.3 250.6h0M58.6 253.0h0M62.0 261.8h0M64.1 268.6h0M67.3 277.6h0M69.2 281.6h0M70.6 286.2h0M71.0 288.0h0M59.0 244.3h0M65.2 261.9h0M66.4 264.1h0M67.1 266.1h0M68.5 270.5h0M72.6 281.9h0M74.5 286.0h0M74.9 288.5h0M62.1 242.2h0M63.5 246.6h0M68.6 259.8h0M69.0 261.9h0M70.1 264.5h0M70.8 266.4h0M71.5 268.6h0M72.2 270.5h0M73.0 273.0h0M76.0 281.7h0M78.4 288.2h0M79.6 290.5h0M65.6 242.1h0M67.3 246.5h0M69.1 253.2h0M72.8 261.9h0M74.5 266.5h0M77.5 274.9h0M80.1 281.7h0M82.0 288.6h0M68.4 239.8h0M69.4 242.3h0M70.2 244.2h0M72.4 251.1h0M75.4 259.8h0M79.6 270.6h0M80.1 272.5h0M82.6 279.6h0M83.2 282.1h0M84.5 284.1h0M85.8 288.6h0M72.8 242.1h0M74.1 246.5h0M75.4 248.8h0M76.0 250.9h0M79.3 259.6h0M82.2 268.5h0M83.4 273.1h0M85.3 277.3h0M86.8 281.5h0M90.2 290.3h0M77.9 246.4h0M78.7 248.4h0M79.9 250.8h0M83.3 261.8h0M85.9 268.5h0M86.9 271.0h0M87.5 273.0h0M88.4 275.1h0M89.1 277.1h0M90.4 281.4h0M92.5 286.0h0M93.6 290.5h0M79.7 242.2h0M80.9 244.6h0M81.7 246.2h0M83.2 250.7h0M84.7 255.4h0M86.3 259.8h0M87.0 262.1h0M88.9 266.2h0M93.5 279.3h0M85.8 246.4h0M89.2 257.7h0M89.7 259.9h0M91.6 264.4h0M92.2 266.2h0M94.9 272.8h0M95.2 274.9h0M96.0 277.5h0M97.2 279.4h0M98.6 283.6h0M99.3 286.1h0M100.3 288.5h0M87.9 244.2h0M90.0 249.0h0M90.4 250.7h0M92.1 255.3h0M95.3 264.1h0M96.0 266.1h0M96.8 268.5h0M97.5 270.9h0M98.0 272.8h0M100.2 277.8h0M103.1 286.4h0M103.8 288.1h0M91.7 244.1h0M93.0 248.9h0M95.0 253.1h0M96.1 257.7h0M98.4 263.8h0M100.9 271.2h0M103.1 275.4h0M103.4 277.4h0M104.4 279.5h0M105.6 284.0h0M108.3 290.2h0M93.5 239.9h0M94.5 242.1h0M96.6 248.8h0M98.3 252.8h0M99.6 257.6h0M100.6 259.8h0M101.4 262.0h0M102.1 264.2h0M103.9 268.4h0M104.6 270.8h0M106.1 275.3h0M107.2 277.3h0M107.7 279.7h0M109.2 283.6h0M110.2 286.1h0M111.1 288.4h0M98.1 241.9h0M98.8 244.0h0M100.5 248.6h0M101.7 253.0h0M102.9 255.3h0M104.5 259.7h0M105.0 262.3h0M106.9 266.3h0M107.8 270.9h0M109.2 272.9h0M109.8 275.1h0M111.5 279.3h0M112.1 281.9h0M114.6 288.3h0M102.9 246.6h0M104.6 250.9h0M108.2 259.8h0M111.2 268.6h0M113.0 272.8h0M113.6 275.1h0M114.1 277.1h0M116.9 283.7h0M118.9 290.4h0M107.7 248.6h0M111.0 257.5h0M111.6 259.8h0M112.5 262.1h0M114.2 266.6h0M118.0 277.4h0M118.7 279.7h0M120.5 284.3h0M108.2 239.6h0M111.3 249.1h0M112.2 251.2h0M113.4 255.4h0M114.1 257.1h0M116.5 264.0h0M119.0 270.6h0M119.8 272.7h0M121.9 277.3h0M122.1 279.3h0M123.7 284.0h0M125.5 288.1h0M111.4 239.9h0M113.2 244.2h0M113.7 246.3h0M116.4 252.8h0M117.1 255.2h0M118.0 257.0h0M119.0 261.9h0M125.0 277.1h0M125.9 279.7h0M126.4 281.7h0M129.2 288.5h0M129.9 290.4h0M115.3 239.6h0M115.9 242.2h0M118.5 249.0h0M119.0 250.8h0M120.1 253.3h0M120.9 255.4h0M123.3 261.8h0M124.0 264.4h0M126.2 270.7h0M127.8 275.4h0M129.5 279.3h0M131.2 284.4h0M131.7 286.1h0M132.6 288.6h0M133.5 290.3h0M118.9 239.7h0M119.8 242.3h0M122.0 248.5h0M123.7 253.2h0M129.2 268.1h0M129.7 270.7h0M131.5 275.0h0M132.7 279.3h0M133.9 281.9h0M135.5 286.3h0M122.8 239.9h0M123.4 242.3h0M127.8 255.1h0M130.5 261.9h0M133.6 270.8h0M134.6 273.0h0M135.2 274.9h0M136.1 277.2h0M137.8 281.9h0M138.3 283.5h0M140.0 288.3h0M140.5 290.4h0M128.6 246.4h0M134.1 261.8h0M135.7 266.5h0M137.5 270.8h0M138.1 272.9h0M142.8 285.7h0M143.5 288.3h0M144.1 290.7h0M130.6 241.9h0M131.4 244.1h0M133.6 250.7h0M136.0 257.4h0M137.5 261.8h0M140.8 270.4h0M142.5 275.1h0M147.7 290.0h0M135.3 246.7h0M136.2 248.8h0M138.9 255.4h0M140.6 259.5h0M142.3 264.1h0M145.2 272.9h0M145.7 275.1h0M146.9 277.3h0M151.4 290.6h0M136.8 239.8h0M138.1 242.4h0M138.8 246.5h0M142.8 255.4h0M146.2 266.1h0M147.0 268.4h0M148.8 272.9h0M151.8 281.7h0M152.6 283.7h0M153.4 286.2h0M153.7 288.1h0M155.4 290.4h0M140.0 239.7h0M142.7 246.4h0M143.4 248.7h0M144.2 251.1h0M145.0 252.9h0M145.8 255.3h0M147.4 259.8h0M148.0 262.0h0M154.9 279.7h0M145.2 244.1h0M147.9 250.9h0M151.2 259.5h0M153.5 266.6h0M154.6 268.9h0M155.0 270.6h0M148.6 242.2h0M149.9 246.8h0M150.8 248.5h0M151.8 251.1h0M152.4 253.2h0M154.1 257.7h0M154.9 259.7h0M34.1 340.2h0M39.0 353.2h0M34.3 328.8h0M39.8 344.2h0M42.1 350.6h0M39.8 335.7h0M40.6 337.7h0M41.7 339.8h0M42.3 342.3h0M43.8 346.7h0M44.7 348.8h0M45.2 350.8h0M33.2 306.6h0M35.7 313.2h0M38.1 320.2h0M39.5 324.5h0M42.2 333.2h0M44.8 339.8h0M47.4 346.2h0M35.9 304.7h0M39.7 315.6h0M42.5 322.4h0M43.2 324.6h0M45.1 331.1h0M48.6 339.7h0M51.3 346.5h0M52.6 350.7h0M54.1 355.2h0M39.9 304.2h0M41.2 309.0h0M43.7 315.6h0M44.1 317.9h0M45.1 320.3h0M45.9 322.4h0M46.6 324.4h0M47.6 326.5h0M49.4 331.0h0M55.3 348.5h0M55.8 350.5h0M43.0 305.0h0M48.9 320.4h0M49.4 322.3h0M50.6 324.6h0M51.2 326.6h0M52.1 328.9h0M54.9 338.0h0M56.5 342.2h0M58.2 346.4h0M46.9 304.7h0M47.2 307.0h0M50.1 313.8h0M50.5 315.6h0M51.4 318.2h0M52.7 322.2h0M53.7 324.7h0M55.0 326.9h0M55.2 329.3h0M58.9 337.9h0M60.5 342.3h0M61.9 346.4h0M62.7 348.7h0M51.2 306.8h0M52.9 311.4h0M54.0 313.6h0M54.4 315.9h0M55.1 317.8h0M59.9 331.1h0M61.4 335.6h0M62.4 337.3h0M64.8 344.4h0M65.5 346.4h0M67.9 353.3h0M53.8 304.6h0M56.4 311.7h0M56.9 313.6h0M58.1 315.7h0M61.2 324.4h0M65.4 335.1h0M69.1 346.7h0M57.7 305.0h0M58.4 307.0h0M59.2 309.6h0M60.0 311.3h0M62.4 317.4h0M63.2 320.0h0M64.6 324.8h0M68.2 333.1h0M69.5 337.6h0M70.9 342.2h0M71.8 344.3h0M73.8 348.5h0M75.1 353.2h0M60.9 304.5h0M62.1 306.8h0M62.8 309.3h0M63.9 311.2h0M65.1 315.3h0M69.1 326.7h0M72.5 335.5h0M73.2 338.0h0M74.3 342.3h0M78.0 350.8h0M79.3 354.8h0M67.2 311.2h0M68.7 315.6h0M69.4 317.6h0M76.9 337.6h0M77.6 340.1h0M78.4 342.4h0M79.7 346.4h0M80.5 348.5h0M70.2 309.1h0M70.6 311.6h0M71.8 313.1h0M74.0 320.3h0M76.4 326.6h0M78.0 331.3h0M78.5 333.1h0M81.6 341.9h0M86.1 353.2h0M73.8 309.1h0M74.6 311.1h0M76.8 317.8h0M78.3 322.5h0M79.1 324.5h0M82.0 333.3h0M84.1 337.5h0M85.5 342.3h0M86.4 344.6h0M87.0 346.5h0M75.4 304.5h0M78.2 311.3h0M78.6 313.5h0M79.6 315.6h0M81.9 322.3h0M83.7 326.8h0M84.4 328.7h0M85.7 333.4h0M86.8 335.4h0M88.3 339.7h0M89.4 342.3h0M89.6 344.4h0M90.6 346.7h0M91.8 348.7h0M80.4 306.8h0M80.6 308.7h0M81.4 311.4h0M83.9 317.4h0M84.9 320.0h0M85.3 322.7h0M88.4 328.8h0M90.1 335.4h0M91.1 337.7h0M94.2 346.8h0M94.9 348.8h0M97.2 354.8h0M83.7 307.0h0M84.0 308.8h0M89.1 322.0h0M90.4 326.6h0M91.7 329.0h0M93.7 335.4h0M94.7 337.4h0M95.9 339.9h0M96.5 341.9h0M99.4 351.2h0M100.2 353.1h0M88.0 309.2h0M88.6 310.8h0M92.1 320.1h0M92.7 322.1h0M98.3 337.8h0M100.9 344.2h0M102.4 348.5h0M103.9 353.1h0M104.9 355.1h0M92.2 311.3h0M93.9 315.6h0M96.4 322.2h0M97.8 326.4h0M98.7 328.6h0M103.0 339.5h0M103.6 342.1h0M104.1 344.2h0M106.7 351.1h0M107.4 353.2h0M94.2 304.6h0M95.1 308.9h0M97.1 313.6h0M97.8 315.7h0M101.1 326.9h0M102.3 329.0h0M103.2 331.2h0M103.8 333.1h0M105.6 337.5h0M105.9 340.0h0M108.7 346.3h0M109.3 348.9h0M111.8 354.9h0M99.4 310.9h0M100.0 313.3h0M102.0 318.1h0M102.8 319.5h0M105.2 326.8h0M106.1 328.7h0M111.0 342.2h0M111.4 344.4h0M113.5 350.5h0M114.2 353.2h0M100.9 304.6h0M101.6 307.0h0M105.5 317.8h0M106.4 319.8h0M108.1 324.3h0M108.7 326.5h0M110.2 331.1h0M113.8 342.0h0M116.7 348.9h0M117.6 351.0h0M118.2 353.1h0M105.2 307.3h0M106.0 309.0h0M109.0 317.8h0M109.8 319.9h0M113.1 328.7h0M115.3 335.5h0M116.4 337.8h0M117.1 340.1h0M117.7 342.1h0M118.7 344.6h0M119.4 346.7h0M121.1 351.2h0M109.7 309.2h0M110.3 311.2h0M112.0 315.8h0M113.5 320.0h0M115.5 324.5h0M115.7 327.0h0M118.3 333.4h0M122.5 344.4h0M122.8 346.5h0M123.7 348.4h0M125.2 353.4h0M111.5 304.8h0M113.1 309.0h0M114.1 311.0h0M115.6 315.3h0M118.9 324.0h0M120.9 329.1h0M122.0 333.0h0M123.5 337.8h0M125.1 341.9h0M125.8 344.4h0M126.6 346.5h0M128.3 351.1h0M128.8 353.3h0M116.9 308.9h0M117.5 311.1h0M118.5 313.1h0M123.2 326.7h0M124.1 328.9h0M127.1 337.6h0M128.6 342.7h0M130.8 348.9h0M131.8 350.8h0M132.6 353.1h0M120.4 309.4h0M123.3 317.6h0M127.4 328.8h0M128.1 330.7h0M129.2 333.7h0M131.6 339.8h0M133.1 344.2h0M133.9 346.5h0M134.8 348.4h0M136.3 353.4h0M123.4 306.8h0M127.0 317.9h0M129.7 324.4h0M134.5 337.4h0M138.1 348.3h0M139.3 351.0h0M126.2 304.5h0M127.0 306.9h0M129.4 313.5h0M130.4 317.7h0M131.5 319.8h0M132.4 322.5h0M132.9 324.7h0M134.7 328.9h0M135.8 331.4h0M136.2 333.5h0M138.5 339.9h0M140.1 344.4h0M140.9 346.7h0M141.9 348.9h0M142.6 350.6h0M130.2 306.8h0M131.0 309.4h0M136.8 324.4h0M137.4 327.0h0M139.1 330.7h0M145.3 348.5h0M146.5 351.3h0M133.1 304.6h0M139.1 320.1h0M139.5 322.1h0M142.2 328.6h0M144.4 335.2h0M147.2 342.1h0M149.3 348.9h0M150.1 350.9h0M151.7 355.1h0M136.7 304.5h0M143.8 325.2h0M147.3 333.0h0M148.7 337.8h0M151.7 346.5h0M153.4 350.5h0M140.5 304.5h0M141.0 306.8h0M142.1 309.1h0M143.5 313.7h0M145.9 320.1h0M147.4 324.6h0M149.1 328.8h0M151.3 335.6h0M154.6 344.4h0M156.3 348.6h0M157.3 350.7h0M157.8 353.0h0M145.2 307.1h0M145.6 309.0h0M148.8 317.9h0M149.5 320.2h0M150.4 322.5h0M150.9 324.5h0M152.8 329.1h0M154.2 333.3h0M156.3 337.7h0M157.6 342.1h0M160.7 351.0h0M150.1 311.2h0M155.0 324.6h0M157.8 333.5h0M159.5 337.7h0M161.3 341.6h0M152.0 307.0h0M153.1 311.1h0M154.2 313.3h0M155.8 318.1h0M156.5 319.8h0M157.6 322.1h0M154.6 304.6h0M156.4 308.9h0M158.4 304.4h0M160.2 309.3h0"/>
<path stroke="#4c8a45" stroke-width="2.2" stroke-linecap="round" fill="none" d="M34.8 269.5h0M38.3 280.6h0M36.4 254.1h0M47.1 274.1h0M53.1 280.7h0M52.8 260.9h0M61.4 283.2h0M55.8 258.5h0M55.6 247.6h0M69.0 284.8h0M66.3 267.5h0M65.4 254.2h0M67.0 258.8h0M73.7 278.5h0M76.0 274.1h0M67.9 241.4h0M73.2 256.3h0M83.5 285.3h0M77.3 247.7h0M77.7 249.4h0M81.3 258.5h0M90.9 285.0h0M91.0 287.3h0M84.0 247.7h0M92.9 271.8h0M90.2 254.4h0M101.9 276.5h0M93.6 242.9h0M96.4 252.0h0M101.4 264.9h0M96.9 243.1h0M113.4 278.7h0M116.7 287.2h0M104.2 243.0h0M109.8 259.1h0M124.0 287.3h0M109.8 239.0h0M121.9 272.0h0M125.5 282.9h0M116.8 247.5h0M129.5 282.9h0M122.8 253.8h0M124.6 249.8h0M134.7 267.5h0M147.5 282.8h0M148.1 285.3h0M149.0 287.4h0M150.1 280.9h0M151.0 282.9h0M151.9 285.0h0M152.5 287.2h0M153.5 289.3h0M148.8 265.5h0M150.6 271.7h0M151.6 274.2h0M154.5 282.6h0M155.2 284.9h0M143.1 241.0h0M144.0 243.0h0M146.4 250.0h0M149.4 258.4h0M150.3 261.1h0M151.1 263.1h0M152.0 265.1h0M153.1 267.5h0M153.8 269.5h0M154.4 272.0h0M155.7 276.5h0M145.9 238.9h0M150.3 251.8h0M152.0 256.3h0M154.4 263.4h0M155.4 265.0h0M150.3 241.3h0M151.3 243.1h0M152.0 245.5h0M154.5 252.1h0M153.4 238.9h0M35.7 347.5h0M44.3 352.2h0M47.8 351.8h0M48.4 342.8h0M38.0 303.8h0M43.1 307.8h0M59.3 352.3h0M45.9 306.2h0M51.7 320.9h0M55.9 331.9h0M57.9 327.6h0M65.1 338.6h0M62.6 312.4h0M74.7 345.6h0M73.3 332.1h0M80.4 351.9h0M74.9 325.2h0M81.1 343.4h0M82.1 336.4h0M86.8 339.0h0M84.5 323.1h0M88.2 323.5h0M89.1 325.6h0M92.3 334.3h0M109.3 351.9h0M106.1 332.1h0M110.3 334.6h0M106.2 312.5h0M117.0 343.2h0M108.0 308.2h0M112.2 319.2h0M113.6 323.6h0M112.9 312.2h0M115.0 316.7h0M117.2 322.9h0M118.1 326.0h0M124.7 334.2h0M125.4 336.9h0M132.0 354.1h0M132.2 345.2h0M121.1 303.6h0M125.0 314.2h0M126.4 319.3h0M133.0 336.3h0M134.6 332.1h0M140.6 350.0h0M130.5 310.3h0M138.5 331.9h0M141.0 338.8h0M142.7 345.2h0M147.5 347.3h0M148.2 349.4h0M149.9 354.3h0M150.3 345.6h0M151.9 349.8h0M146.7 325.4h0M149.3 332.2h0M149.4 334.0h0M151.7 338.7h0M152.8 343.8h0M154.6 347.6h0M156.2 351.9h0M148.7 321.2h0M149.9 323.2h0M148.0 308.1h0M148.5 309.9h0M156.4 332.0h0M157.0 334.4h0M158.9 338.9h0M159.9 343.1h0M151.1 308.1h0M154.5 316.7h0M156.0 321.0h0M157.4 325.5h0M160.1 332.4h0M161.0 334.2h0M156.6 312.3h0M159.5 321.2h0M156.9 303.7h0M157.2 305.7h0M557.7 248.8h0M556.8 266.9h0M551.1 243.5h0M527.1 260.3h0M538.2 283.1h0M524.0 277.2h0M506.9 274.6h0M533.7 280.3h0M527.4 246.0h0M550.5 274.5h0M519.1 266.2h0M529.9 249.3h0M513.1 284.4h0M553.5 288.2h0M521.7 241.0h0M527.5 250.9h0M535.2 280.1h0M542.8 249.3h0M507.6 263.3h0M515.6 283.0h0M504.8 275.8h0M530.1 256.9h0M521.2 258.8h0M514.4 240.5h0M507.1 280.2h0M511.2 250.4h0M533.4 287.1h0M505.2 257.1h0M547.3 251.2h0M515.8 275.0h0M514.3 243.2h0M534.7 256.7h0M533.8 239.5h0M534.9 279.4h0M553.2 260.0h0M536.9 285.3h0M516.1 255.5h0M536.2 290.7h0M553.8 290.5h0M540.2 262.9h0M537.4 242.9h0M524.9 276.7h0M542.9 283.0h0M556.3 282.1h0M537.1 277.6h0M509.1 252.9h0M523.6 270.9h0M544.9 261.3h0M527.7 255.2h0M554.4 264.1h0M551.3 271.6h0M525.4 241.5h0M502.3 275.8h0M551.9 284.5h0M511.1 283.6h0M517.1 252.9h0M530.6 241.6h0M513.3 273.3h0M549.2 278.9h0M546.1 262.0h0M512.9 260.3h0M530.3 257.7h0M540.3 240.3h0M530.4 280.1h0M522.5 242.8h0M522.1 266.3h0M541.6 256.1h0M549.4 288.0h0M552.2 262.2h0M512.3 239.1h0M501.2 290.3h0M517.3 248.7h0M554.5 278.3h0M530.2 269.1h0M556.4 264.3h0M504.4 276.1h0M534.4 248.1h0M542.6 264.2h0M507.1 261.2h0M527.7 274.6h0M546.0 252.7h0M544.5 259.3h0M541.5 271.7h0M543.5 255.7h0M506.6 245.6h0M513.0 258.0h0M556.4 277.0h0M544.3 252.4h0M535.6 256.7h0M547.7 244.8h0M512.9 241.8h0M521.3 271.5h0M546.8 278.4h0M503.6 278.4h0M543.5 278.8h0M519.5 284.6h0M510.8 266.5h0M521.5 277.2h0M522.4 252.8h0M515.5 278.8h0M525.3 247.2h0M532.4 282.3h0M523.2 285.7h0M553.8 278.8h0M543.0 283.8h0M526.4 255.9h0M548.1 246.3h0M537.9 242.4h0M534.1 288.9h0M554.3 264.5h0M503.2 265.9h0M528.0 258.5h0M554.6 272.8h0M516.6 280.5h0M535.5 243.9h0M533.3 241.2h0M523.5 289.2h0M507.5 280.2h0M535.5 254.5h0M518.0 258.9h0M510.7 263.7h0M514.9 239.2h0M528.9 288.0h0M516.2 279.5h0M509.7 287.2h0M526.4 245.0h0M548.9 253.8h0M534.2 276.3h0M535.0 265.6h0M514.6 280.7h0M517.7 280.5h0M520.7 244.8h0M510.7 244.5h0M548.6 281.1h0M549.7 285.2h0M510.7 259.5h0M536.6 275.0h0M544.0 271.9h0M506.2 282.5h0M540.1 289.9h0M524.2 269.1h0M520.9 287.9h0M539.4 285.0h0M534.5 250.0h0M502.4 284.5h0M554.1 273.3h0M553.0 277.4h0M535.3 262.8h0M517.0 246.4h0M554.5 250.3h0M526.7 286.3h0M516.2 265.6h0M517.3 247.8h0M551.9 240.2h0M542.7 259.5h0M536.4 268.6h0M527.9 251.8h0M521.0 343.3h0M511.4 306.3h0M527.0 334.1h0M537.2 332.1h0M526.4 351.6h0M554.5 305.7h0M547.2 334.1h0M553.5 321.4h0M519.0 317.7h0M557.9 315.7h0M522.0 319.6h0M532.0 322.0h0M536.0 354.2h0M535.3 348.2h0M514.4 314.7h0M552.3 318.7h0M544.0 323.9h0M532.6 346.6h0M510.7 313.0h0M521.7 340.2h0M537.3 318.2h0M553.0 307.3h0M558.3 316.2h0M538.3 349.3h0M559.7 331.0h0M560.2 309.7h0M511.5 342.6h0M527.7 348.4h0M513.2 317.7h0M522.0 330.6h0M503.0 338.0h0M517.7 310.9h0M512.1 326.9h0M547.5 328.0h0M549.5 304.4h0M509.5 337.7h0M543.5 345.7h0M514.1 348.0h0M517.2 332.9h0M523.8 312.4h0M539.9 329.2h0M561.2 346.4h0M513.6 310.6h0M534.9 342.7h0M559.7 347.5h0M550.3 317.4h0M555.9 331.6h0M544.8 335.1h0M555.2 353.8h0M510.9 306.3h0M547.6 334.0h0M524.8 353.4h0M524.1 354.9h0M560.1 304.3h0M550.0 314.3h0M518.5 344.4h0M530.4 345.1h0M505.2 316.6h0M529.8 329.2h0M533.8 344.0h0M526.9 322.1h0M519.4 307.2h0M535.7 306.7h0M528.4 325.7h0M540.7 354.7h0M506.9 308.2h0M555.2 317.9h0M517.4 310.7h0M551.9 324.8h0M532.2 346.6h0M533.6 350.2h0M559.0 328.9h0M517.9 334.8h0M551.7 318.2h0M527.7 333.2h0M528.6 336.9h0M534.3 310.3h0M511.3 344.3h0M540.9 316.2h0M510.0 339.9h0M537.6 347.6h0M550.2 333.2h0M529.5 350.4h0M535.1 317.3h0M506.1 342.6h0M557.2 315.6h0M549.1 346.4h0M521.1 314.7h0M546.2 327.3h0M511.8 306.0h0M534.7 354.1h0M517.0 350.1h0M505.9 349.8h0M521.5 338.1h0M523.1 348.8h0M556.7 311.6h0M553.0 310.6h0M518.0 342.1h0M532.1 336.8h0M532.7 333.2h0M515.7 321.6h0M515.7 352.8h0M557.7 343.1h0M523.0 347.0h0M549.7 339.5h0M549.2 353.2h0M534.6 346.9h0M560.1 346.0h0M531.6 312.6h0M512.4 334.9h0M536.6 350.4h0M522.2 321.6h0M528.6 314.4h0M524.3 346.2h0M547.7 331.5h0M517.2 327.8h0M511.0 333.0h0M535.4 319.8h0M554.7 339.0h0M527.7 319.9h0M528.6 349.5h0M513.7 306.0h0M538.3 323.5h0M535.8 326.0h0M513.1 338.3h0M507.3 305.9h0M534.4 331.3h0M558.4 344.7h0M511.1 320.5h0M530.4 307.1h0M536.0 326.3h0M505.2 354.5h0M541.5 347.2h0M512.4 339.8h0M557.9 326.0h0M540.1 329.7h0M546.5 350.0h0M514.4 346.5h0M507.0 323.4h0M542.3 332.8h0M546.1 348.8h0M506.6 346.4h0M503.8 329.5h0M508.0 335.2h0M538.8 306.4h0M540.0 328.4h0M554.9 354.5h0M552.0 350.1h0M550.9 315.8h0M554.9 324.8h0M523.9 320.0h0M542.2 329.8h0M559.8 329.0h0M547.6 320.4h0M520.1 345.7h0M515.3 354.1h0M542.8 337.0h0M532.9 304.5h0M555.5 351.8h0M513.2 315.8h0M541.9 349.4h0M541.1 327.1h0M541.0 312.1h0M512.0 330.4h0M505.7 334.2h0M555.1 331.2h0M528.9 316.2h0M535.7 352.3h0M512.6 318.6h0M508.8 339.6h0"/>
<path stroke="#6c9c63" stroke-width="2.2" stroke-linecap="round" fill="none" d="M530.2 248.2h0M538.4 250.3h0M524.0 241.4h0M548.2 272.9h0M523.4 256.9h0M550.0 243.8h0M551.5 257.1h0M516.4 243.9h0M536.9 255.9h0M552.9 283.7h0M537.2 276.9h0M552.8 267.5h0M555.0 255.0h0M544.0 249.3h0M538.9 282.7h0M554.3 255.5h0M517.9 274.2h0M525.6 283.2h0M545.2 280.7h0M510.8 287.0h0M505.1 249.8h0M513.2 254.0h0M525.1 269.7h0M547.6 278.9h0M522.1 280.6h0M505.9 275.3h0M511.7 258.7h0M551.5 244.4h0M507.5 288.5h0M555.0 240.6h0M523.9 260.7h0M518.8 248.7h0M541.2 254.6h0M541.8 290.7h0M517.2 248.9h0M554.7 268.4h0M535.2 257.8h0M521.1 259.0h0M503.8 283.9h0M545.9 240.6h0M536.2 270.3h0M525.4 275.7h0M528.7 244.5h0M537.4 285.4h0M505.6 289.3h0M514.6 273.4h0M552.0 278.6h0M539.6 250.8h0M531.7 244.5h0M549.2 244.0h0M516.2 270.3h0M529.6 245.8h0M545.7 275.5h0M538.5 264.4h0M553.8 249.2h0M531.9 259.0h0M518.6 287.9h0M554.7 265.6h0M543.4 266.9h0M530.4 277.2h0M507.2 286.7h0M524.5 249.9h0M535.9 254.4h0M556.9 290.5h0M542.5 278.1h0M544.7 258.9h0M538.6 267.4h0M511.1 288.3h0M500.6 255.6h0M513.5 276.5h0M524.3 279.6h0M530.1 241.0h0M550.7 285.2h0M538.4 269.3h0M543.7 273.9h0M508.5 249.5h0M544.0 259.1h0M539.6 250.3h0M540.9 252.7h0M515.0 266.5h0M525.8 260.4h0M529.8 280.1h0M537.4 274.1h0M543.6 284.6h0M541.0 273.9h0M521.6 253.2h0M536.3 253.2h0M548.9 280.6h0M545.4 278.9h0M550.5 246.3h0M542.2 253.4h0M534.1 278.8h0M532.8 251.2h0M545.6 343.2h0M534.9 318.9h0M557.1 354.0h0M546.0 334.6h0M505.7 339.9h0M516.3 324.3h0M532.8 334.7h0M547.2 305.0h0M531.0 308.9h0M539.3 346.9h0M520.1 306.5h0M537.4 305.0h0M504.4 337.8h0M514.7 330.6h0M552.9 352.1h0M527.2 322.8h0M537.9 327.8h0M530.3 348.6h0M514.8 335.6h0M506.4 343.6h0M521.3 352.0h0M522.8 337.6h0M527.6 319.6h0M536.8 339.2h0M539.7 315.8h0M532.4 305.3h0M527.9 342.9h0M524.2 350.5h0M529.1 346.0h0M536.7 331.6h0M509.2 317.6h0M519.7 336.4h0M511.8 318.6h0M527.7 330.7h0M551.1 324.4h0M544.5 344.5h0M536.3 350.7h0M554.0 304.2h0M506.4 343.2h0M551.0 326.5h0M533.1 339.0h0M546.7 333.3h0M519.3 336.4h0M556.3 310.1h0M510.1 338.5h0M546.3 306.2h0M545.5 337.3h0M508.7 310.5h0M556.3 326.3h0M504.8 311.4h0M521.5 306.0h0M513.8 346.5h0M511.4 335.1h0M537.5 335.8h0M539.9 305.2h0M543.5 324.7h0M546.3 347.3h0M543.8 345.5h0M538.3 353.3h0M557.7 328.5h0M541.4 307.3h0M522.9 306.2h0M507.4 310.5h0M522.6 341.5h0M523.6 312.6h0M557.0 308.6h0M525.3 350.7h0M513.5 349.3h0M524.0 335.3h0M533.6 335.2h0M552.9 322.0h0M521.2 325.2h0M542.5 334.6h0M528.3 319.6h0M528.3 314.4h0M543.9 324.2h0M530.7 341.0h0M505.7 354.3h0M541.4 325.4h0M538.3 318.5h0M550.8 311.1h0M526.7 342.7h0"/>
<path stroke="#f4a3b6" stroke-width="2.5" stroke-linecap="round" fill="none" d="M33.8 287.0h0M34.9 280.7h0M35.9 282.7h0M41.5 289.1h0M33.6 256.2h0M35.1 260.4h0M36.5 265.4h0M42.7 282.7h0M44.6 287.7h0M35.7 252.0h0M37.7 258.8h0M40.3 265.1h0M42.0 269.9h0M44.0 273.7h0M35.6 243.6h0M38.6 249.6h0M46.3 271.9h0M48.8 278.5h0M37.9 239.1h0M40.0 245.5h0M41.3 247.7h0M41.8 249.6h0M43.1 252.1h0M45.4 258.7h0M45.9 260.6h0M50.1 271.8h0M43.8 245.4h0M44.6 247.6h0M48.7 258.6h0M51.6 264.7h0M52.5 247.6h0M61.7 274.1h0M62.1 275.9h0M72.8 285.0h0M73.4 287.0h0M62.6 247.7h0M65.8 256.5h0M72.5 276.0h0M64.0 240.8h0M67.3 250.0h0M70.4 247.5h0M70.6 249.7h0M84.7 289.2h0M85.5 280.9h0M95.9 289.0h0M82.6 243.2h0M92.0 258.5h0M97.2 274.1h0M94.1 254.1h0M108.5 284.8h0M99.9 249.6h0M105.1 265.4h0M111.3 282.6h0M104.8 254.0h0M108.2 263.1h0M115.6 285.1h0M104.8 245.2h0M107.3 252.4h0M111.3 263.0h0M107.3 240.9h0M107.8 243.3h0M115.8 256.2h0M124.0 269.6h0M125.5 241.3h0M130.1 254.4h0M140.1 282.5h0M132.7 252.1h0M143.9 274.3h0M145.4 276.2h0M139.0 249.8h0M146.9 252.0h0M34.5 354.0h0M33.3 340.8h0M36.9 349.7h0M34.8 334.2h0M35.7 336.6h0M36.5 339.2h0M38.0 343.2h0M40.1 349.9h0M35.9 327.8h0M36.7 330.4h0M38.9 336.7h0M43.1 347.5h0M43.9 350.0h0M38.8 325.2h0M42.9 336.7h0M45.3 343.2h0M35.4 305.6h0M37.0 310.2h0M37.4 312.1h0M39.6 316.5h0M39.8 319.4h0M46.1 336.5h0M49.6 345.3h0M41.2 312.7h0M44.7 312.4h0M45.8 314.6h0M57.9 347.7h0M49.4 305.9h0M50.4 307.9h0M63.6 345.5h0M57.9 318.6h0M68.3 347.7h0M64.6 307.6h0M65.9 310.1h0M69.4 321.0h0M75.7 327.9h0M87.1 349.9h0M77.0 312.2h0M77.7 314.6h0M80.7 321.0h0M80.5 312.2h0M97.8 330.0h0M100.9 338.4h0M109.4 341.1h0M102.3 311.9h0M116.8 351.7h0M115.7 338.5h0M116.1 341.2h0M117.9 345.4h0M110.3 314.6h0M114.5 325.4h0M118.5 327.7h0M120.4 332.2h0M126.8 349.9h0M122.8 329.9h0M123.9 332.3h0M118.8 308.2h0M121.4 314.6h0M131.4 343.3h0M122.6 308.0h0M132.4 325.7h0M136.4 336.4h0M136.9 328.2h0M144.6 330.3h0M143.3 305.9h0M152.6 332.3h0M153.3 334.3h0M156.2 343.4h0M158.4 327.7h0M158.9 319.3h0"/>
<path stroke="#4c8a45" stroke-width="1.6" stroke-linecap="round" fill="none" d="M160.8 325.9h0M167.9 342.3h0M163.8 352.4h0M164.1 343.8h0M167.5 335.2h0M158.2 318.9h0M166.9 350.1h0M163.8 318.2h0M161.0 344.3h0M163.7 314.2h0M172.2 334.7h0M167.9 350.5h0M161.5 304.4h0M161.0 307.0h0M166.3 346.9h0M173.8 353.9h0M165.2 332.7h0M163.0 310.7h0M161.7 348.1h0M162.9 325.4h0M169.9 324.0h0M168.7 335.6h0M163.6 323.4h0M171.6 316.6h0M160.9 313.6h0M169.8 336.6h0M170.7 329.3h0M171.4 313.4h0M171.6 308.2h0M160.2 353.5h0M559.0 327.7h0M560.2 314.1h0M568.1 331.4h0M568.3 339.4h0M566.0 345.8h0M560.6 311.6h0M560.7 349.3h0M561.0 351.4h0M564.8 305.8h0M567.1 340.9h0M563.3 323.6h0M566.1 348.0h0M559.2 319.2h0M567.0 305.3h0M560.9 312.3h0M563.9 330.3h0M568.7 310.9h0M570.9 304.3h0"/>
<path stroke="#f4a3b6" stroke-width="2.1" stroke-linecap="round" fill="none" d="M552.7 272.5h0M517.3 262.5h0M503.8 266.9h0M504.0 252.2h0M553.0 265.6h0M503.0 267.8h0M521.4 278.0h0M545.3 248.7h0M528.4 286.2h0M517.4 255.4h0M514.7 280.9h0M537.2 253.1h0M531.2 246.3h0M505.3 261.2h0M544.1 273.9h0M557.2 280.2h0M511.2 252.9h0M534.8 280.6h0M515.0 258.5h0M535.0 271.0h0M521.9 240.8h0M539.9 260.8h0M536.5 275.8h0M535.7 245.1h0M523.3 288.5h0M544.8 239.4h0M556.8 288.1h0M509.4 273.2h0M532.8 290.3h0M537.1 287.1h0M520.0 253.9h0M537.5 289.9h0M533.6 254.2h0M532.8 256.6h0M524.3 263.3h0M533.9 282.7h0M540.9 265.5h0M551.2 246.0h0M519.8 275.0h0M554.7 289.2h0M504.1 246.6h0M517.2 239.2h0M538.8 286.0h0M547.3 239.9h0M527.1 273.9h0M539.8 280.7h0M525.1 288.7h0M519.5 263.8h0M515.1 252.0h0M507.3 260.6h0M521.6 267.9h0M520.3 272.9h0M502.4 345.6h0M509.2 327.5h0M524.2 304.1h0M531.2 340.2h0M545.6 314.1h0M516.0 327.6h0M513.6 306.0h0M516.7 343.5h0M541.4 314.7h0M516.2 312.0h0M544.6 352.1h0M538.8 323.9h0M526.2 305.3h0M537.9 331.5h0M549.2 336.5h0M554.2 312.2h0M546.7 324.7h0M534.8 310.7h0M516.0 310.4h0M532.7 332.0h0M519.0 352.2h0M533.9 322.4h0M504.4 353.9h0M539.0 335.9h0M515.8 343.8h0M535.4 322.2h0M528.2 311.5h0M527.1 317.3h0M552.9 327.9h0M556.6 352.0h0M560.1 310.9h0M529.6 343.6h0M523.2 307.9h0M550.5 309.8h0M507.3 322.6h0M539.2 309.2h0M544.3 305.1h0M516.4 317.4h0M530.0 348.9h0M543.4 346.0h0"/>
<path stroke="#a692d0" stroke-width="2.3" stroke-linecap="round" fill="none" d="M547.1 246.7h0M543.2 256.3h0M537.6 279.5h0M523.2 287.7h0M505.5 249.6h0M554.7 253.4h0M548.8 287.0h0M533.5 267.6h0M512.1 266.0h0M535.0 274.8h0M522.4 250.0h0M549.0 243.1h0M554.0 262.1h0M543.5 272.5h0M533.2 276.7h0M549.0 243.1h0M541.0 282.1h0M526.5 263.7h0M545.0 264.0h0M509.0 274.0h0M527.4 276.0h0M509.5 273.6h0M553.5 278.9h0M507.2 279.1h0M556.9 275.7h0M522.6 274.1h0M545.9 278.5h0M518.5 279.6h0M555.8 254.2h0M540.8 287.8h0M546.3 242.4h0M521.8 268.9h0M534.0 276.4h0M527.6 283.2h0M521.8 270.6h0M508.0 251.7h0M550.5 250.7h0M515.7 241.9h0M548.5 280.9h0M507.0 290.1h0M508.6 282.6h0M516.9 243.5h0M507.1 244.8h0M548.2 246.2h0M530.7 240.7h0M528.2 272.8h0M524.2 269.3h0M525.1 272.6h0M557.4 263.1h0M533.0 266.3h0M542.8 255.9h0M525.8 270.3h0M528.1 248.5h0M511.3 249.4h0M527.5 285.8h0M533.7 272.0h0M522.8 283.4h0M525.1 267.8h0M514.9 241.8h0M511.7 261.4h0M518.2 239.5h0M556.8 239.6h0M552.0 273.7h0M543.6 282.0h0M556.7 272.2h0M539.9 247.7h0M550.4 252.7h0M551.3 245.7h0M525.8 277.7h0M503.3 259.4h0M522.2 270.6h0M528.6 248.1h0M542.5 288.7h0M551.7 251.7h0M542.5 256.7h0M513.6 268.7h0M544.1 289.2h0M527.5 242.9h0M526.6 245.1h0M513.5 285.8h0M544.2 270.5h0M556.5 247.3h0M517.5 239.8h0M535.2 243.4h0M530.3 285.2h0M522.1 283.5h0M533.9 286.8h0M518.0 267.6h0M541.1 288.4h0M521.3 241.9h0M513.2 257.2h0M543.7 280.1h0M526.9 264.3h0M534.6 256.5h0M504.7 284.3h0M552.3 289.7h0M547.8 253.7h0M509.9 283.6h0M508.3 241.2h0M524.4 263.1h0M547.7 244.8h0M549.0 252.1h0M505.6 282.5h0M551.8 266.6h0M545.0 277.5h0M550.0 264.0h0M548.4 247.7h0M544.6 275.0h0M547.5 257.4h0M540.6 249.9h0M504.8 251.9h0M506.2 245.9h0M546.9 240.9h0M533.1 257.1h0M536.1 249.0h0M522.0 283.9h0M527.1 259.8h0M545.0 262.2h0M543.4 287.6h0M556.9 252.0h0M554.0 253.8h0M524.1 286.3h0M511.7 277.9h0M527.7 288.6h0M535.0 286.0h0M552.8 275.3h0M527.1 262.4h0M553.2 271.7h0M525.6 283.7h0M555.1 250.7h0M527.6 282.4h0M511.7 248.2h0M531.3 247.4h0M554.6 282.1h0M560.3 346.3h0M542.1 327.7h0M520.6 348.6h0M507.9 341.4h0M549.7 338.5h0M518.0 349.2h0M509.2 345.4h0M551.7 322.0h0M515.4 335.6h0M525.0 325.3h0M533.6 313.4h0M534.4 343.6h0M553.0 315.9h0M543.6 319.0h0M519.1 314.0h0M519.4 336.3h0M533.3 339.6h0M555.8 329.9h0M517.4 308.1h0M526.2 310.5h0M512.6 342.1h0M556.1 316.0h0M549.2 325.5h0M524.0 321.2h0M511.7 352.7h0M561.5 351.0h0M554.6 315.4h0M554.6 350.4h0M551.6 331.9h0M548.0 335.2h0M515.4 312.7h0M532.9 340.5h0M528.3 318.2h0M554.1 316.5h0M504.0 346.9h0M530.1 326.6h0M510.9 315.0h0M503.4 325.0h0M524.2 313.4h0M515.1 338.8h0M537.7 321.2h0M515.6 353.4h0M536.4 348.7h0M551.8 329.8h0M529.9 347.2h0M538.1 312.8h0M554.2 308.1h0M505.9 309.8h0M557.2 321.1h0M529.4 305.0h0M513.0 338.5h0M553.7 341.1h0M520.1 342.4h0M526.7 333.4h0M507.7 352.8h0M550.6 323.3h0M554.3 342.9h0M536.6 346.9h0M552.9 350.8h0M547.1 354.3h0M529.1 307.4h0M524.9 341.0h0M519.7 324.8h0M511.6 331.3h0M536.7 323.9h0M504.0 318.8h0M516.0 329.7h0M547.9 335.6h0M519.3 312.3h0M518.7 334.7h0M536.6 353.8h0M540.1 313.7h0M541.1 313.1h0M549.0 313.8h0M557.1 337.2h0M525.6 330.0h0M522.9 331.0h0M519.3 331.6h0M515.8 320.6h0M526.6 348.0h0M550.0 353.7h0M549.6 317.9h0M526.9 340.6h0M551.7 326.8h0M556.5 347.7h0M544.8 347.7h0M505.1 320.2h0M554.6 319.4h0M503.2 341.2h0M544.5 322.8h0M539.1 322.1h0M541.1 343.3h0M532.1 311.3h0M509.0 339.0h0M544.2 347.5h0M509.4 353.6h0M524.0 316.8h0M517.9 330.8h0M525.4 351.5h0M531.8 327.9h0M537.1 351.2h0M550.6 341.5h0M546.7 312.4h0M541.2 309.4h0M505.1 312.6h0M557.5 326.6h0M522.2 308.7h0M552.4 316.0h0M518.2 326.1h0M532.0 325.9h0M521.0 323.8h0M512.9 331.8h0M545.5 346.0h0M543.0 314.5h0M535.2 337.4h0M526.6 305.9h0M539.2 325.2h0M544.9 318.3h0M543.7 315.7h0M535.2 324.6h0M543.6 353.8h0M532.4 316.2h0M520.9 323.1h0M545.7 336.1h0M504.0 351.2h0M511.7 340.5h0M520.6 340.9h0M546.1 349.6h0M506.7 320.2h0M553.1 322.8h0M542.6 305.3h0M514.6 312.5h0M539.3 316.0h0M542.7 312.7h0M519.6 351.4h0M518.3 351.9h0M550.0 315.0h0"/>
<path stroke="#4c8a45" stroke-width="2.2" stroke-linecap="round" fill="none" d="M543.2 263.3h0M549.9 270.4h0M547.8 271.3h0M526.0 240.5h0M508.0 247.0h0M524.0 249.2h0M528.7 264.9h0M550.7 243.8h0M526.6 241.6h0M537.0 269.0h0M551.9 249.4h0M549.9 279.8h0M539.2 242.6h0M554.7 247.0h0M517.9 248.3h0M544.0 254.8h0M521.0 279.3h0M554.6 289.6h0M506.0 251.4h0M523.1 282.2h0M534.4 246.0h0M502.3 242.9h0M523.7 272.4h0M545.3 284.6h0M503.1 261.1h0M549.1 252.0h0M539.9 276.5h0M517.5 279.7h0M515.4 286.9h0M546.7 249.5h0M506.4 289.1h0M510.2 248.3h0M503.5 247.8h0M541.3 274.9h0M554.0 256.1h0M557.5 288.7h0M526.7 240.9h0M504.2 272.1h0M542.7 288.3h0M545.6 269.5h0M536.6 269.0h0M555.8 277.1h0M542.8 248.7h0M511.6 243.8h0M550.0 239.3h0M539.7 279.8h0M550.2 256.4h0M507.4 243.8h0M514.3 262.6h0M545.0 276.0h0M542.7 268.0h0M518.8 290.4h0M504.8 263.8h0M507.5 264.4h0M505.8 273.4h0M535.9 269.4h0M556.0 288.1h0M529.0 278.1h0M537.0 273.3h0M513.9 252.8h0M508.7 247.1h0M517.5 250.5h0M530.1 281.0h0M545.3 257.7h0M525.3 283.7h0M525.8 247.7h0M517.5 273.0h0M520.3 269.7h0M539.6 285.1h0M537.3 285.6h0M506.0 260.8h0M555.4 247.6h0M534.0 283.6h0M557.0 288.9h0M502.1 270.2h0M502.8 281.7h0M512.7 262.8h0M521.9 251.3h0M530.9 267.7h0M522.3 241.2h0M508.9 239.9h0M511.3 248.4h0M531.5 257.9h0M513.7 270.0h0M544.4 285.6h0M551.3 280.2h0M502.3 289.6h0M522.1 274.1h0M531.6 268.2h0M532.2 262.9h0M530.3 288.6h0M509.0 248.2h0M520.7 241.9h0M526.4 255.8h0M516.1 265.0h0M523.2 268.1h0M512.0 260.3h0M530.9 274.8h0M515.1 278.8h0M539.9 269.0h0M519.0 244.5h0M503.7 271.8h0M519.2 263.5h0M504.0 247.0h0M514.2 246.3h0M541.6 250.6h0M513.7 279.4h0M505.4 281.7h0M508.9 290.1h0M502.7 248.7h0M519.4 285.1h0M505.1 277.8h0M505.0 265.5h0M554.0 245.4h0M531.9 257.7h0M549.2 252.6h0M550.1 280.8h0M555.2 263.1h0M539.3 240.3h0M537.8 245.2h0M521.8 273.2h0M518.9 278.5h0M524.5 245.7h0M504.7 251.9h0M539.8 246.8h0M512.5 241.6h0M547.9 245.0h0M551.6 270.9h0M546.0 275.8h0M505.3 265.3h0M512.6 265.7h0M548.0 284.0h0M519.8 244.9h0M549.1 248.4h0M523.7 243.4h0M527.3 277.6h0M531.5 270.5h0M550.8 259.3h0M532.2 246.9h0M552.3 264.3h0M530.5 255.6h0M504.4 241.0h0M504.2 304.7h0M522.5 353.9h0M519.4 333.9h0M526.1 331.3h0M511.8 338.1h0M520.2 338.8h0M515.8 311.1h0M518.2 350.0h0M549.0 310.2h0M556.4 305.0h0M505.0 307.3h0M544.3 330.6h0M549.5 316.0h0M518.1 319.7h0M512.5 304.8h0M537.3 306.9h0M521.4 319.3h0M518.3 306.1h0M523.5 324.6h0M550.3 329.7h0M520.3 341.3h0M520.5 320.5h0M523.6 323.5h0M551.5 349.9h0M549.4 325.9h0M508.3 353.4h0M541.9 312.8h0M508.8 353.3h0M540.4 351.9h0M520.2 327.4h0M512.9 335.4h0M508.3 351.9h0M539.5 314.8h0M542.6 315.4h0M528.5 327.3h0M526.3 337.5h0M509.1 352.1h0M506.9 326.2h0M549.9 338.2h0M553.8 317.9h0M561.7 331.8h0M546.0 331.9h0M526.3 344.2h0M542.0 307.3h0M549.4 349.3h0M525.3 354.4h0M513.3 311.7h0M540.6 318.0h0M532.8 323.3h0M552.0 321.1h0M507.1 321.1h0M515.6 342.0h0M505.2 322.2h0M520.3 323.6h0M547.9 328.7h0M555.9 347.4h0M539.5 350.3h0M508.7 334.2h0M530.3 315.5h0M558.1 328.0h0M540.1 306.1h0M554.5 314.8h0M534.4 317.0h0M537.8 326.3h0M547.7 311.2h0M537.0 345.9h0M513.1 314.0h0M532.3 339.8h0M518.8 313.2h0M524.1 330.8h0M521.7 324.3h0M554.5 348.4h0M542.6 326.8h0M555.8 305.4h0M556.1 333.8h0M505.2 318.8h0M523.9 305.9h0M554.4 322.2h0M525.3 342.7h0M519.7 306.5h0M526.7 321.5h0M510.3 335.9h0M555.0 318.9h0M539.6 327.2h0M530.5 335.6h0M503.1 345.4h0M508.5 319.7h0M555.9 349.7h0M560.9 349.4h0M519.7 329.4h0M527.2 343.7h0M544.3 350.6h0M506.0 344.8h0M506.5 340.6h0M514.7 309.6h0M542.1 322.8h0M553.6 332.5h0M558.9 315.9h0M526.0 327.5h0M504.1 345.9h0M530.9 336.7h0M515.9 310.1h0M516.9 336.6h0M538.8 306.7h0M554.8 317.8h0M552.9 317.8h0M543.5 333.1h0M558.1 316.7h0M547.4 342.2h0M515.3 317.6h0M534.0 326.9h0M516.0 346.9h0M540.1 354.5h0M536.0 329.7h0M514.5 336.2h0M511.6 319.7h0M522.5 350.8h0M561.9 330.1h0M540.6 333.5h0M528.3 318.3h0M525.2 321.3h0M548.4 348.1h0M520.2 332.1h0M535.2 325.7h0M549.0 322.3h0M504.6 350.4h0M512.0 333.1h0M549.3 346.6h0M509.3 351.2h0M532.5 312.3h0M526.8 340.7h0M537.0 310.0h0M527.2 313.5h0M540.8 339.7h0M552.9 319.9h0M527.5 334.0h0M527.6 345.6h0M548.9 325.1h0M515.9 323.4h0M517.6 327.1h0M515.5 320.2h0M508.4 314.0h0M548.2 306.5h0M525.3 342.9h0M546.2 328.1h0M538.3 346.3h0M546.1 330.0h0M512.5 348.9h0M539.9 326.3h0M533.7 329.0h0M543.9 325.9h0M511.9 354.1h0M547.4 348.4h0M519.2 305.8h0M516.6 336.8h0M553.7 315.9h0M524.3 314.9h0M509.8 326.6h0M524.2 311.2h0M546.3 308.2h0M551.4 354.4h0M543.9 344.2h0M552.0 329.7h0M560.3 304.9h0"/>
<path stroke="#6c9c63" stroke-width="2.2" stroke-linecap="round" fill="none" d="M535.1 268.8h0M510.5 289.5h0M525.0 251.7h0M552.0 286.0h0M511.3 253.8h0M510.1 289.8h0M510.8 270.7h0M547.6 284.6h0M513.0 288.6h0M544.9 290.0h0M543.1 257.8h0M516.1 257.3h0M527.2 276.3h0M547.2 286.4h0M515.5 286.4h0M533.7 243.8h0M526.6 244.0h0M511.7 259.8h0M543.5 264.0h0M550.8 273.6h0M518.5 254.5h0M523.1 258.1h0M510.1 270.1h0M529.3 270.6h0M542.0 278.1h0M540.0 258.7h0M552.4 283.1h0M531.2 242.9h0M514.6 269.9h0M536.7 244.6h0M537.8 253.2h0M539.8 272.7h0M514.3 256.1h0M513.8 265.8h0M548.3 271.8h0M532.7 282.6h0M531.7 278.7h0M529.3 285.6h0M514.8 241.9h0M507.4 269.8h0M530.3 259.8h0M517.7 282.0h0M515.7 259.2h0M527.9 290.0h0M502.6 289.2h0M514.3 262.8h0M505.6 283.0h0M500.9 287.2h0M523.1 241.6h0M539.7 279.6h0M535.0 244.6h0M552.0 270.5h0M504.1 276.7h0M550.9 288.8h0M516.1 258.7h0M537.4 276.3h0M530.1 246.0h0M523.5 243.9h0M537.4 272.8h0M551.1 243.9h0M513.4 247.5h0M531.1 286.7h0M528.1 247.4h0M521.6 274.7h0M505.3 287.2h0M516.5 264.2h0M528.1 243.7h0M504.9 254.1h0M516.0 244.3h0M504.6 275.1h0M516.2 245.1h0M506.3 278.1h0M533.0 256.5h0M536.2 279.1h0M527.9 290.3h0M529.8 272.4h0M518.2 266.6h0M532.4 288.6h0M527.5 252.4h0M537.3 263.9h0M552.2 285.8h0M515.6 275.6h0M550.4 257.1h0M510.4 257.6h0M527.5 251.9h0M528.8 269.7h0M541.1 289.1h0M546.8 327.9h0M512.7 343.9h0M539.7 324.3h0M521.3 322.1h0M543.6 346.0h0M532.4 342.9h0M548.4 308.4h0M548.6 324.0h0M511.9 346.1h0M515.3 331.1h0M540.6 347.6h0M541.6 341.4h0M504.9 313.2h0M559.4 335.1h0M538.1 331.7h0M529.8 305.9h0M544.3 337.7h0M526.8 322.0h0M540.5 335.2h0M528.4 328.8h0M506.6 342.7h0M511.2 353.4h0M523.5 330.7h0M516.8 349.4h0M516.5 342.6h0M519.7 342.7h0M542.9 315.8h0M548.7 321.1h0M539.4 316.9h0M512.1 336.2h0M541.2 346.9h0M517.5 328.9h0M512.1 328.0h0M551.6 317.7h0M521.1 309.5h0M542.4 352.1h0M519.1 304.3h0M556.5 319.7h0M552.2 310.9h0M522.4 313.1h0M541.4 304.9h0M514.6 331.2h0M505.4 331.7h0M514.8 336.8h0M533.5 335.7h0M517.7 331.6h0M518.9 314.0h0M556.7 338.7h0M551.8 317.2h0M533.7 349.2h0M523.6 306.7h0M508.6 350.4h0M517.6 308.7h0M508.4 304.4h0M543.5 353.5h0M509.2 329.2h0M552.1 309.5h0M542.5 329.8h0M548.2 354.1h0M522.8 314.8h0M525.8 331.7h0M530.5 327.1h0M539.3 315.7h0M515.6 313.3h0M531.9 310.7h0M538.6 330.4h0M537.1 332.6h0M552.6 333.8h0M538.1 304.0h0M506.4 341.0h0M512.8 348.2h0M512.9 323.8h0M527.6 338.9h0M505.3 313.6h0M547.1 313.8h0M548.4 349.8h0M552.3 310.9h0M519.6 315.5h0M534.7 304.0h0M533.1 308.1h0M502.8 313.4h0M536.5 326.1h0M532.1 337.0h0M510.6 341.5h0M550.5 309.8h0M535.9 311.5h0M557.7 314.5h0"/>
<path stroke="#f4a3b6" stroke-width="2.1" stroke-linecap="round" fill="none" d="M508.3 252.3h0M522.6 275.2h0M547.9 282.4h0M544.4 259.7h0M521.8 265.2h0M515.5 290.5h0M527.1 254.9h0M519.7 273.2h0M555.0 277.0h0M520.8 262.9h0M508.0 245.8h0M550.2 269.5h0M523.0 246.6h0M527.1 248.5h0M541.8 252.1h0M513.2 280.4h0M540.1 260.4h0M556.9 274.8h0M530.8 239.3h0M527.0 284.1h0M551.5 241.2h0M511.3 263.4h0M530.6 267.0h0M545.3 287.8h0M505.2 261.5h0M503.9 263.5h0M514.9 277.2h0M537.3 245.7h0M504.4 240.9h0M546.4 252.7h0M516.9 249.4h0M534.2 277.1h0M512.6 256.6h0M521.9 271.3h0M518.9 268.0h0M553.6 242.2h0M545.9 281.0h0M534.5 254.0h0M558.4 282.1h0M528.1 247.9h0M511.3 249.2h0M547.8 289.9h0M552.2 264.9h0M540.8 243.1h0M518.3 248.9h0M519.2 279.7h0M541.0 240.3h0M528.2 286.0h0M521.2 270.8h0M509.5 308.1h0M559.5 306.3h0M513.5 318.3h0M504.8 330.9h0M540.5 320.9h0M530.1 342.7h0M544.2 345.0h0M554.2 337.1h0M524.7 304.4h0M511.8 346.0h0M542.5 329.3h0M531.5 322.0h0M543.2 316.2h0M519.7 334.5h0M558.1 319.4h0M548.6 349.1h0M551.3 304.0h0M544.8 350.2h0M503.3 305.1h0M556.2 346.9h0M538.5 344.2h0M506.7 312.8h0M519.3 322.5h0M517.8 341.5h0M551.2 318.3h0M513.7 338.5h0M539.5 354.8h0M532.9 331.3h0M508.8 348.2h0M537.9 341.6h0M556.4 343.4h0M550.7 329.4h0M538.6 324.4h0M542.6 333.3h0M534.2 345.2h0M540.2 313.9h0M558.1 314.8h0M514.0 339.3h0M529.3 347.7h0M510.4 354.1h0M557.6 313.2h0M552.9 307.9h0M532.4 333.7h0M549.5 319.9h0M532.0 337.4h0M511.5 307.7h0M528.5 330.8h0"/>
<path stroke="#a692d0" stroke-width="2.3" stroke-linecap="round" fill="none" d="M555.8 281.8h0M548.7 272.6h0M551.2 258.5h0M534.8 273.6h0M520.8 267.5h0M506.3 281.0h0M510.3 275.5h0M517.7 274.2h0M538.1 239.5h0M547.5 256.8h0M531.6 261.4h0M505.6 276.4h0M522.5 248.4h0M542.2 288.6h0M548.4 265.3h0M515.8 254.2h0M549.7 271.5h0M515.3 277.0h0M524.1 263.6h0M530.2 269.6h0M526.3 277.1h0M556.0 272.1h0M554.0 280.6h0M530.5 254.8h0M533.9 268.5h0M526.0 269.9h0M543.1 278.4h0M522.1 267.0h0M513.9 286.4h0M531.3 263.6h0M512.4 251.3h0M543.5 262.8h0M521.6 263.8h0M523.9 249.5h0M543.1 274.3h0M547.5 263.3h0M543.2 258.5h0M536.8 247.7h0M508.2 264.5h0M555.4 272.2h0M545.5 286.4h0M522.9 271.5h0M548.7 257.3h0M523.5 289.3h0M539.9 268.6h0M505.7 271.4h0M521.0 283.5h0M511.1 282.6h0M502.4 246.2h0M519.0 282.5h0M538.6 274.0h0M527.5 281.4h0M531.4 263.4h0M537.7 242.7h0M528.9 248.2h0M515.7 248.2h0M508.4 279.1h0M542.6 256.3h0M548.9 260.2h0M534.5 241.3h0M516.5 250.8h0M520.2 244.9h0M510.4 250.4h0M502.2 260.1h0M534.7 246.8h0M514.9 251.4h0M534.8 256.8h0M507.0 249.7h0M510.1 262.6h0M526.3 273.7h0M504.2 267.1h0M520.3 249.5h0M552.4 273.6h0M503.5 267.5h0M513.3 252.6h0M553.7 270.3h0M552.5 287.2h0M544.5 244.3h0M527.7 260.8h0M524.2 255.8h0M547.8 265.0h0M514.1 271.5h0M515.7 264.8h0M540.8 273.9h0M555.9 279.5h0M535.5 277.4h0M535.1 290.5h0M525.0 271.8h0M510.1 239.2h0M522.6 261.6h0M545.5 269.0h0M509.5 286.3h0M535.4 257.0h0M549.7 278.2h0M503.4 276.8h0M506.0 271.3h0M530.4 279.2h0M554.1 283.0h0M541.4 284.1h0M543.2 243.6h0M532.9 288.1h0M516.4 277.4h0M503.6 255.0h0M502.9 280.3h0M523.1 288.8h0M543.8 260.4h0M521.1 288.6h0M556.1 257.6h0M504.1 266.7h0M533.8 287.7h0M537.7 264.7h0M534.7 263.2h0M520.7 254.7h0M502.9 284.2h0M538.3 278.9h0M506.0 286.2h0M521.1 282.3h0M533.4 266.1h0M508.9 252.5h0M546.2 280.2h0M510.7 246.6h0M538.6 264.2h0M522.7 271.6h0M556.3 321.4h0M520.3 352.8h0M522.5 317.5h0M514.8 308.8h0M517.0 353.8h0M551.5 304.5h0M541.5 327.9h0M560.2 348.9h0M552.3 305.4h0M524.2 334.7h0M526.2 306.5h0M521.9 342.2h0M557.1 307.8h0M524.1 354.3h0M536.3 308.9h0M525.8 318.7h0M556.8 306.7h0M535.2 333.7h0M545.2 327.5h0M523.9 338.8h0M555.3 310.8h0M524.2 322.6h0M504.2 341.9h0M525.1 305.3h0M527.4 346.6h0M533.2 336.7h0M508.9 332.6h0M540.0 339.8h0M543.3 326.7h0M505.8 332.4h0M531.6 322.3h0M556.2 349.3h0M550.8 334.9h0M554.1 351.5h0M519.9 340.9h0M506.7 329.5h0M540.9 333.9h0M558.1 304.4h0M510.7 327.7h0M530.5 308.3h0M515.3 313.9h0M557.0 305.3h0M525.9 323.1h0M546.5 339.9h0M524.1 350.3h0M517.5 314.0h0M507.6 305.0h0M523.4 331.9h0M541.9 311.3h0M541.7 317.4h0M522.0 322.5h0M504.5 315.3h0M529.8 305.2h0M549.4 351.9h0M509.9 352.8h0M524.0 346.1h0M505.3 343.4h0M556.7 323.6h0M553.3 306.8h0M545.7 316.1h0M534.6 343.2h0M529.2 306.7h0M516.8 329.0h0M508.2 321.8h0M548.3 319.0h0M526.5 312.5h0M535.4 309.0h0M514.1 341.1h0M527.0 317.3h0M553.9 329.2h0M536.1 334.4h0M538.7 321.3h0M519.7 312.2h0M520.6 322.5h0M512.1 311.8h0M503.5 312.6h0M556.0 308.0h0M511.4 324.7h0M539.2 338.6h0M528.7 305.6h0M530.1 331.4h0M547.2 353.5h0M545.5 343.8h0M554.1 336.2h0M522.8 316.1h0M552.6 306.3h0M550.5 342.2h0M542.1 312.9h0M537.1 335.7h0M554.6 346.8h0M557.3 327.7h0M506.8 319.8h0M549.9 305.8h0M509.6 336.5h0M533.4 331.2h0M536.2 332.6h0M559.8 337.5h0M509.8 347.0h0M527.7 325.4h0M530.4 333.4h0M548.6 351.1h0M541.4 317.5h0M531.7 306.0h0M511.3 318.2h0M511.5 354.0h0M543.3 321.5h0M558.5 346.9h0M544.3 312.8h0M505.3 341.5h0M524.7 329.3h0M525.7 311.4h0M554.4 324.7h0M553.2 322.3h0M526.3 314.6h0M519.2 334.7h0M539.2 347.5h0M528.2 330.9h0M548.8 323.9h0M513.0 304.8h0M513.6 337.3h0M539.1 304.3h0M552.1 309.5h0M552.4 319.7h0M536.5 333.0h0M550.4 343.5h0M502.4 321.9h0M519.7 311.2h0M518.2 334.9h0M528.3 345.5h0M515.8 310.5h0M555.6 326.3h0M553.1 309.9h0M524.7 312.0h0M535.3 321.7h0"/>
<path stroke="#4c8a45" stroke-width="2.2" stroke-linecap="round" fill="none" d="M542.4 277.8h0M556.7 267.7h0M544.1 251.2h0M548.7 246.2h0M522.9 288.3h0M529.4 259.6h0M527.7 247.2h0M503.9 266.9h0M549.3 273.6h0M548.9 257.6h0M516.8 268.6h0M504.3 271.6h0M543.8 244.1h0M538.5 249.6h0M549.5 248.9h0M547.2 287.8h0M532.2 264.1h0M510.8 276.5h0M538.3 250.0h0M515.9 288.3h0M505.7 273.5h0M547.1 242.1h0M546.4 260.4h0M523.3 286.0h0M525.3 257.9h0M555.7 271.3h0M551.8 265.6h0M517.7 244.1h0M532.2 254.3h0M551.7 281.7h0M529.0 278.3h0M537.7 279.8h0M554.2 240.1h0M508.5 269.1h0M501.9 260.4h0M520.2 272.9h0M512.6 243.9h0M506.4 260.4h0M517.1 278.6h0M516.4 245.6h0M513.9 267.6h0M543.2 255.1h0M555.9 269.9h0M544.5 262.3h0M521.3 274.4h0M531.7 264.1h0M507.5 287.1h0M553.0 267.0h0M524.0 286.9h0M518.1 239.6h0M503.5 249.3h0M518.6 259.3h0M538.8 247.8h0M527.7 282.7h0M540.5 255.2h0M526.8 266.4h0M545.9 280.0h0M521.2 284.4h0M540.7 276.4h0M545.6 276.2h0M523.2 248.2h0M544.1 245.6h0M518.1 270.1h0M510.2 269.1h0M536.0 239.6h0M512.2 253.6h0M550.0 258.3h0M516.2 239.6h0M544.6 249.8h0M512.0 239.8h0M527.0 263.0h0M528.6 253.3h0M534.6 275.7h0M527.0 270.5h0M541.8 288.0h0M529.1 258.1h0M513.7 276.5h0M538.1 251.0h0M507.3 249.8h0M533.5 288.7h0M510.1 277.5h0M519.7 241.9h0M542.7 257.8h0M518.6 244.3h0M553.9 289.0h0M519.5 269.4h0M520.3 248.7h0M536.9 280.3h0M525.1 283.3h0M532.7 281.1h0M510.0 278.0h0M511.9 243.8h0M514.8 286.7h0M529.1 272.0h0M532.4 287.8h0M546.7 272.2h0M549.5 278.2h0M511.8 266.6h0M518.0 240.1h0M552.8 260.7h0M555.3 285.1h0M529.6 246.0h0M510.7 262.1h0M532.1 270.3h0M535.4 285.6h0M552.8 263.7h0M529.8 271.4h0M535.2 289.7h0M535.4 272.7h0M517.9 258.5h0M546.5 258.7h0M528.1 285.6h0M541.7 242.3h0M532.8 277.4h0M535.2 285.6h0M513.5 242.4h0M517.6 287.4h0M539.0 281.8h0M506.3 242.3h0M555.5 277.0h0M557.3 272.5h0M509.9 248.0h0M540.3 266.2h0M505.7 254.9h0M511.1 261.1h0M553.7 274.1h0M529.0 250.9h0M531.4 258.8h0M502.8 262.2h0M516.1 268.5h0M508.5 246.8h0M510.8 259.5h0M551.4 266.5h0M528.8 248.9h0M503.7 254.6h0M505.8 253.2h0M520.0 241.7h0M506.8 271.0h0M525.1 244.6h0M516.0 245.3h0M534.1 261.4h0M505.9 286.1h0M524.7 272.5h0M547.9 282.7h0M549.2 260.3h0M511.7 243.4h0M519.8 251.7h0M512.5 239.7h0M509.2 267.7h0M509.7 242.2h0M546.6 269.6h0M522.9 264.8h0M528.7 266.1h0M521.1 250.1h0M557.1 290.4h0M517.5 244.5h0M536.5 270.1h0M540.0 290.5h0M550.8 247.5h0M531.4 245.9h0M542.1 275.4h0M509.9 266.8h0M508.8 270.1h0M552.0 349.4h0M528.3 308.5h0M546.0 327.4h0M519.9 336.6h0M514.8 321.3h0M505.5 333.1h0M517.5 315.0h0M515.1 340.0h0M537.8 348.4h0M517.8 305.1h0M522.2 350.0h0M522.0 354.0h0M535.5 353.1h0M559.6 306.7h0M510.3 336.4h0M531.3 353.5h0M508.7 328.0h0M542.0 332.2h0M538.5 328.8h0M554.7 340.2h0M523.2 353.5h0M521.5 324.9h0M540.2 331.6h0M521.8 326.4h0M559.0 349.7h0M510.4 311.5h0M510.9 314.8h0M529.6 315.8h0M523.4 330.7h0M541.3 309.9h0M536.9 346.8h0M526.2 337.2h0M540.7 350.2h0M518.6 344.5h0M553.5 332.8h0M535.0 317.7h0M542.6 352.9h0M524.9 337.0h0M541.5 352.4h0M546.0 321.3h0M540.1 350.1h0M556.1 334.2h0M516.9 347.0h0M523.0 346.9h0M556.6 318.0h0M557.3 340.6h0M540.7 349.9h0M522.7 308.6h0M523.2 352.8h0M511.3 307.5h0M549.4 311.6h0M541.8 340.4h0M534.4 342.4h0M534.3 319.8h0M534.4 327.8h0M535.1 306.5h0M537.2 334.0h0M509.4 329.8h0M532.6 343.9h0M534.9 328.9h0M533.6 345.6h0M536.8 347.8h0M538.8 321.7h0M524.4 320.3h0M534.7 343.6h0M529.8 352.9h0M512.4 316.1h0M511.3 349.1h0M528.9 351.9h0M513.3 303.9h0M547.5 332.9h0M528.5 330.6h0M538.6 309.7h0M534.5 338.1h0M561.0 336.0h0M535.9 313.7h0M534.7 344.3h0M543.6 326.6h0M513.9 348.0h0M512.6 306.1h0M537.6 325.0h0M553.2 352.6h0M539.8 304.0h0M545.3 314.9h0M533.8 315.0h0M521.4 315.7h0M538.1 346.0h0M540.8 337.8h0M524.6 331.0h0M545.9 354.8h0M519.5 341.3h0M553.9 310.4h0M540.3 336.1h0M555.2 339.3h0M537.0 354.7h0M556.4 324.7h0M536.6 323.4h0M514.6 345.6h0M559.7 315.0h0M523.6 310.0h0M553.6 316.7h0M517.0 328.7h0M517.7 349.0h0M537.8 316.8h0M523.5 334.0h0M534.5 315.7h0M504.1 323.9h0M512.6 347.8h0M540.6 329.0h0M533.5 319.0h0M535.1 315.1h0M526.4 341.7h0M536.7 347.9h0M515.5 335.9h0M508.5 347.7h0M547.3 331.7h0M516.8 354.2h0M525.5 317.2h0M510.7 325.7h0M559.4 321.6h0M509.7 327.1h0M537.7 317.9h0M540.8 342.0h0M536.4 311.9h0M556.8 324.5h0M511.4 349.2h0M530.7 326.3h0M510.8 327.3h0M516.1 344.4h0M518.5 337.0h0M504.7 335.2h0M532.0 349.7h0M512.4 313.9h0M554.5 348.1h0M561.3 309.6h0M526.1 326.9h0M555.9 322.6h0M534.4 330.7h0M522.9 347.4h0M536.2 332.4h0M528.6 334.5h0M550.0 325.8h0M539.8 314.1h0"/>
<path stroke="#6c9c63" stroke-width="2.2" stroke-linecap="round" fill="none" d="M520.5 290.8h0M513.9 276.2h0M524.1 284.8h0M524.1 275.1h0M536.4 268.5h0M511.3 252.8h0M540.5 269.4h0M514.5 277.4h0M503.0 247.4h0M537.5 262.7h0M514.7 285.3h0M508.0 280.0h0M551.5 287.3h0M542.2 249.7h0M510.9 241.9h0M509.9 255.8h0M525.9 257.7h0M515.2 280.9h0M540.5 275.6h0M519.2 257.2h0M521.9 248.1h0M556.9 269.4h0M531.4 268.3h0M553.5 255.1h0M538.6 269.2h0M520.7 249.1h0M512.0 253.1h0M504.7 274.8h0M527.8 288.7h0M531.2 256.7h0M522.8 277.6h0M537.5 276.6h0M524.5 286.9h0M529.1 289.9h0M553.9 255.9h0M536.9 251.3h0M537.0 253.0h0M507.8 277.5h0M503.4 241.0h0M527.6 276.9h0M517.8 276.9h0M510.8 290.5h0M539.2 262.7h0M552.8 241.2h0M508.5 282.3h0M522.6 283.6h0M540.4 278.4h0M529.0 259.7h0M526.7 239.4h0M508.7 257.9h0M521.6 266.0h0M525.5 244.9h0M548.9 283.1h0M516.6 266.0h0M526.9 276.0h0M524.1 289.4h0M507.0 288.8h0M541.5 241.0h0M520.7 255.4h0M506.2 259.3h0M502.7 278.8h0M517.5 284.2h0M553.5 259.3h0M502.6 253.8h0M545.3 240.0h0M536.2 244.3h0M545.7 270.8h0M545.7 266.5h0M521.2 276.8h0M550.4 247.3h0M513.9 271.1h0M532.5 255.3h0M513.7 284.6h0M508.9 261.4h0M516.9 254.2h0M516.7 273.9h0M517.3 246.9h0M532.3 244.5h0M554.9 272.6h0M537.6 285.7h0M548.4 271.7h0M518.2 279.3h0M505.4 256.0h0M505.1 286.1h0M534.9 330.5h0M535.2 321.9h0M539.3 353.2h0M561.6 318.6h0M550.2 330.2h0M558.6 322.3h0M509.7 345.9h0M544.3 343.3h0M549.8 328.5h0M506.3 334.9h0M529.3 321.6h0M527.0 350.8h0M509.9 331.5h0M508.0 314.8h0M548.3 347.1h0M532.3 328.5h0M545.3 354.8h0M553.1 335.4h0M534.5 326.2h0M509.3 336.1h0M557.3 335.2h0M521.4 320.2h0M520.7 342.4h0M553.1 322.1h0M529.8 324.3h0M506.3 323.4h0M558.4 331.2h0M551.2 339.2h0M537.0 312.9h0M552.7 307.3h0M505.8 311.1h0M511.7 312.1h0M512.1 351.3h0M559.0 307.4h0M544.5 318.1h0M535.4 339.9h0M509.9 323.3h0M517.0 347.4h0M526.2 345.7h0M517.8 325.0h0M549.5 340.6h0M529.4 308.8h0M517.0 312.7h0M517.1 313.7h0M544.4 323.9h0M542.3 310.0h0M558.2 331.3h0M548.1 316.6h0M522.3 330.3h0M515.1 323.3h0M521.1 336.7h0M506.7 323.5h0M549.4 310.7h0M533.1 335.7h0M537.6 339.4h0M508.8 353.8h0M556.5 320.3h0M538.5 341.6h0M522.2 350.6h0M508.5 348.5h0M555.6 348.1h0M523.1 308.5h0M532.0 330.1h0M516.8 353.3h0M503.4 319.8h0M530.3 346.6h0M529.9 321.1h0M527.1 341.2h0M513.8 327.6h0M550.2 348.7h0M541.6 308.9h0M509.3 312.3h0M517.0 340.3h0M510.6 335.0h0M531.2 305.7h0M535.6 335.7h0M551.3 353.7h0M539.8 308.0h0M525.1 347.4h0M552.1 347.1h0M553.7 306.5h0M519.4 343.7h0M515.0 312.6h0M513.2 320.5h0M514.6 319.1h0M536.7 306.1h0M560.1 348.8h0M553.1 343.6h0M536.0 343.5h0M546.9 335.9h0M508.9 320.0h0M558.4 327.5h0M504.7 341.9h0M556.3 334.3h0M547.0 303.9h0M557.5 354.6h0M540.5 351.6h0M537.4 329.1h0M510.6 317.9h0M506.7 344.4h0M530.6 344.8h0"/>
<path stroke="#f4a3b6" stroke-width="2.1" stroke-linecap="round" fill="none" d="M513.7 280.7h0M538.7 246.1h0M504.4 258.8h0M549.4 242.5h0M526.4 267.0h0M555.7 248.6h0M547.3 264.9h0M529.2 275.0h0M527.2 247.2h0M520.6 249.4h0M555.3 239.5h0M527.0 289.5h0M537.3 247.1h0M533.5 265.8h0M515.2 276.3h0M523.3 288.3h0M532.7 286.7h0M541.9 245.5h0M509.3 259.0h0M544.6 243.8h0M540.1 288.0h0M531.5 269.6h0M539.9 249.5h0M548.0 272.5h0M555.1 278.4h0M531.9 279.0h0M531.3 269.1h0M517.8 246.9h0M557.4 258.8h0M535.4 282.1h0M524.9 264.9h0M550.9 260.0h0M528.6 245.3h0M508.0 259.7h0M538.9 273.1h0M536.3 263.2h0M547.3 266.7h0M551.0 242.8h0M533.1 274.9h0M512.3 339.4h0M554.0 320.7h0M509.8 354.3h0M525.1 329.6h0M506.0 339.8h0M532.9 335.2h0M550.9 336.5h0M524.2 334.2h0M549.5 317.2h0M509.2 304.2h0M558.2 327.6h0M531.7 329.2h0M555.5 318.5h0M528.3 315.4h0M542.0 327.3h0M543.6 334.0h0M518.0 343.4h0M558.7 315.7h0M512.4 344.0h0M517.3 349.6h0M557.0 349.8h0M509.1 354.1h0M505.8 305.6h0M520.5 328.4h0M528.6 325.1h0M504.5 317.3h0M547.5 346.6h0M508.0 328.3h0M514.1 325.8h0M560.1 323.5h0M524.7 311.4h0M544.3 332.6h0M530.1 315.8h0M506.0 339.3h0M538.2 347.9h0M504.8 324.1h0M541.3 348.5h0M534.5 327.3h0M522.3 308.4h0M555.7 306.1h0M508.3 336.1h0M526.7 319.4h0M511.2 324.3h0M527.5 352.3h0M517.0 332.5h0M505.0 312.0h0M505.7 349.6h0M542.8 318.6h0M549.9 354.2h0"/></g>
<rect x="227.8" y="250.6" width="82" height="32" fill="#fff" stroke="#8a8a8a" stroke-width="1"/><text x="231.70000000000002" y="259.90" font-size="7.9" fill="#5f9658" stroke="#5f9658" stroke-width="0.12">RMSD<tspan font-style="italic" font-size="6.4" dy="1.6">x</tspan><tspan dy="-1.6"> Li: 1.99 Å</tspan></text><text x="231.70000000000002" y="270.40" font-size="7.9" fill="#9487d0" stroke="#9487d0" stroke-width="0.12">RMSD<tspan font-style="italic" font-size="6.4" dy="1.6">x</tspan><tspan dy="-1.6"> S: 1.06 Å</tspan></text><text x="231.70000000000002" y="280.90" font-size="7.9" fill="#f5b3c4" stroke="#f5b3c4" stroke-width="0.12">RMSD<tspan font-style="italic" font-size="6.4" dy="1.6">x</tspan><tspan dy="-1.6"> P: 1.55 Å</tspan></text><rect x="227.8" y="314.6" width="82" height="32" fill="#fff" stroke="#8a8a8a" stroke-width="1"/><text x="231.70000000000002" y="323.90" font-size="7.9" fill="#5f9658" stroke="#5f9658" stroke-width="0.12">RMSD<tspan font-style="italic" font-size="6.4" dy="1.6">x</tspan><tspan dy="-1.6"> Li: 30.67 Å</tspan></text><text x="231.70000000000002" y="334.40" font-size="7.9" fill="#9487d0" stroke="#9487d0" stroke-width="0.12">RMSD<tspan font-style="italic" font-size="6.4" dy="1.6">x</tspan><tspan dy="-1.6"> S: 7.32 Å</tspan></text><text x="231.70000000000002" y="344.90" font-size="7.9" fill="#f5b3c4" stroke="#f5b3c4" stroke-width="0.12">RMSD<tspan font-style="italic" font-size="6.4" dy="1.6">x</tspan><tspan dy="-1.6"> P: 9.29 Å</tspan></text><rect x="575.2" y="250.6" width="82" height="32" fill="#fff" stroke="#8a8a8a" stroke-width="1"/><text x="579.1" y="259.90" font-size="7.9" fill="#5f9658" stroke="#5f9658" stroke-width="0.12">RMSD<tspan font-style="italic" font-size="6.4" dy="1.6">x</tspan><tspan dy="-1.6"> Li: 2.39 Å</tspan></text><text x="579.1" y="270.40" font-size="7.9" fill="#9487d0" stroke="#9487d0" stroke-width="0.12">RMSD<tspan font-style="italic" font-size="6.4" dy="1.6">x</tspan><tspan dy="-1.6"> S: 1.11 Å</tspan></text><text x="579.1" y="280.90" font-size="7.9" fill="#f5b3c4" stroke="#f5b3c4" stroke-width="0.12">RMSD<tspan font-style="italic" font-size="6.4" dy="1.6">x</tspan><tspan dy="-1.6"> P: 1.16 Å</tspan></text><rect x="575.2" y="314.6" width="82" height="32" fill="#fff" stroke="#8a8a8a" stroke-width="1"/><text x="579.1" y="323.90" font-size="7.9" fill="#5f9658" stroke="#5f9658" stroke-width="0.12">RMSD<tspan font-style="italic" font-size="6.4" dy="1.6">x</tspan><tspan dy="-1.6"> Li: 26.65 Å</tspan></text><text x="579.1" y="334.40" font-size="7.9" fill="#9487d0" stroke="#9487d0" stroke-width="0.12">RMSD<tspan font-style="italic" font-size="6.4" dy="1.6">x</tspan><tspan dy="-1.6"> S: 19.26 Å</tspan></text><text x="579.1" y="344.90" font-size="7.9" fill="#f5b3c4" stroke="#f5b3c4" stroke-width="0.12">RMSD<tspan font-style="italic" font-size="6.4" dy="1.6">x</tspan><tspan dy="-1.6"> P: 22.43 Å</tspan></text>
<path d="M4.0 26.5H331.5" stroke="#2a2a2a" stroke-width="1.0" fill="none"/><path d="M4.0 66.5H331.5" stroke="#2a2a2a" stroke-width="1.0" fill="none"/><path d="M4.5 26.5V66.5" stroke="#2a2a2a" stroke-width="1" fill="none"/><path d="M331.0 26.5V66.5" stroke="#2a2a2a" stroke-width="1" fill="none"/><path d="M350.4 26.5H678.0" stroke="#2a2a2a" stroke-width="1.0" fill="none"/><path d="M350.4 66.5H678.0" stroke="#2a2a2a" stroke-width="1.0" fill="none"/><path d="M350.9 26.5V66.5" stroke="#2a2a2a" stroke-width="1" fill="none"/><path d="M677.5 26.5V66.5" stroke="#2a2a2a" stroke-width="1" fill="none"/><line x1="4.20" y1="67.0" x2="4.20" y2="68.6" stroke="#222" stroke-width="0.9"/><line x1="40.50" y1="67.0" x2="40.50" y2="68.6" stroke="#222" stroke-width="0.9"/><line x1="76.80" y1="67.0" x2="76.80" y2="68.6" stroke="#222" stroke-width="0.9"/><line x1="113.10" y1="67.0" x2="113.10" y2="68.6" stroke="#222" stroke-width="0.9"/><line x1="149.40" y1="67.0" x2="149.40" y2="68.6" stroke="#222" stroke-width="0.9"/><line x1="185.70" y1="67.0" x2="185.70" y2="68.6" stroke="#222" stroke-width="0.9"/><line x1="222.00" y1="67.0" x2="222.00" y2="68.6" stroke="#222" stroke-width="0.9"/><line x1="258.30" y1="67.0" x2="258.30" y2="68.6" stroke="#222" stroke-width="0.9"/><line x1="294.60" y1="67.0" x2="294.60" y2="68.6" stroke="#222" stroke-width="0.9"/><line x1="330.90" y1="67.0" x2="330.90" y2="68.6" stroke="#222" stroke-width="0.9"/><line x1="350.70" y1="67.0" x2="350.70" y2="68.6" stroke="#222" stroke-width="0.9"/><line x1="387.00" y1="67.0" x2="387.00" y2="68.6" stroke="#222" stroke-width="0.9"/><line x1="423.30" y1="67.0" x2="423.30" y2="68.6" stroke="#222" stroke-width="0.9"/><line x1="459.60" y1="67.0" x2="459.60" y2="68.6" stroke="#222" stroke-width="0.9"/><line x1="495.90" y1="67.0" x2="495.90" y2="68.6" stroke="#222" stroke-width="0.9"/><line x1="532.20" y1="67.0" x2="532.20" y2="68.6" stroke="#222" stroke-width="0.9"/><line x1="568.50" y1="67.0" x2="568.50" y2="68.6" stroke="#222" stroke-width="0.9"/><line x1="604.80" y1="67.0" x2="604.80" y2="68.6" stroke="#222" stroke-width="0.9"/><line x1="641.10" y1="67.0" x2="641.10" y2="68.6" stroke="#222" stroke-width="0.9"/><line x1="677.40" y1="67.0" x2="677.40" y2="68.6" stroke="#222" stroke-width="0.9"/><text x="330.8" y="22.9" font-size="8.3" text-anchor="end" font-weight="normal" fill="#111" stroke="#111" stroke-width="0.15"  style="">Initial</text><text x="677.8" y="22.9" font-size="8.3" text-anchor="end" font-weight="normal" fill="#111" stroke="#111" stroke-width="0.15"  style="">Initial</text><path d="M4.0 80.7H331.5" stroke="#2a2a2a" stroke-width="1.0" fill="none"/><path d="M4.0 121.4H331.5" stroke="#2a2a2a" stroke-width="1.0" fill="none"/><path d="M4.5 80.7V121.4" stroke="#2a2a2a" stroke-width="1" fill="none"/><path d="M331.0 80.7V121.4" stroke="#2a2a2a" stroke-width="1" fill="none"/><path d="M350.4 80.7H678.0" stroke="#2a2a2a" stroke-width="1.0" fill="none"/><path d="M350.4 121.4H678.0" stroke="#2a2a2a" stroke-width="1.0" fill="none"/><path d="M350.9 80.7V121.4" stroke="#2a2a2a" stroke-width="1" fill="none"/><path d="M677.5 80.7V121.4" stroke="#2a2a2a" stroke-width="1" fill="none"/><line x1="4.20" y1="121.9" x2="4.20" y2="123.5" stroke="#222" stroke-width="0.9"/><line x1="40.50" y1="121.9" x2="40.50" y2="123.5" stroke="#222" stroke-width="0.9"/><line x1="76.80" y1="121.9" x2="76.80" y2="123.5" stroke="#222" stroke-width="0.9"/><line x1="113.10" y1="121.9" x2="113.10" y2="123.5" stroke="#222" stroke-width="0.9"/><line x1="149.40" y1="121.9" x2="149.40" y2="123.5" stroke="#222" stroke-width="0.9"/><line x1="185.70" y1="121.9" x2="185.70" y2="123.5" stroke="#222" stroke-width="0.9"/><line x1="222.00" y1="121.9" x2="222.00" y2="123.5" stroke="#222" stroke-width="0.9"/><line x1="258.30" y1="121.9" x2="258.30" y2="123.5" stroke="#222" stroke-width="0.9"/><line x1="294.60" y1="121.9" x2="294.60" y2="123.5" stroke="#222" stroke-width="0.9"/><line x1="330.90" y1="121.9" x2="330.90" y2="123.5" stroke="#222" stroke-width="0.9"/><line x1="350.70" y1="121.9" x2="350.70" y2="123.5" stroke="#222" stroke-width="0.9"/><line x1="387.00" y1="121.9" x2="387.00" y2="123.5" stroke="#222" stroke-width="0.9"/><line x1="423.30" y1="121.9" x2="423.30" y2="123.5" stroke="#222" stroke-width="0.9"/><line x1="459.60" y1="121.9" x2="459.60" y2="123.5" stroke="#222" stroke-width="0.9"/><line x1="495.90" y1="121.9" x2="495.90" y2="123.5" stroke="#222" stroke-width="0.9"/><line x1="532.20" y1="121.9" x2="532.20" y2="123.5" stroke="#222" stroke-width="0.9"/><line x1="568.50" y1="121.9" x2="568.50" y2="123.5" stroke="#222" stroke-width="0.9"/><line x1="604.80" y1="121.9" x2="604.80" y2="123.5" stroke="#222" stroke-width="0.9"/><line x1="641.10" y1="121.9" x2="641.10" y2="123.5" stroke="#222" stroke-width="0.9"/><line x1="677.40" y1="121.9" x2="677.40" y2="123.5" stroke="#222" stroke-width="0.9"/><text x="330.8" y="77.9" font-size="8.3" text-anchor="end" font-weight="normal" fill="#111" stroke="#111" stroke-width="0.15"  style="">100 ps</text><text x="677.8" y="77.9" font-size="8.3" text-anchor="end" font-weight="normal" fill="#111" stroke="#111" stroke-width="0.15"  style="">100 ps</text><path d="M4.0 135.4H331.5" stroke="#2a2a2a" stroke-width="1.0" fill="none"/><path d="M4.0 175.5H331.5" stroke="#2a2a2a" stroke-width="1.0" fill="none"/><path d="M4.5 135.4V175.5" stroke="#2a2a2a" stroke-width="1" fill="none"/><path d="M331.0 135.4V175.5" stroke="#2a2a2a" stroke-width="1" fill="none"/><path d="M350.4 135.4H678.0" stroke="#2a2a2a" stroke-width="1.0" fill="none"/><path d="M350.4 175.5H678.0" stroke="#2a2a2a" stroke-width="1.0" fill="none"/><path d="M350.9 135.4V175.5" stroke="#2a2a2a" stroke-width="1" fill="none"/><path d="M677.5 135.4V175.5" stroke="#2a2a2a" stroke-width="1" fill="none"/><line x1="4.20" y1="176.0" x2="4.20" y2="177.6" stroke="#222" stroke-width="0.9"/><line x1="40.50" y1="176.0" x2="40.50" y2="177.6" stroke="#222" stroke-width="0.9"/><line x1="76.80" y1="176.0" x2="76.80" y2="177.6" stroke="#222" stroke-width="0.9"/><line x1="113.10" y1="176.0" x2="113.10" y2="177.6" stroke="#222" stroke-width="0.9"/><line x1="149.40" y1="176.0" x2="149.40" y2="177.6" stroke="#222" stroke-width="0.9"/><line x1="185.70" y1="176.0" x2="185.70" y2="177.6" stroke="#222" stroke-width="0.9"/><line x1="222.00" y1="176.0" x2="222.00" y2="177.6" stroke="#222" stroke-width="0.9"/><line x1="258.30" y1="176.0" x2="258.30" y2="177.6" stroke="#222" stroke-width="0.9"/><line x1="294.60" y1="176.0" x2="294.60" y2="177.6" stroke="#222" stroke-width="0.9"/><line x1="330.90" y1="176.0" x2="330.90" y2="177.6" stroke="#222" stroke-width="0.9"/><line x1="350.70" y1="176.0" x2="350.70" y2="177.6" stroke="#222" stroke-width="0.9"/><line x1="387.00" y1="176.0" x2="387.00" y2="177.6" stroke="#222" stroke-width="0.9"/><line x1="423.30" y1="176.0" x2="423.30" y2="177.6" stroke="#222" stroke-width="0.9"/><line x1="459.60" y1="176.0" x2="459.60" y2="177.6" stroke="#222" stroke-width="0.9"/><line x1="495.90" y1="176.0" x2="495.90" y2="177.6" stroke="#222" stroke-width="0.9"/><line x1="532.20" y1="176.0" x2="532.20" y2="177.6" stroke="#222" stroke-width="0.9"/><line x1="568.50" y1="176.0" x2="568.50" y2="177.6" stroke="#222" stroke-width="0.9"/><line x1="604.80" y1="176.0" x2="604.80" y2="177.6" stroke="#222" stroke-width="0.9"/><line x1="641.10" y1="176.0" x2="641.10" y2="177.6" stroke="#222" stroke-width="0.9"/><line x1="677.40" y1="176.0" x2="677.40" y2="177.6" stroke="#222" stroke-width="0.9"/><text x="330.8" y="131.8" font-size="8.3" text-anchor="end" font-weight="normal" fill="#111" stroke="#111" stroke-width="0.15"  style="">4000 ps</text><text x="677.8" y="131.8" font-size="8.3" text-anchor="end" font-weight="normal" fill="#111" stroke="#111" stroke-width="0.15"  style="">4000 ps</text><text x="216.4" y="46.6" font-size="10.5" text-anchor="start" font-weight="normal" fill="#111" stroke="#111" stroke-width="0.2"  style="">Decomposition of S</text><text x="562.8" y="46.6" font-size="10.45" text-anchor="start" font-weight="normal" fill="#111" stroke="#111" stroke-width="0.2"  style="">Decomposition of P</text><text x="4.20" y="186.8" font-size="9.8" text-anchor="middle" font-weight="normal" fill="#111" stroke="#111" stroke-width="0.15"  style="">8</text><text x="350.70" y="186.8" font-size="9.8" text-anchor="middle" font-weight="normal" fill="#111" stroke="#111" stroke-width="0.15"  style="">8</text><text x="40.50" y="186.8" font-size="9.8" text-anchor="middle" font-weight="normal" fill="#111" stroke="#111" stroke-width="0.15"  style="">10</text><text x="387.00" y="186.8" font-size="9.8" text-anchor="middle" font-weight="normal" fill="#111" stroke="#111" stroke-width="0.15"  style="">10</text><text x="76.80" y="186.8" font-size="9.8" text-anchor="middle" font-weight="normal" fill="#111" stroke="#111" stroke-width="0.15"  style="">12</text><text x="423.30" y="186.8" font-size="9.8" text-anchor="middle" font-weight="normal" fill="#111" stroke="#111" stroke-width="0.15"  style="">12</text><text x="113.10" y="186.8" font-size="9.8" text-anchor="middle" font-weight="normal" fill="#111" stroke="#111" stroke-width="0.15"  style="">14</text><text x="459.60" y="186.8" font-size="9.8" text-anchor="middle" font-weight="normal" fill="#111" stroke="#111" stroke-width="0.15"  style="">14</text><text x="149.40" y="186.8" font-size="9.8" text-anchor="middle" font-weight="normal" fill="#111" stroke="#111" stroke-width="0.15"  style="">16</text><text x="495.90" y="186.8" font-size="9.8" text-anchor="middle" font-weight="normal" fill="#111" stroke="#111" stroke-width="0.15"  style="">16</text><text x="185.70" y="186.8" font-size="9.8" text-anchor="middle" font-weight="normal" fill="#111" stroke="#111" stroke-width="0.15"  style="">18</text><text x="532.20" y="186.8" font-size="9.8" text-anchor="middle" font-weight="normal" fill="#111" stroke="#111" stroke-width="0.15"  style="">18</text><text x="222.00" y="186.8" font-size="9.8" text-anchor="middle" font-weight="normal" fill="#111" stroke="#111" stroke-width="0.15"  style="">20</text><text x="568.50" y="186.8" font-size="9.8" text-anchor="middle" font-weight="normal" fill="#111" stroke="#111" stroke-width="0.15"  style="">20</text><text x="258.30" y="186.8" font-size="9.8" text-anchor="middle" font-weight="normal" fill="#111" stroke="#111" stroke-width="0.15"  style="">22</text><text x="604.80" y="186.8" font-size="9.8" text-anchor="middle" font-weight="normal" fill="#111" stroke="#111" stroke-width="0.15"  style="">22</text><text x="294.60" y="186.8" font-size="9.8" text-anchor="middle" font-weight="normal" fill="#111" stroke="#111" stroke-width="0.15"  style="">24</text><text x="641.10" y="186.8" font-size="9.8" text-anchor="middle" font-weight="normal" fill="#111" stroke="#111" stroke-width="0.15"  style="">24</text><text x="330.90" y="186.8" font-size="9.8" text-anchor="middle" font-weight="normal" fill="#111" stroke="#111" stroke-width="0.15"  style="">26</text><text x="677.40" y="186.8" font-size="9.8" text-anchor="middle" font-weight="normal" fill="#111" stroke="#111" stroke-width="0.15"  style="">26</text><text x="167.55" y="198.5" font-size="10.3" text-anchor="middle" fill="#111" stroke="#111" stroke-width="0.15"><tspan font-style="italic">R</tspan><tspan font-style="italic" font-size="8.03" dy="1.55">x</tspan><tspan dy="-1.55"> (nm)</tspan></text><text x="514.05" y="198.5" font-size="10.3" text-anchor="middle" fill="#111" stroke="#111" stroke-width="0.15"><tspan font-style="italic">R</tspan><tspan font-style="italic" font-size="8.03" dy="1.55">x</tspan><tspan dy="-1.55"> (nm)</tspan></text><text x="0.1" y="15.6" font-size="22" text-anchor="start" font-weight="bold" fill="#000"  style="">a</text><text x="345.8" y="15.6" font-size="22" text-anchor="start" font-weight="bold" fill="#000"  style="">b</text><text x="0.3" y="228.2" font-size="21.6" text-anchor="start" font-weight="bold" fill="#000"  style="">c</text><text x="340.5" y="229.4" font-size="22" text-anchor="start" font-weight="bold" fill="#000"  style="">d</text><path d="M5.0 238.5H333.0" stroke="#8a8a8a" stroke-width="1.15" fill="none"/><path d="M5.0 291.4H333.0" stroke="#505050" stroke-width="1.0" fill="none"/><path d="M5.5 238.5V291.4" stroke="#585858" stroke-width="1" fill="none"/><path d="M332.5 238.5V291.4" stroke="#606060" stroke-width="1" fill="none"/><path d="M352.0 238.5H680.1" stroke="#8a8a8a" stroke-width="1.15" fill="none"/><path d="M352.0 291.4H680.1" stroke="#505050" stroke-width="1.0" fill="none"/><path d="M352.5 238.5V291.4" stroke="#686868" stroke-width="1" fill="none"/><path d="M679.6 238.5V291.4" stroke="#a8a8a8" stroke-width="1" fill="none"/><line x1="6.00" y1="291.9" x2="6.00" y2="292.9" stroke="#505050" stroke-width="0.8"/><line x1="60.30" y1="291.9" x2="60.30" y2="292.9" stroke="#505050" stroke-width="0.8"/><line x1="114.60" y1="291.9" x2="114.60" y2="292.9" stroke="#505050" stroke-width="0.8"/><line x1="168.90" y1="291.9" x2="168.90" y2="292.9" stroke="#505050" stroke-width="0.8"/><line x1="223.20" y1="291.9" x2="223.20" y2="292.9" stroke="#505050" stroke-width="0.8"/><line x1="277.50" y1="291.9" x2="277.50" y2="292.9" stroke="#505050" stroke-width="0.8"/><line x1="331.80" y1="291.9" x2="331.80" y2="292.9" stroke="#505050" stroke-width="0.8"/><line x1="353.00" y1="291.9" x2="353.00" y2="292.9" stroke="#505050" stroke-width="0.8"/><line x1="407.30" y1="291.9" x2="407.30" y2="292.9" stroke="#505050" stroke-width="0.8"/><line x1="461.60" y1="291.9" x2="461.60" y2="292.9" stroke="#505050" stroke-width="0.8"/><line x1="515.90" y1="291.9" x2="515.90" y2="292.9" stroke="#505050" stroke-width="0.8"/><line x1="570.20" y1="291.9" x2="570.20" y2="292.9" stroke="#505050" stroke-width="0.8"/><line x1="624.50" y1="291.9" x2="624.50" y2="292.9" stroke="#505050" stroke-width="0.8"/><line x1="678.80" y1="291.9" x2="678.80" y2="292.9" stroke="#505050" stroke-width="0.8"/><text x="332.8" y="237.0" font-size="7.9" text-anchor="end" font-weight="normal" fill="#111" stroke="#111" stroke-width="0.18"  style="">4000 ps</text><text x="679.6" y="237.0" font-size="7.9" text-anchor="end" font-weight="normal" fill="#111" stroke="#111" stroke-width="0.18"  style="">4000 ps</text><path d="M5.0 303.3H333.0" stroke="#9a9a9a" stroke-width="1.3" fill="none"/><path d="M5.0 355.5H333.0" stroke="#a0a0a0" stroke-width="1.3" fill="none"/><path d="M5.5 303.3V355.5" stroke="#585858" stroke-width="1" fill="none"/><path d="M332.5 303.3V355.5" stroke="#606060" stroke-width="1" fill="none"/><path d="M352.0 303.3H680.1" stroke="#9a9a9a" stroke-width="1.3" fill="none"/><path d="M352.0 355.5H680.1" stroke="#a0a0a0" stroke-width="1.3" fill="none"/><path d="M352.5 303.3V355.5" stroke="#686868" stroke-width="1" fill="none"/><path d="M679.6 303.3V355.5" stroke="#a8a8a8" stroke-width="1" fill="none"/><line x1="6.00" y1="356.0" x2="6.00" y2="357.0" stroke="#a0a0a0" stroke-width="0.8"/><line x1="60.30" y1="356.0" x2="60.30" y2="357.0" stroke="#a0a0a0" stroke-width="0.8"/><line x1="114.60" y1="356.0" x2="114.60" y2="357.0" stroke="#a0a0a0" stroke-width="0.8"/><line x1="168.90" y1="356.0" x2="168.90" y2="357.0" stroke="#a0a0a0" stroke-width="0.8"/><line x1="223.20" y1="356.0" x2="223.20" y2="357.0" stroke="#a0a0a0" stroke-width="0.8"/><line x1="277.50" y1="356.0" x2="277.50" y2="357.0" stroke="#a0a0a0" stroke-width="0.8"/><line x1="331.80" y1="356.0" x2="331.80" y2="357.0" stroke="#a0a0a0" stroke-width="0.8"/><line x1="353.00" y1="356.0" x2="353.00" y2="357.0" stroke="#a0a0a0" stroke-width="0.8"/><line x1="407.30" y1="356.0" x2="407.30" y2="357.0" stroke="#a0a0a0" stroke-width="0.8"/><line x1="461.60" y1="356.0" x2="461.60" y2="357.0" stroke="#a0a0a0" stroke-width="0.8"/><line x1="515.90" y1="356.0" x2="515.90" y2="357.0" stroke="#a0a0a0" stroke-width="0.8"/><line x1="570.20" y1="356.0" x2="570.20" y2="357.0" stroke="#a0a0a0" stroke-width="0.8"/><line x1="624.50" y1="356.0" x2="624.50" y2="357.0" stroke="#a0a0a0" stroke-width="0.8"/><line x1="678.80" y1="356.0" x2="678.80" y2="357.0" stroke="#a0a0a0" stroke-width="0.8"/><text x="332.8" y="300.9" font-size="7.9" text-anchor="end" font-weight="normal" fill="#111" stroke="#111" stroke-width="0.18"  style="">2000 ps</text><text x="679.6" y="300.9" font-size="7.9" text-anchor="end" font-weight="normal" fill="#111" stroke="#111" stroke-width="0.18"  style="">2000 ps</text><path d="M5.0 367.5H333.0" stroke="#555555" stroke-width="1.0" fill="none"/><path d="M5.0 420.5H333.0" stroke="#444444" stroke-width="1.0" fill="none"/><path d="M5.5 367.5V420.5" stroke="#585858" stroke-width="1" fill="none"/><path d="M332.5 367.5V420.5" stroke="#606060" stroke-width="1" fill="none"/><path d="M352.0 367.5H680.1" stroke="#555555" stroke-width="1.0" fill="none"/><path d="M352.0 420.5H680.1" stroke="#444444" stroke-width="1.0" fill="none"/><path d="M352.5 367.5V420.5" stroke="#686868" stroke-width="1" fill="none"/><path d="M679.6 367.5V420.5" stroke="#a8a8a8" stroke-width="1" fill="none"/><line x1="6.00" y1="421.0" x2="6.00" y2="422.0" stroke="#444444" stroke-width="0.8"/><line x1="60.30" y1="421.0" x2="60.30" y2="422.0" stroke="#444444" stroke-width="0.8"/><line x1="114.60" y1="421.0" x2="114.60" y2="422.0" stroke="#444444" stroke-width="0.8"/><line x1="168.90" y1="421.0" x2="168.90" y2="422.0" stroke="#444444" stroke-width="0.8"/><line x1="223.20" y1="421.0" x2="223.20" y2="422.0" stroke="#444444" stroke-width="0.8"/><line x1="277.50" y1="421.0" x2="277.50" y2="422.0" stroke="#444444" stroke-width="0.8"/><line x1="331.80" y1="421.0" x2="331.80" y2="422.0" stroke="#444444" stroke-width="0.8"/><line x1="353.00" y1="421.0" x2="353.00" y2="422.0" stroke="#444444" stroke-width="0.8"/><line x1="407.30" y1="421.0" x2="407.30" y2="422.0" stroke="#444444" stroke-width="0.8"/><line x1="461.60" y1="421.0" x2="461.60" y2="422.0" stroke="#444444" stroke-width="0.8"/><line x1="515.90" y1="421.0" x2="515.90" y2="422.0" stroke="#444444" stroke-width="0.8"/><line x1="570.20" y1="421.0" x2="570.20" y2="422.0" stroke="#444444" stroke-width="0.8"/><line x1="624.50" y1="421.0" x2="624.50" y2="422.0" stroke="#444444" stroke-width="0.8"/><line x1="678.80" y1="421.0" x2="678.80" y2="422.0" stroke="#444444" stroke-width="0.8"/><text x="332.8" y="365.0" font-size="7.9" text-anchor="end" font-weight="normal" fill="#111" stroke="#111" stroke-width="0.18"  style="">Initial</text><text x="679.6" y="365.0" font-size="7.9" text-anchor="end" font-weight="normal" fill="#111" stroke="#111" stroke-width="0.18"  style="">Initial</text><text x="71.2" y="235.2" font-size="10.8" text-anchor="start" font-weight="normal" fill="#222"  style="">Crystalline</text><text x="501.2" y="235.2" font-size="10.8" text-anchor="start" font-weight="normal" fill="#222"  style="">Amorphous</text><text x="6.00" y="428.6" font-size="7.3" text-anchor="middle" font-weight="normal" fill="#111" stroke="#111" stroke-width="0.12"  style="">14</text><text x="353.00" y="428.6" font-size="7.3" text-anchor="middle" font-weight="normal" fill="#111" stroke="#111" stroke-width="0.12"  style="">14</text><text x="60.30" y="428.6" font-size="7.3" text-anchor="middle" font-weight="normal" fill="#111" stroke="#111" stroke-width="0.12"  style="">16</text><text x="407.30" y="428.6" font-size="7.3" text-anchor="middle" font-weight="normal" fill="#111" stroke="#111" stroke-width="0.12"  style="">16</text><text x="114.60" y="428.6" font-size="7.3" text-anchor="middle" font-weight="normal" fill="#111" stroke="#111" stroke-width="0.12"  style="">18</text><text x="461.60" y="428.6" font-size="7.3" text-anchor="middle" font-weight="normal" fill="#111" stroke="#111" stroke-width="0.12"  style="">18</text><text x="168.90" y="428.6" font-size="7.3" text-anchor="middle" font-weight="normal" fill="#111" stroke="#111" stroke-width="0.12"  style="">20</text><text x="515.90" y="428.6" font-size="7.3" text-anchor="middle" font-weight="normal" fill="#111" stroke="#111" stroke-width="0.12"  style="">20</text><text x="223.20" y="428.6" font-size="7.3" text-anchor="middle" font-weight="normal" fill="#111" stroke="#111" stroke-width="0.12"  style="">22</text><text x="570.20" y="428.6" font-size="7.3" text-anchor="middle" font-weight="normal" fill="#111" stroke="#111" stroke-width="0.12"  style="">22</text><text x="277.50" y="428.6" font-size="7.3" text-anchor="middle" font-weight="normal" fill="#111" stroke="#111" stroke-width="0.12"  style="">24</text><text x="624.50" y="428.6" font-size="7.3" text-anchor="middle" font-weight="normal" fill="#111" stroke="#111" stroke-width="0.12"  style="">24</text><text x="331.80" y="428.6" font-size="7.3" text-anchor="middle" font-weight="normal" fill="#111" stroke="#111" stroke-width="0.12"  style="">26</text><text x="678.80" y="428.6" font-size="7.3" text-anchor="middle" font-weight="normal" fill="#111" stroke="#111" stroke-width="0.12"  style="">26</text><text x="168.90" y="437.4" font-size="7.6" text-anchor="middle" fill="#111" stroke="#111" stroke-width="0.15"><tspan font-style="italic">R</tspan><tspan font-style="italic" font-size="5.93" dy="1.14">x</tspan><tspan dy="-1.14"> (nm)</tspan></text><text x="515.90" y="437.4" font-size="7.6" text-anchor="middle" fill="#111" stroke="#111" stroke-width="0.15"><tspan font-style="italic">R</tspan><tspan font-style="italic" font-size="5.93" dy="1.14">x</tspan><tspan dy="-1.14"> (nm)</tspan></text>
<path d="M220.3 307.6 C214.0 301.0,213.6 290.0,219.0 283.5" fill="none" stroke="#808080" stroke-width="2.4" stroke-linecap="butt"/><polygon points="224.2,277.9 214.8,280.6 221.6,287.0" fill="#808080"/><path d="M216.5 372.7 C210.2 366.1,209.8 355.1,215.2 348.6" fill="none" stroke="#808080" stroke-width="2.4" stroke-linecap="butt"/><polygon points="220.4,343.0 211.0,345.7 217.8,352.1" fill="#808080"/><path d="M566.9 307.6 C560.6 301.0,560.2 290.0,565.6 283.5" fill="none" stroke="#808080" stroke-width="2.4" stroke-linecap="butt"/><polygon points="570.8,277.9 561.4,280.6 568.2,287.0" fill="#808080"/><path d="M566.9 373.2 C560.6 366.6,560.2 355.6,565.6 349.1" fill="none" stroke="#808080" stroke-width="2.4" stroke-linecap="butt"/><polygon points="570.8,343.5 561.4,346.2 568.2,352.6" fill="#808080"/>
</svg>
</body></html>
